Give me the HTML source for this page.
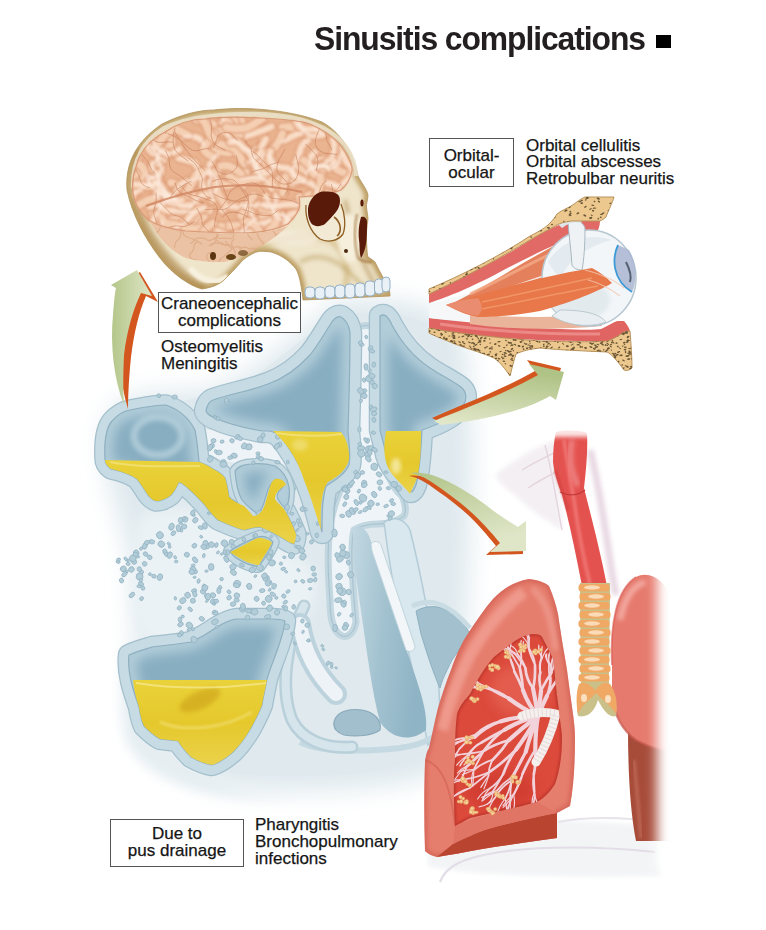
<!DOCTYPE html>
<html><head><meta charset="utf-8">
<style>
html,body{margin:0;padding:0;background:#fff;width:766px;height:930px;overflow:hidden}
body{position:relative;font-family:"Liberation Sans",sans-serif;color:#1a1a1a}
svg{position:absolute;left:0;top:0}
.t{position:absolute;white-space:nowrap;font-size:17px;line-height:16.8px;color:#151515;-webkit-text-stroke:0.25px #151515}
.box{position:absolute;border:1px solid #555;background:#fff;box-sizing:border-box}
.title{position:absolute;left:314px;top:21px;font-size:32.5px;font-weight:bold;letter-spacing:-1.1px;white-space:nowrap;color:#231f20;transform-origin:0 0;transform:scaleX(0.98)}
.sq{position:absolute;left:656px;top:35px;width:15px;height:13px;background:#000}
</style></head><body>
<svg id="art" width="766" height="930" viewBox="0 0 766 930">

<defs>
<filter id="blur2" x="-20%" y="-20%" width="140%" height="140%"><feGaussianBlur stdDeviation="2"/></filter>
<filter id="blur1"><feGaussianBlur stdDeviation="1"/></filter>
<filter id="blur6" x="-30%" y="-30%" width="160%" height="160%"><feGaussianBlur stdDeviation="6"/></filter>
<filter id="blur12" x="-30%" y="-30%" width="160%" height="160%"><feGaussianBlur stdDeviation="12"/></filter>
<linearGradient id="arrowG" x1="0" y1="0" x2="1" y2="0"><stop offset="0" stop-color="#b6c68c"/><stop offset="1" stop-color="#e3e8c8"/></linearGradient>
<linearGradient id="arrowG2" x1="0" y1="1" x2="0" y2="0"><stop offset="0" stop-color="#e0e6c4"/><stop offset="1" stop-color="#b4c48a"/></linearGradient>
<radialGradient id="cavG" cx="0.5" cy="0.5" r="0.65"><stop offset="0" stop-color="#b0cbd8"/><stop offset="0.6" stop-color="#98b9c9"/><stop offset="1" stop-color="#7fa6b9"/></radialGradient>
<linearGradient id="pusG" x1="0" y1="0" x2="0" y2="1"><stop offset="0" stop-color="#ead23a"/><stop offset="0.5" stop-color="#e5c82c"/><stop offset="1" stop-color="#ebd24a"/></linearGradient>
</defs>
<defs><radialGradient id="cavG2" cx="0.75" cy="0.6" r="0.75"><stop offset="0" stop-color="#84aabd"/><stop offset="0.55" stop-color="#98b9c9"/><stop offset="1" stop-color="#b2cbd7"/></radialGradient><linearGradient id="passG" x1="0" y1="0" x2="1" y2="0.3"><stop offset="0" stop-color="#c2d8e2"/><stop offset="0.5" stop-color="#a3c2d0"/><stop offset="1" stop-color="#8fb4c5"/></linearGradient></defs>
<g id="sinus">
<path d="M104,440 C102,412 120,398 145,394 C172,390 200,392 215,388 C260,370 300,330 335,302 C380,294 440,300 462,330 C474,380 474,460 470,540 C468,620 462,700 455,760 C430,790 330,794 240,790 C195,786 160,760 142,700 C134,650 132,600 130,560 C124,530 112,500 106,470 Z" fill="#dfe9ee" filter="url(#blur12)"/>
<path d="M125,420 C135,405 200,400 230,390 C270,372 300,335 340,315 C380,308 430,315 445,340 C455,380 455,460 450,540 C448,620 440,700 430,750 C400,775 330,778 250,775 C205,770 172,745 158,700 C150,650 146,600 144,560 C138,520 126,480 125,420 Z" fill="#dfe9ee"/>
<path d="M130,640 C150,720 190,780 250,792 L300,796 C220,800 150,790 125,740 C118,700 120,660 130,640 Z" fill="#e6eef2" filter="url(#blur6)"/>
<path d="M140,515 C165,505 200,508 230,522 C255,540 300,548 316,575 C320,608 300,636 270,644 C230,640 200,645 170,648 C150,648 138,636 135,610 C132,570 132,540 140,515 Z" fill="#ebf2f5" filter="url(#blur6)"/>
<path d="M205,430 C240,428 285,436 300,450 L302,480 C285,472 250,466 232,462 C220,460 210,456 205,450 Z" fill="#edf3f6"/>
<path d="M356,330 C360,324 372,324 378,330 L381,440 C384,470 392,488 402,496 C406,505 406,512 404,516 C396,522 386,524 378,524 C370,524 360,526 354,530 C350,545 352,580 356,622 C354,633 348,638 342,636 C334,632 330,622 330,600 C328,575 327,550 330,525 C334,505 338,495 345,480 C352,460 354,440 354,420 Z" fill="#eef4f7" stroke="#c2d7e0" stroke-width="7" stroke-linejoin="round"/>
<path d="M356,330 C360,324 372,324 378,330 L381,440 C384,470 392,488 402,496 C406,505 406,512 404,516 C396,522 386,524 378,524 C370,524 360,526 354,530 C350,545 352,580 356,622 C354,633 348,638 342,636 C334,632 330,622 330,600 C328,575 327,550 330,525 C334,505 338,495 345,480 C352,460 354,440 354,420 Z" fill="none" stroke="#a6c1cd" stroke-width="1"/>
<path d="M384,522 C394,516 404,518 410,530 C420,570 430,620 438,680 C442,712 438,735 428,745 C420,705 412,665 402,625 C394,590 388,556 384,522 Z" fill="#d9e8ee" stroke="#b3ccd8" stroke-width="1.5"/>
<path d="M353,530 C358,525 365,527 369,536 C381,570 396,620 410,660 C420,690 428,712 426,730 C412,742 392,740 380,722 C372,692 367,652 362,618 C358,588 352,558 353,530 Z" fill="url(#passG)"/>
<path d="M371,544 C374,540 379,541 381,545 L415,646 C415,651 410,653 406,650 L372,551 Z" fill="#f2f6f8" stroke="#c0d5de" stroke-width="1"/>
<path d="M416,611 C425,606 437,604 451,612 C460,618 466,626 470,634 L452,660 C446,672 442,680 440,688 C432,670 426,650 421,634 Z" fill="#a2c0ce" stroke="#8fb0c0" stroke-width="1"/>
<path d="M412,606 C430,598 448,602 470,628" fill="none" stroke="#c9dce4" stroke-width="5"/>
<path d="M334,722 C336,712 348,708 362,710 C374,712 382,720 380,730 C372,736 356,737 344,735 C337,733 333,728 334,722 Z" fill="#a1bfcd" stroke="#8aaabb" stroke-width="1.2"/>
<path d="M300,742 C320,752 360,752 400,748 C420,745 430,740 436,735" fill="none" stroke="#c5d9e2" stroke-width="6"/>
<path d="M304,606 C286,640 280,690 292,720 C302,740 325,749 352,747" fill="none" stroke="#b9d0da" stroke-width="13" stroke-linecap="round"/>
<path d="M304,606 C286,640 280,690 292,720 C302,740 325,749 352,747" fill="none" stroke="#d5e5eb" stroke-width="8" stroke-linecap="round"/>
<path d="M300,624 C304,652 318,676 336,694" fill="none" stroke="#bcd2dc" stroke-width="22" stroke-linecap="round"/>
<path d="M300,624 C304,652 318,676 336,694" fill="none" stroke="#edf3f6" stroke-width="14" stroke-linecap="round"/>
<clipPath id="cav1"><path d="M105,459 C104,440 106,428 112,421 C118,414 124,411 130,410 C145,407 155,405 166,405 C180,410 190,420 195,430 C197,440 198,450 199,462 C205,464 209,466 213,469 C219,472 223,475 225,478 C227,484 228,490 229,497 C234,502 240,504 244,506 C248,510 251,513 253,516 C256,516 258,515 260,513 C263,510 264,507 265,504 C267,498 268,492 270,487 C271,483 272,481 275,479 C280,478 285,481 286,485 C283,487 281,488 279,490 C276,493 275,496 275,499 C277,503 281,505 284,509 C289,517 293,526 296,534 C296,538 295,542 294,544 C290,543 287,541 284,539 C276,534 268,530 260,527 C254,527 249,529 244,530 C236,528 227,524 218,520 C212,515 208,509 204,504 C199,499 195,494 190,490 C186,486 182,483 179,482 C176,488 174,492 171,495 C166,499 160,501 156,501 C152,500 150,497 148,495 C144,489 141,484 137,479 C130,474 120,471 111,469 C107,466 105,463 105,459 Z"/></clipPath><path d="M105,459 C104,440 106,428 112,421 C118,414 124,411 130,410 C145,407 155,405 166,405 C180,410 190,420 195,430 C197,440 198,450 199,462 C205,464 209,466 213,469 C219,472 223,475 225,478 C227,484 228,490 229,497 C234,502 240,504 244,506 C248,510 251,513 253,516 C256,516 258,515 260,513 C263,510 264,507 265,504 C267,498 268,492 270,487 C271,483 272,481 275,479 C280,478 285,481 286,485 C283,487 281,488 279,490 C276,493 275,496 275,499 C277,503 281,505 284,509 C289,517 293,526 296,534 C296,538 295,542 294,544 C290,543 287,541 284,539 C276,534 268,530 260,527 C254,527 249,529 244,530 C236,528 227,524 218,520 C212,515 208,509 204,504 C199,499 195,494 190,490 C186,486 182,483 179,482 C176,488 174,492 171,495 C166,499 160,501 156,501 C152,500 150,497 148,495 C144,489 141,484 137,479 C130,474 120,471 111,469 C107,466 105,463 105,459 Z" fill="#c7dbe4" stroke="#a3bfcc" stroke-width="21.5" stroke-linejoin="round"/><path d="M105,459 C104,440 106,428 112,421 C118,414 124,411 130,410 C145,407 155,405 166,405 C180,410 190,420 195,430 C197,440 198,450 199,462 C205,464 209,466 213,469 C219,472 223,475 225,478 C227,484 228,490 229,497 C234,502 240,504 244,506 C248,510 251,513 253,516 C256,516 258,515 260,513 C263,510 264,507 265,504 C267,498 268,492 270,487 C271,483 272,481 275,479 C280,478 285,481 286,485 C283,487 281,488 279,490 C276,493 275,496 275,499 C277,503 281,505 284,509 C289,517 293,526 296,534 C296,538 295,542 294,544 C290,543 287,541 284,539 C276,534 268,530 260,527 C254,527 249,529 244,530 C236,528 227,524 218,520 C212,515 208,509 204,504 C199,499 195,494 190,490 C186,486 182,483 179,482 C176,488 174,492 171,495 C166,499 160,501 156,501 C152,500 150,497 148,495 C144,489 141,484 137,479 C130,474 120,471 111,469 C107,466 105,463 105,459 Z" fill="#c7dbe4" stroke="#c7dbe4" stroke-width="19" stroke-linejoin="round"/><path d="M105,459 C104,440 106,428 112,421 C118,414 124,411 130,410 C145,407 155,405 166,405 C180,410 190,420 195,430 C197,440 198,450 199,462 C205,464 209,466 213,469 C219,472 223,475 225,478 C227,484 228,490 229,497 C234,502 240,504 244,506 C248,510 251,513 253,516 C256,516 258,515 260,513 C263,510 264,507 265,504 C267,498 268,492 270,487 C271,483 272,481 275,479 C280,478 285,481 286,485 C283,487 281,488 279,490 C276,493 275,496 275,499 C277,503 281,505 284,509 C289,517 293,526 296,534 C296,538 295,542 294,544 C290,543 287,541 284,539 C276,534 268,530 260,527 C254,527 249,529 244,530 C236,528 227,524 218,520 C212,515 208,509 204,504 C199,499 195,494 190,490 C186,486 182,483 179,482 C176,488 174,492 171,495 C166,499 160,501 156,501 C152,500 150,497 148,495 C144,489 141,484 137,479 C130,474 120,471 111,469 C107,466 105,463 105,459 Z" fill="#88aec1"/><g clip-path="url(#cav1)"><path d="M105,459 C104,440 106,428 112,421 C118,414 124,411 130,410 C145,407 155,405 166,405 C180,410 190,420 195,430 C197,440 198,450 199,462 C205,464 209,466 213,469 C219,472 223,475 225,478 C227,484 228,490 229,497 C234,502 240,504 244,506 C248,510 251,513 253,516 C256,516 258,515 260,513 C263,510 264,507 265,504 C267,498 268,492 270,487 C271,483 272,481 275,479 C280,478 285,481 286,485 C283,487 281,488 279,490 C276,493 275,496 275,499 C277,503 281,505 284,509 C289,517 293,526 296,534 C296,538 295,542 294,544 C290,543 287,541 284,539 C276,534 268,530 260,527 C254,527 249,529 244,530 C236,528 227,524 218,520 C212,515 208,509 204,504 C199,499 195,494 190,490 C186,486 182,483 179,482 C176,488 174,492 171,495 C166,499 160,501 156,501 C152,500 150,497 148,495 C144,489 141,484 137,479 C130,474 120,471 111,469 C107,466 105,463 105,459 Z" fill="none" stroke="#b3ceda" stroke-width="16" filter="url(#blur6)"/></g><path d="M105,459 C104,440 106,428 112,421 C118,414 124,411 130,410 C145,407 155,405 166,405 C180,410 190,420 195,430 C197,440 198,450 199,462 C205,464 209,466 213,469 C219,472 223,475 225,478 C227,484 228,490 229,497 C234,502 240,504 244,506 C248,510 251,513 253,516 C256,516 258,515 260,513 C263,510 264,507 265,504 C267,498 268,492 270,487 C271,483 272,481 275,479 C280,478 285,481 286,485 C283,487 281,488 279,490 C276,493 275,496 275,499 C277,503 281,505 284,509 C289,517 293,526 296,534 C296,538 295,542 294,544 C290,543 287,541 284,539 C276,534 268,530 260,527 C254,527 249,529 244,530 C236,528 227,524 218,520 C212,515 208,509 204,504 C199,499 195,494 190,490 C186,486 182,483 179,482 C176,488 174,492 171,495 C166,499 160,501 156,501 C152,500 150,497 148,495 C144,489 141,484 137,479 C130,474 120,471 111,469 C107,466 105,463 105,459 Z" fill="none" stroke="#8fb0c0" stroke-width="1.2"/>
<ellipse cx="158" cy="436" rx="24" ry="19" fill="none" stroke="#b9d3de" stroke-width="7" opacity="0.75" filter="url(#blur2)"/>
<clipPath id="cav2"><path d="M235,471 C238,466 246,464 251,464 C260,463 268,464 275,466 C282,470 287,476 289,487 C290,495 289,502 286,509 C283,506 281,504 279,501 C276,497 277,492 281,489 C285,486 284,480 276,479 C271,482 268,488 266,496 C264,504 262,510 258,514 C252,510 246,505 242,500 C238,493 236,484 235,471 Z"/></clipPath><path d="M235,471 C238,466 246,464 251,464 C260,463 268,464 275,466 C282,470 287,476 289,487 C290,495 289,502 286,509 C283,506 281,504 279,501 C276,497 277,492 281,489 C285,486 284,480 276,479 C271,482 268,488 266,496 C264,504 262,510 258,514 C252,510 246,505 242,500 C238,493 236,484 235,471 Z" fill="#c7dbe4" stroke="#a3bfcc" stroke-width="11.5" stroke-linejoin="round"/><path d="M235,471 C238,466 246,464 251,464 C260,463 268,464 275,466 C282,470 287,476 289,487 C290,495 289,502 286,509 C283,506 281,504 279,501 C276,497 277,492 281,489 C285,486 284,480 276,479 C271,482 268,488 266,496 C264,504 262,510 258,514 C252,510 246,505 242,500 C238,493 236,484 235,471 Z" fill="#c7dbe4" stroke="#c7dbe4" stroke-width="9" stroke-linejoin="round"/><path d="M235,471 C238,466 246,464 251,464 C260,463 268,464 275,466 C282,470 287,476 289,487 C290,495 289,502 286,509 C283,506 281,504 279,501 C276,497 277,492 281,489 C285,486 284,480 276,479 C271,482 268,488 266,496 C264,504 262,510 258,514 C252,510 246,505 242,500 C238,493 236,484 235,471 Z" fill="#88aec1"/><g clip-path="url(#cav2)"><path d="M235,471 C238,466 246,464 251,464 C260,463 268,464 275,466 C282,470 287,476 289,487 C290,495 289,502 286,509 C283,506 281,504 279,501 C276,497 277,492 281,489 C285,486 284,480 276,479 C271,482 268,488 266,496 C264,504 262,510 258,514 C252,510 246,505 242,500 C238,493 236,484 235,471 Z" fill="none" stroke="#b3ceda" stroke-width="16" filter="url(#blur6)"/></g><path d="M235,471 C238,466 246,464 251,464 C260,463 268,464 275,466 C282,470 287,476 289,487 C290,495 289,502 286,509 C283,506 281,504 279,501 C276,497 277,492 281,489 C285,486 284,480 276,479 C271,482 268,488 266,496 C264,504 262,510 258,514 C252,510 246,505 242,500 C238,493 236,484 235,471 Z" fill="none" stroke="#8fb0c0" stroke-width="1.2"/>
<clipPath id="cav3"><path d="M230,551 C238,545 250,540 258,537 C264,535 270,538 273,542 C271,550 265,558 259,566 C252,567 244,563 236,558 C233,556 231,553 230,551 Z"/></clipPath><path d="M230,551 C238,545 250,540 258,537 C264,535 270,538 273,542 C271,550 265,558 259,566 C252,567 244,563 236,558 C233,556 231,553 230,551 Z" fill="#c7dbe4" stroke="#a3bfcc" stroke-width="13.5" stroke-linejoin="round"/><path d="M230,551 C238,545 250,540 258,537 C264,535 270,538 273,542 C271,550 265,558 259,566 C252,567 244,563 236,558 C233,556 231,553 230,551 Z" fill="#c7dbe4" stroke="#c7dbe4" stroke-width="11" stroke-linejoin="round"/><path d="M230,551 C238,545 250,540 258,537 C264,535 270,538 273,542 C271,550 265,558 259,566 C252,567 244,563 236,558 C233,556 231,553 230,551 Z" fill="#88aec1"/><g clip-path="url(#cav3)"><path d="M230,551 C238,545 250,540 258,537 C264,535 270,538 273,542 C271,550 265,558 259,566 C252,567 244,563 236,558 C233,556 231,553 230,551 Z" fill="none" stroke="#b3ceda" stroke-width="16" filter="url(#blur6)"/></g><path d="M230,551 C238,545 250,540 258,537 C264,535 270,538 273,542 C271,550 265,558 259,566 C252,567 244,563 236,558 C233,556 231,553 230,551 Z" fill="none" stroke="#8fb0c0" stroke-width="1.2"/>
<clipPath id="cav4"><path d="M206,411 C207,405 210,401 213,400 C230,394 250,391 268,384 C285,378 300,366 310,355 C318,345 324,334 330,325 C334,318 338,316 341,317 C346,320 349,325 350,333 C350,360 349,400 348,431 C349,445 351,455 349,465 C345,474 336,480 326,486 C322,500 322,515 322,532 C318,515 314,498 306,480 C300,466 292,450 280,436 C276,433 272,431 268,431 L262,431 C245,428 228,424 215,418 C210,416 207,414 206,411 Z"/></clipPath><path d="M206,411 C207,405 210,401 213,400 C230,394 250,391 268,384 C285,378 300,366 310,355 C318,345 324,334 330,325 C334,318 338,316 341,317 C346,320 349,325 350,333 C350,360 349,400 348,431 C349,445 351,455 349,465 C345,474 336,480 326,486 C322,500 322,515 322,532 C318,515 314,498 306,480 C300,466 292,450 280,436 C276,433 272,431 268,431 L262,431 C245,428 228,424 215,418 C210,416 207,414 206,411 Z" fill="#c7dbe4" stroke="#a3bfcc" stroke-width="24.5" stroke-linejoin="round"/><path d="M206,411 C207,405 210,401 213,400 C230,394 250,391 268,384 C285,378 300,366 310,355 C318,345 324,334 330,325 C334,318 338,316 341,317 C346,320 349,325 350,333 C350,360 349,400 348,431 C349,445 351,455 349,465 C345,474 336,480 326,486 C322,500 322,515 322,532 C318,515 314,498 306,480 C300,466 292,450 280,436 C276,433 272,431 268,431 L262,431 C245,428 228,424 215,418 C210,416 207,414 206,411 Z" fill="#c7dbe4" stroke="#c7dbe4" stroke-width="22" stroke-linejoin="round"/><path d="M206,411 C207,405 210,401 213,400 C230,394 250,391 268,384 C285,378 300,366 310,355 C318,345 324,334 330,325 C334,318 338,316 341,317 C346,320 349,325 350,333 C350,360 349,400 348,431 C349,445 351,455 349,465 C345,474 336,480 326,486 C322,500 322,515 322,532 C318,515 314,498 306,480 C300,466 292,450 280,436 C276,433 272,431 268,431 L262,431 C245,428 228,424 215,418 C210,416 207,414 206,411 Z" fill="#88aec1"/><g clip-path="url(#cav4)"><path d="M206,411 C207,405 210,401 213,400 C230,394 250,391 268,384 C285,378 300,366 310,355 C318,345 324,334 330,325 C334,318 338,316 341,317 C346,320 349,325 350,333 C350,360 349,400 348,431 C349,445 351,455 349,465 C345,474 336,480 326,486 C322,500 322,515 322,532 C318,515 314,498 306,480 C300,466 292,450 280,436 C276,433 272,431 268,431 L262,431 C245,428 228,424 215,418 C210,416 207,414 206,411 Z" fill="none" stroke="#b3ceda" stroke-width="16" filter="url(#blur6)"/></g><path d="M206,411 C207,405 210,401 213,400 C230,394 250,391 268,384 C285,378 300,366 310,355 C318,345 324,334 330,325 C334,318 338,316 341,317 C346,320 349,325 350,333 C350,360 349,400 348,431 C349,445 351,455 349,465 C345,474 336,480 326,486 C322,500 322,515 322,532 C318,515 314,498 306,480 C300,466 292,450 280,436 C276,433 272,431 268,431 L262,431 C245,428 228,424 215,418 C210,416 207,414 206,411 Z" fill="none" stroke="#8fb0c0" stroke-width="1.2"/>
<clipPath id="cav5"><path d="M380,316 C384,313 388,316 392,325 C400,340 412,356 430,368 C442,376 455,382 462,388 C467,393 467,400 463,406 C455,416 440,424 422,430 C421,450 420,470 416,485 C414,490 412,492 411,492 C406,485 402,478 395,472 C390,465 386,458 385,450 C383,440 381,435 380,430 Z"/></clipPath><path d="M380,316 C384,313 388,316 392,325 C400,340 412,356 430,368 C442,376 455,382 462,388 C467,393 467,400 463,406 C455,416 440,424 422,430 C421,450 420,470 416,485 C414,490 412,492 411,492 C406,485 402,478 395,472 C390,465 386,458 385,450 C383,440 381,435 380,430 Z" fill="#c7dbe4" stroke="#a3bfcc" stroke-width="22.5" stroke-linejoin="round"/><path d="M380,316 C384,313 388,316 392,325 C400,340 412,356 430,368 C442,376 455,382 462,388 C467,393 467,400 463,406 C455,416 440,424 422,430 C421,450 420,470 416,485 C414,490 412,492 411,492 C406,485 402,478 395,472 C390,465 386,458 385,450 C383,440 381,435 380,430 Z" fill="#c7dbe4" stroke="#c7dbe4" stroke-width="20" stroke-linejoin="round"/><path d="M380,316 C384,313 388,316 392,325 C400,340 412,356 430,368 C442,376 455,382 462,388 C467,393 467,400 463,406 C455,416 440,424 422,430 C421,450 420,470 416,485 C414,490 412,492 411,492 C406,485 402,478 395,472 C390,465 386,458 385,450 C383,440 381,435 380,430 Z" fill="#88aec1"/><g clip-path="url(#cav5)"><path d="M380,316 C384,313 388,316 392,325 C400,340 412,356 430,368 C442,376 455,382 462,388 C467,393 467,400 463,406 C455,416 440,424 422,430 C421,450 420,470 416,485 C414,490 412,492 411,492 C406,485 402,478 395,472 C390,465 386,458 385,450 C383,440 381,435 380,430 Z" fill="none" stroke="#b3ceda" stroke-width="16" filter="url(#blur6)"/></g><path d="M380,316 C384,313 388,316 392,325 C400,340 412,356 430,368 C442,376 455,382 462,388 C467,393 467,400 463,406 C455,416 440,424 422,430 C421,450 420,470 416,485 C414,490 412,492 411,492 C406,485 402,478 395,472 C390,465 386,458 385,450 C383,440 381,435 380,430 Z" fill="none" stroke="#8fb0c0" stroke-width="1.2"/>
<clipPath id="cav6"><path d="M129,655 C140,650 150,648 152,647 C170,645 185,643 191,642 C200,638 210,632 217,627 C225,622 230,620 236,619 C250,619 262,619 272,619 C278,619 283,620 285,621 C284,630 282,636 280,642 C276,655 270,668 267,679 C265,690 263,698 262,705 C258,715 254,722 251,728 C245,738 240,745 233,752 C226,758 219,763 212,765 C205,764 198,761 191,757 C186,752 181,746 178,741 C172,740 166,740 160,739 C153,735 148,730 144,726 C141,720 140,713 139,707 C136,698 133,690 131,681 C129,672 128,663 129,655 Z"/></clipPath><path d="M129,655 C140,650 150,648 152,647 C170,645 185,643 191,642 C200,638 210,632 217,627 C225,622 230,620 236,619 C250,619 262,619 272,619 C278,619 283,620 285,621 C284,630 282,636 280,642 C276,655 270,668 267,679 C265,690 263,698 262,705 C258,715 254,722 251,728 C245,738 240,745 233,752 C226,758 219,763 212,765 C205,764 198,761 191,757 C186,752 181,746 178,741 C172,740 166,740 160,739 C153,735 148,730 144,726 C141,720 140,713 139,707 C136,698 133,690 131,681 C129,672 128,663 129,655 Z" fill="#c7dbe4" stroke="#a3bfcc" stroke-width="22.5" stroke-linejoin="round"/><path d="M129,655 C140,650 150,648 152,647 C170,645 185,643 191,642 C200,638 210,632 217,627 C225,622 230,620 236,619 C250,619 262,619 272,619 C278,619 283,620 285,621 C284,630 282,636 280,642 C276,655 270,668 267,679 C265,690 263,698 262,705 C258,715 254,722 251,728 C245,738 240,745 233,752 C226,758 219,763 212,765 C205,764 198,761 191,757 C186,752 181,746 178,741 C172,740 166,740 160,739 C153,735 148,730 144,726 C141,720 140,713 139,707 C136,698 133,690 131,681 C129,672 128,663 129,655 Z" fill="#c7dbe4" stroke="#c7dbe4" stroke-width="20" stroke-linejoin="round"/><path d="M129,655 C140,650 150,648 152,647 C170,645 185,643 191,642 C200,638 210,632 217,627 C225,622 230,620 236,619 C250,619 262,619 272,619 C278,619 283,620 285,621 C284,630 282,636 280,642 C276,655 270,668 267,679 C265,690 263,698 262,705 C258,715 254,722 251,728 C245,738 240,745 233,752 C226,758 219,763 212,765 C205,764 198,761 191,757 C186,752 181,746 178,741 C172,740 166,740 160,739 C153,735 148,730 144,726 C141,720 140,713 139,707 C136,698 133,690 131,681 C129,672 128,663 129,655 Z" fill="#88aec1"/><g clip-path="url(#cav6)"><path d="M129,655 C140,650 150,648 152,647 C170,645 185,643 191,642 C200,638 210,632 217,627 C225,622 230,620 236,619 C250,619 262,619 272,619 C278,619 283,620 285,621 C284,630 282,636 280,642 C276,655 270,668 267,679 C265,690 263,698 262,705 C258,715 254,722 251,728 C245,738 240,745 233,752 C226,758 219,763 212,765 C205,764 198,761 191,757 C186,752 181,746 178,741 C172,740 166,740 160,739 C153,735 148,730 144,726 C141,720 140,713 139,707 C136,698 133,690 131,681 C129,672 128,663 129,655 Z" fill="none" stroke="#b3ceda" stroke-width="16" filter="url(#blur6)"/></g><path d="M129,655 C140,650 150,648 152,647 C170,645 185,643 191,642 C200,638 210,632 217,627 C225,622 230,620 236,619 C250,619 262,619 272,619 C278,619 283,620 285,621 C284,630 282,636 280,642 C276,655 270,668 267,679 C265,690 263,698 262,705 C258,715 254,722 251,728 C245,738 240,745 233,752 C226,758 219,763 212,765 C205,764 198,761 191,757 C186,752 181,746 178,741 C172,740 166,740 160,739 C153,735 148,730 144,726 C141,720 140,713 139,707 C136,698 133,690 131,681 C129,672 128,663 129,655 Z" fill="none" stroke="#8fb0c0" stroke-width="1.2"/>
<g fill="#b2ccd8" stroke="#8fb0c0" stroke-width="0.7"><ellipse cx="242.6" cy="608.9" rx="3.2" ry="3.1" transform="rotate(133 242.6 608.9)"/><ellipse cx="302.5" cy="509.1" rx="2.5" ry="2.4" transform="rotate(117 302.5 509.1)"/><ellipse cx="298.2" cy="520.8" rx="2.5" ry="1.7" transform="rotate(98 298.2 520.8)"/><ellipse cx="161.3" cy="544.1" rx="3.4" ry="3.1" transform="rotate(29 161.3 544.1)"/><ellipse cx="159.9" cy="535.2" rx="3.6" ry="3.4" transform="rotate(52 159.9 535.2)"/><ellipse cx="310.3" cy="580.5" rx="2.9" ry="2.0" transform="rotate(169 310.3 580.5)"/><ellipse cx="296.7" cy="546.8" rx="2.3" ry="1.5" transform="rotate(26 296.7 546.8)"/><ellipse cx="180.0" cy="619.6" rx="2.5" ry="1.8" transform="rotate(87 180.0 619.6)"/><ellipse cx="258.9" cy="513.0" rx="3.5" ry="2.2" transform="rotate(135 258.9 513.0)"/><ellipse cx="287.0" cy="507.5" rx="3.2" ry="2.4" transform="rotate(104 287.0 507.5)"/><ellipse cx="186.9" cy="554.7" rx="2.6" ry="2.4" transform="rotate(19 186.9 554.7)"/><ellipse cx="267.7" cy="616.6" rx="3.3" ry="2.0" transform="rotate(170 267.7 616.6)"/><ellipse cx="136.2" cy="552.7" rx="2.8" ry="2.7" transform="rotate(61 136.2 552.7)"/><ellipse cx="302.8" cy="581.3" rx="2.2" ry="1.6" transform="rotate(32 302.8 581.3)"/><ellipse cx="315.3" cy="579.7" rx="2.4" ry="1.6" transform="rotate(107 315.3 579.7)"/><ellipse cx="283.3" cy="568.8" rx="2.4" ry="1.5" transform="rotate(165 283.3 568.8)"/><ellipse cx="124.5" cy="574.1" rx="3.3" ry="2.1" transform="rotate(132 124.5 574.1)"/><ellipse cx="204.9" cy="525.9" rx="3.3" ry="2.4" transform="rotate(82 204.9 525.9)"/><ellipse cx="313.2" cy="568.5" rx="2.5" ry="2.3" transform="rotate(86 313.2 568.5)"/><ellipse cx="176.2" cy="561.5" rx="1.8" ry="1.4" transform="rotate(178 176.2 561.5)"/><ellipse cx="217.9" cy="552.4" rx="1.7" ry="1.2" transform="rotate(141 217.9 552.4)"/><ellipse cx="291.5" cy="555.6" rx="3.2" ry="2.9" transform="rotate(125 291.5 555.6)"/><ellipse cx="250.8" cy="611.3" rx="2.3" ry="2.0" transform="rotate(51 250.8 611.3)"/><ellipse cx="215.1" cy="612.8" rx="3.0" ry="2.1" transform="rotate(170 215.1 612.8)"/><ellipse cx="247.9" cy="586.3" rx="1.5" ry="1.2" transform="rotate(45 247.9 586.3)"/><ellipse cx="252.3" cy="569.8" rx="3.2" ry="2.8" transform="rotate(144 252.3 569.8)"/><ellipse cx="187.6" cy="595.2" rx="3.0" ry="2.8" transform="rotate(63 187.6 595.2)"/><ellipse cx="286.6" cy="626.8" rx="2.9" ry="2.9" transform="rotate(172 286.6 626.8)"/><ellipse cx="221.6" cy="579.1" rx="1.8" ry="1.7" transform="rotate(169 221.6 579.1)"/><ellipse cx="213.4" cy="601.8" rx="3.0" ry="2.7" transform="rotate(31 213.4 601.8)"/><ellipse cx="274.1" cy="586.3" rx="2.9" ry="2.2" transform="rotate(112 274.1 586.3)"/><ellipse cx="272.9" cy="594.2" rx="3.0" ry="1.8" transform="rotate(29 272.9 594.2)"/><ellipse cx="206.2" cy="596.0" rx="2.0" ry="1.7" transform="rotate(114 206.2 596.0)"/><ellipse cx="126.4" cy="571.0" rx="2.0" ry="1.2" transform="rotate(24 126.4 571.0)"/><ellipse cx="181.5" cy="530.4" rx="1.9" ry="1.2" transform="rotate(84 181.5 530.4)"/><ellipse cx="194.1" cy="590.7" rx="2.7" ry="1.9" transform="rotate(163 194.1 590.7)"/><ellipse cx="118.1" cy="561.8" rx="2.1" ry="1.6" transform="rotate(21 118.1 561.8)"/><ellipse cx="284.3" cy="557.3" rx="1.6" ry="1.3" transform="rotate(17 284.3 557.3)"/><ellipse cx="227.0" cy="552.5" rx="2.7" ry="2.7" transform="rotate(147 227.0 552.5)"/><ellipse cx="201.8" cy="618.8" rx="2.8" ry="2.1" transform="rotate(26 201.8 618.8)"/><ellipse cx="237.2" cy="583.9" rx="3.5" ry="3.5" transform="rotate(110 237.2 583.9)"/><ellipse cx="188.2" cy="630.1" rx="1.5" ry="1.0" transform="rotate(102 188.2 630.1)"/><ellipse cx="193.2" cy="565.4" rx="2.0" ry="1.4" transform="rotate(175 193.2 565.4)"/><ellipse cx="194.0" cy="639.6" rx="3.4" ry="2.9" transform="rotate(47 194.0 639.6)"/><ellipse cx="314.2" cy="574.5" rx="2.4" ry="1.7" transform="rotate(177 314.2 574.5)"/><ellipse cx="216.4" cy="545.1" rx="2.5" ry="1.6" transform="rotate(112 216.4 545.1)"/><ellipse cx="206.7" cy="546.0" rx="3.1" ry="2.9" transform="rotate(2 206.7 546.0)"/><ellipse cx="224.5" cy="543.3" rx="3.5" ry="3.2" transform="rotate(44 224.5 543.3)"/><ellipse cx="171.5" cy="526.7" rx="3.6" ry="2.6" transform="rotate(109 171.5 526.7)"/><ellipse cx="212.9" cy="595.3" rx="2.8" ry="2.5" transform="rotate(21 212.9 595.3)"/><ellipse cx="224.7" cy="552.1" rx="2.1" ry="1.7" transform="rotate(84 224.7 552.1)"/><ellipse cx="190.2" cy="609.3" rx="2.7" ry="1.7" transform="rotate(45 190.2 609.3)"/><ellipse cx="295.6" cy="581.4" rx="1.5" ry="1.4" transform="rotate(77 295.6 581.4)"/><ellipse cx="233.1" cy="604.1" rx="2.8" ry="2.2" transform="rotate(164 233.1 604.1)"/><ellipse cx="195.1" cy="559.9" rx="3.3" ry="2.2" transform="rotate(53 195.1 559.9)"/><ellipse cx="285.3" cy="602.2" rx="2.4" ry="1.7" transform="rotate(141 285.3 602.2)"/><ellipse cx="300.1" cy="525.0" rx="2.5" ry="2.1" transform="rotate(90 300.1 525.0)"/><ellipse cx="184.1" cy="526.5" rx="2.7" ry="2.5" transform="rotate(12 184.1 526.5)"/><ellipse cx="276.4" cy="597.9" rx="1.6" ry="1.4" transform="rotate(176 276.4 597.9)"/><ellipse cx="144.9" cy="545.9" rx="3.4" ry="2.3" transform="rotate(110 144.9 545.9)"/><ellipse cx="200.8" cy="527.6" rx="2.8" ry="1.7" transform="rotate(19 200.8 527.6)"/><ellipse cx="193.8" cy="515.1" rx="1.6" ry="1.3" transform="rotate(134 193.8 515.1)"/><ellipse cx="293.7" cy="523.8" rx="2.4" ry="1.7" transform="rotate(108 293.7 523.8)"/><ellipse cx="192.8" cy="512.8" rx="3.0" ry="2.0" transform="rotate(114 192.8 512.8)"/><ellipse cx="229.0" cy="591.9" rx="2.1" ry="1.7" transform="rotate(46 229.0 591.9)"/><ellipse cx="268.1" cy="577.4" rx="1.8" ry="1.2" transform="rotate(67 268.1 577.4)"/><ellipse cx="265.4" cy="530.1" rx="3.0" ry="2.6" transform="rotate(15 265.4 530.1)"/><ellipse cx="143.0" cy="588.2" rx="2.0" ry="1.9" transform="rotate(86 143.0 588.2)"/><ellipse cx="182.7" cy="616.5" rx="1.6" ry="1.4" transform="rotate(10 182.7 616.5)"/><ellipse cx="254.2" cy="536.2" rx="1.7" ry="1.7" transform="rotate(120 254.2 536.2)"/><ellipse cx="165.0" cy="551.7" rx="2.8" ry="2.1" transform="rotate(69 165.0 551.7)"/><ellipse cx="247.6" cy="617.6" rx="2.4" ry="2.3" transform="rotate(93 247.6 617.6)"/><ellipse cx="236.5" cy="585.3" rx="3.1" ry="2.3" transform="rotate(17 236.5 585.3)"/><ellipse cx="214.2" cy="611.4" rx="1.5" ry="1.2" transform="rotate(160 214.2 611.4)"/><ellipse cx="241.9" cy="565.0" rx="2.5" ry="1.6" transform="rotate(28 241.9 565.0)"/><ellipse cx="149.8" cy="557.4" rx="2.3" ry="2.2" transform="rotate(27 149.8 557.4)"/><ellipse cx="168.8" cy="543.8" rx="1.8" ry="1.3" transform="rotate(42 168.8 543.8)"/><ellipse cx="302.9" cy="556.7" rx="3.5" ry="3.0" transform="rotate(121 302.9 556.7)"/><ellipse cx="141.6" cy="598.6" rx="2.1" ry="1.8" transform="rotate(131 141.6 598.6)"/><ellipse cx="133.6" cy="561.1" rx="3.5" ry="2.6" transform="rotate(56 133.6 561.1)"/><ellipse cx="211.6" cy="544.6" rx="3.0" ry="2.7" transform="rotate(29 211.6 544.6)"/><ellipse cx="273.9" cy="562.4" rx="1.6" ry="1.3" transform="rotate(178 273.9 562.4)"/><ellipse cx="221.8" cy="554.0" rx="1.7" ry="1.1" transform="rotate(162 221.8 554.0)"/><ellipse cx="128.1" cy="560.6" rx="1.6" ry="1.1" transform="rotate(73 128.1 560.6)"/><ellipse cx="153.9" cy="576.2" rx="2.3" ry="1.9" transform="rotate(15 153.9 576.2)"/><ellipse cx="180.8" cy="520.1" rx="2.6" ry="2.6" transform="rotate(108 180.8 520.1)"/><ellipse cx="121.5" cy="580.5" rx="2.5" ry="2.1" transform="rotate(68 121.5 580.5)"/><ellipse cx="243.0" cy="606.6" rx="3.4" ry="2.5" transform="rotate(81 243.0 606.6)"/><ellipse cx="141.1" cy="548.6" rx="1.7" ry="1.5" transform="rotate(147 141.1 548.6)"/><ellipse cx="180.6" cy="523.2" rx="1.7" ry="1.2" transform="rotate(15 180.6 523.2)"/><ellipse cx="203.7" cy="585.8" rx="2.0" ry="1.3" transform="rotate(126 203.7 585.8)"/><ellipse cx="175.2" cy="557.3" rx="1.7" ry="1.3" transform="rotate(57 175.2 557.3)"/><ellipse cx="268.5" cy="582.9" rx="3.4" ry="2.9" transform="rotate(137 268.5 582.9)"/><ellipse cx="232.9" cy="566.9" rx="3.2" ry="2.8" transform="rotate(172 232.9 566.9)"/><ellipse cx="263.6" cy="603.2" rx="2.1" ry="1.9" transform="rotate(69 263.6 603.2)"/><ellipse cx="151.9" cy="541.8" rx="2.9" ry="2.1" transform="rotate(11 151.9 541.8)"/><ellipse cx="270.8" cy="583.0" rx="1.6" ry="1.0" transform="rotate(23 270.8 583.0)"/><ellipse cx="189.4" cy="625.4" rx="3.5" ry="3.0" transform="rotate(42 189.4 625.4)"/><ellipse cx="203.8" cy="555.7" rx="2.2" ry="1.3" transform="rotate(105 203.8 555.7)"/><ellipse cx="283.4" cy="606.8" rx="1.7" ry="1.4" transform="rotate(31 283.4 606.8)"/><ellipse cx="259.9" cy="567.5" rx="3.5" ry="3.2" transform="rotate(21 259.9 567.5)"/><ellipse cx="181.4" cy="633.1" rx="2.5" ry="1.9" transform="rotate(79 181.4 633.1)"/><ellipse cx="280.9" cy="563.7" rx="1.6" ry="1.6" transform="rotate(6 280.9 563.7)"/><ellipse cx="233.4" cy="572.5" rx="3.4" ry="2.5" transform="rotate(39 233.4 572.5)"/><ellipse cx="173.4" cy="533.2" rx="2.7" ry="2.0" transform="rotate(135 173.4 533.2)"/><ellipse cx="166.3" cy="554.2" rx="2.0" ry="2.0" transform="rotate(151 166.3 554.2)"/><ellipse cx="288.0" cy="591.5" rx="2.3" ry="1.5" transform="rotate(150 288.0 591.5)"/><ellipse cx="182.8" cy="600.6" rx="3.3" ry="2.8" transform="rotate(144 182.8 600.6)"/><ellipse cx="220.3" cy="587.1" rx="1.9" ry="1.4" transform="rotate(57 220.3 587.1)"/><ellipse cx="194.6" cy="571.7" rx="3.0" ry="2.3" transform="rotate(177 194.6 571.7)"/><ellipse cx="256.6" cy="598.8" rx="2.6" ry="2.4" transform="rotate(65 256.6 598.8)"/><ellipse cx="236.7" cy="600.1" rx="2.6" ry="1.9" transform="rotate(14 236.7 600.1)"/><ellipse cx="135.5" cy="554.8" rx="2.7" ry="2.5" transform="rotate(129 135.5 554.8)"/><ellipse cx="179.4" cy="635.1" rx="2.1" ry="1.8" transform="rotate(13 179.4 635.1)"/><ellipse cx="268.7" cy="598.8" rx="3.5" ry="3.4" transform="rotate(124 268.7 598.8)"/><ellipse cx="285.7" cy="608.4" rx="2.8" ry="1.9" transform="rotate(93 285.7 608.4)"/><ellipse cx="297.2" cy="538.5" rx="3.5" ry="2.9" transform="rotate(71 297.2 538.5)"/><ellipse cx="118.6" cy="559.6" rx="1.9" ry="1.6" transform="rotate(162 118.6 559.6)"/><ellipse cx="195.3" cy="520.2" rx="2.9" ry="2.4" transform="rotate(129 195.3 520.2)"/><ellipse cx="192.8" cy="629.1" rx="1.9" ry="1.4" transform="rotate(48 192.8 629.1)"/><ellipse cx="271.3" cy="536.5" rx="1.6" ry="1.3" transform="rotate(149 271.3 536.5)"/><ellipse cx="293.7" cy="606.9" rx="2.4" ry="1.8" transform="rotate(95 293.7 606.9)"/><ellipse cx="298.9" cy="547.3" rx="2.1" ry="1.8" transform="rotate(174 298.9 547.3)"/><ellipse cx="141.1" cy="583.8" rx="2.8" ry="1.9" transform="rotate(34 141.1 583.8)"/><ellipse cx="236.9" cy="595.5" rx="2.9" ry="2.6" transform="rotate(11 236.9 595.5)"/><ellipse cx="214.9" cy="621.8" rx="3.5" ry="2.6" transform="rotate(153 214.9 621.8)"/><ellipse cx="286.1" cy="571.7" rx="1.7" ry="1.2" transform="rotate(28 286.1 571.7)"/><ellipse cx="269.6" cy="608.1" rx="3.2" ry="3.0" transform="rotate(128 269.6 608.1)"/><ellipse cx="192.9" cy="569.2" rx="2.9" ry="2.6" transform="rotate(15 192.9 569.2)"/><ellipse cx="198.6" cy="581.1" rx="2.3" ry="1.5" transform="rotate(107 198.6 581.1)"/><ellipse cx="192.9" cy="600.7" rx="2.5" ry="2.5" transform="rotate(170 192.9 600.7)"/><ellipse cx="141.4" cy="572.1" rx="2.2" ry="2.0" transform="rotate(165 141.4 572.1)"/><ellipse cx="194.4" cy="545.7" rx="2.5" ry="2.2" transform="rotate(142 194.4 545.7)"/><ellipse cx="233.1" cy="546.4" rx="2.2" ry="2.1" transform="rotate(93 233.1 546.4)"/><ellipse cx="128.1" cy="563.9" rx="2.0" ry="1.7" transform="rotate(13 128.1 563.9)"/><ellipse cx="226.3" cy="559.1" rx="3.5" ry="2.2" transform="rotate(64 226.3 559.1)"/><ellipse cx="271.2" cy="555.5" rx="1.5" ry="1.1" transform="rotate(82 271.2 555.5)"/><ellipse cx="194.6" cy="577.3" rx="1.6" ry="1.1" transform="rotate(175 194.6 577.3)"/><ellipse cx="206.5" cy="571.1" rx="1.7" ry="1.2" transform="rotate(172 206.5 571.1)"/><ellipse cx="255.4" cy="576.1" rx="1.6" ry="1.2" transform="rotate(140 255.4 576.1)"/><ellipse cx="204.9" cy="588.1" rx="3.4" ry="2.9" transform="rotate(114 204.9 588.1)"/><ellipse cx="271.9" cy="562.9" rx="3.3" ry="3.1" transform="rotate(165 271.9 562.9)"/><ellipse cx="316.8" cy="535.3" rx="2.4" ry="1.7" transform="rotate(85 316.8 535.3)"/><ellipse cx="175.3" cy="598.3" rx="1.8" ry="1.2" transform="rotate(82 175.3 598.3)"/><ellipse cx="132.8" cy="558.4" rx="3.4" ry="3.2" transform="rotate(35 132.8 558.4)"/><ellipse cx="310.2" cy="588.8" rx="1.8" ry="1.2" transform="rotate(166 310.2 588.8)"/><ellipse cx="305.5" cy="509.4" rx="1.9" ry="1.5" transform="rotate(48 305.5 509.4)"/><ellipse cx="268.8" cy="557.2" rx="3.1" ry="2.1" transform="rotate(93 268.8 557.2)"/><ellipse cx="191.7" cy="571.9" rx="2.7" ry="2.7" transform="rotate(43 191.7 571.9)"/><ellipse cx="231.7" cy="541.8" rx="2.6" ry="2.4" transform="rotate(24 231.7 541.8)"/><ellipse cx="214.2" cy="603.8" rx="1.5" ry="1.4" transform="rotate(75 214.2 603.8)"/><ellipse cx="218.8" cy="590.5" rx="3.2" ry="2.0" transform="rotate(90 218.8 590.5)"/><ellipse cx="125.7" cy="559.0" rx="2.2" ry="1.4" transform="rotate(54 125.7 559.0)"/><ellipse cx="208.0" cy="596.7" rx="3.4" ry="2.6" transform="rotate(95 208.0 596.7)"/><ellipse cx="178.4" cy="528.3" rx="3.5" ry="2.2" transform="rotate(81 178.4 528.3)"/><ellipse cx="265.2" cy="579.0" rx="2.3" ry="2.2" transform="rotate(54 265.2 579.0)"/><ellipse cx="145.6" cy="554.1" rx="2.5" ry="2.1" transform="rotate(37 145.6 554.1)"/><ellipse cx="208.8" cy="513.4" rx="1.7" ry="1.2" transform="rotate(26 208.8 513.4)"/><ellipse cx="311.5" cy="541.9" rx="2.1" ry="1.9" transform="rotate(133 311.5 541.9)"/><ellipse cx="243.8" cy="539.4" rx="2.1" ry="2.0" transform="rotate(79 243.8 539.4)"/><ellipse cx="297.5" cy="529.8" rx="1.8" ry="1.1" transform="rotate(133 297.5 529.8)"/><ellipse cx="216.9" cy="627.0" rx="1.6" ry="1.3" transform="rotate(21 216.9 627.0)"/><ellipse cx="262.2" cy="590.6" rx="2.8" ry="1.9" transform="rotate(171 262.2 590.6)"/><ellipse cx="131.4" cy="569.4" rx="2.9" ry="2.7" transform="rotate(130 131.4 569.4)"/><ellipse cx="131.9" cy="595.0" rx="3.3" ry="2.1" transform="rotate(136 131.9 595.0)"/><ellipse cx="169.7" cy="546.8" rx="1.5" ry="1.4" transform="rotate(93 169.7 546.8)"/><ellipse cx="298.4" cy="570.2" rx="1.8" ry="1.3" transform="rotate(47 298.4 570.2)"/><ellipse cx="307.4" cy="533.7" rx="1.7" ry="1.2" transform="rotate(14 307.4 533.7)"/><ellipse cx="203.0" cy="592.0" rx="2.9" ry="1.9" transform="rotate(25 203.0 592.0)"/><ellipse cx="216.2" cy="601.2" rx="2.4" ry="2.0" transform="rotate(164 216.2 601.2)"/><ellipse cx="147.0" cy="542.5" rx="2.5" ry="2.1" transform="rotate(162 147.0 542.5)"/><ellipse cx="229.1" cy="597.7" rx="2.4" ry="2.2" transform="rotate(150 229.1 597.7)"/><ellipse cx="169.8" cy="555.1" rx="3.4" ry="2.4" transform="rotate(113 169.8 555.1)"/><ellipse cx="185.3" cy="519.4" rx="2.8" ry="2.7" transform="rotate(105 185.3 519.4)"/><ellipse cx="194.8" cy="594.1" rx="3.0" ry="2.1" transform="rotate(74 194.8 594.1)"/><ellipse cx="183.9" cy="518.4" rx="1.6" ry="1.5" transform="rotate(74 183.9 518.4)"/><ellipse cx="291.9" cy="513.8" rx="2.1" ry="1.4" transform="rotate(170 291.9 513.8)"/><ellipse cx="201.2" cy="536.7" rx="1.6" ry="1.3" transform="rotate(52 201.2 536.7)"/><ellipse cx="139.6" cy="576.6" rx="3.5" ry="3.4" transform="rotate(84 139.6 576.6)"/><ellipse cx="141.0" cy="580.2" rx="1.7" ry="1.7" transform="rotate(98 141.0 580.2)"/><ellipse cx="205.5" cy="543.1" rx="2.7" ry="2.6" transform="rotate(77 205.5 543.1)"/><ellipse cx="159.9" cy="577.1" rx="3.4" ry="2.6" transform="rotate(114 159.9 577.1)"/><ellipse cx="301.7" cy="550.6" rx="3.2" ry="2.6" transform="rotate(25 301.7 550.6)"/><ellipse cx="211.2" cy="567.0" rx="3.4" ry="2.8" transform="rotate(90 211.2 567.0)"/><ellipse cx="269.7" cy="589.7" rx="1.8" ry="1.2" transform="rotate(125 269.7 589.7)"/><ellipse cx="317.5" cy="523.7" rx="1.9" ry="1.2" transform="rotate(80 317.5 523.7)"/><ellipse cx="139.0" cy="586.3" rx="2.0" ry="1.5" transform="rotate(9 139.0 586.3)"/><ellipse cx="270.8" cy="552.1" rx="2.7" ry="2.3" transform="rotate(88 270.8 552.1)"/><ellipse cx="292.7" cy="633.7" rx="2.1" ry="1.5" transform="rotate(158 292.7 633.7)"/><ellipse cx="144.6" cy="563.8" rx="2.4" ry="2.3" transform="rotate(23 144.6 563.8)"/><ellipse cx="249.0" cy="611.0" rx="3.0" ry="1.8" transform="rotate(170 249.0 611.0)"/><ellipse cx="180.5" cy="624.4" rx="2.9" ry="2.2" transform="rotate(151 180.5 624.4)"/><ellipse cx="264.4" cy="575.7" rx="3.0" ry="2.5" transform="rotate(143 264.4 575.7)"/><ellipse cx="149.9" cy="574.2" rx="1.5" ry="1.4" transform="rotate(139 149.9 574.2)"/><ellipse cx="285.4" cy="511.0" rx="2.6" ry="2.1" transform="rotate(22 285.4 511.0)"/><ellipse cx="283.8" cy="596.1" rx="2.3" ry="2.0" transform="rotate(41 283.8 596.1)"/><ellipse cx="249.3" cy="586.4" rx="3.1" ry="2.5" transform="rotate(78 249.3 586.4)"/><ellipse cx="179.3" cy="607.9" rx="2.3" ry="1.9" transform="rotate(136 179.3 607.9)"/><ellipse cx="206.9" cy="601.1" rx="1.6" ry="1.1" transform="rotate(151 206.9 601.1)"/><ellipse cx="139.3" cy="569.1" rx="2.4" ry="2.2" transform="rotate(86 139.3 569.1)"/><ellipse cx="277.1" cy="612.4" rx="2.8" ry="2.6" transform="rotate(111 277.1 612.4)"/><ellipse cx="294.9" cy="643.5" rx="1.9" ry="1.2" transform="rotate(61 294.9 643.5)"/><ellipse cx="138.0" cy="556.7" rx="1.7" ry="1.2" transform="rotate(1 138.0 556.7)"/><ellipse cx="203.7" cy="547.0" rx="3.0" ry="2.3" transform="rotate(30 203.7 547.0)"/><ellipse cx="255.8" cy="535.4" rx="2.3" ry="1.8" transform="rotate(74 255.8 535.4)"/><ellipse cx="123.3" cy="568.8" rx="3.1" ry="2.7" transform="rotate(155 123.3 568.8)"/><ellipse cx="254.6" cy="611.8" rx="3.3" ry="3.2" transform="rotate(143 254.6 611.8)"/></g>
<g fill="#b2ccd8" stroke="#8fb0c0" stroke-width="0.7"><ellipse cx="249.7" cy="445.9" rx="2.0" ry="1.9" transform="rotate(1 249.7 445.9)"/><ellipse cx="253.3" cy="462.7" rx="1.9" ry="1.6" transform="rotate(111 253.3 462.7)"/><ellipse cx="211.7" cy="446.1" rx="3.1" ry="2.4" transform="rotate(131 211.7 446.1)"/><ellipse cx="222.1" cy="441.6" rx="2.0" ry="1.6" transform="rotate(166 222.1 441.6)"/><ellipse cx="261.1" cy="458.8" rx="2.5" ry="2.2" transform="rotate(18 261.1 458.8)"/><ellipse cx="234.2" cy="455.6" rx="3.1" ry="2.4" transform="rotate(16 234.2 455.6)"/><ellipse cx="232.0" cy="440.7" rx="2.3" ry="2.1" transform="rotate(36 232.0 440.7)"/><ellipse cx="287.8" cy="462.1" rx="1.9" ry="1.4" transform="rotate(89 287.8 462.1)"/><ellipse cx="210.1" cy="447.6" rx="3.4" ry="2.2" transform="rotate(107 210.1 447.6)"/><ellipse cx="218.9" cy="452.5" rx="3.4" ry="2.3" transform="rotate(1 218.9 452.5)"/><ellipse cx="215.5" cy="451.3" rx="1.8" ry="1.2" transform="rotate(89 215.5 451.3)"/><ellipse cx="290.9" cy="447.4" rx="2.5" ry="2.2" transform="rotate(17 290.9 447.4)"/><ellipse cx="260.2" cy="439.5" rx="2.9" ry="2.8" transform="rotate(10 260.2 439.5)"/><ellipse cx="258.0" cy="453.4" rx="2.1" ry="1.5" transform="rotate(179 258.0 453.4)"/><ellipse cx="297.8" cy="437.9" rx="3.1" ry="3.0" transform="rotate(43 297.8 437.9)"/><ellipse cx="263.0" cy="435.4" rx="2.5" ry="2.1" transform="rotate(106 263.0 435.4)"/><ellipse cx="277.7" cy="436.8" rx="2.4" ry="2.3" transform="rotate(105 277.7 436.8)"/><ellipse cx="248.6" cy="446.9" rx="3.6" ry="3.0" transform="rotate(3 248.6 446.9)"/><ellipse cx="279.9" cy="444.5" rx="2.6" ry="1.8" transform="rotate(80 279.9 444.5)"/><ellipse cx="237.2" cy="436.8" rx="2.9" ry="1.9" transform="rotate(141 237.2 436.8)"/><ellipse cx="210.3" cy="459.0" rx="3.3" ry="2.6" transform="rotate(128 210.3 459.0)"/><ellipse cx="230.3" cy="457.6" rx="2.6" ry="1.8" transform="rotate(174 230.3 457.6)"/><ellipse cx="244.1" cy="445.9" rx="3.3" ry="2.5" transform="rotate(120 244.1 445.9)"/><ellipse cx="223.4" cy="461.0" rx="2.3" ry="1.4" transform="rotate(176 223.4 461.0)"/><ellipse cx="223.5" cy="464.3" rx="3.6" ry="3.0" transform="rotate(2 223.5 464.3)"/><ellipse cx="213.5" cy="440.7" rx="2.5" ry="2.1" transform="rotate(174 213.5 440.7)"/><ellipse cx="239.9" cy="438.5" rx="2.8" ry="1.8" transform="rotate(16 239.9 438.5)"/><ellipse cx="258.0" cy="456.3" rx="1.9" ry="1.5" transform="rotate(127 258.0 456.3)"/><ellipse cx="276.8" cy="446.3" rx="3.4" ry="2.3" transform="rotate(129 276.8 446.3)"/><ellipse cx="277.5" cy="462.2" rx="2.7" ry="1.7" transform="rotate(9 277.5 462.2)"/></g>
<g fill="#b2ccd8" stroke="#8fb0c0" stroke-width="0.7"><ellipse cx="347.6" cy="491.1" rx="2.6" ry="2.2" transform="rotate(113 347.6 491.1)"/><ellipse cx="394.2" cy="484.4" rx="3.4" ry="3.0" transform="rotate(12 394.2 484.4)"/><ellipse cx="386.1" cy="506.0" rx="2.5" ry="1.5" transform="rotate(156 386.1 506.0)"/><ellipse cx="346.1" cy="625.0" rx="2.8" ry="2.3" transform="rotate(54 346.1 625.0)"/><ellipse cx="367.5" cy="440.7" rx="2.6" ry="2.1" transform="rotate(105 367.5 440.7)"/><ellipse cx="342.1" cy="591.7" rx="3.9" ry="3.8" transform="rotate(102 342.1 591.7)"/><ellipse cx="391.5" cy="500.4" rx="2.4" ry="1.5" transform="rotate(154 391.5 500.4)"/><ellipse cx="360.2" cy="512.1" rx="2.1" ry="1.3" transform="rotate(156 360.2 512.1)"/><ellipse cx="364.1" cy="483.4" rx="3.2" ry="2.7" transform="rotate(101 364.1 483.4)"/><ellipse cx="367.5" cy="455.1" rx="3.4" ry="2.4" transform="rotate(54 367.5 455.1)"/><ellipse cx="360.7" cy="502.4" rx="1.8" ry="1.6" transform="rotate(114 360.7 502.4)"/><ellipse cx="334.5" cy="533.0" rx="3.9" ry="2.7" transform="rotate(82 334.5 533.0)"/><ellipse cx="373.9" cy="419.8" rx="2.6" ry="1.9" transform="rotate(66 373.9 419.8)"/><ellipse cx="374.1" cy="413.5" rx="2.6" ry="2.4" transform="rotate(5 374.1 413.5)"/><ellipse cx="369.2" cy="378.7" rx="3.6" ry="3.3" transform="rotate(33 369.2 378.7)"/><ellipse cx="350.6" cy="574.7" rx="3.2" ry="3.0" transform="rotate(62 350.6 574.7)"/><ellipse cx="361.1" cy="448.2" rx="3.8" ry="2.5" transform="rotate(1 361.1 448.2)"/><ellipse cx="346.4" cy="555.1" rx="3.6" ry="3.1" transform="rotate(93 346.4 555.1)"/><ellipse cx="373.6" cy="409.3" rx="3.6" ry="2.2" transform="rotate(163 373.6 409.3)"/><ellipse cx="368.8" cy="449.6" rx="3.9" ry="3.3" transform="rotate(61 368.8 449.6)"/><ellipse cx="348.7" cy="592.0" rx="2.8" ry="2.6" transform="rotate(63 348.7 592.0)"/><ellipse cx="344.6" cy="488.0" rx="3.6" ry="2.4" transform="rotate(143 344.6 488.0)"/><ellipse cx="349.9" cy="485.7" rx="2.7" ry="2.2" transform="rotate(140 349.9 485.7)"/><ellipse cx="335.1" cy="628.0" rx="3.7" ry="2.3" transform="rotate(90 335.1 628.0)"/><ellipse cx="373.4" cy="432.7" rx="2.2" ry="1.6" transform="rotate(22 373.4 432.7)"/><ellipse cx="357.6" cy="475.8" rx="3.3" ry="2.6" transform="rotate(125 357.6 475.8)"/><ellipse cx="364.1" cy="395.9" rx="3.0" ry="2.6" transform="rotate(13 364.1 395.9)"/><ellipse cx="361.4" cy="453.4" rx="3.7" ry="3.6" transform="rotate(67 361.4 453.4)"/><ellipse cx="339.1" cy="576.6" rx="3.3" ry="3.1" transform="rotate(143 339.1 576.6)"/><ellipse cx="371.7" cy="350.8" rx="3.1" ry="1.9" transform="rotate(26 371.7 350.8)"/><ellipse cx="339.0" cy="586.4" rx="3.3" ry="3.1" transform="rotate(171 339.0 586.4)"/><ellipse cx="337.9" cy="556.2" rx="3.9" ry="2.4" transform="rotate(58 337.9 556.2)"/><ellipse cx="348.5" cy="513.9" rx="3.5" ry="2.6" transform="rotate(66 348.5 513.9)"/><ellipse cx="359.4" cy="429.4" rx="2.7" ry="1.7" transform="rotate(90 359.4 429.4)"/><ellipse cx="379.9" cy="482.4" rx="2.9" ry="2.5" transform="rotate(162 379.9 482.4)"/><ellipse cx="368.3" cy="458.9" rx="3.4" ry="2.3" transform="rotate(48 368.3 458.9)"/><ellipse cx="344.7" cy="504.2" rx="2.5" ry="1.7" transform="rotate(124 344.7 504.2)"/><ellipse cx="393.2" cy="503.9" rx="2.4" ry="1.6" transform="rotate(4 393.2 503.9)"/><ellipse cx="365.5" cy="439.7" rx="2.2" ry="1.6" transform="rotate(58 365.5 439.7)"/><ellipse cx="374.3" cy="466.8" rx="3.6" ry="3.4" transform="rotate(100 374.3 466.8)"/><ellipse cx="364.6" cy="391.0" rx="2.3" ry="2.1" transform="rotate(122 364.6 391.0)"/><ellipse cx="356.4" cy="502.5" rx="3.3" ry="2.0" transform="rotate(60 356.4 502.5)"/><ellipse cx="362.3" cy="472.5" rx="2.3" ry="1.9" transform="rotate(172 362.3 472.5)"/><ellipse cx="358.9" cy="491.1" rx="2.1" ry="1.5" transform="rotate(120 358.9 491.1)"/><ellipse cx="338.3" cy="600.1" rx="3.8" ry="2.4" transform="rotate(169 338.3 600.1)"/><ellipse cx="379.8" cy="488.5" rx="2.0" ry="1.6" transform="rotate(63 379.8 488.5)"/><ellipse cx="371.9" cy="375.9" rx="3.2" ry="2.7" transform="rotate(32 371.9 375.9)"/><ellipse cx="339.1" cy="614.3" rx="2.1" ry="1.5" transform="rotate(130 339.1 614.3)"/><ellipse cx="374.2" cy="494.5" rx="3.2" ry="2.5" transform="rotate(56 374.2 494.5)"/><ellipse cx="348.3" cy="562.5" rx="2.6" ry="1.9" transform="rotate(73 348.3 562.5)"/><ellipse cx="373.8" cy="364.6" rx="2.7" ry="1.8" transform="rotate(95 373.8 364.6)"/><ellipse cx="372.1" cy="382.3" rx="2.4" ry="2.1" transform="rotate(5 372.1 382.3)"/><ellipse cx="370.9" cy="503.4" rx="3.2" ry="3.2" transform="rotate(124 370.9 503.4)"/><ellipse cx="365.8" cy="509.2" rx="3.4" ry="2.0" transform="rotate(139 365.8 509.2)"/><ellipse cx="379.0" cy="474.4" rx="3.0" ry="2.3" transform="rotate(35 379.0 474.4)"/><ellipse cx="362.9" cy="498.0" rx="3.9" ry="3.7" transform="rotate(24 362.9 498.0)"/><ellipse cx="388.6" cy="516.2" rx="1.9" ry="1.4" transform="rotate(42 388.6 516.2)"/><ellipse cx="339.9" cy="590.9" rx="3.1" ry="3.0" transform="rotate(129 339.9 590.9)"/><ellipse cx="386.0" cy="472.2" rx="2.0" ry="1.3" transform="rotate(14 386.0 472.2)"/><ellipse cx="369.8" cy="452.2" rx="3.2" ry="2.3" transform="rotate(84 369.8 452.2)"/><ellipse cx="343.4" cy="604.0" rx="3.4" ry="2.5" transform="rotate(67 343.4 604.0)"/><ellipse cx="369.2" cy="507.7" rx="2.3" ry="1.4" transform="rotate(38 369.2 507.7)"/><ellipse cx="364.0" cy="380.1" rx="2.3" ry="1.5" transform="rotate(73 364.0 380.1)"/><ellipse cx="366.3" cy="337.0" rx="1.8" ry="1.4" transform="rotate(73 366.3 337.0)"/><ellipse cx="359.8" cy="444.1" rx="1.9" ry="1.8" transform="rotate(39 359.8 444.1)"/><ellipse cx="342.2" cy="515.9" rx="2.6" ry="1.7" transform="rotate(9 342.2 515.9)"/><ellipse cx="390.3" cy="518.1" rx="2.6" ry="1.6" transform="rotate(123 390.3 518.1)"/><ellipse cx="344.9" cy="627.7" rx="2.8" ry="2.6" transform="rotate(165 344.9 627.7)"/><ellipse cx="352.5" cy="511.0" rx="3.9" ry="2.5" transform="rotate(53 352.5 511.0)"/><ellipse cx="342.9" cy="553.3" rx="3.4" ry="3.2" transform="rotate(100 342.9 553.3)"/><ellipse cx="360.7" cy="391.0" rx="3.5" ry="2.8" transform="rotate(49 360.7 391.0)"/><ellipse cx="342.6" cy="547.2" rx="3.1" ry="2.8" transform="rotate(70 342.6 547.2)"/><ellipse cx="366.0" cy="366.9" rx="3.4" ry="2.0" transform="rotate(84 366.0 366.9)"/><ellipse cx="377.7" cy="504.2" rx="1.8" ry="1.3" transform="rotate(174 377.7 504.2)"/><ellipse cx="346.3" cy="496.9" rx="2.7" ry="2.5" transform="rotate(109 346.3 496.9)"/><ellipse cx="388.4" cy="488.2" rx="2.2" ry="1.5" transform="rotate(14 388.4 488.2)"/><ellipse cx="344.7" cy="602.1" rx="2.0" ry="1.6" transform="rotate(40 344.7 602.1)"/><ellipse cx="391.4" cy="513.7" rx="3.2" ry="2.9" transform="rotate(157 391.4 513.7)"/><ellipse cx="355.6" cy="509.8" rx="2.8" ry="1.8" transform="rotate(150 355.6 509.8)"/><ellipse cx="345.2" cy="489.5" rx="2.8" ry="2.5" transform="rotate(14 345.2 489.5)"/><ellipse cx="355.6" cy="472.1" rx="2.0" ry="1.6" transform="rotate(132 355.6 472.1)"/><ellipse cx="374.8" cy="386.1" rx="2.6" ry="2.6" transform="rotate(60 374.8 386.1)"/><ellipse cx="361.9" cy="344.8" rx="2.3" ry="1.5" transform="rotate(168 361.9 344.8)"/><ellipse cx="398.9" cy="488.4" rx="2.7" ry="2.7" transform="rotate(163 398.9 488.4)"/><ellipse cx="351.6" cy="615.1" rx="2.2" ry="1.4" transform="rotate(130 351.6 615.1)"/><ellipse cx="351.8" cy="483.2" rx="3.2" ry="2.0" transform="rotate(134 351.8 483.2)"/><ellipse cx="360.4" cy="342.7" rx="2.1" ry="1.9" transform="rotate(126 360.4 342.7)"/><ellipse cx="364.3" cy="485.2" rx="3.0" ry="2.2" transform="rotate(153 364.3 485.2)"/><ellipse cx="369.7" cy="370.7" rx="1.9" ry="1.3" transform="rotate(139 369.7 370.7)"/><ellipse cx="370.4" cy="347.8" rx="2.5" ry="1.7" transform="rotate(144 370.4 347.8)"/><ellipse cx="360.9" cy="400.8" rx="1.9" ry="1.5" transform="rotate(113 360.9 400.8)"/><ellipse cx="340.0" cy="559.1" rx="3.5" ry="2.8" transform="rotate(150 340.0 559.1)"/><ellipse cx="370.8" cy="406.9" rx="2.2" ry="1.3" transform="rotate(116 370.8 406.9)"/><ellipse cx="374.6" cy="449.8" rx="2.9" ry="2.0" transform="rotate(33 374.6 449.8)"/><ellipse cx="370.5" cy="447.8" rx="2.6" ry="2.0" transform="rotate(145 370.5 447.8)"/></g>
<g fill="#b2ccd8" stroke="#8fb0c0" stroke-width="0.7"><ellipse cx="336.1" cy="667.9" rx="1.3" ry="0.9" transform="rotate(26 336.1 667.9)"/><ellipse cx="331.5" cy="664.1" rx="1.9" ry="1.4" transform="rotate(77 331.5 664.1)"/><ellipse cx="307.3" cy="625.2" rx="2.4" ry="2.2" transform="rotate(177 307.3 625.2)"/><ellipse cx="328.0" cy="663.2" rx="2.3" ry="1.5" transform="rotate(122 328.0 663.2)"/><ellipse cx="323.3" cy="649.4" rx="1.5" ry="1.2" transform="rotate(42 323.3 649.4)"/><ellipse cx="303.0" cy="631.9" rx="1.8" ry="1.1" transform="rotate(117 303.0 631.9)"/><ellipse cx="308.8" cy="640.7" rx="1.5" ry="1.3" transform="rotate(20 308.8 640.7)"/><ellipse cx="302.4" cy="621.0" rx="2.1" ry="1.8" transform="rotate(98 302.4 621.0)"/><ellipse cx="322.3" cy="645.9" rx="1.6" ry="1.2" transform="rotate(37 322.3 645.9)"/><ellipse cx="331.7" cy="667.2" rx="1.3" ry="1.2" transform="rotate(34 331.7 667.2)"/><ellipse cx="308.3" cy="640.2" rx="1.9" ry="1.2" transform="rotate(155 308.3 640.2)"/></g>
<g fill="#b2ccd8" stroke="#8fb0c0" stroke-width="0.7"><ellipse cx="226.8" cy="402.2" rx="2.5" ry="2.2" transform="rotate(119 226.8 402.2)"/><ellipse cx="158.8" cy="395.7" rx="2.0" ry="1.8" transform="rotate(45 158.8 395.7)"/><ellipse cx="217.7" cy="418.6" rx="2.0" ry="2.0" transform="rotate(11 217.7 418.6)"/><ellipse cx="215.0" cy="416.9" rx="1.7" ry="1.5" transform="rotate(101 215.0 416.9)"/><ellipse cx="226.4" cy="400.3" rx="2.2" ry="2.1" transform="rotate(115 226.4 400.3)"/><ellipse cx="174.7" cy="397.0" rx="2.7" ry="2.1" transform="rotate(179 174.7 397.0)"/><ellipse cx="215.1" cy="418.0" rx="1.5" ry="1.1" transform="rotate(9 215.1 418.0)"/></g>
<path d="M105,460 L199,462 C205,464 209,466 213,469 C219,472 223,475 225,478 C227,484 228,490 229,497 C234,502 240,504 244,506 C248,510 251,513 253,516 C256,516 258,515 260,513 C263,510 264,507 265,504 C267,498 268,492 270,487 C271,483 272,481 275,479 C280,478 285,481 286,485 C283,487 281,488 279,490 C276,493 275,496 275,499 C277,503 281,505 284,509 C289,517 293,526 296,534 C296,538 295,542 294,544 C290,543 287,541 284,539 C276,534 268,530 260,527 C254,527 249,529 244,530 C236,528 227,524 218,520 C212,515 208,509 204,504 C199,499 195,494 190,490 C186,486 182,483 179,482 C176,488 174,492 171,495 C166,499 160,501 156,501 C152,500 150,497 148,495 C144,489 141,484 137,479 C130,474 120,471 111,469 C107,466 105,463 105,460 Z" fill="url(#pusG)"/>
<path d="M110,462 C140,468 170,466 200,466" fill="none" stroke="#f2e27a" stroke-width="2" opacity="0.8"/>
<path d="M230,552 C240,548 250,541 258,538 C264,538 270,540 272,543 C268,550 263,558 259,565 C252,565 244,561 236,556 Z" fill="url(#pusG)"/>
<path d="M273,431 L341,432 C346,438 350,448 349,460 C346,470 338,477 328,482 C322,490 320,505 321,530 C316,515 312,500 304,480 C298,462 290,446 273,431 Z" fill="url(#pusG)"/>
<path d="M386,431 L421,431 C421,452 420,468 417,478 C414,486 411,491 410,494 C404,486 395,479 390,471 C384,462 383,448 386,431 Z" fill="url(#pusG)"/>
<ellipse cx="396" cy="466" rx="5" ry="8" fill="#f7eeb0" opacity="0.8" filter="url(#blur2)"/>
<ellipse cx="300" cy="445" rx="8" ry="6" fill="#f2e48a" opacity="0.6" filter="url(#blur2)"/>
<path d="M276,433 C300,437 325,436 342,434" fill="none" stroke="#f3e58a" stroke-width="2" opacity="0.7"/>
<path d="M133,680 L267,680 C265,690 263,698 262,705 C258,715 254,722 251,728 C245,738 240,745 233,752 C226,758 219,763 212,765 C205,764 198,761 191,757 C186,752 181,746 178,741 C172,740 166,740 160,739 C153,735 148,730 144,726 C141,720 140,713 139,707 C136,698 134,690 133,680 Z" fill="url(#pusG)"/>
<ellipse cx="200" cy="700" rx="22" ry="9" transform="rotate(-25 200 700)" fill="#c99c14" opacity="0.55" filter="url(#blur2)"/>
<path d="M160,722 C190,735 230,725 252,712" fill="none" stroke="#f3e27a" stroke-width="3" opacity="0.6" filter="url(#blur1)"/>
<path d="M136,683 C180,690 230,688 266,683" fill="none" stroke="#f4e688" stroke-width="2" opacity="0.8"/>
</g>
<g id="lungs">
<clipPath id="cutClip"><path d="M533,634 C538,634 541,635 542,637 C546,645 550,652 553,659 C555,675 556,690 558,703 C559,715 561,725 562,736 C562,755 560,770 555,784 C550,792 544,798 537,802 C515,808 490,813 470,818 C464,821 459,824 455,826 C454,805 453,780 455,760 C455,745 455,730 457,714 C460,705 465,700 470,694 C476,682 484,668 494,657 C503,650 512,642 522,637 C526,635 530,634 533,634 Z"/></clipPath>
<clipPath id="outerClip"><path d="M529,579 C538,580 546,583 549,586 C553,595 556,605 558,614 C561,635 564,652 567,670 C569,685 571,700 573,714 C574,722 575,730 575,738 C575,760 574,785 570,806 L557,813 L557,838 C530,842 505,845 482,849 C465,852 450,855 437,857 C432,856 428,854 425,851 C424,820 424,790 425,762 C426,755 427,751 429,748 C432,735 435,720 438,708 C442,695 446,682 451,670 C456,655 462,642 469,632 C477,620 485,608 493,599 C502,590 512,582 529,579 Z"/></clipPath>
<path d="M428,828 C480,818 560,818 660,826 L660,876 C560,878 470,876 428,866 Z" fill="#f3f4f6" filter="url(#blur2)"/>
<path d="M440,882 C446,866 462,858 500,852 C540,846 600,846 655,852" fill="none" stroke="#e2dde6" stroke-width="2.2"/>
<path d="M558,822 C590,816 630,818 660,822" fill="none" stroke="#e6e3ea" stroke-width="2"/>
<path d="M495,475 C515,458 540,445 556,440 L562,530 C548,522 530,510 515,495 C505,488 498,482 495,475 Z" fill="#f3eef2" opacity="0.9" filter="url(#blur2)"/>
<path d="M522,470 C535,462 548,456 556,452 M528,488 C540,480 552,474 560,470 M545,445 C552,470 556,500 562,530" fill="none" stroke="#e0cdd8" stroke-width="1.4" opacity="0.8"/>
<path d="M590,450 C598,480 604,520 610,560 C612,575 614,585 616,595" fill="none" stroke="#e3cfdc" stroke-width="7" opacity="0.8" filter="url(#blur2)"/>
<path d="M556,432 C566,430 578,430 587,433 C588,450 586,470 584,488 C592,520 600,550 607,586 L582,586 C576,555 570,525 562,495 C558,485 554,472 553,462 C553,450 554,440 556,432 Z" fill="#e4524f"/>
<path d="M555,470 C560,485 564,498 568,510" fill="none" stroke="#c83838" stroke-width="3" opacity="0.5" filter="url(#blur1)"/>
<path d="M572,440 C568,460 572,475 578,486" fill="none" stroke="#f3a0a0" stroke-width="6" opacity="0.6" filter="url(#blur2)"/>
<rect x="545" y="415" width="50" height="22" fill="#fff" opacity="0.85" filter="url(#blur2)"/>
<path d="M564,440 C567,460 570,480 574,500 C578,530 584,560 590,584" fill="none" stroke="#f27e7c" stroke-width="4" opacity="0.7" filter="url(#blur1)"/>
<path d="M560,492 C568,496 578,496 585,490" fill="none" stroke="#c23a3c" stroke-width="1.2"/>
<path d="M628,728 C642,732 660,736 676,736 L676,841 L636,841 C630,810 628,770 628,728 Z" fill="#a84c3a"/>
<path d="M612,665 C610,625 616,590 636,577 C650,570 668,580 676,610 L680,752 C668,752 650,748 636,740 C622,730 614,715 612,695 Z" fill="#e67a6e"/>
<path d="M612,695 C614,715 622,730 636,740 C650,748 668,752 680,752" fill="none" stroke="#c85a4e" stroke-width="2.5" opacity="0.7"/>
<path d="M620,620 C624,600 632,586 645,582" fill="none" stroke="#f4aaa2" stroke-width="6" filter="url(#blur2)"/>
<path d="M612,665 C610,625 616,590 636,577" fill="none" stroke="#d85a52" stroke-width="2" opacity="0.6"/>
<path d="M634,760 C637,790 639,815 641,838" fill="none" stroke="#c06a58" stroke-width="4" opacity="0.7" filter="url(#blur1)"/>
<rect x="657" y="540" width="70" height="330" fill="#fff" filter="url(#blur6)"/>
<path d="M580,583 L610,583 C610,620 609,660 609,684 C614,695 618,705 616,716 C610,718 604,712 598,700 C594,712 588,718 578,716 C576,705 578,695 581,684 C581,660 580,620 580,583 Z" fill="#c9c08a"/>
<rect x="578.5" y="584" width="31" height="7.5" rx="3" fill="#f0a865"/>
<ellipse cx="592" cy="587.5" rx="8" ry="2.2" fill="#fbe0c0" opacity="0.9"/>
<rect x="579.5" y="593" width="31" height="7.5" rx="3" fill="#f0a865"/>
<ellipse cx="596" cy="596.5" rx="8" ry="2.2" fill="#fbe0c0" opacity="0.9"/>
<rect x="578.5" y="602" width="31" height="7.5" rx="3" fill="#f0a865"/>
<ellipse cx="592" cy="605.5" rx="8" ry="2.2" fill="#fbe0c0" opacity="0.9"/>
<rect x="579.5" y="611" width="31" height="7.5" rx="3" fill="#f0a865"/>
<ellipse cx="596" cy="614.5" rx="8" ry="2.2" fill="#fbe0c0" opacity="0.9"/>
<rect x="578.5" y="620" width="31" height="7.5" rx="3" fill="#f0a865"/>
<ellipse cx="592" cy="623.5" rx="8" ry="2.2" fill="#fbe0c0" opacity="0.9"/>
<rect x="579.5" y="629" width="31" height="7.5" rx="3" fill="#f0a865"/>
<ellipse cx="596" cy="632.5" rx="8" ry="2.2" fill="#fbe0c0" opacity="0.9"/>
<rect x="578.5" y="638" width="31" height="7.5" rx="3" fill="#f0a865"/>
<ellipse cx="592" cy="641.5" rx="8" ry="2.2" fill="#fbe0c0" opacity="0.9"/>
<rect x="579.5" y="647" width="31" height="7.5" rx="3" fill="#f0a865"/>
<ellipse cx="596" cy="650.5" rx="8" ry="2.2" fill="#fbe0c0" opacity="0.9"/>
<rect x="578.5" y="656" width="31" height="7.5" rx="3" fill="#f0a865"/>
<ellipse cx="592" cy="659.5" rx="8" ry="2.2" fill="#fbe0c0" opacity="0.9"/>
<rect x="579.5" y="665" width="31" height="7.5" rx="3" fill="#f0a865"/>
<ellipse cx="596" cy="668.5" rx="8" ry="2.2" fill="#fbe0c0" opacity="0.9"/>
<rect x="578.5" y="674" width="31" height="7.5" rx="3" fill="#f0a865"/>
<ellipse cx="592" cy="677.5" rx="8" ry="2.2" fill="#fbe0c0" opacity="0.9"/>
<path d="M579,684 C585,680 592,686 597,692 C590,700 582,704 578,714 C576,704 576,692 579,684 Z" fill="#f0a865"/><ellipse cx="584" cy="698" rx="3" ry="4" fill="#fbe0c0"/>
<path d="M610,684 C604,680 597,686 595,692 C602,700 610,704 616,714 C618,704 616,692 610,684 Z" fill="#f0a865"/><ellipse cx="608" cy="699" rx="3" ry="4" fill="#fbe0c0"/>
<path d="M529,579 C538,580 546,583 549,586 C553,595 556,605 558,614 C561,635 564,652 567,670 C569,685 571,700 573,714 C574,722 575,730 575,738 C575,760 574,785 570,806 L557,813 L557,838 C530,842 505,845 482,849 C465,852 450,855 437,857 C432,856 428,854 425,851 C424,820 424,790 425,762 C426,755 427,751 429,748 C432,735 435,720 438,708 C442,695 446,682 451,670 C456,655 462,642 469,632 C477,620 485,608 493,599 C502,590 512,582 529,579 Z" fill="#e67e6e"/>
<g clip-path="url(#outerClip)">
<path d="M524,592 C505,605 485,630 470,655 C458,678 448,705 442,730" fill="none" stroke="#f2a396" stroke-width="12" opacity="0.75" filter="url(#blur2)"/>
<path d="M532,588 C546,600 552,620 556,650" fill="none" stroke="#f0a296" stroke-width="7" opacity="0.6" filter="url(#blur2)"/>
<path d="M529,579 C538,580 546,583 549,586 C553,595 556,605 558,614 C561,635 564,652 567,670 C569,685 571,700 573,714 C574,722 575,730 575,738 C575,760 574,785 570,806 L557,813 L557,838 C530,842 505,845 482,849 C465,852 450,855 437,857 C432,856 428,854 425,851 C424,820 424,790 425,762 C426,755 427,751 429,748 C432,735 435,720 438,708 C442,695 446,682 451,670 C456,655 462,642 469,632 C477,620 485,608 493,599 C502,590 512,582 529,579 Z" fill="none" stroke="#c95548" stroke-width="5" opacity="0.6" filter="url(#blur2)"/>
<path d="M425,760 C440,765 450,780 455,826" fill="none" stroke="#d06050" stroke-width="2" opacity="0.6"/>
</g>
<path d="M453,844 C465,838 478,832 488,829 C510,823 535,817 557,813 L557,838 C530,842 505,845 482,849 C465,852 450,855 437,857 Z" fill="#b94430"/>
<path d="M455,826 C470,818 500,812 537,802 C545,806 552,810 557,813 C535,817 510,823 488,829 C478,832 465,838 453,844 Z" fill="#e07565"/>
<path d="M533,634 C538,634 541,635 542,637 C546,645 550,652 553,659 C555,675 556,690 558,703 C559,715 561,725 562,736 C562,755 560,770 555,784 C550,792 544,798 537,802 C515,808 490,813 470,818 C464,821 459,824 455,826 C454,805 453,780 455,760 C455,745 455,730 457,714 C460,705 465,700 470,694 C476,682 484,668 494,657 C503,650 512,642 522,637 C526,635 530,634 533,634 Z" fill="#dc4a3c"/>
<g clip-path="url(#cutClip)">
<ellipse cx="520" cy="690" rx="30" ry="25" fill="#e86a5a" opacity="0.6" filter="url(#blur6)"/>
<ellipse cx="500" cy="790" rx="35" ry="18" fill="#c83028" opacity="0.5" filter="url(#blur6)"/>
<path d="M533,634 C538,634 541,635 542,637 C546,645 550,652 553,659 C555,675 556,690 558,703 C559,715 561,725 562,736 C562,755 560,770 555,784 C550,792 544,798 537,802 C515,808 490,813 470,818 C464,821 459,824 455,826 C454,805 453,780 455,760 C455,745 455,730 457,714 C460,705 465,700 470,694 C476,682 484,668 494,657 C503,650 512,642 522,637 C526,635 530,634 533,634 Z" fill="none" stroke="#a82a22" stroke-width="3" opacity="0.6" filter="url(#blur1)"/>
</g>
<g fill="none" stroke="#f3dbe4" stroke-linecap="round" opacity="0.95" clip-path="url(#cutClip)"><path d="M538.0,716.0 Q536.2,703.7 533.0,688.4" stroke-width="4.2"/><path d="M533.0,688.4 Q535.5,679.3 535.0,665.1" stroke-width="2.7"/><path d="M535.0,665.1 Q534.8,657.7 529.3,648.6" stroke-width="1.8"/><path d="M529.3,648.6 Q529.2,641.2 529.5,636.9" stroke-width="1.2"/><path d="M529.3,648.6 Q527.1,640.3 521.8,636.1" stroke-width="1.2"/><path d="M535.0,665.1 Q529.9,654.3 528.2,647.0" stroke-width="1.8"/><path d="M528.2,647.0 Q527.5,641.8 529.3,631.0" stroke-width="1.2"/><path d="M528.2,647.0 Q529.0,637.7 525.1,630.9" stroke-width="1.2"/><path d="M533.0,688.4 Q526.2,679.4 525.4,668.2" stroke-width="2.7"/><path d="M525.4,668.2 Q523.7,661.4 518.0,654.8" stroke-width="1.8"/><path d="M518.0,654.8 Q515.7,647.6 510.9,645.8" stroke-width="1.2"/><path d="M518.0,654.8 Q512.2,651.6 508.0,647.4" stroke-width="1.2"/><path d="M525.4,668.2 Q522.9,663.9 515.2,654.3" stroke-width="1.8"/><path d="M515.2,654.3 Q511.1,651.5 506.6,645.3" stroke-width="1.2"/><path d="M515.2,654.3 Q506.5,649.7 502.7,647.0" stroke-width="1.2"/><path d="M538.0,716.0 Q539.8,702.0 541.1,690.2" stroke-width="4.2"/><path d="M541.1,690.2 Q538.2,679.2 540.3,672.4" stroke-width="2.7"/><path d="M540.3,672.4 Q539.3,662.2 542.3,657.4" stroke-width="1.8"/><path d="M542.3,657.4 Q544.8,651.0 548.4,647.7" stroke-width="1.2"/><path d="M542.3,657.4 Q537.7,651.3 538.8,645.2" stroke-width="1.2"/><path d="M540.3,672.4 Q538.5,664.8 541.4,658.0" stroke-width="1.8"/><path d="M541.4,658.0 Q538.8,652.0 538.6,646.6" stroke-width="1.2"/><path d="M541.4,658.0 Q541.6,651.1 542.1,646.6" stroke-width="1.2"/><path d="M541.1,690.2 Q546.3,680.5 551.4,672.8" stroke-width="2.7"/><path d="M551.4,672.8 Q554.3,668.0 553.7,658.8" stroke-width="1.8"/><path d="M553.7,658.8 Q555.6,654.3 554.2,647.4" stroke-width="1.2"/><path d="M553.7,658.8 Q555.2,654.7 553.4,648.2" stroke-width="1.2"/><path d="M551.4,672.8 Q550.6,666.3 552.9,657.6" stroke-width="1.8"/><path d="M552.9,657.6 Q554.1,653.2 553.6,645.2" stroke-width="1.2"/><path d="M552.9,657.6 Q554.8,652.5 552.4,645.1" stroke-width="1.2"/><path d="M538.0,716.0 Q528.4,705.1 522.9,690.1" stroke-width="4.2"/><path d="M522.9,690.1 Q522.5,680.3 519.8,667.9" stroke-width="2.7"/><path d="M519.8,667.9 Q522.1,660.8 520.9,652.7" stroke-width="1.8"/><path d="M520.9,652.7 Q522.9,648.8 523.4,641.7" stroke-width="1.2"/><path d="M520.9,652.7 Q519.4,647.8 521.2,640.7" stroke-width="1.2"/><path d="M519.8,667.9 Q514.9,659.5 512.1,654.9" stroke-width="1.8"/><path d="M512.1,654.9 Q508.3,650.8 504.9,648.1" stroke-width="1.2"/><path d="M512.1,654.9 Q506.2,651.3 502.9,648.8" stroke-width="1.2"/><path d="M522.9,690.1 Q519.0,680.0 514.5,671.8" stroke-width="2.7"/><path d="M514.5,671.8 Q513.5,663.4 508.7,656.0" stroke-width="1.8"/><path d="M508.7,656.0 Q507.4,647.3 507.7,642.9" stroke-width="1.2"/><path d="M508.7,656.0 Q509.5,647.1 505.6,644.2" stroke-width="1.2"/><path d="M514.5,671.8 Q511.3,663.5 509.5,656.0" stroke-width="1.8"/><path d="M509.5,656.0 Q509.2,650.3 503.2,646.0" stroke-width="1.2"/><path d="M509.5,656.0 Q509.7,648.7 511.0,643.6" stroke-width="1.2"/><path d="M538.0,716.0 Q521.2,708.0 508.9,698.5" stroke-width="4.2"/><path d="M508.9,698.5 Q499.9,694.8 487.6,687.1" stroke-width="2.7"/><path d="M487.6,687.1 Q477.2,689.3 469.4,686.2" stroke-width="1.8"/><path d="M469.4,686.2 Q461.9,682.2 457.3,682.3" stroke-width="1.2"/><path d="M469.4,686.2 Q464.0,682.6 455.6,683.6" stroke-width="1.2"/><path d="M487.6,687.1 Q478.7,683.5 470.3,681.6" stroke-width="1.8"/><path d="M470.3,681.6 Q461.4,676.6 458.2,674.5" stroke-width="1.2"/><path d="M470.3,681.6 Q462.5,683.0 455.7,683.5" stroke-width="1.2"/><path d="M508.9,698.5 Q499.8,691.4 486.4,688.0" stroke-width="2.7"/><path d="M486.4,688.0 Q474.1,687.4 466.9,682.9" stroke-width="1.8"/><path d="M466.9,682.9 Q458.8,681.4 453.4,676.6" stroke-width="1.2"/><path d="M466.9,682.9 Q457.8,681.6 452.9,679.2" stroke-width="1.2"/><path d="M486.4,688.0 Q476.2,683.0 471.6,675.5" stroke-width="1.8"/><path d="M471.6,675.5 Q469.3,665.3 464.6,660.5" stroke-width="1.2"/><path d="M471.6,675.5 Q466.3,672.9 463.4,665.2" stroke-width="1.2"/><path d="M538.0,716.0 Q519.9,715.9 500.4,721.4" stroke-width="4.2"/><path d="M500.4,721.4 Q485.7,725.2 476.1,734.4" stroke-width="2.7"/><path d="M476.1,734.4 Q468.3,736.8 456.0,743.6" stroke-width="1.8"/><path d="M456.0,743.6 Q449.7,747.2 442.2,750.9" stroke-width="1.2"/><path d="M456.0,743.6 Q449.8,751.8 443.4,755.1" stroke-width="1.2"/><path d="M476.1,734.4 Q467.9,739.5 459.4,748.9" stroke-width="1.8"/><path d="M459.4,748.9 Q456.2,753.5 450.2,762.0" stroke-width="1.2"/><path d="M459.4,748.9 Q456.5,753.9 452.5,762.1" stroke-width="1.2"/><path d="M500.4,721.4 Q484.9,727.4 474.9,737.5" stroke-width="2.7"/><path d="M474.9,737.5 Q461.5,737.1 451.4,741.3" stroke-width="1.8"/><path d="M451.4,741.3 Q444.4,736.7 433.5,736.4" stroke-width="1.2"/><path d="M451.4,741.3 Q442.2,739.6 434.3,742.2" stroke-width="1.2"/><path d="M474.9,737.5 Q464.4,740.8 452.8,743.1" stroke-width="1.8"/><path d="M452.8,743.1 Q442.1,740.6 436.2,743.7" stroke-width="1.2"/><path d="M452.8,743.1 Q445.2,745.6 438.0,743.4" stroke-width="1.2"/><path d="M538.0,716.0 Q519.3,720.8 504.7,729.7" stroke-width="4.2"/><path d="M504.7,729.7 Q495.5,734.0 481.8,742.4" stroke-width="2.7"/><path d="M481.8,742.4 Q472.9,747.2 468.0,754.6" stroke-width="1.8"/><path d="M468.0,754.6 Q461.3,762.9 460.1,766.0" stroke-width="1.2"/><path d="M468.0,754.6 Q460.0,760.9 456.7,765.2" stroke-width="1.2"/><path d="M481.8,742.4 Q474.1,745.8 469.5,754.4" stroke-width="1.8"/><path d="M469.5,754.4 Q464.0,758.7 460.1,765.4" stroke-width="1.2"/><path d="M469.5,754.4 Q467.7,762.3 463.9,764.9" stroke-width="1.2"/><path d="M504.7,729.7 Q493.9,737.3 484.2,750.3" stroke-width="2.7"/><path d="M484.2,750.3 Q475.3,757.7 466.1,766.9" stroke-width="1.8"/><path d="M466.1,766.9 Q464.9,774.2 458.8,781.6" stroke-width="1.2"/><path d="M466.1,766.9 Q459.2,772.4 455.2,779.0" stroke-width="1.2"/><path d="M484.2,750.3 Q478.5,760.1 473.9,769.5" stroke-width="1.8"/><path d="M473.9,769.5 Q470.6,777.4 472.0,784.9" stroke-width="1.2"/><path d="M473.9,769.5 Q473.3,778.1 472.9,786.0" stroke-width="1.2"/><path d="M538.0,716.0 Q522.2,727.8 508.7,740.2" stroke-width="4.2"/><path d="M508.7,740.2 Q494.3,744.2 484.4,750.5" stroke-width="2.7"/><path d="M484.4,750.5 Q478.7,756.7 469.1,765.2" stroke-width="1.8"/><path d="M469.1,765.2 Q464.4,769.1 462.7,777.9" stroke-width="1.2"/><path d="M469.1,765.2 Q461.5,767.8 457.5,773.0" stroke-width="1.2"/><path d="M484.4,750.5 Q476.9,753.1 464.6,753.9" stroke-width="1.8"/><path d="M464.6,753.9 Q456.6,755.3 449.2,752.9" stroke-width="1.2"/><path d="M464.6,753.9 Q456.3,754.7 449.4,759.9" stroke-width="1.2"/><path d="M508.7,740.2 Q502.3,750.3 492.8,759.7" stroke-width="2.7"/><path d="M492.8,759.7 Q488.4,766.9 488.5,775.8" stroke-width="1.8"/><path d="M488.5,775.8 Q485.3,780.0 480.8,787.4" stroke-width="1.2"/><path d="M488.5,775.8 Q487.6,779.7 484.0,788.6" stroke-width="1.2"/><path d="M492.8,759.7 Q481.5,763.4 474.8,769.3" stroke-width="1.8"/><path d="M474.8,769.3 Q466.9,769.8 459.8,771.1" stroke-width="1.2"/><path d="M474.8,769.3 Q470.4,771.5 462.2,774.7" stroke-width="1.2"/><path d="M538.0,716.0 Q526.9,735.0 516.1,749.5" stroke-width="4.2"/><path d="M516.1,749.5 Q508.3,760.0 503.2,774.0" stroke-width="2.7"/><path d="M503.2,774.0 Q499.6,781.1 493.0,791.2" stroke-width="1.8"/><path d="M493.0,791.2 Q493.1,799.7 487.5,804.1" stroke-width="1.2"/><path d="M493.0,791.2 Q484.6,794.2 481.9,801.2" stroke-width="1.2"/><path d="M503.2,774.0 Q497.6,783.5 489.7,788.5" stroke-width="1.8"/><path d="M489.7,788.5 Q482.9,790.8 477.6,799.0" stroke-width="1.2"/><path d="M489.7,788.5 Q485.0,793.2 482.6,799.4" stroke-width="1.2"/><path d="M516.1,749.5 Q504.6,761.3 490.7,771.2" stroke-width="2.7"/><path d="M490.7,771.2 Q479.4,780.2 469.6,788.1" stroke-width="1.8"/><path d="M469.6,788.1 Q459.4,790.5 451.8,798.1" stroke-width="1.2"/><path d="M469.6,788.1 Q463.7,791.2 452.6,797.0" stroke-width="1.2"/><path d="M490.7,771.2 Q478.6,777.3 464.2,779.3" stroke-width="1.8"/><path d="M464.2,779.3 Q451.8,780.2 442.9,781.0" stroke-width="1.2"/><path d="M464.2,779.3 Q455.3,780.8 447.6,786.2" stroke-width="1.2"/><path d="M538.0,716.0 Q531.2,731.6 525.7,752.0" stroke-width="4.2"/><path d="M525.7,752.0 Q520.1,763.9 511.9,777.3" stroke-width="2.7"/><path d="M511.9,777.3 Q503.2,782.6 496.9,790.6" stroke-width="1.8"/><path d="M496.9,790.6 Q488.1,796.2 483.3,800.2" stroke-width="1.2"/><path d="M496.9,790.6 Q490.7,793.5 481.8,797.4" stroke-width="1.2"/><path d="M511.9,777.3 Q511.4,786.1 505.3,798.6" stroke-width="1.8"/><path d="M505.3,798.6 Q506.5,806.7 507.1,813.5" stroke-width="1.2"/><path d="M505.3,798.6 Q498.6,806.4 497.2,814.4" stroke-width="1.2"/><path d="M525.7,752.0 Q517.0,767.4 511.6,780.4" stroke-width="2.7"/><path d="M511.6,780.4 Q501.0,787.1 495.2,797.4" stroke-width="1.8"/><path d="M495.2,797.4 Q489.6,805.2 488.2,811.6" stroke-width="1.2"/><path d="M495.2,797.4 Q489.7,804.9 479.0,806.9" stroke-width="1.2"/><path d="M511.6,780.4 Q510.1,791.1 510.1,802.3" stroke-width="1.8"/><path d="M510.1,802.3 Q505.6,810.2 506.1,819.4" stroke-width="1.2"/><path d="M510.1,802.3 Q510.5,813.7 510.9,819.5" stroke-width="1.2"/><path d="M538.0,716.0 Q535.4,730.6 535.3,749.9" stroke-width="4.2"/><path d="M535.3,749.9 Q536.0,764.6 533.8,774.4" stroke-width="2.7"/><path d="M533.8,774.4 Q534.2,784.2 534.6,791.7" stroke-width="1.8"/><path d="M534.6,791.7 Q532.0,797.2 531.8,804.7" stroke-width="1.2"/><path d="M534.6,791.7 Q534.0,796.8 538.4,804.8" stroke-width="1.2"/><path d="M533.8,774.4 Q531.8,783.7 534.7,794.8" stroke-width="1.8"/><path d="M534.7,794.8 Q534.7,800.5 531.6,807.8" stroke-width="1.2"/><path d="M534.7,794.8 Q533.2,804.5 535.1,808.4" stroke-width="1.2"/><path d="M535.3,749.9 Q529.1,759.0 522.7,773.5" stroke-width="2.7"/><path d="M522.7,773.5 Q518.2,784.1 514.5,793.5" stroke-width="1.8"/><path d="M514.5,793.5 Q509.6,796.8 503.0,805.7" stroke-width="1.2"/><path d="M514.5,793.5 Q508.1,803.4 503.1,807.4" stroke-width="1.2"/><path d="M522.7,773.5 Q521.1,782.2 513.6,794.2" stroke-width="1.8"/><path d="M513.6,794.2 Q510.7,800.4 508.1,809.2" stroke-width="1.2"/><path d="M513.6,794.2 Q515.7,804.7 513.0,810.6" stroke-width="1.2"/><path d="M538.0,716.0 Q543.1,703.8 547.0,695.9" stroke-width="4.2"/><path d="M547.0,695.9 Q551.3,684.1 550.3,677.9" stroke-width="2.7"/><path d="M550.3,677.9 Q548.3,672.7 549.0,664.4" stroke-width="1.8"/><path d="M549.0,664.4 Q545.7,659.2 546.7,653.8" stroke-width="1.2"/><path d="M549.0,664.4 Q548.3,659.4 549.3,654.7" stroke-width="1.2"/><path d="M550.3,677.9 Q551.5,668.7 549.9,664.0" stroke-width="1.8"/><path d="M549.9,664.0 Q546.7,660.1 549.4,652.9" stroke-width="1.2"/><path d="M549.9,664.0 Q545.0,658.5 545.6,654.5" stroke-width="1.2"/><path d="M547.0,695.9 Q551.1,688.3 556.7,680.4" stroke-width="2.7"/><path d="M556.7,680.4 Q564.7,677.7 567.3,669.1" stroke-width="1.8"/><path d="M567.3,669.1 Q572.7,662.2 573.0,660.3" stroke-width="1.2"/><path d="M567.3,669.1 Q572.5,668.8 577.2,664.5" stroke-width="1.2"/><path d="M556.7,680.4 Q556.1,671.4 560.7,667.3" stroke-width="1.8"/><path d="M560.7,667.3 Q564.2,661.4 562.2,658.2" stroke-width="1.2"/><path d="M560.7,667.3 Q563.0,663.7 566.6,658.6" stroke-width="1.2"/></g>
<path d="M522,716 C535,712 548,712 556,714 C552,730 545,748 536,762" fill="none" stroke="#f5f0ee" stroke-width="9" stroke-linecap="round" clip-path="url(#cutClip)"/>
<path d="M522,716 C535,712 548,712 556,714 C552,730 545,748 536,762" fill="none" stroke="#d8cccc" stroke-width="9" stroke-dasharray="1 3" opacity="0.6" clip-path="url(#cutClip)"/>
<g fill="#f6d39a" stroke="#e0a060" stroke-width="0.5"><circle cx="535.6" cy="650.3" r="1.6"/><circle cx="538.9" cy="650.9" r="1.3"/><circle cx="533.6" cy="652.4" r="1.5"/><circle cx="535.6" cy="653.5" r="1.6"/><circle cx="541.0" cy="649.8" r="1.7"/><circle cx="534.9" cy="650.9" r="1.9"/><circle cx="538.2" cy="651.7" r="1.8"/><circle cx="534.1" cy="651.8" r="1.7"/><circle cx="520.2" cy="644.7" r="1.9"/><circle cx="521.8" cy="649.5" r="1.9"/><circle cx="523.9" cy="650.9" r="1.6"/><circle cx="524.7" cy="647.6" r="2.0"/><circle cx="525.4" cy="645.2" r="1.4"/><circle cx="519.5" cy="651.3" r="1.6"/><circle cx="523.1" cy="646.6" r="1.7"/><circle cx="521.0" cy="647.0" r="1.7"/><circle cx="505.8" cy="656.8" r="1.8"/><circle cx="508.9" cy="656.5" r="2.0"/><circle cx="506.5" cy="651.6" r="1.9"/><circle cx="509.2" cy="656.8" r="1.7"/><circle cx="506.9" cy="652.0" r="1.9"/><circle cx="505.7" cy="652.5" r="1.3"/><circle cx="508.2" cy="657.4" r="1.4"/><circle cx="507.7" cy="653.4" r="1.4"/><circle cx="492.1" cy="669.9" r="1.9"/><circle cx="489.9" cy="668.8" r="1.3"/><circle cx="496.0" cy="666.8" r="1.9"/><circle cx="498.3" cy="668.0" r="2.0"/><circle cx="492.3" cy="665.0" r="1.7"/><circle cx="489.8" cy="665.9" r="1.6"/><circle cx="495.0" cy="665.6" r="1.3"/><circle cx="497.3" cy="666.7" r="2.0"/><circle cx="477.6" cy="699.1" r="1.6"/><circle cx="474.2" cy="701.0" r="1.7"/><circle cx="474.5" cy="700.8" r="2.0"/><circle cx="474.1" cy="699.5" r="1.8"/><circle cx="471.6" cy="698.6" r="2.0"/><circle cx="474.2" cy="700.3" r="1.3"/><circle cx="473.2" cy="700.6" r="1.3"/><circle cx="475.0" cy="700.9" r="1.3"/><circle cx="483.1" cy="687.8" r="1.8"/><circle cx="480.7" cy="689.4" r="1.8"/><circle cx="477.7" cy="684.9" r="1.8"/><circle cx="486.2" cy="686.3" r="1.6"/><circle cx="482.8" cy="686.7" r="1.6"/><circle cx="480.3" cy="687.1" r="1.7"/><circle cx="480.2" cy="687.1" r="1.8"/><circle cx="477.7" cy="688.5" r="1.8"/><circle cx="467.3" cy="738.1" r="1.9"/><circle cx="466.6" cy="737.8" r="1.6"/><circle cx="470.8" cy="737.2" r="1.5"/><circle cx="467.5" cy="742.3" r="1.6"/><circle cx="472.2" cy="737.7" r="1.5"/><circle cx="470.4" cy="742.7" r="1.6"/><circle cx="466.5" cy="737.3" r="1.7"/><circle cx="466.2" cy="742.1" r="1.9"/><circle cx="463.2" cy="780.5" r="1.9"/><circle cx="467.3" cy="784.1" r="1.5"/><circle cx="462.7" cy="780.5" r="1.9"/><circle cx="463.9" cy="780.9" r="1.6"/><circle cx="465.3" cy="781.4" r="1.9"/><circle cx="462.9" cy="778.5" r="2.0"/><circle cx="469.4" cy="785.4" r="1.6"/><circle cx="470.1" cy="785.0" r="1.5"/><circle cx="465.2" cy="802.4" r="1.8"/><circle cx="463.2" cy="798.5" r="1.5"/><circle cx="460.5" cy="797.0" r="1.7"/><circle cx="461.1" cy="802.2" r="1.3"/><circle cx="466.6" cy="801.4" r="1.9"/><circle cx="466.6" cy="802.8" r="1.7"/><circle cx="458.6" cy="801.7" r="1.4"/><circle cx="461.2" cy="801.1" r="1.7"/><circle cx="473.2" cy="813.1" r="1.7"/><circle cx="472.6" cy="808.3" r="1.9"/><circle cx="473.8" cy="812.0" r="1.5"/><circle cx="471.3" cy="810.2" r="1.9"/><circle cx="471.0" cy="812.0" r="1.9"/><circle cx="476.8" cy="812.3" r="1.3"/><circle cx="475.2" cy="812.5" r="1.3"/><circle cx="471.9" cy="808.4" r="1.7"/><circle cx="491.3" cy="811.8" r="1.8"/><circle cx="487.5" cy="808.9" r="1.4"/><circle cx="488.6" cy="809.0" r="2.0"/><circle cx="495.2" cy="809.1" r="1.7"/><circle cx="490.3" cy="810.7" r="1.5"/><circle cx="493.3" cy="812.6" r="1.6"/><circle cx="489.2" cy="810.8" r="1.4"/><circle cx="492.5" cy="813.5" r="1.6"/><circle cx="496.2" cy="792.7" r="1.6"/><circle cx="500.9" cy="797.0" r="1.6"/><circle cx="502.7" cy="795.9" r="1.6"/><circle cx="498.9" cy="795.0" r="1.8"/><circle cx="499.3" cy="796.4" r="1.6"/><circle cx="497.7" cy="795.3" r="1.8"/><circle cx="496.1" cy="794.5" r="1.6"/><circle cx="503.4" cy="798.1" r="1.6"/><circle cx="519.6" cy="782.0" r="1.5"/><circle cx="515.7" cy="777.4" r="1.9"/><circle cx="517.5" cy="782.7" r="1.9"/><circle cx="517.5" cy="781.6" r="1.7"/><circle cx="512.4" cy="780.6" r="1.3"/><circle cx="512.8" cy="781.9" r="1.3"/><circle cx="512.3" cy="777.2" r="1.9"/><circle cx="513.1" cy="776.7" r="1.9"/><circle cx="466.6" cy="762.4" r="1.8"/><circle cx="473.0" cy="763.2" r="1.7"/><circle cx="472.7" cy="756.8" r="1.8"/><circle cx="470.1" cy="761.5" r="1.4"/><circle cx="472.2" cy="763.0" r="1.3"/><circle cx="468.4" cy="760.4" r="1.9"/><circle cx="467.7" cy="757.8" r="1.5"/><circle cx="471.0" cy="761.8" r="1.6"/></g>
</g>
<g id="eye">
<clipPath id="ubClip"><path d="M429,289 C460,276 500,256 530,236 C540,231 550,226 557,214 C562,210 568,208 571,206 C576,203 580,199 585,197 L614,197 C613,200 612,203 611,205 C609,210 607,214 606,217 C604,219 602,220 600,221 L571,221 C565,222 560,223 557,225 C548,230 540,234 530,240 C500,258 460,280 429,294 Z"/></clipPath><clipPath id="lbClip"><path d="M429,328 C460,334 500,338 540,341 C570,342 595,342 608,341 C615,338 620,335 622,333 C626,331 628,331 630,331 C631,345 632,357 632,368 C630,370 627,371 624,370 C618,362 612,354 607,352 C585,351 560,350 540,348 C530,349 522,351 516,354 C514,360 512,368 510,376 C506,370 500,362 494,358 C480,352 465,348 455,344 C445,340 435,336 429,333 Z"/></clipPath>
<path d="M429,292 C460,278 500,260 530,240 C545,230 560,224 571,221 L600,221 C600,226 598,230 597,233 L583,233 C560,242 530,256 500,272 C470,288 450,296 429,303 Z" fill="#e26a66"/>
<path d="M429,318 C470,323 520,327 560,329 C580,330 595,330 601,329 C610,325 615,321 618,321 L624,321 C627,324 629,328 630,331 C620,335 612,340 608,341 C570,342 520,340 480,336 C460,334 440,331 429,330 Z" fill="#e06462"/>
<path d="M440,324 C480,330 540,334 600,334" fill="none" stroke="#f09a96" stroke-width="3" opacity="0.7"/>
<path d="M429,306 C450,298 470,292 490,290 L492,320 C470,322 450,320 429,318 Z" fill="#f6f7f8"/>
<path d="M455,302 C490,284 520,264 550,248 C565,240 578,234 590,232 L594,272 C570,278 540,284 510,292 C490,296 470,300 455,302 Z" fill="#e5805c"/>
<path d="M470,294 C500,280 540,258 580,240" fill="none" stroke="#f2aa88" stroke-width="3" opacity="0.8"/>
<path d="M475,300 C510,288 550,272 590,262" fill="none" stroke="#f4f0ee" stroke-width="1.6" opacity="0.9"/>
<path d="M470,314 C510,318 560,318 600,314 L602,326 C560,330 510,330 470,324 Z" fill="#eab49a"/>
<ellipse cx="589" cy="278" rx="47" ry="48" fill="#f3f6f8" stroke="#b6c6d0" stroke-width="1.5"/>
<path d="M548,262 C560,240 590,232 612,240 C590,246 570,256 560,280 Z" fill="#dfe8ed" opacity="0.8"/>
<ellipse cx="580" cy="300" rx="30" ry="20" fill="#dbe5ea" opacity="0.7" filter="url(#blur2)"/>
<path d="M618,245 C612,258 612,280 632,292 C637,282 637,262 629,250 Z" fill="#a9b6d2" opacity="0.85"/>
<path d="M618,245 C612,258 612,280 632,292" fill="none" stroke="#3d9ad8" stroke-width="1.8"/>
<path d="M626,262 C630,270 632,276 630,282" fill="none" stroke="#556070" stroke-width="2"/>
<path d="M568,222 C575,219 583,221 585,228 C585,245 584,260 582,270 C577,270 573,268 572,265 C571,250 569,236 568,222 Z" fill="#eef2f4" stroke="#a9b8c1" stroke-width="1"/>
<path d="M560,226 C566,220 575,218 582,220" fill="none" stroke="#dfe6ea" stroke-width="6"/>
<path d="M446,305 C458,301 468,298 478,295 C510,286 545,276 592,268 C600,272 606,277 612,283 C596,293 565,304 540,311 C512,316 492,317 478,317 C466,315 456,310 446,305 Z" fill="#e8784a"/>
<path d="M482,302 C520,294 560,285 592,278 M482,309 C520,302 560,293 598,286" fill="none" stroke="#f3a274" stroke-width="1.5" opacity="0.7"/>
<path d="M446,305 C458,300 470,299 478,298 C483,305 483,310 478,316 C466,314 456,310 446,305 Z" fill="#e98c70"/>
<path d="M585,270 C600,274 615,280 624,288 M588,280 C600,283 612,290 620,296" fill="none" stroke="#f1c6b0" stroke-width="1.2" opacity="0.8"/>
<path d="M552,316 C568,326 590,328 606,322 C600,314 585,310 560,310 Z" fill="#e8eef1" stroke="#b0c0c8" stroke-width="0.8"/>
<path d="M429,289 C460,276 500,256 530,236 C540,231 550,226 557,214 C562,210 568,208 571,206 C576,203 580,199 585,197 L614,197 C613,200 612,203 611,205 C609,210 607,214 606,217 C604,219 602,220 600,221 L571,221 C565,222 560,223 557,225 C548,230 540,234 530,240 C500,258 460,280 429,294 Z" fill="#ecc88e" stroke="#b8925a" stroke-width="1"/>
<g fill="#4a3a20" opacity="0.8" clip-path="url(#ubClip)"><ellipse cx="497.8" cy="219.2" rx="0.9" ry="0.9" transform="rotate(6 497.8 219.2)"/><ellipse cx="556.8" cy="253.1" rx="1.1" ry="0.8" transform="rotate(6 556.8 253.1)"/><ellipse cx="574.2" cy="264.5" rx="1.6" ry="0.7" transform="rotate(-28 574.2 264.5)"/><ellipse cx="453.6" cy="270.9" rx="0.9" ry="0.8" transform="rotate(10 453.6 270.9)"/><ellipse cx="436.4" cy="277.4" rx="0.7" ry="0.8" transform="rotate(27 436.4 277.4)"/><ellipse cx="466.2" cy="271.3" rx="1.5" ry="0.6" transform="rotate(14 466.2 271.3)"/><ellipse cx="448.6" cy="290.9" rx="1.5" ry="0.9" transform="rotate(-36 448.6 290.9)"/><ellipse cx="485.7" cy="260.1" rx="1.4" ry="0.6" transform="rotate(31 485.7 260.1)"/><ellipse cx="586.7" cy="226.6" rx="0.9" ry="0.8" transform="rotate(-7 586.7 226.6)"/><ellipse cx="551.7" cy="246.8" rx="1.1" ry="0.5" transform="rotate(-29 551.7 246.8)"/><ellipse cx="512.6" cy="271.5" rx="1.2" ry="0.8" transform="rotate(3 512.6 271.5)"/><ellipse cx="593.1" cy="263.8" rx="1.1" ry="0.6" transform="rotate(-35 593.1 263.8)"/><ellipse cx="432.6" cy="285.6" rx="1.7" ry="0.8" transform="rotate(-31 432.6 285.6)"/><ellipse cx="551.2" cy="208.4" rx="1.7" ry="0.8" transform="rotate(20 551.2 208.4)"/><ellipse cx="541.3" cy="238.9" rx="1.6" ry="0.9" transform="rotate(-21 541.3 238.9)"/><ellipse cx="508.5" cy="272.0" rx="1.4" ry="0.7" transform="rotate(-4 508.5 272.0)"/><ellipse cx="609.8" cy="224.0" rx="0.9" ry="0.8" transform="rotate(-18 609.8 224.0)"/><ellipse cx="596.4" cy="229.2" rx="1.7" ry="0.7" transform="rotate(31 596.4 229.2)"/><ellipse cx="568.5" cy="271.9" rx="0.9" ry="0.6" transform="rotate(-38 568.5 271.9)"/><ellipse cx="459.5" cy="265.0" rx="0.8" ry="0.6" transform="rotate(5 459.5 265.0)"/><ellipse cx="454.6" cy="229.6" rx="1.0" ry="0.8" transform="rotate(-31 454.6 229.6)"/><ellipse cx="615.5" cy="257.9" rx="1.5" ry="0.7" transform="rotate(-0 615.5 257.9)"/><ellipse cx="610.4" cy="288.8" rx="1.6" ry="0.5" transform="rotate(7 610.4 288.8)"/><ellipse cx="604.9" cy="262.0" rx="1.3" ry="0.8" transform="rotate(-26 604.9 262.0)"/><ellipse cx="564.0" cy="277.3" rx="0.8" ry="0.7" transform="rotate(8 564.0 277.3)"/><ellipse cx="492.2" cy="266.6" rx="1.7" ry="0.9" transform="rotate(-15 492.2 266.6)"/><ellipse cx="454.0" cy="284.7" rx="1.4" ry="0.8" transform="rotate(30 454.0 284.7)"/><ellipse cx="478.4" cy="256.7" rx="1.0" ry="0.8" transform="rotate(15 478.4 256.7)"/><ellipse cx="470.7" cy="247.5" rx="1.4" ry="0.6" transform="rotate(-25 470.7 247.5)"/><ellipse cx="515.6" cy="202.6" rx="1.2" ry="0.9" transform="rotate(26 515.6 202.6)"/><ellipse cx="435.4" cy="281.7" rx="1.5" ry="0.8" transform="rotate(-38 435.4 281.7)"/><ellipse cx="570.1" cy="215.5" rx="1.6" ry="0.6" transform="rotate(-11 570.1 215.5)"/><ellipse cx="457.9" cy="286.1" rx="0.9" ry="0.8" transform="rotate(1 457.9 286.1)"/><ellipse cx="453.4" cy="263.8" rx="1.3" ry="0.5" transform="rotate(26 453.4 263.8)"/><ellipse cx="476.7" cy="197.5" rx="1.5" ry="0.8" transform="rotate(-9 476.7 197.5)"/><ellipse cx="460.6" cy="250.3" rx="1.3" ry="0.8" transform="rotate(-1 460.6 250.3)"/><ellipse cx="533.5" cy="270.7" rx="0.9" ry="0.6" transform="rotate(-1 533.5 270.7)"/><ellipse cx="569.0" cy="279.3" rx="1.6" ry="0.7" transform="rotate(17 569.0 279.3)"/><ellipse cx="445.3" cy="235.8" rx="0.8" ry="0.8" transform="rotate(40 445.3 235.8)"/><ellipse cx="552.9" cy="274.0" rx="1.1" ry="0.8" transform="rotate(-33 552.9 274.0)"/><ellipse cx="495.8" cy="231.8" rx="1.7" ry="0.6" transform="rotate(-27 495.8 231.8)"/><ellipse cx="442.1" cy="283.5" rx="1.0" ry="0.9" transform="rotate(-15 442.1 283.5)"/><ellipse cx="584.8" cy="215.5" rx="1.7" ry="0.9" transform="rotate(30 584.8 215.5)"/><ellipse cx="557.1" cy="289.1" rx="1.7" ry="0.9" transform="rotate(-18 557.1 289.1)"/><ellipse cx="587.3" cy="276.9" rx="1.1" ry="0.6" transform="rotate(32 587.3 276.9)"/><ellipse cx="515.2" cy="250.7" rx="1.7" ry="0.7" transform="rotate(-20 515.2 250.7)"/><ellipse cx="556.0" cy="250.9" rx="1.0" ry="0.8" transform="rotate(32 556.0 250.9)"/><ellipse cx="472.0" cy="280.3" rx="1.5" ry="0.7" transform="rotate(-25 472.0 280.3)"/><ellipse cx="552.0" cy="224.5" rx="1.0" ry="0.8" transform="rotate(-18 552.0 224.5)"/><ellipse cx="442.7" cy="283.8" rx="1.8" ry="0.6" transform="rotate(-8 442.7 283.8)"/><ellipse cx="529.0" cy="274.0" rx="0.7" ry="0.8" transform="rotate(-21 529.0 274.0)"/><ellipse cx="602.5" cy="238.5" rx="1.7" ry="0.7" transform="rotate(12 602.5 238.5)"/><ellipse cx="432.2" cy="216.3" rx="1.0" ry="0.6" transform="rotate(-26 432.2 216.3)"/><ellipse cx="505.4" cy="204.3" rx="1.3" ry="0.9" transform="rotate(29 505.4 204.3)"/><ellipse cx="543.8" cy="298.1" rx="1.5" ry="0.8" transform="rotate(-3 543.8 298.1)"/><ellipse cx="440.7" cy="288.8" rx="1.7" ry="0.8" transform="rotate(15 440.7 288.8)"/><ellipse cx="580.2" cy="295.7" rx="1.8" ry="0.8" transform="rotate(-39 580.2 295.7)"/><ellipse cx="605.9" cy="254.6" rx="1.2" ry="0.7" transform="rotate(-18 605.9 254.6)"/><ellipse cx="431.5" cy="259.9" rx="1.4" ry="0.5" transform="rotate(34 431.5 259.9)"/><ellipse cx="597.6" cy="285.8" rx="1.3" ry="0.7" transform="rotate(-2 597.6 285.8)"/><ellipse cx="495.8" cy="295.3" rx="1.7" ry="0.9" transform="rotate(2 495.8 295.3)"/><ellipse cx="522.6" cy="267.1" rx="1.0" ry="0.6" transform="rotate(39 522.6 267.1)"/><ellipse cx="476.5" cy="223.4" rx="1.2" ry="0.5" transform="rotate(2 476.5 223.4)"/><ellipse cx="455.6" cy="282.1" rx="0.8" ry="0.8" transform="rotate(-19 455.6 282.1)"/><ellipse cx="575.5" cy="279.1" rx="1.8" ry="0.6" transform="rotate(39 575.5 279.1)"/><ellipse cx="453.3" cy="231.9" rx="0.7" ry="0.7" transform="rotate(-33 453.3 231.9)"/><ellipse cx="531.1" cy="293.0" rx="1.6" ry="0.8" transform="rotate(-33 531.1 293.0)"/><ellipse cx="613.4" cy="233.3" rx="1.7" ry="0.6" transform="rotate(-16 613.4 233.3)"/><ellipse cx="606.0" cy="273.4" rx="0.9" ry="0.7" transform="rotate(3 606.0 273.4)"/><ellipse cx="473.1" cy="217.9" rx="0.8" ry="0.7" transform="rotate(-7 473.1 217.9)"/><ellipse cx="491.8" cy="245.4" rx="1.1" ry="0.7" transform="rotate(21 491.8 245.4)"/><ellipse cx="453.3" cy="205.0" rx="1.2" ry="0.6" transform="rotate(-2 453.3 205.0)"/><ellipse cx="589.2" cy="294.4" rx="1.6" ry="0.9" transform="rotate(-22 589.2 294.4)"/><ellipse cx="491.1" cy="206.7" rx="1.0" ry="0.6" transform="rotate(-21 491.1 206.7)"/><ellipse cx="488.7" cy="293.8" rx="1.3" ry="0.9" transform="rotate(2 488.7 293.8)"/><ellipse cx="568.0" cy="265.4" rx="1.4" ry="0.9" transform="rotate(8 568.0 265.4)"/><ellipse cx="521.2" cy="219.1" rx="0.8" ry="0.7" transform="rotate(-8 521.2 219.1)"/><ellipse cx="449.9" cy="295.0" rx="0.7" ry="0.7" transform="rotate(-20 449.9 295.0)"/><ellipse cx="503.0" cy="282.9" rx="1.8" ry="0.7" transform="rotate(17 503.0 282.9)"/><ellipse cx="595.5" cy="225.5" rx="1.1" ry="0.7" transform="rotate(27 595.5 225.5)"/><ellipse cx="482.9" cy="289.1" rx="0.9" ry="0.8" transform="rotate(10 482.9 289.1)"/><ellipse cx="431.5" cy="229.4" rx="1.6" ry="0.7" transform="rotate(-35 431.5 229.4)"/><ellipse cx="514.8" cy="251.8" rx="1.2" ry="0.7" transform="rotate(35 514.8 251.8)"/><ellipse cx="553.1" cy="241.6" rx="1.2" ry="0.8" transform="rotate(-21 553.1 241.6)"/><ellipse cx="517.1" cy="274.8" rx="0.8" ry="0.6" transform="rotate(-36 517.1 274.8)"/><ellipse cx="552.9" cy="279.0" rx="1.4" ry="0.7" transform="rotate(-37 552.9 279.0)"/><ellipse cx="494.5" cy="243.6" rx="1.1" ry="0.6" transform="rotate(-10 494.5 243.6)"/><ellipse cx="468.4" cy="202.4" rx="1.3" ry="0.5" transform="rotate(-5 468.4 202.4)"/><ellipse cx="501.7" cy="280.1" rx="1.5" ry="0.7" transform="rotate(-40 501.7 280.1)"/><ellipse cx="560.9" cy="271.0" rx="1.4" ry="0.9" transform="rotate(-1 560.9 271.0)"/><ellipse cx="500.6" cy="251.1" rx="0.8" ry="0.8" transform="rotate(-29 500.6 251.1)"/><ellipse cx="552.9" cy="259.2" rx="1.5" ry="0.6" transform="rotate(17 552.9 259.2)"/><ellipse cx="605.1" cy="298.5" rx="1.5" ry="0.6" transform="rotate(22 605.1 298.5)"/><ellipse cx="458.9" cy="297.9" rx="0.7" ry="0.5" transform="rotate(-8 458.9 297.9)"/><ellipse cx="439.9" cy="295.0" rx="1.7" ry="0.6" transform="rotate(30 439.9 295.0)"/><ellipse cx="491.8" cy="280.9" rx="0.8" ry="0.9" transform="rotate(-4 491.8 280.9)"/><ellipse cx="470.1" cy="241.7" rx="0.7" ry="0.5" transform="rotate(-2 470.1 241.7)"/><ellipse cx="538.9" cy="299.7" rx="1.3" ry="0.6" transform="rotate(-19 538.9 299.7)"/><ellipse cx="429.0" cy="291.2" rx="1.5" ry="0.6" transform="rotate(21 429.0 291.2)"/><ellipse cx="556.8" cy="262.1" rx="1.2" ry="0.8" transform="rotate(34 556.8 262.1)"/><ellipse cx="569.8" cy="214.5" rx="1.2" ry="0.8" transform="rotate(36 569.8 214.5)"/><ellipse cx="521.5" cy="245.6" rx="0.8" ry="0.5" transform="rotate(-19 521.5 245.6)"/><ellipse cx="554.2" cy="217.5" rx="1.5" ry="0.8" transform="rotate(-17 554.2 217.5)"/><ellipse cx="524.7" cy="282.6" rx="0.7" ry="0.8" transform="rotate(20 524.7 282.6)"/><ellipse cx="609.6" cy="229.9" rx="1.4" ry="0.8" transform="rotate(-16 609.6 229.9)"/><ellipse cx="573.1" cy="273.7" rx="1.7" ry="0.7" transform="rotate(-31 573.1 273.7)"/><ellipse cx="523.7" cy="266.2" rx="1.7" ry="0.8" transform="rotate(4 523.7 266.2)"/><ellipse cx="588.4" cy="284.3" rx="1.4" ry="0.6" transform="rotate(-39 588.4 284.3)"/><ellipse cx="537.0" cy="196.4" rx="1.1" ry="0.9" transform="rotate(-19 537.0 196.4)"/><ellipse cx="556.6" cy="272.2" rx="1.1" ry="0.7" transform="rotate(31 556.6 272.2)"/><ellipse cx="563.4" cy="230.2" rx="1.8" ry="0.8" transform="rotate(-21 563.4 230.2)"/><ellipse cx="579.3" cy="277.3" rx="1.7" ry="0.8" transform="rotate(24 579.3 277.3)"/><ellipse cx="499.7" cy="274.4" rx="1.5" ry="0.8" transform="rotate(-23 499.7 274.4)"/><ellipse cx="613.4" cy="255.4" rx="1.7" ry="0.7" transform="rotate(22 613.4 255.4)"/><ellipse cx="540.4" cy="225.6" rx="1.2" ry="0.8" transform="rotate(-18 540.4 225.6)"/><ellipse cx="601.6" cy="271.8" rx="1.6" ry="0.7" transform="rotate(17 601.6 271.8)"/><ellipse cx="546.4" cy="238.6" rx="0.7" ry="0.7" transform="rotate(15 546.4 238.6)"/><ellipse cx="531.0" cy="237.1" rx="1.3" ry="0.5" transform="rotate(12 531.0 237.1)"/><ellipse cx="437.6" cy="208.8" rx="0.8" ry="0.9" transform="rotate(33 437.6 208.8)"/><ellipse cx="544.6" cy="293.5" rx="0.9" ry="0.8" transform="rotate(-2 544.6 293.5)"/><ellipse cx="445.6" cy="255.6" rx="0.8" ry="0.6" transform="rotate(-29 445.6 255.6)"/><ellipse cx="471.9" cy="289.2" rx="1.2" ry="0.7" transform="rotate(-28 471.9 289.2)"/><ellipse cx="454.1" cy="206.1" rx="1.5" ry="0.7" transform="rotate(19 454.1 206.1)"/><ellipse cx="537.0" cy="221.4" rx="1.1" ry="0.6" transform="rotate(34 537.0 221.4)"/><ellipse cx="559.3" cy="282.4" rx="1.4" ry="0.9" transform="rotate(21 559.3 282.4)"/><ellipse cx="425.1" cy="203.4" rx="0.7" ry="0.9" transform="rotate(-23 425.1 203.4)"/><ellipse cx="513.4" cy="256.4" rx="0.9" ry="0.6" transform="rotate(31 513.4 256.4)"/><ellipse cx="459.9" cy="282.3" rx="1.2" ry="0.8" transform="rotate(-9 459.9 282.3)"/><ellipse cx="554.6" cy="269.0" rx="1.2" ry="0.6" transform="rotate(-6 554.6 269.0)"/><ellipse cx="567.4" cy="196.1" rx="0.9" ry="0.6" transform="rotate(16 567.4 196.1)"/><ellipse cx="522.2" cy="218.6" rx="1.7" ry="0.7" transform="rotate(31 522.2 218.6)"/><ellipse cx="497.6" cy="294.8" rx="1.3" ry="0.6" transform="rotate(-28 497.6 294.8)"/><ellipse cx="577.9" cy="213.3" rx="1.6" ry="0.8" transform="rotate(-29 577.9 213.3)"/><ellipse cx="564.0" cy="268.6" rx="0.8" ry="0.8" transform="rotate(36 564.0 268.6)"/><ellipse cx="489.1" cy="250.7" rx="1.2" ry="0.6" transform="rotate(-27 489.1 250.7)"/><ellipse cx="551.9" cy="296.6" rx="0.8" ry="0.5" transform="rotate(3 551.9 296.6)"/><ellipse cx="475.7" cy="286.2" rx="1.0" ry="0.5" transform="rotate(-15 475.7 286.2)"/><ellipse cx="503.4" cy="240.4" rx="1.2" ry="0.6" transform="rotate(37 503.4 240.4)"/><ellipse cx="427.6" cy="218.5" rx="1.6" ry="0.6" transform="rotate(-23 427.6 218.5)"/><ellipse cx="499.6" cy="261.4" rx="1.6" ry="0.8" transform="rotate(-26 499.6 261.4)"/><ellipse cx="603.0" cy="213.4" rx="1.6" ry="0.8" transform="rotate(-31 603.0 213.4)"/><ellipse cx="497.3" cy="217.3" rx="1.2" ry="0.8" transform="rotate(24 497.3 217.3)"/><ellipse cx="569.7" cy="198.1" rx="1.0" ry="0.9" transform="rotate(19 569.7 198.1)"/><ellipse cx="570.7" cy="213.3" rx="0.9" ry="0.7" transform="rotate(9 570.7 213.3)"/><ellipse cx="448.8" cy="286.8" rx="1.3" ry="0.9" transform="rotate(33 448.8 286.8)"/><ellipse cx="501.4" cy="223.9" rx="1.6" ry="0.7" transform="rotate(8 501.4 223.9)"/><ellipse cx="562.6" cy="297.7" rx="1.3" ry="0.7" transform="rotate(29 562.6 297.7)"/><ellipse cx="439.6" cy="241.0" rx="0.9" ry="0.7" transform="rotate(26 439.6 241.0)"/><ellipse cx="506.4" cy="216.8" rx="0.8" ry="0.9" transform="rotate(7 506.4 216.8)"/><ellipse cx="603.7" cy="223.2" rx="1.0" ry="0.6" transform="rotate(11 603.7 223.2)"/><ellipse cx="532.2" cy="284.9" rx="1.3" ry="0.6" transform="rotate(-32 532.2 284.9)"/><ellipse cx="575.1" cy="294.6" rx="1.1" ry="0.6" transform="rotate(2 575.1 294.6)"/><ellipse cx="496.7" cy="273.2" rx="1.2" ry="0.7" transform="rotate(-10 496.7 273.2)"/><ellipse cx="472.9" cy="291.9" rx="1.7" ry="0.6" transform="rotate(-10 472.9 291.9)"/><ellipse cx="562.3" cy="232.1" rx="1.2" ry="0.7" transform="rotate(-18 562.3 232.1)"/><ellipse cx="499.0" cy="270.4" rx="1.7" ry="0.5" transform="rotate(30 499.0 270.4)"/><ellipse cx="441.6" cy="264.1" rx="0.8" ry="0.7" transform="rotate(-22 441.6 264.1)"/><ellipse cx="579.5" cy="197.2" rx="1.3" ry="0.9" transform="rotate(3 579.5 197.2)"/><ellipse cx="509.4" cy="263.1" rx="1.6" ry="0.8" transform="rotate(-7 509.4 263.1)"/><ellipse cx="464.2" cy="277.2" rx="1.3" ry="0.9" transform="rotate(-13 464.2 277.2)"/><ellipse cx="483.6" cy="243.9" rx="1.8" ry="0.8" transform="rotate(-16 483.6 243.9)"/><ellipse cx="557.3" cy="281.4" rx="0.8" ry="0.8" transform="rotate(-2 557.3 281.4)"/><ellipse cx="593.4" cy="273.8" rx="1.1" ry="0.5" transform="rotate(-8 593.4 273.8)"/><ellipse cx="497.6" cy="216.4" rx="1.5" ry="0.8" transform="rotate(-5 497.6 216.4)"/><ellipse cx="447.1" cy="253.7" rx="1.1" ry="0.5" transform="rotate(-32 447.1 253.7)"/><ellipse cx="499.3" cy="198.6" rx="0.8" ry="0.9" transform="rotate(3 499.3 198.6)"/><ellipse cx="460.2" cy="199.4" rx="1.0" ry="0.6" transform="rotate(35 460.2 199.4)"/><ellipse cx="460.2" cy="291.6" rx="1.3" ry="0.8" transform="rotate(5 460.2 291.6)"/><ellipse cx="608.3" cy="295.8" rx="1.4" ry="0.6" transform="rotate(-16 608.3 295.8)"/><ellipse cx="456.2" cy="219.1" rx="1.4" ry="0.7" transform="rotate(3 456.2 219.1)"/><ellipse cx="606.9" cy="271.8" rx="1.7" ry="0.8" transform="rotate(-20 606.9 271.8)"/><ellipse cx="433.1" cy="268.5" rx="0.9" ry="0.8" transform="rotate(-33 433.1 268.5)"/><ellipse cx="535.7" cy="250.4" rx="1.2" ry="0.8" transform="rotate(16 535.7 250.4)"/><ellipse cx="467.2" cy="246.7" rx="1.2" ry="0.7" transform="rotate(-22 467.2 246.7)"/><ellipse cx="467.3" cy="259.7" rx="0.8" ry="0.7" transform="rotate(-0 467.3 259.7)"/><ellipse cx="513.0" cy="267.6" rx="1.6" ry="0.7" transform="rotate(-27 513.0 267.6)"/><ellipse cx="458.8" cy="293.0" rx="1.2" ry="0.7" transform="rotate(-22 458.8 293.0)"/><ellipse cx="545.3" cy="234.9" rx="1.3" ry="0.7" transform="rotate(33 545.3 234.9)"/><ellipse cx="573.2" cy="290.9" rx="1.7" ry="0.5" transform="rotate(9 573.2 290.9)"/><ellipse cx="477.2" cy="230.9" rx="1.3" ry="0.7" transform="rotate(6 477.2 230.9)"/><ellipse cx="508.7" cy="206.3" rx="1.8" ry="0.5" transform="rotate(36 508.7 206.3)"/><ellipse cx="613.6" cy="264.8" rx="0.9" ry="0.8" transform="rotate(-13 613.6 264.8)"/><ellipse cx="493.6" cy="284.1" rx="1.5" ry="0.5" transform="rotate(35 493.6 284.1)"/><ellipse cx="500.0" cy="226.3" rx="1.1" ry="0.6" transform="rotate(-6 500.0 226.3)"/><ellipse cx="585.5" cy="297.8" rx="1.6" ry="0.8" transform="rotate(-6 585.5 297.8)"/><ellipse cx="516.2" cy="210.7" rx="1.0" ry="0.5" transform="rotate(22 516.2 210.7)"/><ellipse cx="445.0" cy="213.7" rx="1.2" ry="0.8" transform="rotate(-34 445.0 213.7)"/><ellipse cx="569.0" cy="226.4" rx="1.1" ry="0.7" transform="rotate(39 569.0 226.4)"/><ellipse cx="615.0" cy="222.8" rx="1.4" ry="0.6" transform="rotate(-14 615.0 222.8)"/><ellipse cx="582.2" cy="262.6" rx="1.3" ry="0.6" transform="rotate(-10 582.2 262.6)"/><ellipse cx="514.7" cy="281.2" rx="1.0" ry="0.7" transform="rotate(23 514.7 281.2)"/><ellipse cx="435.7" cy="218.9" rx="1.5" ry="0.5" transform="rotate(36 435.7 218.9)"/><ellipse cx="507.8" cy="261.4" rx="0.8" ry="0.7" transform="rotate(-3 507.8 261.4)"/><ellipse cx="573.8" cy="257.4" rx="0.9" ry="0.5" transform="rotate(-19 573.8 257.4)"/><ellipse cx="536.3" cy="207.1" rx="0.9" ry="0.6" transform="rotate(-21 536.3 207.1)"/><ellipse cx="540.9" cy="218.3" rx="0.9" ry="0.8" transform="rotate(10 540.9 218.3)"/><ellipse cx="566.3" cy="210.3" rx="1.4" ry="0.7" transform="rotate(-2 566.3 210.3)"/><ellipse cx="465.9" cy="280.9" rx="1.6" ry="0.7" transform="rotate(-11 465.9 280.9)"/><ellipse cx="472.7" cy="248.0" rx="1.0" ry="0.7" transform="rotate(9 472.7 248.0)"/><ellipse cx="587.6" cy="284.7" rx="0.8" ry="0.8" transform="rotate(-9 587.6 284.7)"/><ellipse cx="447.2" cy="242.9" rx="1.7" ry="0.7" transform="rotate(-16 447.2 242.9)"/><ellipse cx="527.0" cy="254.3" rx="1.7" ry="0.9" transform="rotate(39 527.0 254.3)"/><ellipse cx="438.1" cy="271.2" rx="1.2" ry="0.7" transform="rotate(27 438.1 271.2)"/><ellipse cx="482.2" cy="195.5" rx="1.0" ry="0.9" transform="rotate(34 482.2 195.5)"/><ellipse cx="513.5" cy="209.1" rx="1.5" ry="0.6" transform="rotate(30 513.5 209.1)"/><ellipse cx="521.7" cy="226.1" rx="0.8" ry="0.6" transform="rotate(-13 521.7 226.1)"/><ellipse cx="481.4" cy="273.8" rx="1.6" ry="0.8" transform="rotate(-4 481.4 273.8)"/><ellipse cx="554.0" cy="199.7" rx="1.3" ry="0.7" transform="rotate(9 554.0 199.7)"/><ellipse cx="476.1" cy="286.0" rx="1.1" ry="0.7" transform="rotate(-30 476.1 286.0)"/><ellipse cx="524.1" cy="195.3" rx="1.3" ry="0.6" transform="rotate(36 524.1 195.3)"/><ellipse cx="510.4" cy="219.4" rx="1.4" ry="0.6" transform="rotate(2 510.4 219.4)"/><ellipse cx="511.0" cy="294.1" rx="1.5" ry="0.8" transform="rotate(39 511.0 294.1)"/><ellipse cx="539.6" cy="265.3" rx="1.5" ry="0.8" transform="rotate(29 539.6 265.3)"/><ellipse cx="592.0" cy="291.7" rx="1.7" ry="0.6" transform="rotate(22 592.0 291.7)"/><ellipse cx="561.3" cy="288.9" rx="1.1" ry="0.8" transform="rotate(-40 561.3 288.9)"/><ellipse cx="498.7" cy="218.9" rx="1.0" ry="0.5" transform="rotate(1 498.7 218.9)"/><ellipse cx="451.5" cy="200.7" rx="1.4" ry="0.8" transform="rotate(-14 451.5 200.7)"/><ellipse cx="432.9" cy="286.3" rx="1.1" ry="0.7" transform="rotate(32 432.9 286.3)"/><ellipse cx="453.9" cy="263.7" rx="1.1" ry="0.7" transform="rotate(-4 453.9 263.7)"/><ellipse cx="463.4" cy="293.7" rx="1.3" ry="0.6" transform="rotate(-3 463.4 293.7)"/><ellipse cx="539.6" cy="291.2" rx="1.0" ry="0.5" transform="rotate(-3 539.6 291.2)"/><ellipse cx="587.0" cy="198.2" rx="1.7" ry="0.7" transform="rotate(-2 587.0 198.2)"/><ellipse cx="544.1" cy="272.4" rx="1.4" ry="0.9" transform="rotate(9 544.1 272.4)"/><ellipse cx="484.9" cy="237.6" rx="1.2" ry="0.6" transform="rotate(-16 484.9 237.6)"/><ellipse cx="496.6" cy="294.2" rx="1.7" ry="0.8" transform="rotate(17 496.6 294.2)"/><ellipse cx="474.2" cy="233.3" rx="0.9" ry="0.8" transform="rotate(14 474.2 233.3)"/><ellipse cx="549.2" cy="197.1" rx="1.5" ry="0.8" transform="rotate(2 549.2 197.1)"/><ellipse cx="569.7" cy="280.4" rx="1.4" ry="0.6" transform="rotate(5 569.7 280.4)"/><ellipse cx="592.8" cy="205.3" rx="1.6" ry="0.6" transform="rotate(15 592.8 205.3)"/><ellipse cx="448.4" cy="242.9" rx="1.8" ry="0.7" transform="rotate(-2 448.4 242.9)"/><ellipse cx="485.0" cy="233.8" rx="1.4" ry="0.9" transform="rotate(-30 485.0 233.8)"/><ellipse cx="490.2" cy="234.1" rx="1.0" ry="0.9" transform="rotate(25 490.2 234.1)"/><ellipse cx="524.5" cy="197.0" rx="1.7" ry="0.8" transform="rotate(31 524.5 197.0)"/><ellipse cx="482.9" cy="228.6" rx="1.1" ry="0.7" transform="rotate(-4 482.9 228.6)"/><ellipse cx="614.0" cy="284.6" rx="0.8" ry="0.7" transform="rotate(-28 614.0 284.6)"/><ellipse cx="517.7" cy="242.5" rx="1.4" ry="0.8" transform="rotate(-2 517.7 242.5)"/><ellipse cx="591.7" cy="215.2" rx="1.1" ry="0.5" transform="rotate(26 591.7 215.2)"/><ellipse cx="580.5" cy="256.4" rx="1.0" ry="0.6" transform="rotate(-37 580.5 256.4)"/><ellipse cx="545.4" cy="217.5" rx="1.0" ry="0.6" transform="rotate(23 545.4 217.5)"/><ellipse cx="480.1" cy="293.4" rx="1.3" ry="0.5" transform="rotate(-22 480.1 293.4)"/><ellipse cx="615.2" cy="247.5" rx="1.3" ry="0.5" transform="rotate(24 615.2 247.5)"/><ellipse cx="496.1" cy="196.7" rx="0.9" ry="0.6" transform="rotate(-33 496.1 196.7)"/><ellipse cx="483.4" cy="262.8" rx="0.9" ry="0.9" transform="rotate(9 483.4 262.8)"/><ellipse cx="549.5" cy="259.2" rx="1.3" ry="0.8" transform="rotate(-19 549.5 259.2)"/><ellipse cx="490.6" cy="218.4" rx="1.3" ry="0.7" transform="rotate(25 490.6 218.4)"/><ellipse cx="559.5" cy="285.3" rx="1.1" ry="0.8" transform="rotate(-27 559.5 285.3)"/><ellipse cx="517.4" cy="261.7" rx="0.7" ry="0.6" transform="rotate(-9 517.4 261.7)"/><ellipse cx="563.5" cy="238.5" rx="1.8" ry="0.8" transform="rotate(27 563.5 238.5)"/><ellipse cx="612.7" cy="249.9" rx="1.4" ry="0.5" transform="rotate(5 612.7 249.9)"/><ellipse cx="474.1" cy="231.8" rx="1.3" ry="0.6" transform="rotate(11 474.1 231.8)"/><ellipse cx="476.7" cy="281.6" rx="1.8" ry="0.6" transform="rotate(-16 476.7 281.6)"/><ellipse cx="443.3" cy="199.9" rx="0.8" ry="0.6" transform="rotate(15 443.3 199.9)"/><ellipse cx="563.6" cy="240.7" rx="1.2" ry="0.6" transform="rotate(-25 563.6 240.7)"/><ellipse cx="608.7" cy="210.5" rx="1.2" ry="0.5" transform="rotate(4 608.7 210.5)"/><ellipse cx="518.0" cy="203.6" rx="1.4" ry="0.7" transform="rotate(16 518.0 203.6)"/><ellipse cx="530.7" cy="229.0" rx="1.4" ry="0.7" transform="rotate(30 530.7 229.0)"/><ellipse cx="603.8" cy="287.4" rx="1.4" ry="0.6" transform="rotate(-33 603.8 287.4)"/><ellipse cx="587.7" cy="197.3" rx="1.7" ry="0.6" transform="rotate(-17 587.7 197.3)"/><ellipse cx="555.0" cy="212.1" rx="1.1" ry="0.7" transform="rotate(-39 555.0 212.1)"/><ellipse cx="451.9" cy="220.3" rx="1.4" ry="0.8" transform="rotate(-30 451.9 220.3)"/><ellipse cx="613.9" cy="219.5" rx="0.9" ry="0.6" transform="rotate(-31 613.9 219.5)"/><ellipse cx="496.5" cy="198.8" rx="1.0" ry="0.8" transform="rotate(-27 496.5 198.8)"/><ellipse cx="535.7" cy="244.3" rx="1.5" ry="0.6" transform="rotate(37 535.7 244.3)"/><ellipse cx="490.5" cy="294.0" rx="0.9" ry="0.6" transform="rotate(28 490.5 294.0)"/><ellipse cx="507.3" cy="267.3" rx="1.6" ry="0.8" transform="rotate(18 507.3 267.3)"/><ellipse cx="581.5" cy="196.4" rx="1.0" ry="0.9" transform="rotate(23 581.5 196.4)"/><ellipse cx="443.4" cy="288.5" rx="1.5" ry="0.7" transform="rotate(-9 443.4 288.5)"/><ellipse cx="491.6" cy="280.5" rx="1.0" ry="0.7" transform="rotate(8 491.6 280.5)"/><ellipse cx="522.8" cy="247.6" rx="0.9" ry="0.8" transform="rotate(-18 522.8 247.6)"/><ellipse cx="608.5" cy="217.4" rx="1.8" ry="0.7" transform="rotate(-33 608.5 217.4)"/><ellipse cx="502.8" cy="233.6" rx="0.9" ry="0.7" transform="rotate(4 502.8 233.6)"/><ellipse cx="550.8" cy="253.3" rx="0.9" ry="0.8" transform="rotate(-3 550.8 253.3)"/><ellipse cx="428.1" cy="270.1" rx="1.8" ry="0.8" transform="rotate(23 428.1 270.1)"/><ellipse cx="556.3" cy="211.6" rx="0.9" ry="0.8" transform="rotate(21 556.3 211.6)"/><ellipse cx="532.4" cy="225.6" rx="1.4" ry="0.9" transform="rotate(-31 532.4 225.6)"/><ellipse cx="482.1" cy="254.5" rx="1.0" ry="0.8" transform="rotate(-24 482.1 254.5)"/><ellipse cx="452.0" cy="216.7" rx="0.7" ry="0.7" transform="rotate(2 452.0 216.7)"/><ellipse cx="607.5" cy="245.4" rx="1.7" ry="0.5" transform="rotate(-11 607.5 245.4)"/><ellipse cx="602.0" cy="228.9" rx="0.7" ry="0.5" transform="rotate(14 602.0 228.9)"/><ellipse cx="552.5" cy="262.0" rx="1.6" ry="0.8" transform="rotate(27 552.5 262.0)"/><ellipse cx="568.8" cy="226.1" rx="1.2" ry="0.8" transform="rotate(-4 568.8 226.1)"/><ellipse cx="442.4" cy="231.0" rx="1.1" ry="0.6" transform="rotate(-34 442.4 231.0)"/><ellipse cx="535.7" cy="220.1" rx="1.4" ry="0.6" transform="rotate(14 535.7 220.1)"/><ellipse cx="581.3" cy="251.5" rx="1.1" ry="0.8" transform="rotate(-17 581.3 251.5)"/><ellipse cx="567.9" cy="295.0" rx="1.6" ry="0.7" transform="rotate(33 567.9 295.0)"/><ellipse cx="528.9" cy="262.5" rx="0.7" ry="0.7" transform="rotate(-16 528.9 262.5)"/><ellipse cx="433.0" cy="200.5" rx="1.4" ry="0.6" transform="rotate(-6 433.0 200.5)"/><ellipse cx="594.5" cy="201.5" rx="1.0" ry="0.7" transform="rotate(18 594.5 201.5)"/><ellipse cx="499.6" cy="198.9" rx="1.3" ry="0.5" transform="rotate(-21 499.6 198.9)"/><ellipse cx="536.0" cy="210.6" rx="0.7" ry="0.9" transform="rotate(-32 536.0 210.6)"/><ellipse cx="573.9" cy="276.9" rx="1.6" ry="0.5" transform="rotate(-31 573.9 276.9)"/><ellipse cx="600.0" cy="244.1" rx="1.3" ry="0.5" transform="rotate(-20 600.0 244.1)"/><ellipse cx="427.3" cy="246.9" rx="1.0" ry="0.8" transform="rotate(23 427.3 246.9)"/><ellipse cx="480.8" cy="296.8" rx="1.1" ry="0.5" transform="rotate(-17 480.8 296.8)"/><ellipse cx="583.0" cy="250.7" rx="1.7" ry="0.6" transform="rotate(24 583.0 250.7)"/><ellipse cx="478.6" cy="267.8" rx="1.7" ry="0.7" transform="rotate(33 478.6 267.8)"/><ellipse cx="541.8" cy="249.3" rx="1.6" ry="0.6" transform="rotate(-16 541.8 249.3)"/><ellipse cx="471.1" cy="207.8" rx="0.8" ry="0.7" transform="rotate(14 471.1 207.8)"/><ellipse cx="443.3" cy="296.6" rx="1.2" ry="0.6" transform="rotate(39 443.3 296.6)"/><ellipse cx="475.1" cy="299.6" rx="0.8" ry="0.8" transform="rotate(-7 475.1 299.6)"/><ellipse cx="427.8" cy="214.6" rx="1.3" ry="0.6" transform="rotate(3 427.8 214.6)"/><ellipse cx="515.3" cy="206.8" rx="1.1" ry="0.9" transform="rotate(-26 515.3 206.8)"/><ellipse cx="541.2" cy="297.6" rx="1.4" ry="0.6" transform="rotate(3 541.2 297.6)"/><ellipse cx="443.6" cy="238.3" rx="1.8" ry="0.5" transform="rotate(-28 443.6 238.3)"/><ellipse cx="568.9" cy="203.7" rx="1.7" ry="0.7" transform="rotate(9 568.9 203.7)"/><ellipse cx="605.2" cy="228.4" rx="1.4" ry="0.6" transform="rotate(26 605.2 228.4)"/><ellipse cx="546.7" cy="256.6" rx="1.6" ry="0.6" transform="rotate(7 546.7 256.6)"/><ellipse cx="474.3" cy="242.2" rx="1.4" ry="0.9" transform="rotate(28 474.3 242.2)"/><ellipse cx="560.9" cy="277.8" rx="1.2" ry="0.8" transform="rotate(-23 560.9 277.8)"/><ellipse cx="546.9" cy="283.0" rx="0.9" ry="0.7" transform="rotate(-12 546.9 283.0)"/><ellipse cx="588.9" cy="242.9" rx="1.0" ry="0.7" transform="rotate(-27 588.9 242.9)"/><ellipse cx="613.5" cy="214.8" rx="1.0" ry="0.8" transform="rotate(1 613.5 214.8)"/><ellipse cx="448.1" cy="229.1" rx="1.8" ry="0.6" transform="rotate(33 448.1 229.1)"/><ellipse cx="601.8" cy="251.5" rx="1.2" ry="0.8" transform="rotate(-39 601.8 251.5)"/><ellipse cx="455.0" cy="268.8" rx="1.6" ry="0.8" transform="rotate(30 455.0 268.8)"/><ellipse cx="502.7" cy="222.5" rx="1.7" ry="0.7" transform="rotate(-33 502.7 222.5)"/><ellipse cx="563.9" cy="247.9" rx="1.6" ry="0.6" transform="rotate(20 563.9 247.9)"/><ellipse cx="613.7" cy="236.1" rx="1.6" ry="0.8" transform="rotate(22 613.7 236.1)"/><ellipse cx="498.2" cy="217.1" rx="1.5" ry="0.8" transform="rotate(-28 498.2 217.1)"/><ellipse cx="430.7" cy="235.0" rx="1.5" ry="0.6" transform="rotate(30 430.7 235.0)"/><ellipse cx="585.8" cy="199.9" rx="1.1" ry="0.6" transform="rotate(-14 585.8 199.9)"/><ellipse cx="505.9" cy="204.8" rx="1.7" ry="0.6" transform="rotate(-20 505.9 204.8)"/><ellipse cx="438.5" cy="233.0" rx="0.9" ry="0.6" transform="rotate(29 438.5 233.0)"/><ellipse cx="531.9" cy="241.9" rx="1.0" ry="0.7" transform="rotate(23 531.9 241.9)"/><ellipse cx="549.3" cy="214.8" rx="1.5" ry="0.5" transform="rotate(-1 549.3 214.8)"/><ellipse cx="485.8" cy="208.4" rx="1.5" ry="0.6" transform="rotate(4 485.8 208.4)"/><ellipse cx="601.2" cy="242.8" rx="1.5" ry="0.6" transform="rotate(23 601.2 242.8)"/><ellipse cx="500.4" cy="216.1" rx="1.6" ry="0.7" transform="rotate(-20 500.4 216.1)"/><ellipse cx="542.1" cy="241.2" rx="1.5" ry="0.6" transform="rotate(-18 542.1 241.2)"/><ellipse cx="554.0" cy="250.6" rx="0.9" ry="0.7" transform="rotate(-15 554.0 250.6)"/><ellipse cx="603.3" cy="236.0" rx="1.6" ry="0.7" transform="rotate(4 603.3 236.0)"/><ellipse cx="596.0" cy="265.3" rx="1.2" ry="0.7" transform="rotate(-15 596.0 265.3)"/><ellipse cx="533.1" cy="254.5" rx="1.5" ry="0.9" transform="rotate(37 533.1 254.5)"/><ellipse cx="425.3" cy="195.1" rx="1.5" ry="0.9" transform="rotate(29 425.3 195.1)"/><ellipse cx="529.3" cy="269.7" rx="0.7" ry="0.6" transform="rotate(7 529.3 269.7)"/><ellipse cx="476.7" cy="264.5" rx="1.6" ry="0.6" transform="rotate(1 476.7 264.5)"/><ellipse cx="581.6" cy="257.5" rx="1.3" ry="0.9" transform="rotate(16 581.6 257.5)"/><ellipse cx="540.8" cy="230.8" rx="1.4" ry="0.7" transform="rotate(-2 540.8 230.8)"/><ellipse cx="445.3" cy="270.8" rx="0.8" ry="0.6" transform="rotate(-31 445.3 270.8)"/><ellipse cx="430.5" cy="272.4" rx="1.5" ry="0.5" transform="rotate(-3 430.5 272.4)"/><ellipse cx="588.4" cy="260.2" rx="0.9" ry="0.5" transform="rotate(17 588.4 260.2)"/><ellipse cx="523.5" cy="256.0" rx="1.5" ry="0.6" transform="rotate(40 523.5 256.0)"/><ellipse cx="471.7" cy="198.6" rx="1.6" ry="0.8" transform="rotate(29 471.7 198.6)"/><ellipse cx="517.8" cy="272.4" rx="1.4" ry="0.6" transform="rotate(-7 517.8 272.4)"/><ellipse cx="496.0" cy="223.8" rx="1.1" ry="0.7" transform="rotate(-28 496.0 223.8)"/><ellipse cx="512.5" cy="220.7" rx="1.6" ry="0.8" transform="rotate(-35 512.5 220.7)"/><ellipse cx="592.1" cy="271.0" rx="0.8" ry="0.7" transform="rotate(8 592.1 271.0)"/><ellipse cx="470.2" cy="244.5" rx="1.7" ry="0.8" transform="rotate(-5 470.2 244.5)"/><ellipse cx="432.7" cy="251.7" rx="0.8" ry="0.8" transform="rotate(-19 432.7 251.7)"/><ellipse cx="471.4" cy="294.5" rx="1.2" ry="0.5" transform="rotate(-3 471.4 294.5)"/><ellipse cx="485.6" cy="195.1" rx="1.0" ry="0.8" transform="rotate(7 485.6 195.1)"/><ellipse cx="563.8" cy="221.2" rx="0.9" ry="0.5" transform="rotate(-14 563.8 221.2)"/><ellipse cx="590.5" cy="270.9" rx="1.4" ry="0.6" transform="rotate(9 590.5 270.9)"/><ellipse cx="538.6" cy="242.8" rx="1.1" ry="0.6" transform="rotate(13 538.6 242.8)"/><ellipse cx="533.7" cy="223.3" rx="0.8" ry="0.9" transform="rotate(-6 533.7 223.3)"/><ellipse cx="550.3" cy="195.8" rx="1.7" ry="0.6" transform="rotate(-2 550.3 195.8)"/><ellipse cx="603.9" cy="286.9" rx="1.0" ry="0.7" transform="rotate(30 603.9 286.9)"/><ellipse cx="593.3" cy="272.7" rx="1.7" ry="0.5" transform="rotate(39 593.3 272.7)"/><ellipse cx="545.5" cy="217.8" rx="1.7" ry="0.8" transform="rotate(-27 545.5 217.8)"/><ellipse cx="464.7" cy="224.0" rx="1.6" ry="0.8" transform="rotate(-5 464.7 224.0)"/><ellipse cx="590.8" cy="218.0" rx="1.7" ry="0.9" transform="rotate(-26 590.8 218.0)"/><ellipse cx="457.5" cy="197.5" rx="0.9" ry="0.6" transform="rotate(-11 457.5 197.5)"/><ellipse cx="569.4" cy="295.1" rx="1.0" ry="0.5" transform="rotate(5 569.4 295.1)"/><ellipse cx="607.1" cy="249.8" rx="0.8" ry="0.8" transform="rotate(7 607.1 249.8)"/><ellipse cx="596.5" cy="276.8" rx="1.3" ry="0.9" transform="rotate(19 596.5 276.8)"/><ellipse cx="464.8" cy="248.6" rx="0.7" ry="0.9" transform="rotate(4 464.8 248.6)"/><ellipse cx="459.8" cy="196.0" rx="0.7" ry="0.8" transform="rotate(29 459.8 196.0)"/><ellipse cx="569.6" cy="207.2" rx="1.5" ry="0.7" transform="rotate(-37 569.6 207.2)"/><ellipse cx="549.4" cy="281.4" rx="1.0" ry="0.7" transform="rotate(-36 549.4 281.4)"/><ellipse cx="570.3" cy="211.6" rx="0.9" ry="0.8" transform="rotate(40 570.3 211.6)"/><ellipse cx="595.1" cy="254.7" rx="1.1" ry="0.7" transform="rotate(-6 595.1 254.7)"/><ellipse cx="444.8" cy="294.9" rx="1.7" ry="0.5" transform="rotate(38 444.8 294.9)"/><ellipse cx="471.1" cy="269.6" rx="1.6" ry="0.7" transform="rotate(-10 471.1 269.6)"/><ellipse cx="471.7" cy="284.5" rx="0.8" ry="0.6" transform="rotate(28 471.7 284.5)"/><ellipse cx="566.1" cy="282.2" rx="1.1" ry="0.6" transform="rotate(6 566.1 282.2)"/><ellipse cx="585.4" cy="206.8" rx="1.4" ry="0.8" transform="rotate(-33 585.4 206.8)"/><ellipse cx="536.0" cy="239.7" rx="0.8" ry="0.6" transform="rotate(-39 536.0 239.7)"/><ellipse cx="502.1" cy="269.2" rx="1.0" ry="0.8" transform="rotate(17 502.1 269.2)"/><ellipse cx="512.5" cy="242.9" rx="1.2" ry="0.9" transform="rotate(4 512.5 242.9)"/><ellipse cx="500.4" cy="297.2" rx="0.8" ry="0.6" transform="rotate(-33 500.4 297.2)"/><ellipse cx="478.0" cy="211.0" rx="1.0" ry="0.5" transform="rotate(25 478.0 211.0)"/><ellipse cx="432.4" cy="230.5" rx="1.0" ry="0.5" transform="rotate(8 432.4 230.5)"/><ellipse cx="562.7" cy="231.4" rx="1.6" ry="0.8" transform="rotate(-39 562.7 231.4)"/><ellipse cx="494.3" cy="275.6" rx="0.7" ry="0.9" transform="rotate(23 494.3 275.6)"/><ellipse cx="581.3" cy="229.2" rx="1.1" ry="0.5" transform="rotate(20 581.3 229.2)"/><ellipse cx="611.1" cy="255.0" rx="0.8" ry="0.7" transform="rotate(13 611.1 255.0)"/><ellipse cx="573.6" cy="277.4" rx="1.2" ry="0.7" transform="rotate(14 573.6 277.4)"/><ellipse cx="464.3" cy="248.7" rx="0.8" ry="0.7" transform="rotate(10 464.3 248.7)"/><ellipse cx="467.1" cy="195.1" rx="1.1" ry="0.6" transform="rotate(-32 467.1 195.1)"/><ellipse cx="572.7" cy="237.3" rx="1.3" ry="0.7" transform="rotate(-13 572.7 237.3)"/><ellipse cx="524.7" cy="204.0" rx="1.3" ry="0.8" transform="rotate(-34 524.7 204.0)"/><ellipse cx="492.5" cy="213.2" rx="1.8" ry="0.8" transform="rotate(-28 492.5 213.2)"/><ellipse cx="439.0" cy="296.9" rx="1.1" ry="0.7" transform="rotate(22 439.0 296.9)"/><ellipse cx="548.7" cy="196.9" rx="1.3" ry="0.7" transform="rotate(2 548.7 196.9)"/><ellipse cx="603.3" cy="284.4" rx="1.2" ry="0.8" transform="rotate(1 603.3 284.4)"/><ellipse cx="426.9" cy="297.0" rx="1.3" ry="0.9" transform="rotate(34 426.9 297.0)"/><ellipse cx="480.4" cy="288.4" rx="1.0" ry="0.9" transform="rotate(33 480.4 288.4)"/><ellipse cx="602.0" cy="233.7" rx="1.5" ry="0.7" transform="rotate(34 602.0 233.7)"/><ellipse cx="516.6" cy="219.1" rx="1.4" ry="0.8" transform="rotate(-27 516.6 219.1)"/><ellipse cx="456.0" cy="274.5" rx="1.5" ry="0.8" transform="rotate(-5 456.0 274.5)"/><ellipse cx="525.9" cy="233.2" rx="1.3" ry="0.7" transform="rotate(18 525.9 233.2)"/><ellipse cx="518.2" cy="235.3" rx="1.4" ry="0.5" transform="rotate(37 518.2 235.3)"/><ellipse cx="554.6" cy="215.4" rx="0.8" ry="0.7" transform="rotate(-36 554.6 215.4)"/><ellipse cx="498.8" cy="288.8" rx="1.1" ry="0.6" transform="rotate(37 498.8 288.8)"/><ellipse cx="565.8" cy="290.9" rx="1.5" ry="0.9" transform="rotate(14 565.8 290.9)"/><ellipse cx="577.2" cy="266.4" rx="0.9" ry="0.8" transform="rotate(10 577.2 266.4)"/><ellipse cx="434.8" cy="259.2" rx="0.9" ry="0.9" transform="rotate(11 434.8 259.2)"/><ellipse cx="473.9" cy="210.2" rx="0.9" ry="0.8" transform="rotate(-10 473.9 210.2)"/><ellipse cx="502.0" cy="217.0" rx="1.5" ry="0.9" transform="rotate(11 502.0 217.0)"/><ellipse cx="599.0" cy="201.6" rx="1.3" ry="0.8" transform="rotate(36 599.0 201.6)"/><ellipse cx="567.6" cy="222.6" rx="1.2" ry="0.8" transform="rotate(-28 567.6 222.6)"/><ellipse cx="466.9" cy="292.8" rx="1.2" ry="0.6" transform="rotate(-31 466.9 292.8)"/><ellipse cx="549.3" cy="268.2" rx="1.5" ry="0.6" transform="rotate(18 549.3 268.2)"/><ellipse cx="493.6" cy="258.9" rx="0.8" ry="0.6" transform="rotate(32 493.6 258.9)"/><ellipse cx="594.3" cy="195.6" rx="1.7" ry="0.7" transform="rotate(-40 594.3 195.6)"/><ellipse cx="510.9" cy="248.3" rx="1.7" ry="0.7" transform="rotate(26 510.9 248.3)"/><ellipse cx="554.6" cy="245.4" rx="1.2" ry="0.5" transform="rotate(32 554.6 245.4)"/><ellipse cx="444.5" cy="220.7" rx="1.7" ry="0.9" transform="rotate(-12 444.5 220.7)"/><ellipse cx="577.7" cy="275.5" rx="1.5" ry="0.6" transform="rotate(32 577.7 275.5)"/><ellipse cx="456.0" cy="238.0" rx="1.1" ry="0.8" transform="rotate(14 456.0 238.0)"/><ellipse cx="551.9" cy="272.3" rx="0.9" ry="0.8" transform="rotate(-9 551.9 272.3)"/><ellipse cx="572.8" cy="249.9" rx="0.7" ry="0.8" transform="rotate(-20 572.8 249.9)"/><ellipse cx="456.8" cy="289.1" rx="0.8" ry="0.8" transform="rotate(-30 456.8 289.1)"/><ellipse cx="518.4" cy="237.1" rx="1.1" ry="0.7" transform="rotate(1 518.4 237.1)"/><ellipse cx="605.9" cy="234.3" rx="1.4" ry="0.8" transform="rotate(15 605.9 234.3)"/><ellipse cx="512.7" cy="217.6" rx="0.7" ry="0.9" transform="rotate(29 512.7 217.6)"/><ellipse cx="568.6" cy="271.4" rx="1.1" ry="0.7" transform="rotate(-27 568.6 271.4)"/><ellipse cx="595.1" cy="236.9" rx="0.8" ry="0.6" transform="rotate(28 595.1 236.9)"/><ellipse cx="427.7" cy="284.8" rx="1.4" ry="0.8" transform="rotate(-12 427.7 284.8)"/><ellipse cx="490.1" cy="240.6" rx="0.9" ry="0.8" transform="rotate(23 490.1 240.6)"/><ellipse cx="555.4" cy="244.8" rx="1.2" ry="0.7" transform="rotate(-2 555.4 244.8)"/><ellipse cx="516.8" cy="260.0" rx="0.9" ry="0.6" transform="rotate(-16 516.8 260.0)"/><ellipse cx="555.3" cy="257.1" rx="1.3" ry="0.7" transform="rotate(29 555.3 257.1)"/><ellipse cx="441.0" cy="207.1" rx="0.8" ry="0.5" transform="rotate(12 441.0 207.1)"/><ellipse cx="456.6" cy="227.6" rx="1.8" ry="0.8" transform="rotate(2 456.6 227.6)"/><ellipse cx="503.7" cy="297.5" rx="0.9" ry="0.9" transform="rotate(-38 503.7 297.5)"/><ellipse cx="481.6" cy="274.0" rx="1.2" ry="0.9" transform="rotate(-4 481.6 274.0)"/><ellipse cx="534.5" cy="296.8" rx="1.0" ry="0.5" transform="rotate(31 534.5 296.8)"/><ellipse cx="509.9" cy="218.6" rx="1.3" ry="0.9" transform="rotate(-39 509.9 218.6)"/><ellipse cx="433.9" cy="200.8" rx="1.0" ry="0.7" transform="rotate(-2 433.9 200.8)"/><ellipse cx="601.4" cy="214.4" rx="1.3" ry="0.6" transform="rotate(-1 601.4 214.4)"/><ellipse cx="434.3" cy="255.3" rx="1.7" ry="0.7" transform="rotate(23 434.3 255.3)"/><ellipse cx="452.8" cy="277.2" rx="1.1" ry="0.8" transform="rotate(-12 452.8 277.2)"/><ellipse cx="567.1" cy="199.5" rx="1.6" ry="0.9" transform="rotate(17 567.1 199.5)"/><ellipse cx="456.6" cy="204.0" rx="1.6" ry="0.7" transform="rotate(34 456.6 204.0)"/><ellipse cx="517.7" cy="211.7" rx="1.7" ry="0.6" transform="rotate(-26 517.7 211.7)"/><ellipse cx="511.4" cy="254.1" rx="0.7" ry="0.5" transform="rotate(-31 511.4 254.1)"/><ellipse cx="428.9" cy="220.9" rx="0.8" ry="0.7" transform="rotate(-17 428.9 220.9)"/><ellipse cx="540.2" cy="195.9" rx="1.5" ry="0.8" transform="rotate(-28 540.2 195.9)"/><ellipse cx="526.2" cy="227.9" rx="1.5" ry="0.8" transform="rotate(3 526.2 227.9)"/><ellipse cx="460.3" cy="230.0" rx="1.6" ry="0.7" transform="rotate(26 460.3 230.0)"/><ellipse cx="598.3" cy="198.6" rx="1.7" ry="0.9" transform="rotate(22 598.3 198.6)"/><ellipse cx="590.7" cy="248.4" rx="1.3" ry="0.5" transform="rotate(20 590.7 248.4)"/><ellipse cx="427.2" cy="268.9" rx="1.7" ry="0.7" transform="rotate(-31 427.2 268.9)"/><ellipse cx="514.7" cy="200.5" rx="1.7" ry="0.6" transform="rotate(-38 514.7 200.5)"/><ellipse cx="562.9" cy="254.0" rx="1.4" ry="0.5" transform="rotate(-36 562.9 254.0)"/><ellipse cx="540.7" cy="204.3" rx="1.3" ry="0.5" transform="rotate(12 540.7 204.3)"/><ellipse cx="428.8" cy="288.0" rx="1.7" ry="0.5" transform="rotate(-15 428.8 288.0)"/><ellipse cx="466.5" cy="274.5" rx="1.5" ry="0.7" transform="rotate(-8 466.5 274.5)"/><ellipse cx="525.9" cy="226.9" rx="1.1" ry="0.8" transform="rotate(40 525.9 226.9)"/><ellipse cx="506.0" cy="199.2" rx="0.7" ry="0.7" transform="rotate(-36 506.0 199.2)"/><ellipse cx="541.5" cy="265.0" rx="0.9" ry="0.6" transform="rotate(-7 541.5 265.0)"/><ellipse cx="599.1" cy="230.2" rx="1.4" ry="0.5" transform="rotate(-18 599.1 230.2)"/><ellipse cx="474.4" cy="243.3" rx="1.0" ry="0.6" transform="rotate(18 474.4 243.3)"/><ellipse cx="481.7" cy="205.9" rx="1.3" ry="0.5" transform="rotate(32 481.7 205.9)"/><ellipse cx="552.2" cy="244.2" rx="1.3" ry="0.5" transform="rotate(9 552.2 244.2)"/><ellipse cx="548.4" cy="296.6" rx="0.7" ry="0.7" transform="rotate(20 548.4 296.6)"/><ellipse cx="466.2" cy="252.7" rx="1.8" ry="0.5" transform="rotate(3 466.2 252.7)"/><ellipse cx="586.4" cy="254.4" rx="1.6" ry="0.8" transform="rotate(-25 586.4 254.4)"/><ellipse cx="530.2" cy="261.8" rx="1.2" ry="0.6" transform="rotate(0 530.2 261.8)"/><ellipse cx="599.2" cy="235.6" rx="1.2" ry="0.7" transform="rotate(-29 599.2 235.6)"/><ellipse cx="607.8" cy="233.9" rx="0.9" ry="0.8" transform="rotate(35 607.8 233.9)"/><ellipse cx="443.7" cy="294.0" rx="1.3" ry="0.8" transform="rotate(20 443.7 294.0)"/><ellipse cx="528.4" cy="233.5" rx="1.3" ry="0.8" transform="rotate(-19 528.4 233.5)"/><ellipse cx="559.0" cy="202.4" rx="1.3" ry="0.6" transform="rotate(-17 559.0 202.4)"/><ellipse cx="589.7" cy="237.9" rx="1.1" ry="0.7" transform="rotate(-5 589.7 237.9)"/><ellipse cx="463.3" cy="298.7" rx="1.1" ry="0.5" transform="rotate(34 463.3 298.7)"/><ellipse cx="597.0" cy="235.0" rx="1.5" ry="0.8" transform="rotate(7 597.0 235.0)"/><ellipse cx="462.7" cy="295.6" rx="1.2" ry="0.8" transform="rotate(-12 462.7 295.6)"/><ellipse cx="508.0" cy="292.0" rx="1.4" ry="0.7" transform="rotate(22 508.0 292.0)"/><ellipse cx="467.2" cy="241.3" rx="1.6" ry="0.8" transform="rotate(6 467.2 241.3)"/><ellipse cx="565.6" cy="210.8" rx="1.5" ry="0.8" transform="rotate(-32 565.6 210.8)"/><ellipse cx="562.4" cy="236.6" rx="1.4" ry="0.7" transform="rotate(19 562.4 236.6)"/><ellipse cx="444.3" cy="266.1" rx="1.0" ry="0.6" transform="rotate(-22 444.3 266.1)"/><ellipse cx="584.6" cy="261.2" rx="1.2" ry="0.6" transform="rotate(-7 584.6 261.2)"/><ellipse cx="453.7" cy="226.9" rx="1.3" ry="0.6" transform="rotate(22 453.7 226.9)"/><ellipse cx="439.7" cy="215.7" rx="1.0" ry="0.6" transform="rotate(5 439.7 215.7)"/><ellipse cx="518.6" cy="263.9" rx="1.7" ry="0.5" transform="rotate(-8 518.6 263.9)"/><ellipse cx="482.8" cy="240.0" rx="1.4" ry="0.6" transform="rotate(16 482.8 240.0)"/><ellipse cx="531.7" cy="228.1" rx="1.2" ry="0.9" transform="rotate(6 531.7 228.1)"/><ellipse cx="563.0" cy="228.9" rx="1.5" ry="0.6" transform="rotate(30 563.0 228.9)"/><ellipse cx="462.6" cy="299.1" rx="1.4" ry="0.8" transform="rotate(35 462.6 299.1)"/><ellipse cx="579.0" cy="275.8" rx="1.6" ry="0.7" transform="rotate(19 579.0 275.8)"/><ellipse cx="496.1" cy="277.6" rx="1.2" ry="0.5" transform="rotate(40 496.1 277.6)"/><ellipse cx="496.2" cy="199.7" rx="1.3" ry="0.8" transform="rotate(-6 496.2 199.7)"/><ellipse cx="466.8" cy="244.2" rx="0.8" ry="0.6" transform="rotate(2 466.8 244.2)"/><ellipse cx="523.6" cy="206.6" rx="1.6" ry="0.8" transform="rotate(-18 523.6 206.6)"/><ellipse cx="543.6" cy="293.5" rx="1.6" ry="0.8" transform="rotate(6 543.6 293.5)"/><ellipse cx="608.2" cy="244.1" rx="1.2" ry="0.5" transform="rotate(-34 608.2 244.1)"/><ellipse cx="530.2" cy="265.1" rx="1.7" ry="0.9" transform="rotate(29 530.2 265.1)"/><ellipse cx="485.7" cy="197.4" rx="0.9" ry="0.8" transform="rotate(-17 485.7 197.4)"/><ellipse cx="589.2" cy="267.7" rx="0.7" ry="0.8" transform="rotate(-21 589.2 267.7)"/><ellipse cx="475.2" cy="217.0" rx="1.4" ry="0.7" transform="rotate(-28 475.2 217.0)"/><ellipse cx="472.7" cy="208.3" rx="1.6" ry="0.7" transform="rotate(16 472.7 208.3)"/><ellipse cx="574.4" cy="195.8" rx="1.1" ry="0.7" transform="rotate(36 574.4 195.8)"/><ellipse cx="583.9" cy="272.8" rx="1.1" ry="0.9" transform="rotate(22 583.9 272.8)"/><ellipse cx="516.5" cy="217.4" rx="0.7" ry="0.6" transform="rotate(-29 516.5 217.4)"/><ellipse cx="614.4" cy="223.8" rx="1.0" ry="0.8" transform="rotate(18 614.4 223.8)"/><ellipse cx="468.5" cy="299.9" rx="1.6" ry="0.8" transform="rotate(6 468.5 299.9)"/><ellipse cx="433.6" cy="287.0" rx="1.5" ry="0.6" transform="rotate(7 433.6 287.0)"/><ellipse cx="576.1" cy="291.8" rx="1.3" ry="0.7" transform="rotate(5 576.1 291.8)"/><ellipse cx="452.5" cy="213.9" rx="1.1" ry="0.6" transform="rotate(-23 452.5 213.9)"/><ellipse cx="438.9" cy="228.8" rx="1.4" ry="0.6" transform="rotate(15 438.9 228.8)"/><ellipse cx="566.3" cy="296.7" rx="0.9" ry="0.7" transform="rotate(-27 566.3 296.7)"/><ellipse cx="600.7" cy="217.2" rx="1.0" ry="0.7" transform="rotate(4 600.7 217.2)"/><ellipse cx="601.2" cy="269.0" rx="1.3" ry="0.6" transform="rotate(18 601.2 269.0)"/><ellipse cx="533.5" cy="208.3" rx="0.7" ry="0.9" transform="rotate(-20 533.5 208.3)"/><ellipse cx="441.2" cy="212.5" rx="1.3" ry="0.7" transform="rotate(38 441.2 212.5)"/><ellipse cx="607.8" cy="293.7" rx="1.7" ry="0.9" transform="rotate(1 607.8 293.7)"/><ellipse cx="473.6" cy="214.1" rx="1.4" ry="0.9" transform="rotate(-11 473.6 214.1)"/><ellipse cx="522.9" cy="267.3" rx="1.1" ry="0.6" transform="rotate(16 522.9 267.3)"/><ellipse cx="548.5" cy="227.9" rx="1.6" ry="0.8" transform="rotate(10 548.5 227.9)"/><ellipse cx="436.6" cy="244.1" rx="1.2" ry="0.8" transform="rotate(11 436.6 244.1)"/><ellipse cx="530.7" cy="204.6" rx="1.4" ry="0.9" transform="rotate(-27 530.7 204.6)"/><ellipse cx="576.5" cy="197.5" rx="1.4" ry="0.8" transform="rotate(14 576.5 197.5)"/><ellipse cx="610.5" cy="251.4" rx="0.8" ry="0.9" transform="rotate(32 610.5 251.4)"/><ellipse cx="543.2" cy="275.5" rx="0.7" ry="0.6" transform="rotate(40 543.2 275.5)"/><ellipse cx="493.4" cy="263.1" rx="1.6" ry="0.5" transform="rotate(-20 493.4 263.1)"/><ellipse cx="537.2" cy="296.2" rx="0.8" ry="0.9" transform="rotate(-22 537.2 296.2)"/><ellipse cx="495.2" cy="241.1" rx="1.7" ry="0.7" transform="rotate(1 495.2 241.1)"/><ellipse cx="596.1" cy="238.7" rx="1.5" ry="0.7" transform="rotate(26 596.1 238.7)"/><ellipse cx="537.9" cy="289.0" rx="0.9" ry="0.7" transform="rotate(-40 537.9 289.0)"/><ellipse cx="432.3" cy="252.3" rx="1.5" ry="0.8" transform="rotate(-39 432.3 252.3)"/><ellipse cx="480.1" cy="219.8" rx="0.9" ry="0.9" transform="rotate(-9 480.1 219.8)"/><ellipse cx="494.3" cy="272.4" rx="1.4" ry="0.9" transform="rotate(2 494.3 272.4)"/><ellipse cx="485.9" cy="270.9" rx="1.0" ry="0.5" transform="rotate(-11 485.9 270.9)"/><ellipse cx="459.3" cy="264.6" rx="1.4" ry="0.7" transform="rotate(3 459.3 264.6)"/><ellipse cx="558.7" cy="297.2" rx="0.8" ry="0.8" transform="rotate(-19 558.7 297.2)"/><ellipse cx="551.7" cy="242.3" rx="1.1" ry="0.6" transform="rotate(39 551.7 242.3)"/><ellipse cx="563.2" cy="198.8" rx="1.2" ry="0.7" transform="rotate(17 563.2 198.8)"/><ellipse cx="489.8" cy="250.0" rx="0.9" ry="0.8" transform="rotate(10 489.8 250.0)"/><ellipse cx="443.9" cy="222.9" rx="1.3" ry="0.7" transform="rotate(19 443.9 222.9)"/><ellipse cx="515.5" cy="258.5" rx="1.0" ry="0.8" transform="rotate(-4 515.5 258.5)"/><ellipse cx="527.4" cy="261.1" rx="1.8" ry="0.6" transform="rotate(2 527.4 261.1)"/><ellipse cx="471.4" cy="279.7" rx="1.0" ry="0.8" transform="rotate(-33 471.4 279.7)"/><ellipse cx="433.9" cy="244.2" rx="0.7" ry="0.6" transform="rotate(-29 433.9 244.2)"/><ellipse cx="450.0" cy="216.7" rx="1.8" ry="0.8" transform="rotate(0 450.0 216.7)"/><ellipse cx="521.7" cy="268.8" rx="0.7" ry="0.6" transform="rotate(19 521.7 268.8)"/><ellipse cx="482.1" cy="296.3" rx="1.6" ry="0.6" transform="rotate(-33 482.1 296.3)"/><ellipse cx="564.5" cy="275.9" rx="1.4" ry="0.8" transform="rotate(13 564.5 275.9)"/><ellipse cx="523.7" cy="279.2" rx="0.9" ry="0.9" transform="rotate(-4 523.7 279.2)"/><ellipse cx="604.6" cy="286.9" rx="1.0" ry="0.7" transform="rotate(20 604.6 286.9)"/><ellipse cx="445.2" cy="293.9" rx="1.7" ry="0.8" transform="rotate(31 445.2 293.9)"/><ellipse cx="565.0" cy="296.2" rx="0.9" ry="0.8" transform="rotate(-1 565.0 296.2)"/><ellipse cx="559.0" cy="203.4" rx="1.1" ry="0.8" transform="rotate(-12 559.0 203.4)"/><ellipse cx="517.4" cy="268.4" rx="0.9" ry="0.8" transform="rotate(-17 517.4 268.4)"/><ellipse cx="487.7" cy="256.2" rx="1.3" ry="0.6" transform="rotate(23 487.7 256.2)"/><ellipse cx="434.4" cy="295.7" rx="1.7" ry="0.8" transform="rotate(-15 434.4 295.7)"/><ellipse cx="536.5" cy="299.9" rx="1.2" ry="0.8" transform="rotate(23 536.5 299.9)"/><ellipse cx="441.0" cy="248.7" rx="1.7" ry="0.7" transform="rotate(35 441.0 248.7)"/><ellipse cx="549.7" cy="210.1" rx="1.4" ry="0.9" transform="rotate(-30 549.7 210.1)"/><ellipse cx="458.8" cy="265.2" rx="1.6" ry="0.8" transform="rotate(-23 458.8 265.2)"/><ellipse cx="593.5" cy="239.1" rx="1.2" ry="0.7" transform="rotate(-15 593.5 239.1)"/><ellipse cx="593.2" cy="238.6" rx="1.2" ry="0.8" transform="rotate(-11 593.2 238.6)"/><ellipse cx="457.3" cy="198.7" rx="1.3" ry="0.8" transform="rotate(11 457.3 198.7)"/><ellipse cx="461.1" cy="221.4" rx="1.3" ry="0.8" transform="rotate(39 461.1 221.4)"/><ellipse cx="510.5" cy="239.9" rx="1.6" ry="0.9" transform="rotate(-13 510.5 239.9)"/><ellipse cx="538.1" cy="231.1" rx="0.7" ry="0.8" transform="rotate(33 538.1 231.1)"/><ellipse cx="523.1" cy="206.9" rx="1.4" ry="0.6" transform="rotate(-7 523.1 206.9)"/><ellipse cx="565.8" cy="281.5" rx="1.2" ry="0.6" transform="rotate(-37 565.8 281.5)"/><ellipse cx="453.7" cy="237.6" rx="1.2" ry="0.7" transform="rotate(-9 453.7 237.6)"/><ellipse cx="598.3" cy="218.7" rx="0.8" ry="0.9" transform="rotate(25 598.3 218.7)"/><ellipse cx="487.5" cy="241.8" rx="0.8" ry="0.5" transform="rotate(-14 487.5 241.8)"/><ellipse cx="548.1" cy="232.6" rx="1.6" ry="0.7" transform="rotate(-3 548.1 232.6)"/><ellipse cx="474.7" cy="243.6" rx="1.4" ry="0.6" transform="rotate(36 474.7 243.6)"/><ellipse cx="512.0" cy="259.4" rx="0.9" ry="0.6" transform="rotate(-5 512.0 259.4)"/><ellipse cx="585.5" cy="259.4" rx="1.5" ry="0.5" transform="rotate(-5 585.5 259.4)"/><ellipse cx="563.8" cy="225.7" rx="1.1" ry="0.9" transform="rotate(-31 563.8 225.7)"/><ellipse cx="590.6" cy="217.8" rx="1.3" ry="0.7" transform="rotate(21 590.6 217.8)"/><ellipse cx="439.8" cy="202.4" rx="0.7" ry="0.8" transform="rotate(4 439.8 202.4)"/><ellipse cx="521.0" cy="219.9" rx="1.1" ry="0.8" transform="rotate(28 521.0 219.9)"/><ellipse cx="541.4" cy="261.6" rx="0.7" ry="0.8" transform="rotate(-8 541.4 261.6)"/><ellipse cx="557.7" cy="227.3" rx="1.4" ry="0.8" transform="rotate(-5 557.7 227.3)"/><ellipse cx="430.1" cy="231.2" rx="1.1" ry="0.6" transform="rotate(5 430.1 231.2)"/><ellipse cx="450.4" cy="282.9" rx="0.7" ry="0.8" transform="rotate(15 450.4 282.9)"/><ellipse cx="520.4" cy="227.1" rx="0.9" ry="0.6" transform="rotate(1 520.4 227.1)"/><ellipse cx="471.8" cy="255.2" rx="1.6" ry="0.7" transform="rotate(-1 471.8 255.2)"/><ellipse cx="465.7" cy="251.8" rx="0.9" ry="0.7" transform="rotate(-29 465.7 251.8)"/><ellipse cx="517.3" cy="217.1" rx="1.5" ry="0.8" transform="rotate(32 517.3 217.1)"/><ellipse cx="577.8" cy="195.1" rx="0.9" ry="0.8" transform="rotate(-24 577.8 195.1)"/><ellipse cx="574.8" cy="243.5" rx="1.0" ry="0.7" transform="rotate(8 574.8 243.5)"/><ellipse cx="504.4" cy="294.0" rx="1.1" ry="0.6" transform="rotate(-14 504.4 294.0)"/><ellipse cx="541.9" cy="199.5" rx="0.8" ry="0.7" transform="rotate(6 541.9 199.5)"/><ellipse cx="518.8" cy="250.1" rx="0.7" ry="0.8" transform="rotate(7 518.8 250.1)"/><ellipse cx="517.3" cy="267.6" rx="0.9" ry="0.5" transform="rotate(23 517.3 267.6)"/><ellipse cx="533.0" cy="228.2" rx="1.0" ry="0.6" transform="rotate(-33 533.0 228.2)"/><ellipse cx="541.2" cy="284.0" rx="0.9" ry="0.9" transform="rotate(1 541.2 284.0)"/><ellipse cx="522.6" cy="265.9" rx="0.8" ry="0.6" transform="rotate(5 522.6 265.9)"/><ellipse cx="459.6" cy="282.4" rx="1.0" ry="0.6" transform="rotate(-12 459.6 282.4)"/><ellipse cx="442.5" cy="296.9" rx="1.3" ry="0.7" transform="rotate(28 442.5 296.9)"/><ellipse cx="595.4" cy="223.8" rx="1.2" ry="0.6" transform="rotate(21 595.4 223.8)"/><ellipse cx="461.6" cy="284.3" rx="1.2" ry="0.7" transform="rotate(13 461.6 284.3)"/><ellipse cx="504.2" cy="286.0" rx="0.9" ry="0.7" transform="rotate(-28 504.2 286.0)"/><ellipse cx="508.0" cy="257.2" rx="1.3" ry="0.7" transform="rotate(36 508.0 257.2)"/><ellipse cx="425.6" cy="231.2" rx="1.8" ry="0.6" transform="rotate(6 425.6 231.2)"/><ellipse cx="475.2" cy="267.6" rx="1.5" ry="0.8" transform="rotate(24 475.2 267.6)"/><ellipse cx="445.4" cy="254.0" rx="1.7" ry="0.8" transform="rotate(5 445.4 254.0)"/><ellipse cx="502.6" cy="213.2" rx="0.7" ry="0.6" transform="rotate(-5 502.6 213.2)"/><ellipse cx="590.5" cy="209.0" rx="1.5" ry="0.6" transform="rotate(-26 590.5 209.0)"/><ellipse cx="546.5" cy="262.9" rx="1.0" ry="0.7" transform="rotate(-16 546.5 262.9)"/><ellipse cx="495.6" cy="215.4" rx="1.6" ry="0.5" transform="rotate(18 495.6 215.4)"/><ellipse cx="578.3" cy="282.8" rx="1.1" ry="0.9" transform="rotate(35 578.3 282.8)"/><ellipse cx="491.5" cy="221.4" rx="1.7" ry="0.6" transform="rotate(-8 491.5 221.4)"/><ellipse cx="496.8" cy="270.7" rx="1.4" ry="0.7" transform="rotate(-14 496.8 270.7)"/><ellipse cx="549.9" cy="285.9" rx="1.7" ry="0.8" transform="rotate(21 549.9 285.9)"/><ellipse cx="473.8" cy="230.5" rx="1.1" ry="0.5" transform="rotate(-17 473.8 230.5)"/><ellipse cx="602.6" cy="261.9" rx="1.5" ry="0.5" transform="rotate(0 602.6 261.9)"/><ellipse cx="581.6" cy="200.6" rx="1.6" ry="0.6" transform="rotate(-23 581.6 200.6)"/><ellipse cx="577.4" cy="287.6" rx="1.8" ry="0.5" transform="rotate(-39 577.4 287.6)"/><ellipse cx="592.1" cy="298.7" rx="1.3" ry="0.6" transform="rotate(-36 592.1 298.7)"/><ellipse cx="532.1" cy="294.0" rx="1.8" ry="0.8" transform="rotate(-15 532.1 294.0)"/><ellipse cx="569.1" cy="226.2" rx="0.7" ry="0.6" transform="rotate(22 569.1 226.2)"/><ellipse cx="511.3" cy="247.7" rx="1.5" ry="0.9" transform="rotate(-7 511.3 247.7)"/><ellipse cx="585.1" cy="241.1" rx="1.3" ry="0.7" transform="rotate(33 585.1 241.1)"/><ellipse cx="594.6" cy="238.3" rx="1.2" ry="0.7" transform="rotate(-35 594.6 238.3)"/><ellipse cx="496.4" cy="267.2" rx="0.7" ry="0.6" transform="rotate(-7 496.4 267.2)"/><ellipse cx="556.1" cy="228.3" rx="0.7" ry="0.8" transform="rotate(8 556.1 228.3)"/><ellipse cx="434.6" cy="222.2" rx="1.1" ry="0.9" transform="rotate(23 434.6 222.2)"/><ellipse cx="581.7" cy="203.1" rx="1.4" ry="0.9" transform="rotate(-4 581.7 203.1)"/><ellipse cx="603.2" cy="266.5" rx="1.4" ry="0.9" transform="rotate(-39 603.2 266.5)"/><ellipse cx="602.9" cy="266.5" rx="0.8" ry="0.7" transform="rotate(-9 602.9 266.5)"/><ellipse cx="436.4" cy="271.2" rx="1.3" ry="0.7" transform="rotate(33 436.4 271.2)"/><ellipse cx="509.8" cy="220.4" rx="1.0" ry="0.6" transform="rotate(33 509.8 220.4)"/><ellipse cx="579.6" cy="283.7" rx="1.5" ry="0.8" transform="rotate(20 579.6 283.7)"/><ellipse cx="542.3" cy="240.1" rx="1.2" ry="0.8" transform="rotate(-16 542.3 240.1)"/><ellipse cx="568.2" cy="284.8" rx="1.2" ry="0.9" transform="rotate(31 568.2 284.8)"/><ellipse cx="509.2" cy="288.5" rx="0.8" ry="0.5" transform="rotate(28 509.2 288.5)"/><ellipse cx="542.9" cy="247.3" rx="1.3" ry="0.6" transform="rotate(30 542.9 247.3)"/><ellipse cx="486.6" cy="215.6" rx="1.4" ry="0.7" transform="rotate(9 486.6 215.6)"/><ellipse cx="431.9" cy="235.8" rx="1.4" ry="0.7" transform="rotate(15 431.9 235.8)"/><ellipse cx="547.4" cy="242.8" rx="0.7" ry="0.6" transform="rotate(25 547.4 242.8)"/><ellipse cx="590.6" cy="236.1" rx="0.8" ry="0.5" transform="rotate(22 590.6 236.1)"/><ellipse cx="543.6" cy="258.8" rx="0.8" ry="0.6" transform="rotate(10 543.6 258.8)"/><ellipse cx="429.1" cy="249.0" rx="0.7" ry="0.7" transform="rotate(-11 429.1 249.0)"/><ellipse cx="600.4" cy="265.7" rx="1.3" ry="0.6" transform="rotate(-5 600.4 265.7)"/><ellipse cx="443.5" cy="262.9" rx="1.4" ry="0.8" transform="rotate(-14 443.5 262.9)"/><ellipse cx="586.2" cy="269.9" rx="1.1" ry="0.8" transform="rotate(-33 586.2 269.9)"/><ellipse cx="612.3" cy="240.3" rx="1.4" ry="0.7" transform="rotate(-21 612.3 240.3)"/><ellipse cx="511.0" cy="255.8" rx="1.7" ry="0.7" transform="rotate(26 511.0 255.8)"/><ellipse cx="466.9" cy="273.1" rx="0.9" ry="0.8" transform="rotate(23 466.9 273.1)"/><ellipse cx="606.8" cy="258.7" rx="1.0" ry="0.8" transform="rotate(-6 606.8 258.7)"/><ellipse cx="540.7" cy="290.2" rx="1.3" ry="0.5" transform="rotate(-31 540.7 290.2)"/><ellipse cx="518.6" cy="290.5" rx="1.1" ry="0.8" transform="rotate(-24 518.6 290.5)"/><ellipse cx="453.8" cy="213.8" rx="0.8" ry="0.6" transform="rotate(-20 453.8 213.8)"/><ellipse cx="568.0" cy="243.0" rx="1.6" ry="0.5" transform="rotate(2 568.0 243.0)"/><ellipse cx="544.0" cy="223.9" rx="1.5" ry="0.7" transform="rotate(-7 544.0 223.9)"/><ellipse cx="597.9" cy="245.3" rx="0.7" ry="0.8" transform="rotate(-31 597.9 245.3)"/><ellipse cx="435.2" cy="256.3" rx="1.1" ry="0.5" transform="rotate(-11 435.2 256.3)"/><ellipse cx="469.2" cy="218.5" rx="1.3" ry="0.7" transform="rotate(26 469.2 218.5)"/><ellipse cx="605.3" cy="282.7" rx="0.7" ry="0.5" transform="rotate(-15 605.3 282.7)"/><ellipse cx="484.1" cy="268.5" rx="0.7" ry="0.6" transform="rotate(2 484.1 268.5)"/><ellipse cx="453.0" cy="208.0" rx="0.9" ry="0.5" transform="rotate(32 453.0 208.0)"/><ellipse cx="468.7" cy="199.4" rx="0.7" ry="0.6" transform="rotate(35 468.7 199.4)"/><ellipse cx="458.3" cy="220.8" rx="1.1" ry="0.5" transform="rotate(20 458.3 220.8)"/><ellipse cx="517.3" cy="282.2" rx="1.6" ry="0.6" transform="rotate(-19 517.3 282.2)"/><ellipse cx="481.5" cy="271.9" rx="1.4" ry="0.6" transform="rotate(-0 481.5 271.9)"/><ellipse cx="605.2" cy="281.2" rx="1.1" ry="0.6" transform="rotate(37 605.2 281.2)"/><ellipse cx="592.1" cy="296.6" rx="1.0" ry="0.9" transform="rotate(-21 592.1 296.6)"/><ellipse cx="609.0" cy="237.1" rx="1.1" ry="0.6" transform="rotate(27 609.0 237.1)"/><ellipse cx="612.9" cy="281.4" rx="1.6" ry="0.7" transform="rotate(23 612.9 281.4)"/><ellipse cx="604.8" cy="288.9" rx="1.6" ry="0.8" transform="rotate(28 604.8 288.9)"/><ellipse cx="557.7" cy="246.3" rx="1.5" ry="0.9" transform="rotate(25 557.7 246.3)"/><ellipse cx="525.1" cy="201.4" rx="1.1" ry="0.9" transform="rotate(-30 525.1 201.4)"/><ellipse cx="594.5" cy="208.1" rx="1.8" ry="0.6" transform="rotate(-2 594.5 208.1)"/><ellipse cx="552.6" cy="205.7" rx="1.7" ry="0.6" transform="rotate(-9 552.6 205.7)"/><ellipse cx="610.4" cy="203.3" rx="1.2" ry="0.6" transform="rotate(-14 610.4 203.3)"/><ellipse cx="435.2" cy="273.1" rx="1.6" ry="0.7" transform="rotate(-3 435.2 273.1)"/><ellipse cx="586.6" cy="257.4" rx="0.9" ry="0.5" transform="rotate(-38 586.6 257.4)"/><ellipse cx="502.6" cy="252.5" rx="1.3" ry="0.5" transform="rotate(-34 502.6 252.5)"/><ellipse cx="477.5" cy="280.1" rx="1.1" ry="0.6" transform="rotate(33 477.5 280.1)"/><ellipse cx="599.7" cy="280.3" rx="1.7" ry="0.6" transform="rotate(-31 599.7 280.3)"/><ellipse cx="532.4" cy="298.4" rx="1.4" ry="0.5" transform="rotate(6 532.4 298.4)"/><ellipse cx="562.8" cy="228.1" rx="1.0" ry="0.7" transform="rotate(20 562.8 228.1)"/><ellipse cx="499.1" cy="214.8" rx="1.3" ry="0.8" transform="rotate(27 499.1 214.8)"/><ellipse cx="490.3" cy="210.2" rx="0.8" ry="0.7" transform="rotate(38 490.3 210.2)"/><ellipse cx="579.7" cy="201.6" rx="1.4" ry="0.6" transform="rotate(7 579.7 201.6)"/><ellipse cx="593.0" cy="210.7" rx="1.2" ry="0.8" transform="rotate(24 593.0 210.7)"/><ellipse cx="568.0" cy="197.4" rx="0.8" ry="0.8" transform="rotate(-37 568.0 197.4)"/><ellipse cx="602.0" cy="247.0" rx="1.0" ry="0.5" transform="rotate(-30 602.0 247.0)"/><ellipse cx="428.1" cy="243.7" rx="0.9" ry="0.5" transform="rotate(-8 428.1 243.7)"/><ellipse cx="433.2" cy="278.5" rx="1.1" ry="0.7" transform="rotate(-7 433.2 278.5)"/><ellipse cx="482.6" cy="223.3" rx="0.9" ry="0.6" transform="rotate(19 482.6 223.3)"/><ellipse cx="430.8" cy="300.0" rx="1.5" ry="0.8" transform="rotate(3 430.8 300.0)"/><ellipse cx="490.5" cy="210.7" rx="1.2" ry="0.8" transform="rotate(-38 490.5 210.7)"/><ellipse cx="517.2" cy="223.8" rx="1.5" ry="0.6" transform="rotate(-23 517.2 223.8)"/><ellipse cx="593.9" cy="265.7" rx="0.7" ry="0.6" transform="rotate(-16 593.9 265.7)"/><ellipse cx="451.7" cy="226.5" rx="1.2" ry="0.8" transform="rotate(-2 451.7 226.5)"/><ellipse cx="601.0" cy="225.7" rx="1.7" ry="0.8" transform="rotate(7 601.0 225.7)"/><ellipse cx="437.8" cy="196.6" rx="0.9" ry="0.8" transform="rotate(15 437.8 196.6)"/><ellipse cx="444.8" cy="234.4" rx="1.2" ry="0.6" transform="rotate(-24 444.8 234.4)"/></g>
<path d="M429,328 C460,334 500,338 540,341 C570,342 595,342 608,341 C615,338 620,335 622,333 C626,331 628,331 630,331 C631,345 632,357 632,368 C630,370 627,371 624,370 C618,362 612,354 607,352 C585,351 560,350 540,348 C530,349 522,351 516,354 C514,360 512,368 510,376 C506,370 500,362 494,358 C480,352 465,348 455,344 C445,340 435,336 429,333 Z" fill="#ecc88e" stroke="#b8925a" stroke-width="1"/>
<g fill="#4a3a20" opacity="0.8" clip-path="url(#lbClip)"><ellipse cx="559.3" cy="326.3" rx="1.0" ry="0.6" transform="rotate(19 559.3 326.3)"/><ellipse cx="567.1" cy="372.3" rx="0.8" ry="0.7" transform="rotate(-38 567.1 372.3)"/><ellipse cx="470.9" cy="351.8" rx="0.7" ry="0.6" transform="rotate(12 470.9 351.8)"/><ellipse cx="539.4" cy="336.7" rx="1.3" ry="0.8" transform="rotate(-39 539.4 336.7)"/><ellipse cx="594.2" cy="362.0" rx="1.1" ry="0.6" transform="rotate(37 594.2 362.0)"/><ellipse cx="495.7" cy="329.9" rx="0.8" ry="0.8" transform="rotate(8 495.7 329.9)"/><ellipse cx="594.5" cy="363.7" rx="1.3" ry="0.9" transform="rotate(-10 594.5 363.7)"/><ellipse cx="540.9" cy="369.0" rx="1.4" ry="0.8" transform="rotate(6 540.9 369.0)"/><ellipse cx="573.0" cy="327.4" rx="1.0" ry="0.6" transform="rotate(-34 573.0 327.4)"/><ellipse cx="473.9" cy="330.4" rx="1.0" ry="0.8" transform="rotate(-11 473.9 330.4)"/><ellipse cx="502.7" cy="336.1" rx="1.0" ry="0.9" transform="rotate(12 502.7 336.1)"/><ellipse cx="552.9" cy="334.1" rx="1.5" ry="0.6" transform="rotate(-10 552.9 334.1)"/><ellipse cx="632.8" cy="358.9" rx="1.3" ry="0.8" transform="rotate(27 632.8 358.9)"/><ellipse cx="588.0" cy="337.1" rx="0.7" ry="0.6" transform="rotate(-19 588.0 337.1)"/><ellipse cx="469.3" cy="375.0" rx="1.7" ry="0.6" transform="rotate(12 469.3 375.0)"/><ellipse cx="508.1" cy="373.5" rx="1.2" ry="0.6" transform="rotate(-20 508.1 373.5)"/><ellipse cx="542.9" cy="338.9" rx="1.3" ry="0.9" transform="rotate(-8 542.9 338.9)"/><ellipse cx="471.1" cy="377.9" rx="1.3" ry="0.5" transform="rotate(-36 471.1 377.9)"/><ellipse cx="448.0" cy="358.3" rx="1.6" ry="0.7" transform="rotate(-35 448.0 358.3)"/><ellipse cx="505.1" cy="377.8" rx="1.3" ry="0.9" transform="rotate(29 505.1 377.8)"/><ellipse cx="427.4" cy="363.2" rx="1.4" ry="0.7" transform="rotate(-19 427.4 363.2)"/><ellipse cx="559.6" cy="330.9" rx="1.2" ry="0.7" transform="rotate(36 559.6 330.9)"/><ellipse cx="608.9" cy="339.0" rx="1.3" ry="0.6" transform="rotate(33 608.9 339.0)"/><ellipse cx="607.8" cy="340.8" rx="1.4" ry="0.7" transform="rotate(-28 607.8 340.8)"/><ellipse cx="585.1" cy="353.6" rx="1.6" ry="0.7" transform="rotate(-40 585.1 353.6)"/><ellipse cx="493.1" cy="326.0" rx="1.7" ry="0.9" transform="rotate(27 493.1 326.0)"/><ellipse cx="489.6" cy="328.1" rx="1.7" ry="0.9" transform="rotate(-33 489.6 328.1)"/><ellipse cx="527.1" cy="328.7" rx="1.5" ry="0.8" transform="rotate(-30 527.1 328.7)"/><ellipse cx="524.8" cy="354.1" rx="1.0" ry="0.8" transform="rotate(-6 524.8 354.1)"/><ellipse cx="469.5" cy="353.6" rx="1.5" ry="0.6" transform="rotate(-15 469.5 353.6)"/><ellipse cx="634.0" cy="359.4" rx="1.2" ry="0.7" transform="rotate(-30 634.0 359.4)"/><ellipse cx="472.2" cy="342.9" rx="1.3" ry="0.6" transform="rotate(-22 472.2 342.9)"/><ellipse cx="439.9" cy="358.4" rx="1.0" ry="0.9" transform="rotate(29 439.9 358.4)"/><ellipse cx="439.9" cy="337.6" rx="1.4" ry="0.6" transform="rotate(-29 439.9 337.6)"/><ellipse cx="621.5" cy="355.3" rx="1.2" ry="0.8" transform="rotate(25 621.5 355.3)"/><ellipse cx="465.0" cy="330.1" rx="1.2" ry="0.7" transform="rotate(-3 465.0 330.1)"/><ellipse cx="578.1" cy="360.7" rx="1.8" ry="0.5" transform="rotate(-8 578.1 360.7)"/><ellipse cx="496.3" cy="370.7" rx="1.0" ry="0.6" transform="rotate(-4 496.3 370.7)"/><ellipse cx="513.6" cy="339.8" rx="1.0" ry="0.9" transform="rotate(-5 513.6 339.8)"/><ellipse cx="605.9" cy="354.2" rx="0.8" ry="0.9" transform="rotate(27 605.9 354.2)"/><ellipse cx="628.5" cy="374.1" rx="1.6" ry="0.6" transform="rotate(-1 628.5 374.1)"/><ellipse cx="469.9" cy="346.3" rx="0.8" ry="0.7" transform="rotate(39 469.9 346.3)"/><ellipse cx="480.7" cy="366.6" rx="1.2" ry="0.7" transform="rotate(37 480.7 366.6)"/><ellipse cx="634.0" cy="354.5" rx="1.5" ry="0.6" transform="rotate(-16 634.0 354.5)"/><ellipse cx="628.4" cy="355.7" rx="1.3" ry="0.8" transform="rotate(-35 628.4 355.7)"/><ellipse cx="547.7" cy="351.7" rx="1.6" ry="0.6" transform="rotate(37 547.7 351.7)"/><ellipse cx="441.8" cy="334.8" rx="1.4" ry="0.8" transform="rotate(-21 441.8 334.8)"/><ellipse cx="450.2" cy="372.2" rx="1.0" ry="0.7" transform="rotate(10 450.2 372.2)"/><ellipse cx="513.0" cy="355.9" rx="1.3" ry="0.9" transform="rotate(-24 513.0 355.9)"/><ellipse cx="575.4" cy="337.7" rx="1.1" ry="0.8" transform="rotate(-16 575.4 337.7)"/><ellipse cx="491.4" cy="364.8" rx="0.8" ry="0.7" transform="rotate(40 491.4 364.8)"/><ellipse cx="634.2" cy="328.9" rx="0.9" ry="0.6" transform="rotate(35 634.2 328.9)"/><ellipse cx="610.0" cy="371.6" rx="1.1" ry="0.6" transform="rotate(27 610.0 371.6)"/><ellipse cx="572.7" cy="357.4" rx="1.8" ry="0.8" transform="rotate(-39 572.7 357.4)"/><ellipse cx="596.6" cy="340.9" rx="1.4" ry="0.9" transform="rotate(-29 596.6 340.9)"/><ellipse cx="449.2" cy="330.7" rx="1.3" ry="0.6" transform="rotate(8 449.2 330.7)"/><ellipse cx="575.7" cy="335.8" rx="1.4" ry="0.6" transform="rotate(-1 575.7 335.8)"/><ellipse cx="615.1" cy="369.8" rx="0.8" ry="0.7" transform="rotate(-18 615.1 369.8)"/><ellipse cx="425.7" cy="365.9" rx="1.4" ry="0.6" transform="rotate(19 425.7 365.9)"/><ellipse cx="540.9" cy="347.7" rx="0.7" ry="0.5" transform="rotate(31 540.9 347.7)"/><ellipse cx="614.8" cy="353.9" rx="1.6" ry="0.7" transform="rotate(-28 614.8 353.9)"/><ellipse cx="451.8" cy="341.3" rx="1.7" ry="0.8" transform="rotate(29 451.8 341.3)"/><ellipse cx="613.8" cy="336.1" rx="1.0" ry="0.5" transform="rotate(22 613.8 336.1)"/><ellipse cx="610.7" cy="346.5" rx="1.4" ry="0.6" transform="rotate(34 610.7 346.5)"/><ellipse cx="606.6" cy="376.7" rx="1.6" ry="0.9" transform="rotate(-38 606.6 376.7)"/><ellipse cx="579.7" cy="342.6" rx="1.7" ry="0.8" transform="rotate(29 579.7 342.6)"/><ellipse cx="595.3" cy="339.1" rx="1.6" ry="0.5" transform="rotate(30 595.3 339.1)"/><ellipse cx="605.3" cy="336.8" rx="1.6" ry="0.7" transform="rotate(-16 605.3 336.8)"/><ellipse cx="592.0" cy="337.1" rx="0.7" ry="0.6" transform="rotate(-14 592.0 337.1)"/><ellipse cx="606.5" cy="376.2" rx="1.0" ry="0.8" transform="rotate(-8 606.5 376.2)"/><ellipse cx="631.0" cy="353.4" rx="1.7" ry="0.5" transform="rotate(38 631.0 353.4)"/><ellipse cx="462.5" cy="376.0" rx="1.0" ry="0.5" transform="rotate(-5 462.5 376.0)"/><ellipse cx="578.0" cy="341.6" rx="1.4" ry="0.7" transform="rotate(-9 578.0 341.6)"/><ellipse cx="546.1" cy="338.5" rx="1.5" ry="0.5" transform="rotate(34 546.1 338.5)"/><ellipse cx="538.1" cy="363.1" rx="1.5" ry="0.8" transform="rotate(-11 538.1 363.1)"/><ellipse cx="439.7" cy="360.2" rx="1.1" ry="0.6" transform="rotate(28 439.7 360.2)"/><ellipse cx="576.1" cy="340.9" rx="1.0" ry="0.7" transform="rotate(-8 576.1 340.9)"/><ellipse cx="487.1" cy="331.7" rx="1.2" ry="0.9" transform="rotate(14 487.1 331.7)"/><ellipse cx="614.6" cy="357.6" rx="1.0" ry="0.7" transform="rotate(-40 614.6 357.6)"/><ellipse cx="485.3" cy="347.8" rx="1.3" ry="0.8" transform="rotate(-3 485.3 347.8)"/><ellipse cx="517.9" cy="336.3" rx="1.2" ry="0.9" transform="rotate(24 517.9 336.3)"/><ellipse cx="460.6" cy="329.5" rx="1.3" ry="0.8" transform="rotate(-13 460.6 329.5)"/><ellipse cx="596.9" cy="364.8" rx="1.4" ry="0.6" transform="rotate(-24 596.9 364.8)"/><ellipse cx="430.1" cy="338.0" rx="1.2" ry="0.8" transform="rotate(-34 430.1 338.0)"/><ellipse cx="512.0" cy="358.4" rx="0.9" ry="0.8" transform="rotate(-0 512.0 358.4)"/><ellipse cx="476.2" cy="359.8" rx="0.7" ry="0.8" transform="rotate(22 476.2 359.8)"/><ellipse cx="447.4" cy="347.5" rx="0.9" ry="0.9" transform="rotate(1 447.4 347.5)"/><ellipse cx="435.5" cy="338.2" rx="1.6" ry="0.7" transform="rotate(24 435.5 338.2)"/><ellipse cx="565.2" cy="377.4" rx="1.4" ry="0.9" transform="rotate(31 565.2 377.4)"/><ellipse cx="553.7" cy="363.1" rx="1.3" ry="0.8" transform="rotate(4 553.7 363.1)"/><ellipse cx="613.4" cy="364.4" rx="1.2" ry="0.6" transform="rotate(-20 613.4 364.4)"/><ellipse cx="558.9" cy="365.6" rx="1.3" ry="0.8" transform="rotate(-18 558.9 365.6)"/><ellipse cx="441.3" cy="340.1" rx="1.0" ry="0.6" transform="rotate(3 441.3 340.1)"/><ellipse cx="454.1" cy="337.3" rx="1.5" ry="0.8" transform="rotate(-35 454.1 337.3)"/><ellipse cx="510.6" cy="353.8" rx="1.2" ry="0.6" transform="rotate(-6 510.6 353.8)"/><ellipse cx="615.0" cy="356.0" rx="1.5" ry="0.8" transform="rotate(21 615.0 356.0)"/><ellipse cx="504.9" cy="325.3" rx="1.1" ry="0.8" transform="rotate(28 504.9 325.3)"/><ellipse cx="625.2" cy="347.2" rx="1.5" ry="0.7" transform="rotate(8 625.2 347.2)"/><ellipse cx="471.3" cy="336.6" rx="1.2" ry="0.5" transform="rotate(-13 471.3 336.6)"/><ellipse cx="567.6" cy="346.4" rx="0.9" ry="0.7" transform="rotate(-30 567.6 346.4)"/><ellipse cx="555.7" cy="326.4" rx="1.1" ry="0.7" transform="rotate(-38 555.7 326.4)"/><ellipse cx="560.0" cy="332.2" rx="1.2" ry="0.5" transform="rotate(-10 560.0 332.2)"/><ellipse cx="469.4" cy="342.3" rx="1.5" ry="0.7" transform="rotate(20 469.4 342.3)"/><ellipse cx="599.7" cy="338.4" rx="0.8" ry="0.5" transform="rotate(3 599.7 338.4)"/><ellipse cx="635.0" cy="343.5" rx="1.4" ry="0.8" transform="rotate(12 635.0 343.5)"/><ellipse cx="583.4" cy="375.3" rx="0.9" ry="0.5" transform="rotate(-28 583.4 375.3)"/><ellipse cx="451.5" cy="360.5" rx="1.3" ry="0.6" transform="rotate(16 451.5 360.5)"/><ellipse cx="586.0" cy="333.9" rx="1.4" ry="0.8" transform="rotate(-31 586.0 333.9)"/><ellipse cx="597.1" cy="376.1" rx="0.8" ry="0.5" transform="rotate(-15 597.1 376.1)"/><ellipse cx="567.2" cy="375.8" rx="1.1" ry="0.8" transform="rotate(-34 567.2 375.8)"/><ellipse cx="570.0" cy="358.2" rx="0.8" ry="0.8" transform="rotate(28 570.0 358.2)"/><ellipse cx="551.1" cy="331.4" rx="1.8" ry="0.8" transform="rotate(-12 551.1 331.4)"/><ellipse cx="515.0" cy="344.6" rx="1.3" ry="0.6" transform="rotate(28 515.0 344.6)"/><ellipse cx="597.7" cy="330.6" rx="1.8" ry="0.8" transform="rotate(26 597.7 330.6)"/><ellipse cx="573.5" cy="348.1" rx="1.5" ry="0.9" transform="rotate(-18 573.5 348.1)"/><ellipse cx="594.7" cy="353.5" rx="1.2" ry="0.7" transform="rotate(18 594.7 353.5)"/><ellipse cx="481.4" cy="370.1" rx="1.6" ry="0.5" transform="rotate(31 481.4 370.1)"/><ellipse cx="476.2" cy="349.6" rx="1.4" ry="0.7" transform="rotate(-38 476.2 349.6)"/><ellipse cx="603.7" cy="334.6" rx="0.9" ry="0.8" transform="rotate(-13 603.7 334.6)"/><ellipse cx="609.9" cy="362.2" rx="1.0" ry="0.5" transform="rotate(36 609.9 362.2)"/><ellipse cx="443.0" cy="363.2" rx="1.2" ry="0.8" transform="rotate(15 443.0 363.2)"/><ellipse cx="560.6" cy="351.0" rx="1.6" ry="0.5" transform="rotate(-22 560.6 351.0)"/><ellipse cx="570.3" cy="341.2" rx="1.3" ry="0.7" transform="rotate(2 570.3 341.2)"/><ellipse cx="514.4" cy="364.5" rx="1.1" ry="0.8" transform="rotate(-18 514.4 364.5)"/><ellipse cx="477.8" cy="331.4" rx="0.9" ry="0.5" transform="rotate(3 477.8 331.4)"/><ellipse cx="585.1" cy="334.8" rx="0.9" ry="0.7" transform="rotate(18 585.1 334.8)"/><ellipse cx="630.1" cy="352.8" rx="1.0" ry="0.5" transform="rotate(-24 630.1 352.8)"/><ellipse cx="472.8" cy="334.5" rx="0.7" ry="0.7" transform="rotate(-18 472.8 334.5)"/><ellipse cx="629.6" cy="354.3" rx="1.5" ry="0.6" transform="rotate(29 629.6 354.3)"/><ellipse cx="528.1" cy="371.3" rx="1.3" ry="0.7" transform="rotate(-5 528.1 371.3)"/><ellipse cx="463.7" cy="327.7" rx="1.7" ry="0.7" transform="rotate(26 463.7 327.7)"/><ellipse cx="509.1" cy="328.9" rx="1.4" ry="0.5" transform="rotate(-28 509.1 328.9)"/><ellipse cx="543.2" cy="341.1" rx="1.8" ry="0.5" transform="rotate(21 543.2 341.1)"/><ellipse cx="552.3" cy="366.9" rx="0.9" ry="0.7" transform="rotate(-4 552.3 366.9)"/><ellipse cx="518.0" cy="370.6" rx="1.8" ry="0.6" transform="rotate(10 518.0 370.6)"/><ellipse cx="553.0" cy="364.2" rx="1.7" ry="0.6" transform="rotate(-23 553.0 364.2)"/><ellipse cx="563.7" cy="333.3" rx="0.9" ry="0.5" transform="rotate(-40 563.7 333.3)"/><ellipse cx="519.6" cy="356.5" rx="1.0" ry="0.6" transform="rotate(17 519.6 356.5)"/><ellipse cx="572.6" cy="349.1" rx="1.5" ry="0.9" transform="rotate(23 572.6 349.1)"/><ellipse cx="556.3" cy="360.0" rx="1.7" ry="0.7" transform="rotate(4 556.3 360.0)"/><ellipse cx="561.0" cy="373.1" rx="1.6" ry="0.5" transform="rotate(-27 561.0 373.1)"/><ellipse cx="489.6" cy="364.7" rx="1.3" ry="0.6" transform="rotate(-30 489.6 364.7)"/><ellipse cx="569.6" cy="362.1" rx="1.7" ry="0.7" transform="rotate(-0 569.6 362.1)"/><ellipse cx="441.9" cy="327.1" rx="1.2" ry="0.6" transform="rotate(-20 441.9 327.1)"/><ellipse cx="444.2" cy="376.0" rx="1.6" ry="0.7" transform="rotate(36 444.2 376.0)"/><ellipse cx="634.9" cy="360.6" rx="1.0" ry="0.5" transform="rotate(21 634.9 360.6)"/><ellipse cx="523.8" cy="359.5" rx="1.7" ry="0.6" transform="rotate(7 523.8 359.5)"/><ellipse cx="558.3" cy="351.1" rx="0.8" ry="0.6" transform="rotate(-13 558.3 351.1)"/><ellipse cx="565.7" cy="370.5" rx="1.1" ry="0.8" transform="rotate(-17 565.7 370.5)"/><ellipse cx="623.5" cy="368.1" rx="1.3" ry="0.7" transform="rotate(-15 623.5 368.1)"/><ellipse cx="492.9" cy="376.4" rx="1.1" ry="0.7" transform="rotate(39 492.9 376.4)"/><ellipse cx="563.1" cy="353.8" rx="1.2" ry="0.6" transform="rotate(-11 563.1 353.8)"/><ellipse cx="583.9" cy="358.1" rx="1.5" ry="0.6" transform="rotate(4 583.9 358.1)"/><ellipse cx="619.8" cy="348.2" rx="1.5" ry="0.5" transform="rotate(38 619.8 348.2)"/><ellipse cx="552.9" cy="337.7" rx="0.9" ry="0.7" transform="rotate(4 552.9 337.7)"/><ellipse cx="444.6" cy="377.6" rx="1.7" ry="0.7" transform="rotate(-31 444.6 377.6)"/><ellipse cx="599.8" cy="351.4" rx="1.5" ry="0.7" transform="rotate(-18 599.8 351.4)"/><ellipse cx="600.3" cy="377.0" rx="1.0" ry="0.7" transform="rotate(-9 600.3 377.0)"/><ellipse cx="618.6" cy="351.9" rx="1.7" ry="0.8" transform="rotate(-18 618.6 351.9)"/><ellipse cx="590.9" cy="347.0" rx="1.7" ry="0.7" transform="rotate(26 590.9 347.0)"/><ellipse cx="484.4" cy="340.8" rx="1.3" ry="0.9" transform="rotate(-1 484.4 340.8)"/><ellipse cx="456.2" cy="353.5" rx="1.1" ry="0.7" transform="rotate(3 456.2 353.5)"/><ellipse cx="520.6" cy="342.1" rx="0.9" ry="0.8" transform="rotate(6 520.6 342.1)"/><ellipse cx="474.0" cy="366.1" rx="0.7" ry="0.8" transform="rotate(16 474.0 366.1)"/><ellipse cx="595.4" cy="345.5" rx="1.4" ry="0.8" transform="rotate(38 595.4 345.5)"/><ellipse cx="529.0" cy="327.0" rx="1.3" ry="0.7" transform="rotate(30 529.0 327.0)"/><ellipse cx="608.6" cy="348.3" rx="1.3" ry="0.7" transform="rotate(18 608.6 348.3)"/><ellipse cx="511.1" cy="359.7" rx="0.9" ry="0.7" transform="rotate(38 511.1 359.7)"/><ellipse cx="496.1" cy="361.7" rx="1.4" ry="0.8" transform="rotate(28 496.1 361.7)"/><ellipse cx="605.5" cy="345.1" rx="1.0" ry="0.8" transform="rotate(21 605.5 345.1)"/><ellipse cx="608.2" cy="326.9" rx="0.8" ry="0.8" transform="rotate(34 608.2 326.9)"/><ellipse cx="634.5" cy="364.6" rx="1.2" ry="0.5" transform="rotate(11 634.5 364.6)"/><ellipse cx="608.2" cy="348.5" rx="1.5" ry="0.9" transform="rotate(-36 608.2 348.5)"/><ellipse cx="592.2" cy="340.5" rx="1.1" ry="0.6" transform="rotate(2 592.2 340.5)"/><ellipse cx="543.8" cy="367.0" rx="0.9" ry="0.5" transform="rotate(30 543.8 367.0)"/><ellipse cx="555.1" cy="337.8" rx="1.7" ry="0.6" transform="rotate(-3 555.1 337.8)"/><ellipse cx="478.3" cy="338.5" rx="0.7" ry="0.8" transform="rotate(32 478.3 338.5)"/><ellipse cx="567.3" cy="333.4" rx="1.2" ry="0.6" transform="rotate(7 567.3 333.4)"/><ellipse cx="559.2" cy="347.5" rx="1.0" ry="0.8" transform="rotate(-24 559.2 347.5)"/><ellipse cx="505.8" cy="350.6" rx="1.0" ry="0.7" transform="rotate(6 505.8 350.6)"/><ellipse cx="633.5" cy="340.6" rx="1.8" ry="0.8" transform="rotate(-18 633.5 340.6)"/><ellipse cx="543.8" cy="361.3" rx="1.5" ry="0.5" transform="rotate(9 543.8 361.3)"/><ellipse cx="529.3" cy="372.9" rx="1.0" ry="0.8" transform="rotate(9 529.3 372.9)"/><ellipse cx="499.0" cy="358.7" rx="1.4" ry="0.8" transform="rotate(18 499.0 358.7)"/><ellipse cx="563.4" cy="369.4" rx="1.4" ry="0.9" transform="rotate(12 563.4 369.4)"/><ellipse cx="489.9" cy="348.4" rx="1.3" ry="0.8" transform="rotate(-33 489.9 348.4)"/><ellipse cx="487.0" cy="364.6" rx="0.9" ry="0.6" transform="rotate(3 487.0 364.6)"/><ellipse cx="629.0" cy="353.1" rx="1.7" ry="0.8" transform="rotate(-19 629.0 353.1)"/><ellipse cx="598.2" cy="350.5" rx="1.6" ry="0.8" transform="rotate(-13 598.2 350.5)"/><ellipse cx="449.2" cy="376.0" rx="0.9" ry="0.9" transform="rotate(29 449.2 376.0)"/><ellipse cx="577.1" cy="376.9" rx="1.8" ry="0.8" transform="rotate(-11 577.1 376.9)"/><ellipse cx="591.0" cy="325.7" rx="1.3" ry="0.7" transform="rotate(14 591.0 325.7)"/><ellipse cx="566.2" cy="356.0" rx="1.6" ry="0.9" transform="rotate(-31 566.2 356.0)"/><ellipse cx="474.1" cy="326.3" rx="1.7" ry="0.7" transform="rotate(33 474.1 326.3)"/><ellipse cx="471.5" cy="328.4" rx="1.6" ry="0.9" transform="rotate(-16 471.5 328.4)"/><ellipse cx="510.7" cy="332.4" rx="1.7" ry="0.6" transform="rotate(-1 510.7 332.4)"/><ellipse cx="445.4" cy="372.0" rx="0.8" ry="0.7" transform="rotate(14 445.4 372.0)"/><ellipse cx="581.1" cy="375.1" rx="1.2" ry="0.8" transform="rotate(-28 581.1 375.1)"/><ellipse cx="512.1" cy="330.2" rx="1.2" ry="0.7" transform="rotate(36 512.1 330.2)"/><ellipse cx="431.9" cy="344.6" rx="1.2" ry="0.9" transform="rotate(28 431.9 344.6)"/><ellipse cx="445.9" cy="361.3" rx="1.3" ry="0.9" transform="rotate(-11 445.9 361.3)"/><ellipse cx="508.6" cy="335.1" rx="0.8" ry="0.8" transform="rotate(-4 508.6 335.1)"/><ellipse cx="564.2" cy="359.0" rx="1.4" ry="0.5" transform="rotate(23 564.2 359.0)"/><ellipse cx="476.1" cy="331.7" rx="1.3" ry="0.5" transform="rotate(21 476.1 331.7)"/><ellipse cx="468.5" cy="336.4" rx="1.7" ry="0.6" transform="rotate(-28 468.5 336.4)"/><ellipse cx="614.1" cy="325.2" rx="1.6" ry="0.6" transform="rotate(-30 614.1 325.2)"/><ellipse cx="477.6" cy="334.2" rx="1.4" ry="0.5" transform="rotate(-39 477.6 334.2)"/><ellipse cx="590.9" cy="337.6" rx="1.1" ry="0.6" transform="rotate(-36 590.9 337.6)"/><ellipse cx="580.8" cy="352.9" rx="1.5" ry="0.7" transform="rotate(22 580.8 352.9)"/><ellipse cx="532.8" cy="330.8" rx="1.3" ry="0.9" transform="rotate(-37 532.8 330.8)"/><ellipse cx="589.5" cy="370.9" rx="1.3" ry="0.7" transform="rotate(37 589.5 370.9)"/><ellipse cx="437.8" cy="350.4" rx="1.1" ry="0.8" transform="rotate(-1 437.8 350.4)"/><ellipse cx="616.0" cy="328.9" rx="0.8" ry="0.7" transform="rotate(-35 616.0 328.9)"/><ellipse cx="482.8" cy="358.6" rx="1.3" ry="0.6" transform="rotate(40 482.8 358.6)"/><ellipse cx="536.4" cy="349.0" rx="1.4" ry="0.5" transform="rotate(16 536.4 349.0)"/><ellipse cx="604.1" cy="359.5" rx="1.5" ry="0.8" transform="rotate(-23 604.1 359.5)"/><ellipse cx="519.8" cy="337.1" rx="1.1" ry="0.7" transform="rotate(-7 519.8 337.1)"/><ellipse cx="445.0" cy="347.6" rx="1.4" ry="0.6" transform="rotate(-28 445.0 347.6)"/><ellipse cx="618.8" cy="328.6" rx="1.6" ry="0.5" transform="rotate(-32 618.8 328.6)"/><ellipse cx="580.1" cy="368.0" rx="1.3" ry="0.7" transform="rotate(5 580.1 368.0)"/><ellipse cx="494.2" cy="331.5" rx="1.1" ry="0.8" transform="rotate(20 494.2 331.5)"/><ellipse cx="607.3" cy="363.2" rx="1.8" ry="0.7" transform="rotate(-12 607.3 363.2)"/><ellipse cx="546.4" cy="336.3" rx="1.4" ry="0.6" transform="rotate(-31 546.4 336.3)"/><ellipse cx="602.5" cy="344.5" rx="1.5" ry="0.7" transform="rotate(25 602.5 344.5)"/><ellipse cx="602.5" cy="376.7" rx="1.6" ry="0.7" transform="rotate(11 602.5 376.7)"/><ellipse cx="430.5" cy="374.2" rx="1.6" ry="0.6" transform="rotate(-26 430.5 374.2)"/><ellipse cx="572.6" cy="341.4" rx="1.1" ry="0.5" transform="rotate(30 572.6 341.4)"/><ellipse cx="543.9" cy="346.2" rx="0.9" ry="0.8" transform="rotate(-38 543.9 346.2)"/><ellipse cx="581.7" cy="336.4" rx="1.2" ry="0.6" transform="rotate(-10 581.7 336.4)"/><ellipse cx="576.5" cy="366.2" rx="1.3" ry="0.5" transform="rotate(-36 576.5 366.2)"/><ellipse cx="458.1" cy="357.7" rx="1.4" ry="0.6" transform="rotate(13 458.1 357.7)"/><ellipse cx="527.0" cy="348.4" rx="1.0" ry="0.8" transform="rotate(-31 527.0 348.4)"/><ellipse cx="515.3" cy="340.0" rx="1.4" ry="0.7" transform="rotate(13 515.3 340.0)"/><ellipse cx="434.5" cy="345.9" rx="1.4" ry="0.5" transform="rotate(-16 434.5 345.9)"/><ellipse cx="469.4" cy="332.3" rx="1.0" ry="0.6" transform="rotate(-39 469.4 332.3)"/><ellipse cx="581.9" cy="334.3" rx="1.1" ry="0.8" transform="rotate(0 581.9 334.3)"/><ellipse cx="600.0" cy="367.7" rx="0.8" ry="0.8" transform="rotate(-37 600.0 367.7)"/><ellipse cx="428.9" cy="373.8" rx="1.6" ry="0.7" transform="rotate(6 428.9 373.8)"/><ellipse cx="574.0" cy="347.1" rx="0.8" ry="0.5" transform="rotate(-14 574.0 347.1)"/><ellipse cx="593.3" cy="357.8" rx="1.6" ry="0.9" transform="rotate(-33 593.3 357.8)"/><ellipse cx="602.3" cy="337.9" rx="1.3" ry="0.7" transform="rotate(-8 602.3 337.9)"/><ellipse cx="490.2" cy="343.0" rx="1.1" ry="0.6" transform="rotate(1 490.2 343.0)"/><ellipse cx="448.9" cy="352.0" rx="1.7" ry="0.6" transform="rotate(18 448.9 352.0)"/><ellipse cx="597.0" cy="368.2" rx="1.0" ry="0.6" transform="rotate(-24 597.0 368.2)"/><ellipse cx="551.5" cy="365.3" rx="1.4" ry="0.6" transform="rotate(22 551.5 365.3)"/><ellipse cx="528.8" cy="365.0" rx="1.5" ry="0.7" transform="rotate(34 528.8 365.0)"/><ellipse cx="543.5" cy="358.7" rx="1.4" ry="0.8" transform="rotate(10 543.5 358.7)"/><ellipse cx="456.7" cy="328.6" rx="1.2" ry="0.6" transform="rotate(-18 456.7 328.6)"/><ellipse cx="436.8" cy="351.9" rx="1.0" ry="0.7" transform="rotate(-35 436.8 351.9)"/><ellipse cx="599.7" cy="329.1" rx="1.7" ry="0.8" transform="rotate(9 599.7 329.1)"/><ellipse cx="531.5" cy="349.5" rx="1.3" ry="0.8" transform="rotate(32 531.5 349.5)"/><ellipse cx="519.4" cy="367.9" rx="1.4" ry="0.6" transform="rotate(-2 519.4 367.9)"/><ellipse cx="456.7" cy="328.3" rx="0.8" ry="0.9" transform="rotate(-13 456.7 328.3)"/><ellipse cx="575.0" cy="351.7" rx="0.9" ry="0.6" transform="rotate(-5 575.0 351.7)"/><ellipse cx="517.3" cy="352.7" rx="0.9" ry="0.6" transform="rotate(-17 517.3 352.7)"/><ellipse cx="510.8" cy="342.9" rx="1.4" ry="0.8" transform="rotate(12 510.8 342.9)"/><ellipse cx="438.8" cy="330.0" rx="1.4" ry="0.6" transform="rotate(18 438.8 330.0)"/><ellipse cx="562.9" cy="373.0" rx="1.7" ry="0.6" transform="rotate(7 562.9 373.0)"/><ellipse cx="454.7" cy="343.5" rx="1.8" ry="0.8" transform="rotate(-9 454.7 343.5)"/><ellipse cx="550.0" cy="374.7" rx="1.0" ry="0.7" transform="rotate(23 550.0 374.7)"/><ellipse cx="595.8" cy="360.5" rx="1.6" ry="0.8" transform="rotate(15 595.8 360.5)"/><ellipse cx="535.5" cy="359.2" rx="1.2" ry="0.6" transform="rotate(-11 535.5 359.2)"/><ellipse cx="462.9" cy="336.4" rx="1.7" ry="0.7" transform="rotate(-22 462.9 336.4)"/><ellipse cx="453.9" cy="329.1" rx="1.6" ry="0.5" transform="rotate(22 453.9 329.1)"/><ellipse cx="600.4" cy="371.8" rx="0.7" ry="0.6" transform="rotate(21 600.4 371.8)"/><ellipse cx="452.5" cy="345.0" rx="0.9" ry="0.8" transform="rotate(22 452.5 345.0)"/><ellipse cx="594.9" cy="333.8" rx="1.2" ry="0.7" transform="rotate(14 594.9 333.8)"/><ellipse cx="474.9" cy="348.5" rx="1.0" ry="0.8" transform="rotate(-4 474.9 348.5)"/><ellipse cx="537.1" cy="341.4" rx="1.6" ry="0.7" transform="rotate(27 537.1 341.4)"/><ellipse cx="502.2" cy="375.2" rx="1.8" ry="0.7" transform="rotate(-17 502.2 375.2)"/><ellipse cx="505.2" cy="353.0" rx="1.8" ry="0.8" transform="rotate(24 505.2 353.0)"/><ellipse cx="454.1" cy="338.3" rx="1.4" ry="0.8" transform="rotate(4 454.1 338.3)"/><ellipse cx="446.5" cy="369.8" rx="1.6" ry="0.6" transform="rotate(21 446.5 369.8)"/><ellipse cx="482.3" cy="373.0" rx="0.9" ry="0.7" transform="rotate(36 482.3 373.0)"/><ellipse cx="471.6" cy="348.9" rx="1.1" ry="0.5" transform="rotate(-36 471.6 348.9)"/><ellipse cx="530.4" cy="337.5" rx="1.8" ry="0.6" transform="rotate(-38 530.4 337.5)"/><ellipse cx="620.5" cy="369.5" rx="1.4" ry="0.8" transform="rotate(-29 620.5 369.5)"/><ellipse cx="485.2" cy="369.0" rx="1.5" ry="0.6" transform="rotate(16 485.2 369.0)"/><ellipse cx="519.2" cy="325.3" rx="0.8" ry="0.6" transform="rotate(27 519.2 325.3)"/><ellipse cx="540.2" cy="363.5" rx="1.3" ry="0.5" transform="rotate(-17 540.2 363.5)"/><ellipse cx="488.2" cy="327.5" rx="1.2" ry="0.8" transform="rotate(-3 488.2 327.5)"/><ellipse cx="448.3" cy="373.0" rx="1.4" ry="0.5" transform="rotate(1 448.3 373.0)"/><ellipse cx="475.8" cy="332.6" rx="1.2" ry="0.7" transform="rotate(-21 475.8 332.6)"/><ellipse cx="512.5" cy="360.2" rx="0.8" ry="0.9" transform="rotate(-35 512.5 360.2)"/><ellipse cx="535.5" cy="351.9" rx="1.8" ry="0.7" transform="rotate(-9 535.5 351.9)"/><ellipse cx="523.7" cy="358.7" rx="1.8" ry="0.6" transform="rotate(-39 523.7 358.7)"/><ellipse cx="590.6" cy="343.3" rx="1.5" ry="0.8" transform="rotate(22 590.6 343.3)"/><ellipse cx="579.4" cy="342.6" rx="0.7" ry="0.7" transform="rotate(25 579.4 342.6)"/><ellipse cx="461.8" cy="366.3" rx="1.2" ry="0.8" transform="rotate(11 461.8 366.3)"/><ellipse cx="595.4" cy="328.3" rx="1.6" ry="0.7" transform="rotate(-17 595.4 328.3)"/><ellipse cx="434.2" cy="335.6" rx="0.7" ry="0.9" transform="rotate(1 434.2 335.6)"/><ellipse cx="632.7" cy="353.8" rx="1.0" ry="0.8" transform="rotate(-25 632.7 353.8)"/><ellipse cx="500.0" cy="366.4" rx="1.7" ry="0.6" transform="rotate(-30 500.0 366.4)"/><ellipse cx="502.3" cy="372.1" rx="1.5" ry="0.9" transform="rotate(-9 502.3 372.1)"/><ellipse cx="629.5" cy="351.3" rx="1.2" ry="0.9" transform="rotate(2 629.5 351.3)"/><ellipse cx="593.2" cy="363.5" rx="0.8" ry="0.7" transform="rotate(26 593.2 363.5)"/><ellipse cx="539.5" cy="342.0" rx="0.8" ry="0.8" transform="rotate(-15 539.5 342.0)"/><ellipse cx="551.6" cy="347.6" rx="1.5" ry="0.6" transform="rotate(-37 551.6 347.6)"/><ellipse cx="607.7" cy="343.7" rx="1.8" ry="0.6" transform="rotate(38 607.7 343.7)"/><ellipse cx="624.1" cy="329.0" rx="1.4" ry="0.6" transform="rotate(24 624.1 329.0)"/><ellipse cx="567.7" cy="375.5" rx="0.9" ry="0.7" transform="rotate(23 567.7 375.5)"/><ellipse cx="432.3" cy="328.6" rx="1.6" ry="0.6" transform="rotate(-9 432.3 328.6)"/><ellipse cx="544.1" cy="357.1" rx="1.4" ry="0.9" transform="rotate(-10 544.1 357.1)"/><ellipse cx="585.2" cy="355.4" rx="1.3" ry="0.7" transform="rotate(12 585.2 355.4)"/><ellipse cx="477.4" cy="331.0" rx="1.5" ry="0.7" transform="rotate(-9 477.4 331.0)"/><ellipse cx="543.0" cy="338.9" rx="1.0" ry="0.7" transform="rotate(40 543.0 338.9)"/><ellipse cx="485.0" cy="373.6" rx="1.2" ry="0.5" transform="rotate(28 485.0 373.6)"/><ellipse cx="519.9" cy="372.6" rx="1.2" ry="0.5" transform="rotate(15 519.9 372.6)"/><ellipse cx="602.6" cy="341.9" rx="1.1" ry="0.5" transform="rotate(3 602.6 341.9)"/><ellipse cx="612.2" cy="370.1" rx="1.5" ry="0.9" transform="rotate(11 612.2 370.1)"/><ellipse cx="591.7" cy="352.0" rx="0.8" ry="0.6" transform="rotate(-29 591.7 352.0)"/><ellipse cx="591.0" cy="326.4" rx="1.3" ry="0.6" transform="rotate(24 591.0 326.4)"/><ellipse cx="540.8" cy="357.4" rx="0.8" ry="0.6" transform="rotate(40 540.8 357.4)"/><ellipse cx="576.0" cy="352.9" rx="1.5" ry="0.8" transform="rotate(-34 576.0 352.9)"/><ellipse cx="629.2" cy="359.0" rx="1.2" ry="0.8" transform="rotate(-12 629.2 359.0)"/><ellipse cx="609.4" cy="366.4" rx="1.4" ry="0.6" transform="rotate(37 609.4 366.4)"/><ellipse cx="515.8" cy="373.3" rx="0.8" ry="0.5" transform="rotate(-28 515.8 373.3)"/><ellipse cx="459.6" cy="342.1" rx="1.5" ry="0.6" transform="rotate(35 459.6 342.1)"/><ellipse cx="612.9" cy="369.8" rx="1.0" ry="0.8" transform="rotate(4 612.9 369.8)"/><ellipse cx="451.3" cy="341.0" rx="1.3" ry="0.7" transform="rotate(-27 451.3 341.0)"/><ellipse cx="622.7" cy="333.2" rx="1.4" ry="0.8" transform="rotate(8 622.7 333.2)"/><ellipse cx="601.9" cy="354.9" rx="1.6" ry="0.5" transform="rotate(-36 601.9 354.9)"/><ellipse cx="559.7" cy="355.6" rx="1.4" ry="0.8" transform="rotate(-7 559.7 355.6)"/><ellipse cx="559.2" cy="351.4" rx="1.4" ry="0.6" transform="rotate(37 559.2 351.4)"/><ellipse cx="526.4" cy="367.6" rx="1.5" ry="0.6" transform="rotate(-34 526.4 367.6)"/><ellipse cx="437.6" cy="348.3" rx="1.2" ry="0.6" transform="rotate(9 437.6 348.3)"/><ellipse cx="490.6" cy="363.1" rx="1.5" ry="0.8" transform="rotate(38 490.6 363.1)"/><ellipse cx="452.5" cy="344.6" rx="1.3" ry="0.6" transform="rotate(-3 452.5 344.6)"/><ellipse cx="481.2" cy="338.1" rx="0.8" ry="0.6" transform="rotate(-9 481.2 338.1)"/><ellipse cx="554.2" cy="338.2" rx="1.7" ry="0.6" transform="rotate(-14 554.2 338.2)"/><ellipse cx="546.3" cy="341.6" rx="1.5" ry="0.7" transform="rotate(1 546.3 341.6)"/><ellipse cx="529.7" cy="341.4" rx="0.7" ry="0.9" transform="rotate(0 529.7 341.4)"/><ellipse cx="628.0" cy="336.4" rx="1.1" ry="0.5" transform="rotate(-0 628.0 336.4)"/><ellipse cx="610.3" cy="359.7" rx="1.2" ry="0.7" transform="rotate(28 610.3 359.7)"/><ellipse cx="515.5" cy="371.8" rx="1.5" ry="0.8" transform="rotate(-11 515.5 371.8)"/><ellipse cx="509.1" cy="355.2" rx="0.9" ry="0.7" transform="rotate(-34 509.1 355.2)"/><ellipse cx="530.9" cy="365.5" rx="1.0" ry="0.9" transform="rotate(14 530.9 365.5)"/><ellipse cx="450.0" cy="376.7" rx="1.1" ry="0.8" transform="rotate(-13 450.0 376.7)"/><ellipse cx="622.2" cy="365.0" rx="0.9" ry="0.7" transform="rotate(0 622.2 365.0)"/><ellipse cx="434.5" cy="332.3" rx="1.1" ry="0.7" transform="rotate(-3 434.5 332.3)"/><ellipse cx="552.3" cy="352.3" rx="1.1" ry="0.7" transform="rotate(-27 552.3 352.3)"/><ellipse cx="633.0" cy="364.2" rx="1.0" ry="0.6" transform="rotate(26 633.0 364.2)"/><ellipse cx="536.8" cy="362.6" rx="1.0" ry="0.8" transform="rotate(-11 536.8 362.6)"/><ellipse cx="566.5" cy="376.9" rx="1.3" ry="0.8" transform="rotate(18 566.5 376.9)"/><ellipse cx="569.5" cy="326.4" rx="1.2" ry="0.9" transform="rotate(23 569.5 326.4)"/><ellipse cx="588.0" cy="355.6" rx="1.5" ry="0.7" transform="rotate(-26 588.0 355.6)"/><ellipse cx="557.1" cy="357.8" rx="1.6" ry="0.6" transform="rotate(14 557.1 357.8)"/><ellipse cx="431.6" cy="375.3" rx="0.8" ry="0.5" transform="rotate(-15 431.6 375.3)"/><ellipse cx="456.8" cy="361.6" rx="1.2" ry="0.8" transform="rotate(34 456.8 361.6)"/><ellipse cx="608.3" cy="364.0" rx="0.8" ry="0.6" transform="rotate(-23 608.3 364.0)"/><ellipse cx="493.3" cy="360.1" rx="1.3" ry="0.6" transform="rotate(-26 493.3 360.1)"/><ellipse cx="616.5" cy="343.1" rx="1.1" ry="0.8" transform="rotate(18 616.5 343.1)"/><ellipse cx="560.1" cy="361.7" rx="1.4" ry="0.6" transform="rotate(-20 560.1 361.7)"/><ellipse cx="542.2" cy="336.9" rx="1.8" ry="0.6" transform="rotate(-17 542.2 336.9)"/><ellipse cx="468.5" cy="362.4" rx="1.0" ry="0.6" transform="rotate(35 468.5 362.4)"/><ellipse cx="592.0" cy="339.5" rx="0.8" ry="0.8" transform="rotate(-10 592.0 339.5)"/><ellipse cx="630.8" cy="368.4" rx="1.8" ry="0.8" transform="rotate(-17 630.8 368.4)"/><ellipse cx="485.4" cy="362.8" rx="1.1" ry="0.7" transform="rotate(-19 485.4 362.8)"/><ellipse cx="525.6" cy="335.7" rx="1.3" ry="0.9" transform="rotate(16 525.6 335.7)"/><ellipse cx="453.8" cy="357.6" rx="1.3" ry="0.6" transform="rotate(14 453.8 357.6)"/><ellipse cx="536.5" cy="358.8" rx="0.8" ry="0.7" transform="rotate(17 536.5 358.8)"/><ellipse cx="446.1" cy="365.9" rx="0.7" ry="0.7" transform="rotate(34 446.1 365.9)"/><ellipse cx="510.5" cy="374.6" rx="1.7" ry="0.7" transform="rotate(-24 510.5 374.6)"/><ellipse cx="627.4" cy="342.0" rx="1.4" ry="0.9" transform="rotate(-33 627.4 342.0)"/><ellipse cx="545.6" cy="353.4" rx="1.5" ry="0.9" transform="rotate(33 545.6 353.4)"/><ellipse cx="461.8" cy="371.8" rx="0.9" ry="0.9" transform="rotate(40 461.8 371.8)"/><ellipse cx="508.4" cy="351.3" rx="1.7" ry="0.9" transform="rotate(34 508.4 351.3)"/><ellipse cx="609.1" cy="325.5" rx="1.3" ry="0.5" transform="rotate(39 609.1 325.5)"/><ellipse cx="484.8" cy="377.4" rx="1.3" ry="0.7" transform="rotate(35 484.8 377.4)"/><ellipse cx="603.7" cy="349.8" rx="0.9" ry="0.5" transform="rotate(-27 603.7 349.8)"/><ellipse cx="521.4" cy="338.6" rx="0.9" ry="0.8" transform="rotate(23 521.4 338.6)"/><ellipse cx="544.2" cy="365.1" rx="0.9" ry="0.8" transform="rotate(32 544.2 365.1)"/><ellipse cx="598.7" cy="352.3" rx="0.8" ry="0.8" transform="rotate(-25 598.7 352.3)"/><ellipse cx="454.5" cy="342.2" rx="1.0" ry="0.6" transform="rotate(-21 454.5 342.2)"/><ellipse cx="583.3" cy="375.6" rx="1.0" ry="0.8" transform="rotate(-39 583.3 375.6)"/><ellipse cx="562.3" cy="361.7" rx="0.8" ry="0.5" transform="rotate(-15 562.3 361.7)"/><ellipse cx="510.1" cy="351.6" rx="1.7" ry="0.8" transform="rotate(-15 510.1 351.6)"/><ellipse cx="449.7" cy="373.6" rx="1.0" ry="0.7" transform="rotate(-22 449.7 373.6)"/><ellipse cx="453.0" cy="333.1" rx="1.5" ry="0.7" transform="rotate(-7 453.0 333.1)"/><ellipse cx="540.3" cy="350.0" rx="1.3" ry="0.8" transform="rotate(-23 540.3 350.0)"/><ellipse cx="477.0" cy="365.0" rx="1.7" ry="0.5" transform="rotate(-4 477.0 365.0)"/><ellipse cx="572.8" cy="329.1" rx="1.3" ry="0.5" transform="rotate(4 572.8 329.1)"/><ellipse cx="531.2" cy="355.4" rx="0.9" ry="0.6" transform="rotate(2 531.2 355.4)"/><ellipse cx="449.4" cy="335.9" rx="1.3" ry="0.5" transform="rotate(1 449.4 335.9)"/><ellipse cx="594.8" cy="349.0" rx="1.3" ry="0.7" transform="rotate(-35 594.8 349.0)"/><ellipse cx="522.1" cy="367.8" rx="1.5" ry="0.7" transform="rotate(25 522.1 367.8)"/><ellipse cx="581.6" cy="355.7" rx="0.7" ry="0.6" transform="rotate(-35 581.6 355.7)"/><ellipse cx="633.8" cy="374.5" rx="0.8" ry="0.9" transform="rotate(-37 633.8 374.5)"/><ellipse cx="510.9" cy="365.8" rx="1.5" ry="0.9" transform="rotate(12 510.9 365.8)"/><ellipse cx="513.3" cy="377.6" rx="1.1" ry="0.8" transform="rotate(33 513.3 377.6)"/><ellipse cx="503.9" cy="361.2" rx="1.4" ry="0.7" transform="rotate(12 503.9 361.2)"/><ellipse cx="498.0" cy="334.5" rx="1.3" ry="0.7" transform="rotate(18 498.0 334.5)"/><ellipse cx="471.8" cy="325.2" rx="0.7" ry="0.6" transform="rotate(14 471.8 325.2)"/><ellipse cx="539.3" cy="353.2" rx="1.6" ry="0.6" transform="rotate(-12 539.3 353.2)"/><ellipse cx="482.9" cy="374.7" rx="1.5" ry="0.5" transform="rotate(25 482.9 374.7)"/><ellipse cx="513.0" cy="365.6" rx="1.7" ry="0.5" transform="rotate(-24 513.0 365.6)"/><ellipse cx="446.2" cy="326.8" rx="1.4" ry="0.8" transform="rotate(-36 446.2 326.8)"/><ellipse cx="580.5" cy="346.3" rx="1.0" ry="0.6" transform="rotate(29 580.5 346.3)"/><ellipse cx="436.9" cy="351.7" rx="1.0" ry="0.8" transform="rotate(19 436.9 351.7)"/><ellipse cx="492.0" cy="356.7" rx="1.4" ry="0.6" transform="rotate(-16 492.0 356.7)"/><ellipse cx="455.1" cy="360.0" rx="0.9" ry="0.6" transform="rotate(-35 455.1 360.0)"/><ellipse cx="624.2" cy="371.6" rx="1.7" ry="0.8" transform="rotate(-6 624.2 371.6)"/><ellipse cx="529.1" cy="376.5" rx="1.7" ry="0.8" transform="rotate(23 529.1 376.5)"/><ellipse cx="491.9" cy="347.1" rx="0.9" ry="0.7" transform="rotate(20 491.9 347.1)"/><ellipse cx="524.4" cy="370.0" rx="1.0" ry="0.8" transform="rotate(24 524.4 370.0)"/><ellipse cx="617.1" cy="354.8" rx="1.8" ry="0.7" transform="rotate(-29 617.1 354.8)"/><ellipse cx="476.0" cy="335.8" rx="1.4" ry="0.9" transform="rotate(28 476.0 335.8)"/><ellipse cx="444.4" cy="363.4" rx="0.9" ry="0.6" transform="rotate(14 444.4 363.4)"/><ellipse cx="551.6" cy="371.3" rx="0.9" ry="0.8" transform="rotate(18 551.6 371.3)"/><ellipse cx="542.4" cy="350.4" rx="1.7" ry="0.6" transform="rotate(37 542.4 350.4)"/><ellipse cx="428.2" cy="374.7" rx="1.8" ry="0.5" transform="rotate(40 428.2 374.7)"/><ellipse cx="525.6" cy="337.9" rx="1.4" ry="0.6" transform="rotate(33 525.6 337.9)"/><ellipse cx="540.9" cy="366.1" rx="1.1" ry="0.7" transform="rotate(-11 540.9 366.1)"/><ellipse cx="479.9" cy="352.2" rx="1.2" ry="0.5" transform="rotate(39 479.9 352.2)"/><ellipse cx="523.6" cy="369.5" rx="1.7" ry="0.6" transform="rotate(-7 523.6 369.5)"/><ellipse cx="543.1" cy="336.7" rx="0.9" ry="0.6" transform="rotate(35 543.1 336.7)"/><ellipse cx="546.6" cy="347.1" rx="0.9" ry="0.6" transform="rotate(-10 546.6 347.1)"/><ellipse cx="600.0" cy="351.5" rx="1.4" ry="0.8" transform="rotate(-19 600.0 351.5)"/><ellipse cx="597.5" cy="376.2" rx="1.4" ry="0.7" transform="rotate(-27 597.5 376.2)"/><ellipse cx="591.9" cy="334.0" rx="1.5" ry="0.7" transform="rotate(33 591.9 334.0)"/><ellipse cx="538.8" cy="359.0" rx="0.8" ry="0.5" transform="rotate(28 538.8 359.0)"/><ellipse cx="623.5" cy="360.4" rx="1.5" ry="0.7" transform="rotate(27 623.5 360.4)"/><ellipse cx="473.6" cy="362.5" rx="0.7" ry="0.7" transform="rotate(-10 473.6 362.5)"/><ellipse cx="554.7" cy="360.3" rx="1.4" ry="0.7" transform="rotate(-1 554.7 360.3)"/><ellipse cx="426.4" cy="354.2" rx="0.7" ry="0.7" transform="rotate(-18 426.4 354.2)"/><ellipse cx="630.3" cy="325.9" rx="1.6" ry="0.8" transform="rotate(24 630.3 325.9)"/><ellipse cx="616.1" cy="330.7" rx="0.8" ry="0.6" transform="rotate(-25 616.1 330.7)"/><ellipse cx="535.6" cy="368.2" rx="1.0" ry="0.7" transform="rotate(-10 535.6 368.2)"/><ellipse cx="510.3" cy="354.9" rx="1.8" ry="0.6" transform="rotate(15 510.3 354.9)"/><ellipse cx="603.1" cy="359.6" rx="1.6" ry="0.8" transform="rotate(-33 603.1 359.6)"/><ellipse cx="504.6" cy="354.3" rx="0.8" ry="0.5" transform="rotate(-26 504.6 354.3)"/><ellipse cx="530.0" cy="348.0" rx="1.6" ry="0.7" transform="rotate(29 530.0 348.0)"/><ellipse cx="445.0" cy="353.0" rx="0.7" ry="0.6" transform="rotate(29 445.0 353.0)"/><ellipse cx="611.4" cy="350.2" rx="0.8" ry="0.5" transform="rotate(34 611.4 350.2)"/><ellipse cx="613.9" cy="354.9" rx="0.7" ry="0.9" transform="rotate(-15 613.9 354.9)"/><ellipse cx="626.9" cy="356.1" rx="1.5" ry="0.8" transform="rotate(-8 626.9 356.1)"/><ellipse cx="441.2" cy="333.6" rx="1.0" ry="0.8" transform="rotate(-9 441.2 333.6)"/><ellipse cx="613.3" cy="342.6" rx="1.5" ry="0.6" transform="rotate(39 613.3 342.6)"/><ellipse cx="577.1" cy="351.5" rx="1.8" ry="0.5" transform="rotate(-5 577.1 351.5)"/><ellipse cx="601.1" cy="343.1" rx="1.5" ry="0.9" transform="rotate(-8 601.1 343.1)"/><ellipse cx="587.4" cy="326.6" rx="1.0" ry="0.9" transform="rotate(-1 587.4 326.6)"/><ellipse cx="499.7" cy="374.9" rx="1.2" ry="0.8" transform="rotate(13 499.7 374.9)"/><ellipse cx="443.0" cy="357.8" rx="1.6" ry="0.8" transform="rotate(-33 443.0 357.8)"/><ellipse cx="457.4" cy="362.7" rx="1.4" ry="0.8" transform="rotate(-15 457.4 362.7)"/><ellipse cx="447.4" cy="325.3" rx="1.0" ry="0.6" transform="rotate(-18 447.4 325.3)"/><ellipse cx="452.8" cy="334.9" rx="1.2" ry="0.7" transform="rotate(-7 452.8 334.9)"/><ellipse cx="430.5" cy="343.8" rx="0.8" ry="0.7" transform="rotate(-14 430.5 343.8)"/><ellipse cx="505.9" cy="340.5" rx="1.1" ry="0.5" transform="rotate(32 505.9 340.5)"/><ellipse cx="615.1" cy="376.8" rx="1.3" ry="0.6" transform="rotate(-10 615.1 376.8)"/><ellipse cx="454.2" cy="341.0" rx="1.2" ry="0.5" transform="rotate(-5 454.2 341.0)"/><ellipse cx="513.4" cy="350.7" rx="0.8" ry="0.6" transform="rotate(-20 513.4 350.7)"/><ellipse cx="556.3" cy="356.5" rx="0.9" ry="0.5" transform="rotate(-16 556.3 356.5)"/><ellipse cx="624.3" cy="342.6" rx="1.4" ry="0.8" transform="rotate(-14 624.3 342.6)"/><ellipse cx="495.3" cy="368.2" rx="1.6" ry="0.9" transform="rotate(-29 495.3 368.2)"/><ellipse cx="492.3" cy="375.2" rx="0.9" ry="0.6" transform="rotate(37 492.3 375.2)"/><ellipse cx="628.4" cy="340.4" rx="1.5" ry="0.7" transform="rotate(6 628.4 340.4)"/><ellipse cx="475.9" cy="344.9" rx="1.6" ry="0.7" transform="rotate(-31 475.9 344.9)"/><ellipse cx="543.4" cy="356.4" rx="1.3" ry="0.8" transform="rotate(4 543.4 356.4)"/><ellipse cx="625.1" cy="349.5" rx="1.5" ry="0.7" transform="rotate(-17 625.1 349.5)"/><ellipse cx="570.5" cy="368.4" rx="1.6" ry="0.7" transform="rotate(-0 570.5 368.4)"/><ellipse cx="558.0" cy="337.8" rx="1.4" ry="0.8" transform="rotate(23 558.0 337.8)"/><ellipse cx="440.5" cy="377.5" rx="1.2" ry="0.7" transform="rotate(1 440.5 377.5)"/><ellipse cx="618.3" cy="361.7" rx="1.3" ry="0.8" transform="rotate(-11 618.3 361.7)"/><ellipse cx="613.1" cy="353.5" rx="1.4" ry="0.5" transform="rotate(22 613.1 353.5)"/><ellipse cx="563.1" cy="343.8" rx="1.4" ry="0.5" transform="rotate(39 563.1 343.8)"/><ellipse cx="567.3" cy="346.2" rx="1.5" ry="0.9" transform="rotate(-6 567.3 346.2)"/><ellipse cx="427.2" cy="338.7" rx="1.3" ry="0.7" transform="rotate(6 427.2 338.7)"/><ellipse cx="545.8" cy="348.6" rx="1.1" ry="0.8" transform="rotate(7 545.8 348.6)"/><ellipse cx="530.1" cy="343.3" rx="0.7" ry="0.5" transform="rotate(-7 530.1 343.3)"/><ellipse cx="627.0" cy="331.2" rx="1.7" ry="0.6" transform="rotate(-15 627.0 331.2)"/><ellipse cx="520.6" cy="336.0" rx="1.2" ry="0.7" transform="rotate(-5 520.6 336.0)"/><ellipse cx="571.3" cy="341.9" rx="1.0" ry="0.8" transform="rotate(-31 571.3 341.9)"/><ellipse cx="603.3" cy="359.3" rx="1.4" ry="0.6" transform="rotate(39 603.3 359.3)"/><ellipse cx="476.2" cy="334.2" rx="0.9" ry="0.7" transform="rotate(37 476.2 334.2)"/><ellipse cx="473.7" cy="346.5" rx="0.9" ry="0.8" transform="rotate(-5 473.7 346.5)"/><ellipse cx="431.1" cy="357.5" rx="0.9" ry="0.7" transform="rotate(-9 431.1 357.5)"/><ellipse cx="573.0" cy="335.9" rx="1.5" ry="0.8" transform="rotate(-35 573.0 335.9)"/><ellipse cx="446.4" cy="371.2" rx="0.9" ry="0.6" transform="rotate(-3 446.4 371.2)"/><ellipse cx="480.1" cy="370.7" rx="1.3" ry="0.8" transform="rotate(8 480.1 370.7)"/><ellipse cx="553.4" cy="356.1" rx="1.1" ry="0.8" transform="rotate(9 553.4 356.1)"/><ellipse cx="595.9" cy="362.4" rx="1.0" ry="0.7" transform="rotate(-33 595.9 362.4)"/><ellipse cx="453.1" cy="331.2" rx="1.0" ry="0.6" transform="rotate(15 453.1 331.2)"/><ellipse cx="532.3" cy="347.2" rx="0.9" ry="0.7" transform="rotate(-25 532.3 347.2)"/><ellipse cx="558.5" cy="361.8" rx="1.4" ry="0.9" transform="rotate(4 558.5 361.8)"/><ellipse cx="527.8" cy="332.4" rx="1.0" ry="0.7" transform="rotate(-36 527.8 332.4)"/><ellipse cx="500.4" cy="325.5" rx="0.9" ry="0.8" transform="rotate(37 500.4 325.5)"/><ellipse cx="531.1" cy="351.2" rx="1.5" ry="0.7" transform="rotate(27 531.1 351.2)"/><ellipse cx="527.6" cy="329.4" rx="0.7" ry="0.8" transform="rotate(-17 527.6 329.4)"/><ellipse cx="482.7" cy="353.5" rx="0.9" ry="0.7" transform="rotate(19 482.7 353.5)"/><ellipse cx="585.8" cy="354.1" rx="0.8" ry="0.5" transform="rotate(22 585.8 354.1)"/><ellipse cx="597.9" cy="344.4" rx="1.6" ry="0.5" transform="rotate(18 597.9 344.4)"/><ellipse cx="539.7" cy="377.5" rx="0.8" ry="0.8" transform="rotate(20 539.7 377.5)"/><ellipse cx="487.5" cy="378.0" rx="1.2" ry="0.6" transform="rotate(25 487.5 378.0)"/><ellipse cx="517.2" cy="377.7" rx="1.6" ry="0.6" transform="rotate(25 517.2 377.7)"/><ellipse cx="548.5" cy="343.6" rx="1.5" ry="0.8" transform="rotate(-27 548.5 343.6)"/><ellipse cx="454.2" cy="336.0" rx="0.9" ry="0.5" transform="rotate(-12 454.2 336.0)"/><ellipse cx="484.0" cy="353.6" rx="1.1" ry="0.8" transform="rotate(-17 484.0 353.6)"/><ellipse cx="481.1" cy="370.5" rx="1.8" ry="0.8" transform="rotate(-32 481.1 370.5)"/><ellipse cx="627.2" cy="366.6" rx="1.7" ry="0.9" transform="rotate(29 627.2 366.6)"/><ellipse cx="451.6" cy="370.9" rx="1.0" ry="0.8" transform="rotate(26 451.6 370.9)"/><ellipse cx="584.9" cy="360.8" rx="1.2" ry="0.7" transform="rotate(-19 584.9 360.8)"/><ellipse cx="512.0" cy="349.0" rx="1.4" ry="0.9" transform="rotate(-33 512.0 349.0)"/><ellipse cx="533.3" cy="339.7" rx="1.7" ry="0.6" transform="rotate(36 533.3 339.7)"/><ellipse cx="493.7" cy="325.1" rx="1.6" ry="0.8" transform="rotate(18 493.7 325.1)"/><ellipse cx="521.3" cy="360.2" rx="1.1" ry="0.5" transform="rotate(3 521.3 360.2)"/><ellipse cx="470.7" cy="347.8" rx="0.9" ry="0.6" transform="rotate(26 470.7 347.8)"/><ellipse cx="495.9" cy="355.6" rx="1.3" ry="0.7" transform="rotate(-13 495.9 355.6)"/><ellipse cx="568.3" cy="327.6" rx="0.8" ry="0.8" transform="rotate(-3 568.3 327.6)"/><ellipse cx="451.1" cy="370.5" rx="1.2" ry="0.5" transform="rotate(37 451.1 370.5)"/><ellipse cx="467.5" cy="361.5" rx="0.8" ry="0.8" transform="rotate(-27 467.5 361.5)"/><ellipse cx="620.9" cy="339.5" rx="1.4" ry="0.6" transform="rotate(-10 620.9 339.5)"/><ellipse cx="614.8" cy="333.8" rx="1.1" ry="0.6" transform="rotate(16 614.8 333.8)"/><ellipse cx="474.2" cy="359.7" rx="1.5" ry="0.5" transform="rotate(-2 474.2 359.7)"/><ellipse cx="452.9" cy="337.0" rx="1.4" ry="0.5" transform="rotate(16 452.9 337.0)"/><ellipse cx="596.6" cy="377.4" rx="1.2" ry="0.6" transform="rotate(-34 596.6 377.4)"/><ellipse cx="505.4" cy="363.7" rx="0.8" ry="0.6" transform="rotate(30 505.4 363.7)"/><ellipse cx="453.8" cy="366.0" rx="1.5" ry="0.6" transform="rotate(39 453.8 366.0)"/><ellipse cx="455.0" cy="353.1" rx="0.7" ry="0.8" transform="rotate(-5 455.0 353.1)"/><ellipse cx="576.7" cy="358.3" rx="0.9" ry="0.7" transform="rotate(15 576.7 358.3)"/><ellipse cx="605.6" cy="329.6" rx="0.8" ry="0.8" transform="rotate(7 605.6 329.6)"/><ellipse cx="505.6" cy="376.1" rx="1.0" ry="0.6" transform="rotate(-18 505.6 376.1)"/><ellipse cx="442.7" cy="354.3" rx="1.4" ry="0.7" transform="rotate(22 442.7 354.3)"/><ellipse cx="570.0" cy="369.9" rx="1.4" ry="0.6" transform="rotate(1 570.0 369.9)"/><ellipse cx="532.0" cy="364.6" rx="1.0" ry="0.5" transform="rotate(32 532.0 364.6)"/><ellipse cx="625.5" cy="351.2" rx="0.8" ry="0.7" transform="rotate(8 625.5 351.2)"/><ellipse cx="535.9" cy="376.8" rx="1.8" ry="0.9" transform="rotate(-29 535.9 376.8)"/><ellipse cx="605.8" cy="355.1" rx="1.1" ry="0.8" transform="rotate(21 605.8 355.1)"/><ellipse cx="625.4" cy="365.8" rx="0.7" ry="0.5" transform="rotate(-19 625.4 365.8)"/><ellipse cx="433.4" cy="328.2" rx="1.6" ry="0.7" transform="rotate(10 433.4 328.2)"/><ellipse cx="530.2" cy="347.0" rx="1.5" ry="0.5" transform="rotate(3 530.2 347.0)"/><ellipse cx="554.4" cy="339.7" rx="1.0" ry="0.7" transform="rotate(-24 554.4 339.7)"/><ellipse cx="594.7" cy="353.4" rx="1.1" ry="0.8" transform="rotate(27 594.7 353.4)"/><ellipse cx="568.0" cy="328.5" rx="1.5" ry="0.8" transform="rotate(28 568.0 328.5)"/><ellipse cx="437.2" cy="329.6" rx="1.2" ry="0.7" transform="rotate(9 437.2 329.6)"/><ellipse cx="490.0" cy="364.3" rx="1.5" ry="0.5" transform="rotate(17 490.0 364.3)"/><ellipse cx="572.3" cy="333.7" rx="1.7" ry="0.7" transform="rotate(23 572.3 333.7)"/><ellipse cx="576.4" cy="333.8" rx="0.8" ry="0.8" transform="rotate(-18 576.4 333.8)"/><ellipse cx="611.1" cy="365.9" rx="0.7" ry="0.8" transform="rotate(-18 611.1 365.9)"/><ellipse cx="438.4" cy="362.8" rx="1.3" ry="0.5" transform="rotate(-4 438.4 362.8)"/><ellipse cx="500.6" cy="351.5" rx="1.3" ry="0.6" transform="rotate(-20 500.6 351.5)"/><ellipse cx="446.6" cy="355.4" rx="1.5" ry="0.6" transform="rotate(1 446.6 355.4)"/><ellipse cx="434.2" cy="370.7" rx="1.0" ry="0.7" transform="rotate(-9 434.2 370.7)"/><ellipse cx="456.5" cy="374.4" rx="1.6" ry="0.7" transform="rotate(33 456.5 374.4)"/><ellipse cx="580.5" cy="347.2" rx="1.1" ry="0.7" transform="rotate(18 580.5 347.2)"/><ellipse cx="482.0" cy="329.1" rx="1.1" ry="0.7" transform="rotate(32 482.0 329.1)"/><ellipse cx="462.7" cy="367.6" rx="1.8" ry="0.9" transform="rotate(-34 462.7 367.6)"/><ellipse cx="522.7" cy="340.0" rx="1.6" ry="0.6" transform="rotate(4 522.7 340.0)"/><ellipse cx="426.7" cy="335.6" rx="1.3" ry="0.6" transform="rotate(10 426.7 335.6)"/><ellipse cx="522.4" cy="356.4" rx="1.2" ry="0.8" transform="rotate(-24 522.4 356.4)"/><ellipse cx="614.1" cy="365.3" rx="1.0" ry="0.5" transform="rotate(-7 614.1 365.3)"/><ellipse cx="473.9" cy="343.4" rx="1.6" ry="0.9" transform="rotate(36 473.9 343.4)"/><ellipse cx="425.3" cy="359.8" rx="1.6" ry="0.8" transform="rotate(-32 425.3 359.8)"/><ellipse cx="536.3" cy="337.6" rx="1.2" ry="0.5" transform="rotate(40 536.3 337.6)"/><ellipse cx="574.4" cy="329.9" rx="1.7" ry="0.9" transform="rotate(2 574.4 329.9)"/><ellipse cx="572.2" cy="344.7" rx="1.8" ry="0.5" transform="rotate(-32 572.2 344.7)"/><ellipse cx="453.0" cy="368.5" rx="0.8" ry="0.7" transform="rotate(-5 453.0 368.5)"/><ellipse cx="627.5" cy="337.5" rx="1.0" ry="0.6" transform="rotate(24 627.5 337.5)"/><ellipse cx="572.2" cy="364.0" rx="1.0" ry="0.6" transform="rotate(-34 572.2 364.0)"/><ellipse cx="467.6" cy="366.3" rx="1.3" ry="0.6" transform="rotate(-27 467.6 366.3)"/><ellipse cx="522.9" cy="346.5" rx="1.3" ry="0.9" transform="rotate(-23 522.9 346.5)"/><ellipse cx="489.7" cy="339.0" rx="0.8" ry="0.6" transform="rotate(15 489.7 339.0)"/><ellipse cx="598.5" cy="361.9" rx="0.7" ry="0.8" transform="rotate(-14 598.5 361.9)"/><ellipse cx="444.2" cy="338.2" rx="1.1" ry="0.7" transform="rotate(14 444.2 338.2)"/><ellipse cx="479.6" cy="377.5" rx="0.7" ry="0.7" transform="rotate(-4 479.6 377.5)"/><ellipse cx="582.1" cy="338.2" rx="1.2" ry="0.8" transform="rotate(-29 582.1 338.2)"/><ellipse cx="427.5" cy="369.0" rx="1.8" ry="0.6" transform="rotate(26 427.5 369.0)"/><ellipse cx="503.2" cy="358.4" rx="1.4" ry="0.7" transform="rotate(-19 503.2 358.4)"/><ellipse cx="595.7" cy="326.2" rx="0.8" ry="0.9" transform="rotate(-5 595.7 326.2)"/><ellipse cx="452.0" cy="373.0" rx="1.6" ry="0.6" transform="rotate(-37 452.0 373.0)"/><ellipse cx="521.8" cy="333.9" rx="1.3" ry="0.8" transform="rotate(-8 521.8 333.9)"/><ellipse cx="431.2" cy="361.2" rx="0.9" ry="0.6" transform="rotate(-25 431.2 361.2)"/><ellipse cx="483.8" cy="371.8" rx="0.7" ry="0.7" transform="rotate(-20 483.8 371.8)"/><ellipse cx="487.0" cy="346.8" rx="1.3" ry="0.5" transform="rotate(-18 487.0 346.8)"/><ellipse cx="453.8" cy="335.6" rx="1.7" ry="0.7" transform="rotate(10 453.8 335.6)"/><ellipse cx="593.5" cy="367.1" rx="1.8" ry="0.8" transform="rotate(-11 593.5 367.1)"/><ellipse cx="539.3" cy="350.7" rx="1.7" ry="0.7" transform="rotate(-9 539.3 350.7)"/><ellipse cx="462.8" cy="341.9" rx="0.9" ry="0.9" transform="rotate(22 462.8 341.9)"/><ellipse cx="437.3" cy="377.6" rx="1.3" ry="0.8" transform="rotate(40 437.3 377.6)"/><ellipse cx="629.5" cy="330.3" rx="1.4" ry="0.6" transform="rotate(25 629.5 330.3)"/><ellipse cx="617.6" cy="328.0" rx="1.8" ry="0.6" transform="rotate(28 617.6 328.0)"/><ellipse cx="592.5" cy="343.8" rx="1.6" ry="0.8" transform="rotate(-26 592.5 343.8)"/><ellipse cx="549.4" cy="367.7" rx="1.5" ry="0.9" transform="rotate(-38 549.4 367.7)"/><ellipse cx="572.1" cy="375.2" rx="1.3" ry="0.7" transform="rotate(-25 572.1 375.2)"/><ellipse cx="632.5" cy="371.7" rx="1.2" ry="0.6" transform="rotate(-1 632.5 371.7)"/><ellipse cx="444.0" cy="337.3" rx="0.9" ry="0.7" transform="rotate(-40 444.0 337.3)"/><ellipse cx="617.8" cy="335.7" rx="0.8" ry="0.8" transform="rotate(34 617.8 335.7)"/><ellipse cx="602.3" cy="342.2" rx="0.7" ry="0.7" transform="rotate(33 602.3 342.2)"/><ellipse cx="587.6" cy="369.9" rx="1.6" ry="0.9" transform="rotate(-10 587.6 369.9)"/><ellipse cx="622.8" cy="346.0" rx="0.8" ry="0.6" transform="rotate(-29 622.8 346.0)"/><ellipse cx="458.1" cy="375.3" rx="1.6" ry="0.9" transform="rotate(12 458.1 375.3)"/><ellipse cx="461.6" cy="376.3" rx="1.5" ry="0.9" transform="rotate(23 461.6 376.3)"/><ellipse cx="471.9" cy="356.2" rx="0.9" ry="0.6" transform="rotate(15 471.9 356.2)"/><ellipse cx="451.7" cy="363.6" rx="1.7" ry="0.9" transform="rotate(-9 451.7 363.6)"/><ellipse cx="633.8" cy="376.2" rx="0.7" ry="0.7" transform="rotate(34 633.8 376.2)"/><ellipse cx="628.2" cy="336.7" rx="1.3" ry="0.9" transform="rotate(-29 628.2 336.7)"/><ellipse cx="581.5" cy="337.6" rx="1.8" ry="0.6" transform="rotate(31 581.5 337.6)"/><ellipse cx="443.6" cy="362.6" rx="1.4" ry="0.9" transform="rotate(-4 443.6 362.6)"/><ellipse cx="480.7" cy="338.2" rx="0.8" ry="0.6" transform="rotate(-31 480.7 338.2)"/><ellipse cx="425.3" cy="345.5" rx="1.5" ry="0.9" transform="rotate(31 425.3 345.5)"/><ellipse cx="528.5" cy="345.1" rx="1.3" ry="0.5" transform="rotate(-2 528.5 345.1)"/><ellipse cx="606.5" cy="359.5" rx="1.5" ry="0.6" transform="rotate(-34 606.5 359.5)"/><ellipse cx="602.6" cy="340.6" rx="1.1" ry="0.9" transform="rotate(-34 602.6 340.6)"/><ellipse cx="460.7" cy="344.9" rx="1.5" ry="0.7" transform="rotate(32 460.7 344.9)"/><ellipse cx="444.6" cy="356.5" rx="1.4" ry="0.7" transform="rotate(-38 444.6 356.5)"/><ellipse cx="622.9" cy="333.7" rx="1.7" ry="0.6" transform="rotate(-32 622.9 333.7)"/><ellipse cx="468.2" cy="335.1" rx="1.5" ry="0.8" transform="rotate(18 468.2 335.1)"/><ellipse cx="480.7" cy="339.9" rx="1.0" ry="0.5" transform="rotate(6 480.7 339.9)"/><ellipse cx="601.4" cy="333.1" rx="1.1" ry="0.7" transform="rotate(-16 601.4 333.1)"/><ellipse cx="564.0" cy="356.8" rx="0.9" ry="0.5" transform="rotate(-26 564.0 356.8)"/><ellipse cx="486.3" cy="329.3" rx="1.6" ry="0.6" transform="rotate(-8 486.3 329.3)"/><ellipse cx="527.7" cy="360.0" rx="0.8" ry="0.7" transform="rotate(-25 527.7 360.0)"/><ellipse cx="611.0" cy="344.6" rx="1.2" ry="0.6" transform="rotate(-3 611.0 344.6)"/><ellipse cx="472.5" cy="339.2" rx="0.8" ry="0.8" transform="rotate(13 472.5 339.2)"/><ellipse cx="443.0" cy="343.2" rx="1.3" ry="0.9" transform="rotate(7 443.0 343.2)"/><ellipse cx="541.3" cy="369.6" rx="1.6" ry="0.7" transform="rotate(3 541.3 369.6)"/><ellipse cx="607.0" cy="350.2" rx="1.7" ry="0.7" transform="rotate(-34 607.0 350.2)"/><ellipse cx="614.6" cy="362.9" rx="1.3" ry="0.9" transform="rotate(24 614.6 362.9)"/><ellipse cx="567.3" cy="357.9" rx="0.8" ry="0.8" transform="rotate(-26 567.3 357.9)"/><ellipse cx="631.7" cy="376.5" rx="1.6" ry="0.6" transform="rotate(-6 631.7 376.5)"/><ellipse cx="632.5" cy="348.1" rx="1.8" ry="0.8" transform="rotate(27 632.5 348.1)"/><ellipse cx="479.2" cy="373.3" rx="1.7" ry="0.5" transform="rotate(-9 479.2 373.3)"/><ellipse cx="508.4" cy="342.3" rx="1.0" ry="0.7" transform="rotate(30 508.4 342.3)"/><ellipse cx="590.2" cy="358.0" rx="1.3" ry="0.7" transform="rotate(-7 590.2 358.0)"/><ellipse cx="456.1" cy="356.2" rx="1.5" ry="0.9" transform="rotate(34 456.1 356.2)"/><ellipse cx="543.2" cy="330.4" rx="1.0" ry="0.7" transform="rotate(-12 543.2 330.4)"/><ellipse cx="511.3" cy="345.3" rx="1.2" ry="0.7" transform="rotate(-37 511.3 345.3)"/><ellipse cx="482.8" cy="332.6" rx="1.4" ry="0.8" transform="rotate(-37 482.8 332.6)"/><ellipse cx="611.8" cy="342.6" rx="1.0" ry="0.8" transform="rotate(34 611.8 342.6)"/><ellipse cx="613.4" cy="326.1" rx="1.6" ry="0.6" transform="rotate(-18 613.4 326.1)"/><ellipse cx="528.2" cy="361.9" rx="0.8" ry="0.8" transform="rotate(-29 528.2 361.9)"/><ellipse cx="629.6" cy="348.5" rx="1.6" ry="0.6" transform="rotate(-7 629.6 348.5)"/><ellipse cx="560.6" cy="335.0" rx="0.9" ry="0.8" transform="rotate(19 560.6 335.0)"/><ellipse cx="584.5" cy="371.0" rx="1.6" ry="0.7" transform="rotate(-27 584.5 371.0)"/><ellipse cx="490.3" cy="351.9" rx="0.8" ry="0.8" transform="rotate(30 490.3 351.9)"/><ellipse cx="431.1" cy="335.2" rx="1.6" ry="0.8" transform="rotate(-20 431.1 335.2)"/><ellipse cx="520.9" cy="373.7" rx="1.5" ry="0.6" transform="rotate(26 520.9 373.7)"/><ellipse cx="531.1" cy="358.7" rx="0.8" ry="0.5" transform="rotate(-10 531.1 358.7)"/><ellipse cx="549.7" cy="334.4" rx="1.7" ry="0.7" transform="rotate(-12 549.7 334.4)"/><ellipse cx="459.3" cy="372.4" rx="1.5" ry="0.8" transform="rotate(-17 459.3 372.4)"/><ellipse cx="506.2" cy="333.6" rx="1.3" ry="0.9" transform="rotate(29 506.2 333.6)"/><ellipse cx="560.9" cy="360.9" rx="1.0" ry="0.7" transform="rotate(-38 560.9 360.9)"/><ellipse cx="588.9" cy="365.7" rx="0.7" ry="0.9" transform="rotate(12 588.9 365.7)"/><ellipse cx="551.2" cy="325.4" rx="1.0" ry="0.8" transform="rotate(-16 551.2 325.4)"/><ellipse cx="628.1" cy="359.1" rx="1.2" ry="0.7" transform="rotate(-12 628.1 359.1)"/><ellipse cx="477.9" cy="349.7" rx="1.4" ry="0.8" transform="rotate(-8 477.9 349.7)"/><ellipse cx="446.5" cy="352.1" rx="1.4" ry="0.8" transform="rotate(-10 446.5 352.1)"/><ellipse cx="560.9" cy="357.3" rx="1.0" ry="0.5" transform="rotate(-35 560.9 357.3)"/><ellipse cx="632.6" cy="359.0" rx="1.6" ry="0.6" transform="rotate(17 632.6 359.0)"/><ellipse cx="612.4" cy="340.8" rx="0.9" ry="0.8" transform="rotate(32 612.4 340.8)"/><ellipse cx="594.1" cy="367.5" rx="1.4" ry="0.8" transform="rotate(14 594.1 367.5)"/><ellipse cx="576.5" cy="359.7" rx="1.8" ry="0.6" transform="rotate(-7 576.5 359.7)"/><ellipse cx="506.5" cy="326.9" rx="1.5" ry="0.7" transform="rotate(-25 506.5 326.9)"/><ellipse cx="577.6" cy="336.8" rx="1.3" ry="0.8" transform="rotate(33 577.6 336.8)"/><ellipse cx="566.1" cy="351.9" rx="1.6" ry="0.8" transform="rotate(30 566.1 351.9)"/><ellipse cx="463.0" cy="330.2" rx="0.8" ry="0.6" transform="rotate(25 463.0 330.2)"/><ellipse cx="585.2" cy="334.7" rx="1.4" ry="0.6" transform="rotate(-33 585.2 334.7)"/><ellipse cx="499.6" cy="364.4" rx="1.0" ry="0.8" transform="rotate(-13 499.6 364.4)"/><ellipse cx="479.7" cy="340.6" rx="1.6" ry="0.7" transform="rotate(29 479.7 340.6)"/><ellipse cx="547.6" cy="375.0" rx="0.8" ry="0.9" transform="rotate(0 547.6 375.0)"/><ellipse cx="607.2" cy="345.2" rx="1.0" ry="0.5" transform="rotate(28 607.2 345.2)"/><ellipse cx="453.8" cy="335.6" rx="1.2" ry="0.7" transform="rotate(33 453.8 335.6)"/><ellipse cx="521.1" cy="341.8" rx="1.5" ry="0.8" transform="rotate(-1 521.1 341.8)"/><ellipse cx="557.5" cy="334.4" rx="1.4" ry="0.5" transform="rotate(-18 557.5 334.4)"/><ellipse cx="584.9" cy="333.9" rx="1.5" ry="0.7" transform="rotate(21 584.9 333.9)"/><ellipse cx="443.5" cy="357.6" rx="1.4" ry="0.7" transform="rotate(37 443.5 357.6)"/><ellipse cx="505.5" cy="327.0" rx="0.9" ry="0.6" transform="rotate(-39 505.5 327.0)"/><ellipse cx="492.7" cy="369.2" rx="0.9" ry="0.8" transform="rotate(10 492.7 369.2)"/><ellipse cx="477.3" cy="361.8" rx="1.1" ry="0.6" transform="rotate(-9 477.3 361.8)"/><ellipse cx="548.6" cy="333.9" rx="1.6" ry="0.6" transform="rotate(-17 548.6 333.9)"/><ellipse cx="577.8" cy="356.6" rx="1.1" ry="0.9" transform="rotate(40 577.8 356.6)"/><ellipse cx="497.0" cy="372.8" rx="1.1" ry="0.6" transform="rotate(36 497.0 372.8)"/><ellipse cx="617.8" cy="346.4" rx="1.0" ry="0.8" transform="rotate(-30 617.8 346.4)"/><ellipse cx="579.2" cy="356.3" rx="0.9" ry="0.6" transform="rotate(12 579.2 356.3)"/><ellipse cx="432.8" cy="371.5" rx="1.0" ry="0.7" transform="rotate(-36 432.8 371.5)"/><ellipse cx="633.9" cy="360.1" rx="1.4" ry="0.5" transform="rotate(15 633.9 360.1)"/><ellipse cx="512.5" cy="345.2" rx="1.3" ry="0.7" transform="rotate(-28 512.5 345.2)"/><ellipse cx="571.0" cy="358.4" rx="1.0" ry="0.8" transform="rotate(13 571.0 358.4)"/><ellipse cx="481.7" cy="357.1" rx="0.9" ry="0.8" transform="rotate(-32 481.7 357.1)"/><ellipse cx="575.9" cy="331.2" rx="0.8" ry="0.5" transform="rotate(-24 575.9 331.2)"/><ellipse cx="466.9" cy="338.9" rx="1.3" ry="0.6" transform="rotate(16 466.9 338.9)"/><ellipse cx="487.0" cy="327.1" rx="1.2" ry="0.6" transform="rotate(35 487.0 327.1)"/><ellipse cx="494.4" cy="325.1" rx="1.4" ry="0.9" transform="rotate(27 494.4 325.1)"/><ellipse cx="565.5" cy="332.9" rx="0.8" ry="0.7" transform="rotate(18 565.5 332.9)"/><ellipse cx="446.3" cy="338.6" rx="1.0" ry="0.9" transform="rotate(-16 446.3 338.6)"/><ellipse cx="522.5" cy="330.3" rx="0.9" ry="0.5" transform="rotate(-17 522.5 330.3)"/><ellipse cx="593.3" cy="341.6" rx="1.5" ry="0.5" transform="rotate(21 593.3 341.6)"/><ellipse cx="434.6" cy="370.2" rx="1.4" ry="0.6" transform="rotate(-11 434.6 370.2)"/><ellipse cx="516.9" cy="358.0" rx="1.7" ry="0.5" transform="rotate(25 516.9 358.0)"/><ellipse cx="463.4" cy="346.2" rx="1.8" ry="0.6" transform="rotate(-9 463.4 346.2)"/><ellipse cx="603.6" cy="367.4" rx="1.4" ry="0.8" transform="rotate(-31 603.6 367.4)"/><ellipse cx="571.2" cy="328.1" rx="1.7" ry="0.6" transform="rotate(-7 571.2 328.1)"/><ellipse cx="549.1" cy="367.5" rx="1.4" ry="0.6" transform="rotate(-10 549.1 367.5)"/><ellipse cx="500.3" cy="326.5" rx="1.5" ry="0.8" transform="rotate(38 500.3 326.5)"/><ellipse cx="452.4" cy="373.8" rx="0.8" ry="0.7" transform="rotate(-36 452.4 373.8)"/><ellipse cx="479.9" cy="341.7" rx="1.5" ry="0.8" transform="rotate(21 479.9 341.7)"/><ellipse cx="546.1" cy="354.9" rx="1.8" ry="0.8" transform="rotate(-13 546.1 354.9)"/><ellipse cx="534.9" cy="362.1" rx="0.8" ry="0.8" transform="rotate(-20 534.9 362.1)"/><ellipse cx="497.6" cy="360.8" rx="1.1" ry="0.8" transform="rotate(5 497.6 360.8)"/><ellipse cx="632.4" cy="327.9" rx="1.4" ry="0.6" transform="rotate(28 632.4 327.9)"/><ellipse cx="603.9" cy="371.1" rx="0.8" ry="0.7" transform="rotate(-21 603.9 371.1)"/><ellipse cx="628.7" cy="327.7" rx="0.9" ry="0.8" transform="rotate(-8 628.7 327.7)"/><ellipse cx="474.3" cy="349.3" rx="1.6" ry="0.7" transform="rotate(29 474.3 349.3)"/><ellipse cx="518.9" cy="331.3" rx="1.2" ry="0.8" transform="rotate(-32 518.9 331.3)"/><ellipse cx="511.6" cy="354.5" rx="0.7" ry="0.5" transform="rotate(8 511.6 354.5)"/><ellipse cx="555.0" cy="341.1" rx="1.3" ry="0.6" transform="rotate(14 555.0 341.1)"/><ellipse cx="624.6" cy="344.3" rx="0.8" ry="0.6" transform="rotate(-4 624.6 344.3)"/><ellipse cx="542.6" cy="357.8" rx="1.2" ry="0.8" transform="rotate(17 542.6 357.8)"/><ellipse cx="448.9" cy="365.2" rx="0.9" ry="0.6" transform="rotate(26 448.9 365.2)"/><ellipse cx="627.5" cy="340.5" rx="1.3" ry="0.8" transform="rotate(-36 627.5 340.5)"/><ellipse cx="459.5" cy="332.4" rx="1.5" ry="0.8" transform="rotate(-31 459.5 332.4)"/><ellipse cx="553.3" cy="334.9" rx="1.7" ry="0.7" transform="rotate(-3 553.3 334.9)"/><ellipse cx="589.1" cy="363.0" rx="0.8" ry="0.7" transform="rotate(34 589.1 363.0)"/><ellipse cx="600.9" cy="356.2" rx="1.5" ry="0.7" transform="rotate(13 600.9 356.2)"/><ellipse cx="625.8" cy="332.1" rx="1.2" ry="0.7" transform="rotate(-36 625.8 332.1)"/><ellipse cx="621.4" cy="369.5" rx="1.2" ry="0.7" transform="rotate(34 621.4 369.5)"/><ellipse cx="462.2" cy="355.7" rx="1.5" ry="0.6" transform="rotate(-9 462.2 355.7)"/><ellipse cx="551.1" cy="371.8" rx="1.3" ry="0.7" transform="rotate(38 551.1 371.8)"/><ellipse cx="617.3" cy="365.4" rx="1.0" ry="0.9" transform="rotate(38 617.3 365.4)"/><ellipse cx="520.1" cy="332.1" rx="1.2" ry="0.8" transform="rotate(20 520.1 332.1)"/><ellipse cx="487.8" cy="362.2" rx="1.6" ry="0.8" transform="rotate(35 487.8 362.2)"/><ellipse cx="557.8" cy="335.6" rx="1.4" ry="0.6" transform="rotate(-12 557.8 335.6)"/><ellipse cx="566.2" cy="377.0" rx="1.4" ry="0.9" transform="rotate(0 566.2 377.0)"/><ellipse cx="570.8" cy="342.1" rx="0.8" ry="0.6" transform="rotate(-2 570.8 342.1)"/><ellipse cx="544.8" cy="360.4" rx="1.2" ry="0.8" transform="rotate(27 544.8 360.4)"/><ellipse cx="485.0" cy="369.9" rx="1.6" ry="0.7" transform="rotate(-38 485.0 369.9)"/><ellipse cx="455.5" cy="360.5" rx="0.9" ry="0.8" transform="rotate(-27 455.5 360.5)"/><ellipse cx="485.2" cy="338.3" rx="1.6" ry="0.8" transform="rotate(-16 485.2 338.3)"/><ellipse cx="583.3" cy="326.7" rx="1.6" ry="0.5" transform="rotate(29 583.3 326.7)"/><ellipse cx="580.3" cy="370.8" rx="1.5" ry="0.7" transform="rotate(-21 580.3 370.8)"/><ellipse cx="589.7" cy="367.3" rx="1.0" ry="0.8" transform="rotate(34 589.7 367.3)"/><ellipse cx="506.4" cy="375.7" rx="1.8" ry="0.6" transform="rotate(4 506.4 375.7)"/><ellipse cx="427.7" cy="338.3" rx="1.4" ry="0.8" transform="rotate(30 427.7 338.3)"/><ellipse cx="599.3" cy="373.3" rx="1.5" ry="0.8" transform="rotate(20 599.3 373.3)"/><ellipse cx="539.8" cy="357.0" rx="1.6" ry="0.9" transform="rotate(-16 539.8 357.0)"/><ellipse cx="462.3" cy="361.2" rx="0.9" ry="0.6" transform="rotate(1 462.3 361.2)"/><ellipse cx="504.2" cy="347.7" rx="1.3" ry="0.6" transform="rotate(7 504.2 347.7)"/><ellipse cx="478.6" cy="342.5" rx="1.5" ry="0.6" transform="rotate(-28 478.6 342.5)"/><ellipse cx="492.8" cy="327.7" rx="1.7" ry="0.7" transform="rotate(13 492.8 327.7)"/><ellipse cx="528.0" cy="355.4" rx="1.1" ry="0.8" transform="rotate(-15 528.0 355.4)"/><ellipse cx="471.2" cy="334.7" rx="0.8" ry="0.7" transform="rotate(-7 471.2 334.7)"/><ellipse cx="537.8" cy="329.9" rx="0.9" ry="0.6" transform="rotate(-13 537.8 329.9)"/><ellipse cx="500.8" cy="336.6" rx="1.5" ry="0.7" transform="rotate(40 500.8 336.6)"/><ellipse cx="598.0" cy="377.0" rx="0.7" ry="0.8" transform="rotate(-4 598.0 377.0)"/><ellipse cx="614.9" cy="357.5" rx="1.4" ry="0.9" transform="rotate(15 614.9 357.5)"/><ellipse cx="492.4" cy="373.5" rx="1.7" ry="0.7" transform="rotate(3 492.4 373.5)"/><ellipse cx="484.4" cy="373.3" rx="1.6" ry="0.6" transform="rotate(24 484.4 373.3)"/><ellipse cx="518.6" cy="327.3" rx="1.7" ry="0.6" transform="rotate(1 518.6 327.3)"/><ellipse cx="624.1" cy="333.9" rx="1.8" ry="0.7" transform="rotate(-39 624.1 333.9)"/><ellipse cx="438.7" cy="360.5" rx="1.6" ry="0.8" transform="rotate(-6 438.7 360.5)"/><ellipse cx="446.8" cy="353.5" rx="1.5" ry="0.9" transform="rotate(22 446.8 353.5)"/><ellipse cx="560.8" cy="374.8" rx="1.5" ry="0.6" transform="rotate(-3 560.8 374.8)"/><ellipse cx="494.7" cy="329.6" rx="0.8" ry="0.8" transform="rotate(5 494.7 329.6)"/><ellipse cx="545.7" cy="337.1" rx="1.0" ry="0.7" transform="rotate(10 545.7 337.1)"/><ellipse cx="515.9" cy="325.9" rx="1.4" ry="0.7" transform="rotate(11 515.9 325.9)"/><ellipse cx="554.9" cy="365.1" rx="1.3" ry="0.8" transform="rotate(-34 554.9 365.1)"/><ellipse cx="619.9" cy="330.6" rx="1.6" ry="0.6" transform="rotate(-33 619.9 330.6)"/><ellipse cx="585.7" cy="348.2" rx="1.1" ry="0.8" transform="rotate(-2 585.7 348.2)"/><ellipse cx="537.0" cy="332.2" rx="1.1" ry="0.8" transform="rotate(4 537.0 332.2)"/><ellipse cx="626.6" cy="332.6" rx="1.4" ry="0.9" transform="rotate(24 626.6 332.6)"/><ellipse cx="578.2" cy="344.8" rx="1.7" ry="0.7" transform="rotate(4 578.2 344.8)"/><ellipse cx="450.9" cy="325.3" rx="1.4" ry="0.7" transform="rotate(36 450.9 325.3)"/><ellipse cx="489.0" cy="364.7" rx="1.7" ry="0.6" transform="rotate(-7 489.0 364.7)"/><ellipse cx="560.6" cy="352.2" rx="0.9" ry="0.6" transform="rotate(27 560.6 352.2)"/><ellipse cx="465.8" cy="334.6" rx="1.6" ry="0.8" transform="rotate(28 465.8 334.6)"/><ellipse cx="620.8" cy="377.7" rx="1.2" ry="0.7" transform="rotate(-17 620.8 377.7)"/><ellipse cx="439.1" cy="330.2" rx="1.5" ry="0.7" transform="rotate(-14 439.1 330.2)"/><ellipse cx="451.9" cy="359.7" rx="0.8" ry="0.7" transform="rotate(32 451.9 359.7)"/><ellipse cx="491.7" cy="348.9" rx="1.4" ry="0.6" transform="rotate(7 491.7 348.9)"/><ellipse cx="543.8" cy="344.3" rx="1.0" ry="0.7" transform="rotate(-40 543.8 344.3)"/><ellipse cx="476.7" cy="336.7" rx="1.5" ry="0.7" transform="rotate(27 476.7 336.7)"/><ellipse cx="453.2" cy="363.8" rx="1.7" ry="0.7" transform="rotate(-11 453.2 363.8)"/><ellipse cx="489.1" cy="354.2" rx="0.9" ry="0.7" transform="rotate(27 489.1 354.2)"/><ellipse cx="605.3" cy="332.4" rx="1.3" ry="0.6" transform="rotate(31 605.3 332.4)"/><ellipse cx="441.1" cy="329.0" rx="0.7" ry="0.7" transform="rotate(-38 441.1 329.0)"/><ellipse cx="547.2" cy="346.5" rx="1.3" ry="0.9" transform="rotate(4 547.2 346.5)"/><ellipse cx="539.1" cy="377.9" rx="1.2" ry="0.8" transform="rotate(-11 539.1 377.9)"/><ellipse cx="471.9" cy="365.9" rx="1.5" ry="0.6" transform="rotate(-3 471.9 365.9)"/><ellipse cx="532.2" cy="346.0" rx="1.3" ry="0.8" transform="rotate(28 532.2 346.0)"/><ellipse cx="594.4" cy="357.5" rx="0.9" ry="0.7" transform="rotate(-4 594.4 357.5)"/><ellipse cx="462.6" cy="375.3" rx="1.4" ry="0.9" transform="rotate(19 462.6 375.3)"/><ellipse cx="526.5" cy="344.0" rx="0.9" ry="0.7" transform="rotate(-35 526.5 344.0)"/><ellipse cx="502.6" cy="327.3" rx="0.9" ry="0.9" transform="rotate(-11 502.6 327.3)"/><ellipse cx="523.6" cy="349.1" rx="0.8" ry="0.9" transform="rotate(-14 523.6 349.1)"/><ellipse cx="572.8" cy="352.6" rx="1.6" ry="0.8" transform="rotate(-19 572.8 352.6)"/><ellipse cx="539.3" cy="334.2" rx="1.4" ry="0.6" transform="rotate(12 539.3 334.2)"/><ellipse cx="600.4" cy="352.4" rx="1.1" ry="0.9" transform="rotate(1 600.4 352.4)"/><ellipse cx="499.1" cy="371.0" rx="1.2" ry="0.7" transform="rotate(8 499.1 371.0)"/><ellipse cx="530.4" cy="332.4" rx="0.9" ry="0.5" transform="rotate(11 530.4 332.4)"/><ellipse cx="469.4" cy="334.9" rx="1.1" ry="0.8" transform="rotate(-31 469.4 334.9)"/><ellipse cx="473.4" cy="368.0" rx="1.5" ry="0.7" transform="rotate(-2 473.4 368.0)"/><ellipse cx="469.2" cy="333.5" rx="1.6" ry="0.5" transform="rotate(-37 469.2 333.5)"/><ellipse cx="545.4" cy="333.5" rx="1.4" ry="0.5" transform="rotate(6 545.4 333.5)"/><ellipse cx="436.7" cy="338.7" rx="0.9" ry="0.9" transform="rotate(8 436.7 338.7)"/><ellipse cx="543.4" cy="326.0" rx="1.5" ry="0.8" transform="rotate(-17 543.4 326.0)"/><ellipse cx="443.0" cy="348.8" rx="1.8" ry="0.8" transform="rotate(-26 443.0 348.8)"/><ellipse cx="599.4" cy="356.8" rx="1.6" ry="0.8" transform="rotate(-25 599.4 356.8)"/><ellipse cx="563.5" cy="339.0" rx="1.5" ry="0.6" transform="rotate(-4 563.5 339.0)"/><ellipse cx="549.0" cy="337.2" rx="1.1" ry="0.5" transform="rotate(-24 549.0 337.2)"/><ellipse cx="605.5" cy="351.7" rx="1.2" ry="0.6" transform="rotate(-32 605.5 351.7)"/><ellipse cx="524.9" cy="357.6" rx="0.7" ry="0.8" transform="rotate(0 524.9 357.6)"/><ellipse cx="449.7" cy="350.6" rx="0.8" ry="0.7" transform="rotate(26 449.7 350.6)"/><ellipse cx="613.4" cy="366.1" rx="1.4" ry="0.7" transform="rotate(-10 613.4 366.1)"/><ellipse cx="434.1" cy="353.1" rx="1.0" ry="0.8" transform="rotate(23 434.1 353.1)"/><ellipse cx="505.1" cy="356.2" rx="1.5" ry="0.8" transform="rotate(16 505.1 356.2)"/><ellipse cx="445.5" cy="332.1" rx="1.2" ry="0.6" transform="rotate(29 445.5 332.1)"/><ellipse cx="484.5" cy="371.5" rx="1.1" ry="0.6" transform="rotate(17 484.5 371.5)"/><ellipse cx="590.8" cy="355.6" rx="0.8" ry="0.5" transform="rotate(12 590.8 355.6)"/><ellipse cx="569.4" cy="341.7" rx="1.1" ry="0.6" transform="rotate(12 569.4 341.7)"/><ellipse cx="478.3" cy="370.3" rx="1.2" ry="0.6" transform="rotate(-18 478.3 370.3)"/><ellipse cx="567.9" cy="365.0" rx="1.2" ry="0.8" transform="rotate(-1 567.9 365.0)"/><ellipse cx="502.7" cy="354.4" rx="1.0" ry="0.6" transform="rotate(-12 502.7 354.4)"/><ellipse cx="573.2" cy="364.0" rx="1.6" ry="0.8" transform="rotate(20 573.2 364.0)"/><ellipse cx="518.8" cy="362.1" rx="0.9" ry="0.6" transform="rotate(-8 518.8 362.1)"/><ellipse cx="496.1" cy="354.2" rx="1.5" ry="0.8" transform="rotate(-27 496.1 354.2)"/><ellipse cx="627.6" cy="325.3" rx="0.8" ry="0.6" transform="rotate(34 627.6 325.3)"/><ellipse cx="516.4" cy="328.4" rx="0.9" ry="0.5" transform="rotate(-37 516.4 328.4)"/><ellipse cx="505.7" cy="377.2" rx="1.4" ry="0.7" transform="rotate(17 505.7 377.2)"/><ellipse cx="550.5" cy="375.1" rx="1.6" ry="0.8" transform="rotate(-5 550.5 375.1)"/><ellipse cx="467.4" cy="359.8" rx="1.6" ry="0.6" transform="rotate(-37 467.4 359.8)"/><ellipse cx="550.9" cy="352.3" rx="1.0" ry="0.6" transform="rotate(-37 550.9 352.3)"/><ellipse cx="475.2" cy="325.0" rx="0.9" ry="0.9" transform="rotate(22 475.2 325.0)"/><ellipse cx="499.2" cy="345.9" rx="1.3" ry="0.7" transform="rotate(19 499.2 345.9)"/><ellipse cx="439.4" cy="329.8" rx="1.0" ry="0.8" transform="rotate(33 439.4 329.8)"/><ellipse cx="498.1" cy="376.1" rx="1.0" ry="0.7" transform="rotate(-24 498.1 376.1)"/><ellipse cx="620.2" cy="355.5" rx="1.0" ry="0.7" transform="rotate(-31 620.2 355.5)"/><ellipse cx="440.2" cy="340.6" rx="1.7" ry="0.8" transform="rotate(37 440.2 340.6)"/><ellipse cx="609.0" cy="368.1" rx="1.3" ry="0.8" transform="rotate(37 609.0 368.1)"/><ellipse cx="543.3" cy="365.8" rx="1.5" ry="0.9" transform="rotate(-3 543.3 365.8)"/><ellipse cx="521.8" cy="356.1" rx="0.7" ry="0.5" transform="rotate(-35 521.8 356.1)"/><ellipse cx="558.1" cy="377.7" rx="1.4" ry="0.6" transform="rotate(-15 558.1 377.7)"/><ellipse cx="625.6" cy="352.4" rx="0.7" ry="0.8" transform="rotate(-20 625.6 352.4)"/><ellipse cx="444.5" cy="360.7" rx="1.6" ry="0.5" transform="rotate(35 444.5 360.7)"/><ellipse cx="525.1" cy="343.7" rx="1.7" ry="0.6" transform="rotate(36 525.1 343.7)"/><ellipse cx="568.5" cy="373.2" rx="1.2" ry="0.6" transform="rotate(19 568.5 373.2)"/><ellipse cx="608.3" cy="336.0" rx="0.9" ry="0.6" transform="rotate(9 608.3 336.0)"/><ellipse cx="457.8" cy="330.7" rx="1.7" ry="0.8" transform="rotate(13 457.8 330.7)"/><ellipse cx="553.9" cy="365.5" rx="1.3" ry="0.5" transform="rotate(-1 553.9 365.5)"/><ellipse cx="555.3" cy="351.1" rx="1.8" ry="0.9" transform="rotate(30 555.3 351.1)"/><ellipse cx="528.1" cy="377.2" rx="1.7" ry="0.6" transform="rotate(-22 528.1 377.2)"/><ellipse cx="546.1" cy="327.9" rx="1.6" ry="0.7" transform="rotate(3 546.1 327.9)"/><ellipse cx="530.5" cy="345.9" rx="1.5" ry="0.6" transform="rotate(38 530.5 345.9)"/><ellipse cx="571.6" cy="349.4" rx="1.5" ry="0.5" transform="rotate(-23 571.6 349.4)"/><ellipse cx="547.0" cy="342.2" rx="1.4" ry="0.6" transform="rotate(4 547.0 342.2)"/><ellipse cx="474.8" cy="350.0" rx="1.4" ry="0.6" transform="rotate(-0 474.8 350.0)"/><ellipse cx="469.2" cy="362.1" rx="1.1" ry="0.8" transform="rotate(-18 469.2 362.1)"/><ellipse cx="462.8" cy="332.0" rx="1.3" ry="0.6" transform="rotate(-32 462.8 332.0)"/><ellipse cx="481.7" cy="337.5" rx="1.2" ry="0.7" transform="rotate(-28 481.7 337.5)"/><ellipse cx="626.4" cy="332.9" rx="1.6" ry="0.6" transform="rotate(-0 626.4 332.9)"/><ellipse cx="634.1" cy="370.0" rx="1.3" ry="0.8" transform="rotate(23 634.1 370.0)"/><ellipse cx="488.0" cy="354.8" rx="1.3" ry="0.7" transform="rotate(15 488.0 354.8)"/><ellipse cx="437.6" cy="368.1" rx="1.2" ry="0.8" transform="rotate(-4 437.6 368.1)"/><ellipse cx="495.3" cy="344.1" rx="1.3" ry="0.9" transform="rotate(-19 495.3 344.1)"/><ellipse cx="429.2" cy="331.4" rx="1.7" ry="0.9" transform="rotate(-24 429.2 331.4)"/><ellipse cx="545.9" cy="359.4" rx="0.9" ry="0.8" transform="rotate(-12 545.9 359.4)"/><ellipse cx="566.4" cy="350.8" rx="1.5" ry="0.9" transform="rotate(-10 566.4 350.8)"/><ellipse cx="485.2" cy="358.5" rx="0.9" ry="0.6" transform="rotate(25 485.2 358.5)"/><ellipse cx="495.9" cy="358.5" rx="1.3" ry="0.8" transform="rotate(-34 495.9 358.5)"/><ellipse cx="459.0" cy="337.1" rx="1.0" ry="0.6" transform="rotate(-19 459.0 337.1)"/><ellipse cx="560.4" cy="339.4" rx="1.2" ry="0.8" transform="rotate(-11 560.4 339.4)"/><ellipse cx="548.3" cy="376.2" rx="1.2" ry="0.6" transform="rotate(-38 548.3 376.2)"/><ellipse cx="577.8" cy="360.1" rx="1.7" ry="0.8" transform="rotate(-34 577.8 360.1)"/><ellipse cx="460.1" cy="330.5" rx="0.8" ry="0.9" transform="rotate(4 460.1 330.5)"/><ellipse cx="430.5" cy="346.0" rx="1.5" ry="0.5" transform="rotate(-19 430.5 346.0)"/><ellipse cx="457.6" cy="359.7" rx="1.7" ry="0.6" transform="rotate(-20 457.6 359.7)"/><ellipse cx="484.7" cy="358.2" rx="0.8" ry="0.8" transform="rotate(-38 484.7 358.2)"/><ellipse cx="564.3" cy="370.6" rx="1.1" ry="0.7" transform="rotate(38 564.3 370.6)"/><ellipse cx="538.5" cy="339.4" rx="1.2" ry="0.9" transform="rotate(16 538.5 339.4)"/><ellipse cx="462.2" cy="356.7" rx="1.4" ry="0.8" transform="rotate(5 462.2 356.7)"/><ellipse cx="534.9" cy="358.9" rx="1.0" ry="0.6" transform="rotate(3 534.9 358.9)"/><ellipse cx="594.0" cy="348.4" rx="1.1" ry="0.6" transform="rotate(-16 594.0 348.4)"/><ellipse cx="425.0" cy="368.2" rx="1.6" ry="0.6" transform="rotate(-2 425.0 368.2)"/><ellipse cx="426.7" cy="373.9" rx="1.7" ry="0.7" transform="rotate(-39 426.7 373.9)"/><ellipse cx="515.4" cy="340.5" rx="1.0" ry="0.5" transform="rotate(-10 515.4 340.5)"/><ellipse cx="511.5" cy="354.7" rx="1.1" ry="0.6" transform="rotate(19 511.5 354.7)"/><ellipse cx="506.8" cy="345.1" rx="1.0" ry="0.7" transform="rotate(-21 506.8 345.1)"/><ellipse cx="585.6" cy="373.2" rx="1.6" ry="0.8" transform="rotate(-17 585.6 373.2)"/><ellipse cx="581.0" cy="367.9" rx="1.2" ry="0.8" transform="rotate(-25 581.0 367.9)"/><ellipse cx="485.8" cy="358.8" rx="1.4" ry="0.6" transform="rotate(10 485.8 358.8)"/><ellipse cx="464.4" cy="326.0" rx="0.8" ry="0.7" transform="rotate(-25 464.4 326.0)"/><ellipse cx="446.5" cy="339.3" rx="1.5" ry="0.8" transform="rotate(-21 446.5 339.3)"/><ellipse cx="456.6" cy="351.2" rx="1.1" ry="0.6" transform="rotate(24 456.6 351.2)"/><ellipse cx="634.6" cy="349.6" rx="1.6" ry="0.6" transform="rotate(27 634.6 349.6)"/><ellipse cx="624.8" cy="328.0" rx="1.6" ry="0.5" transform="rotate(-2 624.8 328.0)"/><ellipse cx="465.4" cy="369.6" rx="1.6" ry="0.8" transform="rotate(-30 465.4 369.6)"/><ellipse cx="586.3" cy="338.2" rx="1.5" ry="0.7" transform="rotate(19 586.3 338.2)"/><ellipse cx="432.0" cy="349.4" rx="1.5" ry="0.7" transform="rotate(39 432.0 349.4)"/><ellipse cx="524.3" cy="361.1" rx="1.0" ry="0.6" transform="rotate(10 524.3 361.1)"/><ellipse cx="433.9" cy="374.7" rx="1.3" ry="0.6" transform="rotate(11 433.9 374.7)"/><ellipse cx="466.7" cy="372.0" rx="1.7" ry="0.6" transform="rotate(-31 466.7 372.0)"/><ellipse cx="557.9" cy="342.2" rx="0.9" ry="0.6" transform="rotate(-30 557.9 342.2)"/><ellipse cx="590.7" cy="325.5" rx="0.7" ry="0.8" transform="rotate(-2 590.7 325.5)"/><ellipse cx="550.2" cy="344.7" rx="0.8" ry="0.6" transform="rotate(-33 550.2 344.7)"/><ellipse cx="554.9" cy="374.3" rx="1.8" ry="0.8" transform="rotate(-35 554.9 374.3)"/><ellipse cx="560.4" cy="362.2" rx="1.6" ry="0.6" transform="rotate(-21 560.4 362.2)"/><ellipse cx="631.2" cy="366.8" rx="1.5" ry="0.8" transform="rotate(-5 631.2 366.8)"/><ellipse cx="465.5" cy="361.5" rx="1.1" ry="0.6" transform="rotate(32 465.5 361.5)"/><ellipse cx="526.9" cy="348.2" rx="1.0" ry="0.8" transform="rotate(-25 526.9 348.2)"/><ellipse cx="464.2" cy="343.4" rx="1.5" ry="0.6" transform="rotate(27 464.2 343.4)"/><ellipse cx="617.0" cy="354.4" rx="0.8" ry="0.6" transform="rotate(-16 617.0 354.4)"/><ellipse cx="480.3" cy="344.5" rx="0.7" ry="0.8" transform="rotate(-10 480.3 344.5)"/><ellipse cx="464.0" cy="326.0" rx="1.6" ry="0.8" transform="rotate(-21 464.0 326.0)"/><ellipse cx="576.4" cy="359.9" rx="1.3" ry="0.7" transform="rotate(2 576.4 359.9)"/><ellipse cx="529.5" cy="354.2" rx="1.4" ry="0.6" transform="rotate(11 529.5 354.2)"/><ellipse cx="448.2" cy="352.7" rx="0.8" ry="0.8" transform="rotate(-30 448.2 352.7)"/><ellipse cx="608.4" cy="335.7" rx="1.2" ry="0.5" transform="rotate(6 608.4 335.7)"/><ellipse cx="600.6" cy="359.9" rx="1.3" ry="0.8" transform="rotate(-20 600.6 359.9)"/><ellipse cx="501.9" cy="357.1" rx="0.8" ry="0.9" transform="rotate(-23 501.9 357.1)"/><ellipse cx="528.2" cy="372.2" rx="0.8" ry="0.8" transform="rotate(-35 528.2 372.2)"/><ellipse cx="542.2" cy="374.7" rx="1.2" ry="0.6" transform="rotate(17 542.2 374.7)"/><ellipse cx="598.0" cy="339.1" rx="0.7" ry="0.5" transform="rotate(-16 598.0 339.1)"/><ellipse cx="623.4" cy="375.9" rx="0.8" ry="0.8" transform="rotate(3 623.4 375.9)"/><ellipse cx="464.8" cy="352.9" rx="1.0" ry="0.8" transform="rotate(-26 464.8 352.9)"/><ellipse cx="582.3" cy="347.0" rx="0.8" ry="0.8" transform="rotate(-11 582.3 347.0)"/><ellipse cx="521.3" cy="360.3" rx="1.7" ry="0.6" transform="rotate(-26 521.3 360.3)"/><ellipse cx="509.3" cy="342.9" rx="0.9" ry="0.9" transform="rotate(-5 509.3 342.9)"/><ellipse cx="499.0" cy="341.7" rx="1.8" ry="0.6" transform="rotate(-10 499.0 341.7)"/><ellipse cx="585.5" cy="347.8" rx="1.5" ry="0.7" transform="rotate(5 585.5 347.8)"/><ellipse cx="469.9" cy="365.6" rx="1.7" ry="0.6" transform="rotate(37 469.9 365.6)"/><ellipse cx="519.0" cy="346.0" rx="1.5" ry="0.9" transform="rotate(8 519.0 346.0)"/><ellipse cx="533.7" cy="377.7" rx="1.0" ry="0.6" transform="rotate(-22 533.7 377.7)"/><ellipse cx="604.7" cy="326.2" rx="1.6" ry="0.8" transform="rotate(-18 604.7 326.2)"/><ellipse cx="541.3" cy="354.5" rx="1.7" ry="0.6" transform="rotate(-37 541.3 354.5)"/><ellipse cx="499.7" cy="332.3" rx="1.1" ry="0.7" transform="rotate(-21 499.7 332.3)"/><ellipse cx="595.3" cy="329.9" rx="1.1" ry="0.9" transform="rotate(19 595.3 329.9)"/><ellipse cx="577.0" cy="367.0" rx="0.9" ry="0.8" transform="rotate(15 577.0 367.0)"/><ellipse cx="546.0" cy="373.1" rx="1.4" ry="0.6" transform="rotate(18 546.0 373.1)"/><ellipse cx="546.0" cy="329.2" rx="0.8" ry="0.8" transform="rotate(-12 546.0 329.2)"/><ellipse cx="596.6" cy="347.1" rx="1.7" ry="0.8" transform="rotate(-22 596.6 347.1)"/><ellipse cx="562.1" cy="356.9" rx="0.7" ry="0.8" transform="rotate(-9 562.1 356.9)"/><ellipse cx="489.0" cy="327.2" rx="1.3" ry="0.6" transform="rotate(0 489.0 327.2)"/><ellipse cx="471.4" cy="327.7" rx="1.5" ry="0.7" transform="rotate(-4 471.4 327.7)"/><ellipse cx="550.0" cy="351.8" rx="0.9" ry="0.6" transform="rotate(-8 550.0 351.8)"/><ellipse cx="452.8" cy="329.4" rx="1.3" ry="0.5" transform="rotate(-8 452.8 329.4)"/><ellipse cx="442.9" cy="351.6" rx="1.6" ry="0.6" transform="rotate(-29 442.9 351.6)"/><ellipse cx="542.5" cy="350.9" rx="1.4" ry="0.6" transform="rotate(9 542.5 350.9)"/><ellipse cx="579.5" cy="338.1" rx="0.8" ry="0.8" transform="rotate(-14 579.5 338.1)"/><ellipse cx="619.1" cy="329.7" rx="1.4" ry="0.7" transform="rotate(-12 619.1 329.7)"/><ellipse cx="492.4" cy="356.5" rx="0.7" ry="0.6" transform="rotate(39 492.4 356.5)"/><ellipse cx="554.4" cy="377.5" rx="1.2" ry="0.6" transform="rotate(-36 554.4 377.5)"/><ellipse cx="596.8" cy="335.6" rx="1.1" ry="0.8" transform="rotate(28 596.8 335.6)"/><ellipse cx="448.6" cy="327.9" rx="1.7" ry="0.9" transform="rotate(30 448.6 327.9)"/><ellipse cx="597.2" cy="325.7" rx="1.5" ry="0.5" transform="rotate(-4 597.2 325.7)"/><ellipse cx="429.8" cy="336.1" rx="1.3" ry="0.6" transform="rotate(2 429.8 336.1)"/><ellipse cx="479.3" cy="350.6" rx="1.5" ry="0.6" transform="rotate(16 479.3 350.6)"/><ellipse cx="428.9" cy="355.9" rx="1.4" ry="0.5" transform="rotate(-26 428.9 355.9)"/><ellipse cx="484.6" cy="366.8" rx="1.4" ry="0.5" transform="rotate(12 484.6 366.8)"/><ellipse cx="426.8" cy="345.6" rx="1.0" ry="0.8" transform="rotate(13 426.8 345.6)"/><ellipse cx="606.5" cy="326.0" rx="1.7" ry="0.8" transform="rotate(-22 606.5 326.0)"/><ellipse cx="504.9" cy="376.8" rx="0.8" ry="0.6" transform="rotate(29 504.9 376.8)"/><ellipse cx="536.6" cy="334.9" rx="1.3" ry="0.7" transform="rotate(34 536.6 334.9)"/></g>
</g>
<clipPath id="brainClip"><path d="M136,167 C140,150 150,140 165,132 C180,122 195,119 205,119 C225,116 245,117 262,118 C280,119 295,120 307,123 C325,130 338,140 345,152 C350,160 353,166 352,171 C350,180 346,186 341,190 C330,195 315,196 299,197 C300,203 300,206 299,209 C296,216 292,220 288,224 C275,230 260,233 242,233 C225,233 205,232 186,231 C170,229 156,225 148,220 C140,212 134,203 133,193 C132,185 133,175 136,167 Z"/></clipPath>
<clipPath id="skullClip"><path d="M214,110 C245,106 292,110 322,122 C340,132 352,150 358,176 C362,184 367,189 368,195 C368,200 366,204 366.5,207 C367,212 368,216 368,219 C367,226 366,234 366.5,240 C367,248 367,254 368,257 C371,259 373,260 375,262 C378,268 381,274 384,279 C387,284 390,288 390,296 L303,300 C302,290 300,276 296,269 C290,262 284,256 271,252 C262,251 258,251 254,253 C248,256 244,259 242,261 C236,268 232,272 227,277 C222,283 215,287 202,289 C190,286 172,274 160,258 C146,240 132,215 127,190 C125,165 135,142 162,124 C182,114 200,110 214,110 Z"/></clipPath>
<g id="skull">
<path d="M214,110 C245,106 292,110 322,122 C340,132 352,150 358,176 C362,184 367,189 368,195 C368,200 366,204 366.5,207 C367,212 368,216 368,219 C367,226 366,234 366.5,240 C367,248 367,254 368,257 C371,259 373,260 375,262 C378,268 381,274 384,279 C387,284 390,288 390,296 L303,300 C302,290 300,276 296,269 C290,262 284,256 271,252 C262,251 258,251 254,253 C248,256 244,259 242,261 C236,268 232,272 227,277 C222,283 215,287 202,289 C190,286 172,274 160,258 C146,240 132,215 127,190 C125,165 135,142 162,124 C182,114 200,110 214,110 Z" fill="#efe5cb"/>
<g clip-path="url(#skullClip)">
<path d="M214,110 C245,106 292,110 322,122 C340,132 352,150 358,176 C362,184 367,189 368,195 C368,200 366,204 366.5,207 C367,212 368,216 368,219 C367,226 366,234 366.5,240 C367,248 367,254 368,257 C371,259 373,260 375,262 C378,268 381,274 384,279 C387,284 390,288 390,296 L303,300 C302,290 300,276 296,269 C290,262 284,256 271,252 C262,251 258,251 254,253 C248,256 244,259 242,261 C236,268 232,272 227,277 C222,283 215,287 202,289 C190,286 172,274 160,258 C146,240 132,215 127,190 C125,165 135,142 162,124 C182,114 200,110 214,110 Z" fill="none" stroke="#b08a45" stroke-width="8" opacity="0.75" filter="url(#blur2)"/>
<path d="M140,150 C130,175 132,205 150,235 C165,258 185,280 205,288" fill="none" stroke="#a88040" stroke-width="9" opacity="0.55" filter="url(#blur2)"/>
<path d="M262,252 C275,262 290,270 300,290" fill="none" stroke="#b08a45" stroke-width="6" opacity="0.5" filter="url(#blur2)"/>
<path d="M345,200 C352,230 360,260 375,285" fill="none" stroke="#a88040" stroke-width="4" opacity="0.5" filter="url(#blur2)"/>
<path d="M255,252 C270,240 300,232 330,240 C345,250 350,270 345,290" fill="none" stroke="#c8ab6a" stroke-width="6" opacity="0.5" filter="url(#blur2)"/>
<path d="M300,262 C320,250 340,262 352,275 C360,285 370,290 380,292" fill="none" stroke="#b89a58" stroke-width="4" opacity="0.5" filter="url(#blur2)"/>
<ellipse cx="350" cy="238" rx="12" ry="25" fill="#f6efdc" filter="url(#blur2)"/>
<ellipse cx="290" cy="238" rx="30" ry="8" fill="#f5eddb" opacity="0.8" filter="url(#blur2)"/>
<path d="M190,268 C200,280 215,286 228,276" fill="none" stroke="#f7f0de" stroke-width="6" filter="url(#blur1)"/>
</g>
<path d="M214,110 C245,106 292,110 322,122 C340,132 352,150 358,176 C362,184 367,189 368,195 C368,200 366,204 366.5,207 C367,212 368,216 368,219 C367,226 366,234 366.5,240 C367,248 367,254 368,257 C371,259 373,260 375,262 C378,268 381,274 384,279 C387,284 390,288 390,296 L303,300 C302,290 300,276 296,269 C290,262 284,256 271,252 C262,251 258,251 254,253 C248,256 244,259 242,261 C236,268 232,272 227,277 C222,283 215,287 202,289 C190,286 172,274 160,258 C146,240 132,215 127,190 C125,165 135,142 162,124 C182,114 200,110 214,110 Z" fill="none" stroke="#b39660" stroke-width="0.8"/>
<path d="M133,188 C132,162 142,142 164,128 C187,116 230,113 265,114 C300,116 330,126 345,145 C352,155 356,165 356,176" fill="none" stroke="#eadfc6" stroke-width="4" opacity="0.9"/>
<path d="M150,222 C160,240 172,252 186,258 C200,262 212,262 224,262 C240,258 252,252 262,246 C274,238 282,232 288,226 C275,231 258,234 242,234 C222,234 200,232 186,231 C170,229 160,226 150,222 Z" fill="#e9b797" opacity="0.75"/>
<clipPath id="cerebClip"><path d="M150,222 C160,240 172,252 186,258 C200,262 212,262 224,262 C240,258 252,252 262,246 C274,238 282,232 288,226 C275,231 258,234 242,234 C222,234 200,232 186,231 C170,229 160,226 150,222 Z"/></clipPath>
<g fill="none" stroke="#d8a07a" stroke-width="1.2" stroke-linecap="round" stroke-linejoin="round" opacity="0.6" clip-path="url(#cerebClip)"><path d="M211.1,245.7 Q215.7,242.6 216.1,239.9 Q216.5,237.2 216.8,234.8 Q217.0,232.4 215.6,230.8 Q214.2,229.1 211.9,229.3 Q209.6,229.5 208.1,227.5 Q206.7,225.5 205.9,223.6"/><path d="M211.2,252.3 Q206.8,253.8 206.6,255.5 Q206.4,257.3 207.2,258.6 Q208.1,259.9 209.4,261.6 Q210.7,263.4 210.2,265.6 Q209.7,267.8 208.4,269.7 Q207.1,271.5 205.3,272.7 Q203.4,273.8 202.1,276.5"/><path d="M284.4,256.1 Q286.2,251.9 284.5,250.3 Q282.8,248.7 281.2,249.1 Q279.6,249.6 278.5,250.7 Q277.4,251.9 278.6,254.1 Q279.8,256.3 282.5,257.3"/><path d="M157.1,238.9 Q152.3,237.9 151.1,236.4 Q150.0,234.9 148.0,235.2 Q146.0,235.4 144.7,233.1 Q143.5,230.8 141.6,230.7 Q139.7,230.6 138.8,231.9 Q137.9,233.2 136.2,233.6"/><path d="M225.5,241.6 Q227.8,245.0 230.0,247.0 Q232.3,248.9 234.6,247.4 Q237.0,245.8 238.9,247.3 Q240.8,248.7 240.2,250.2"/><path d="M175.3,261.8 Q169.8,264.2 169.0,265.9 Q168.2,267.6 166.4,268.4 Q164.6,269.3 163.7,270.6 Q162.8,271.9 163.8,274.0 Q164.9,276.2 167.0,277.2 Q169.2,278.2 171.4,278.5 Q173.5,278.7 174.1,280.9"/><path d="M227.6,257.1 Q230.5,259.3 232.0,261.4 Q233.5,263.5 236.0,263.6 Q238.4,263.8 240.9,264.3 Q243.4,264.8 245.6,264.6"/><path d="M160.6,226.8 Q159.4,230.3 158.0,231.5 Q156.6,232.8 154.2,232.5 Q151.9,232.2 150.2,232.9 Q148.6,233.6 147.0,233.4 Q145.5,233.1 143.5,234.4 Q141.5,235.6 139.2,234.7 Q137.0,233.8 134.1,234.4"/><path d="M177.5,225.6 Q179.1,228.3 181.2,229.4 Q183.2,230.4 183.0,232.0 Q182.8,233.7 184.4,235.2 Q185.9,236.7 188.4,237.5 Q190.9,238.3 193.6,239.4 Q196.3,240.5 198.7,242.1"/><path d="M214.1,238.2 Q217.8,241.4 219.8,243.1 Q221.9,244.7 224.8,245.2 Q227.8,245.8 229.2,244.0"/><path d="M249.5,258.3 Q253.1,253.8 253.9,251.4 Q254.6,249.0 257.3,248.4 Q260.1,247.7 262.5,246.6 Q264.9,245.4 267.0,246.5"/><path d="M234.4,239.1 Q231.7,241.0 231.7,242.9 Q231.7,244.7 232.2,246.7 Q232.7,248.6 230.7,250.2 Q228.7,251.8 227.2,253.4 Q225.6,254.9 223.9,256.4 Q222.1,257.8 220.5,259.0 Q219.0,260.2 219.2,261.7"/><path d="M279.2,229.2 Q277.9,226.4 275.9,225.0 Q273.8,223.6 272.1,223.9 Q270.3,224.2 268.8,222.2 Q267.2,220.3 265.1,218.4 Q263.0,216.5 260.6,215.8 Q258.2,215.1 256.3,216.1"/><path d="M258.8,258.8 Q259.3,253.1 258.3,251.7 Q257.2,250.4 254.8,249.0 Q252.3,247.6 251.0,248.6 Q249.8,249.6 247.5,248.1 Q245.2,246.6 243.2,247.6 Q241.2,248.5 239.0,246.8"/><path d="M201.6,244.2 Q199.8,241.6 197.1,242.3 Q194.4,243.0 194.1,245.6 Q193.8,248.1 193.2,250.0 Q192.6,251.9 191.3,252.6 Q189.9,253.4 189.7,255.5 Q189.4,257.7 191.9,258.9 Q194.4,260.1 196.0,259.7"/><path d="M156.3,248.3 Q150.9,247.9 150.2,245.5 Q149.4,243.1 147.4,242.1 Q145.4,241.1 144.0,241.6 Q142.6,242.1 140.3,243.2 Q137.9,244.3 137.4,246.1 Q136.8,247.9 137.0,250.5 Q137.3,253.0 137.4,255.4"/><path d="M252.1,239.6 Q247.9,235.6 247.5,233.9 Q247.1,232.3 246.3,230.0 Q245.4,227.7 246.8,226.1 Q248.1,224.6 250.3,222.8"/><path d="M257.6,259.9 Q255.9,265.3 253.4,266.7 Q250.8,268.0 250.6,269.9 Q250.5,271.7 250.8,273.3 Q251.1,274.9 253.0,277.2"/><path d="M275.9,234.7 Q274.0,232.0 272.5,230.3 Q270.9,228.6 270.8,226.4 Q270.7,224.1 268.1,223.3"/><path d="M158.6,254.6 Q158.6,260.3 158.9,263.3 Q159.1,266.3 157.2,267.6 Q155.4,268.9 153.2,269.2 Q151.1,269.5 149.5,267.8 Q147.9,266.0 147.3,263.4"/><path d="M209.3,245.7 Q212.8,242.7 215.1,243.2 Q217.4,243.6 219.4,243.0 Q221.4,242.4 223.7,244.0 Q226.1,245.7 228.8,245.2 Q231.6,244.8 232.7,246.8 Q233.8,248.8 234.4,250.5 Q234.9,252.2 235.4,254.4"/><path d="M231.7,226.0 Q234.6,229.6 233.7,231.0 Q232.7,232.4 233.5,234.0 Q234.3,235.6 233.0,237.3 Q231.6,239.0 229.0,238.5 Q226.3,238.1 224.4,238.2 Q222.6,238.3 220.6,238.5 Q218.6,238.7 216.9,236.3"/><path d="M274.2,244.4 Q277.4,249.2 280.0,249.3 Q282.7,249.4 283.3,247.7 Q284.0,246.0 283.1,243.7 Q282.2,241.3 280.7,239.9 Q279.2,238.5 278.4,237.0 Q277.6,235.6 277.8,233.9"/><path d="M218.9,234.3 Q217.0,236.7 214.7,238.2 Q212.4,239.7 210.2,240.3 Q208.0,240.9 206.2,239.4 Q204.4,238.0 202.6,238.1 Q200.7,238.2 198.4,238.0 Q196.0,237.9 194.2,240.1 Q192.4,242.4 190.7,243.4"/><path d="M174.5,247.3 Q175.4,241.4 176.9,240.7 Q178.5,240.0 179.7,237.7 Q180.9,235.4 180.6,233.8 Q180.4,232.2 181.8,230.6"/><path d="M256.6,229.7 Q257.1,234.4 258.3,236.8 Q259.5,239.2 261.4,241.0 Q263.2,242.7 264.2,244.5"/><path d="M284.8,255.8 Q282.8,253.4 281.6,251.5 Q280.4,249.6 279.8,248.0 Q279.1,246.4 277.5,245.7 Q275.8,245.1 274.9,242.2 Q273.9,239.4 275.1,238.2 Q276.3,237.1 275.3,234.3"/><path d="M212.4,253.3 Q211.2,257.2 212.1,259.0 Q213.0,260.9 213.2,262.4 Q213.4,264.0 215.0,265.3 Q216.7,266.6 218.7,267.3 Q220.6,267.9 221.0,270.3 Q221.4,272.6 223.9,273.6"/><path d="M193.7,228.1 Q196.2,225.5 197.8,224.4 Q199.5,223.3 201.4,223.5 Q203.3,223.6 204.9,221.6 Q206.5,219.5 205.9,216.7 Q205.3,213.9 203.4,213.1 Q201.6,212.3 199.8,211.3"/><path d="M208.3,231.7 Q212.2,232.4 213.7,232.6 Q215.2,232.8 217.6,232.1 Q220.0,231.4 221.8,231.5 Q223.7,231.6 224.6,233.9"/></g>
<path d="M136,167 C140,150 150,140 165,132 C180,122 195,119 205,119 C225,116 245,117 262,118 C280,119 295,120 307,123 C325,130 338,140 345,152 C350,160 353,166 352,171 C350,180 346,186 341,190 C330,195 315,196 299,197 C300,203 300,206 299,209 C296,216 292,220 288,224 C275,230 260,233 242,233 C225,233 205,232 186,231 C170,229 156,225 148,220 C140,212 134,203 133,193 C132,185 133,175 136,167 Z" fill="#eab490"/>
<g filter="url(#blur1)"><g clip-path="url(#brainClip)" fill="none" stroke-linecap="round" stroke-linejoin="round"><path d="M158.2,198.1 Q158.6,187.2 158.5,181.8 Q158.4,176.4 155.5,173.1 Q152.7,169.9 152.4,166.8 Q152.2,163.8 155.3,161.2 Q158.4,158.5 158.8,153.7 L159.2,148.8" stroke="#dc9670" stroke-width="10"/><path d="M158.2,198.1 Q158.6,187.2 158.5,181.8 Q158.4,176.4 155.5,173.1 Q152.7,169.9 152.4,166.8 Q152.2,163.8 155.3,161.2 Q158.4,158.5 158.8,153.7 L159.2,148.8" stroke="#f5cfb2" stroke-width="7.6"/><path d="M342.8,198.7 Q336.7,199.6 333.0,201.7 Q329.4,203.8 328.3,209.0 Q327.1,214.3 327.4,217.7 Q327.7,221.0 325.8,223.7 Q323.9,226.4 319.7,226.5 L315.6,226.5" stroke="#dc9670" stroke-width="10"/><path d="M342.8,198.7 Q336.7,199.6 333.0,201.7 Q329.4,203.8 328.3,209.0 Q327.1,214.3 327.4,217.7 Q327.7,221.0 325.8,223.7 Q323.9,226.4 319.7,226.5 L315.6,226.5" stroke="#f5cfb2" stroke-width="7.6"/><path d="M252.7,151.3 Q244.6,149.1 242.8,146.5 Q241.0,143.8 236.6,142.4 Q232.1,141.0 229.5,137.2 L226.9,133.3" stroke="#dc9670" stroke-width="10"/><path d="M252.7,151.3 Q244.6,149.1 242.8,146.5 Q241.0,143.8 236.6,142.4 Q232.1,141.0 229.5,137.2 L226.9,133.3" stroke="#f5cfb2" stroke-width="7.6"/><path d="M349.6,226.1 Q354.8,219.6 358.3,218.9 Q361.7,218.3 365.5,221.9 L369.4,225.4" stroke="#dc9670" stroke-width="10"/><path d="M349.6,226.1 Q354.8,219.6 358.3,218.9 Q361.7,218.3 365.5,221.9 L369.4,225.4" stroke="#f5cfb2" stroke-width="7.6"/><path d="M217.9,154.3 Q211.5,159.8 209.8,164.6 Q208.1,169.3 209.9,173.7 Q211.8,178.1 210.0,180.5 Q208.1,182.9 209.4,187.2 Q210.7,191.5 211.7,195.8 L212.7,200.1" stroke="#dc9670" stroke-width="10"/><path d="M217.9,154.3 Q211.5,159.8 209.8,164.6 Q208.1,169.3 209.9,173.7 Q211.8,178.1 210.0,180.5 Q208.1,182.9 209.4,187.2 Q210.7,191.5 211.7,195.8 L212.7,200.1" stroke="#f5cfb2" stroke-width="7.6"/><path d="M195.7,237.3 Q201.4,245.8 205.4,248.6 Q209.4,251.5 209.4,255.1 Q209.4,258.7 213.0,262.6 L216.5,266.6" stroke="#dc9670" stroke-width="10"/><path d="M195.7,237.3 Q201.4,245.8 205.4,248.6 Q209.4,251.5 209.4,255.1 Q209.4,258.7 213.0,262.6 L216.5,266.6" stroke="#f5cfb2" stroke-width="7.6"/><path d="M160.5,162.9 Q162.3,173.2 159.4,175.9 Q156.4,178.6 151.3,176.9 L146.2,175.1" stroke="#dc9670" stroke-width="10"/><path d="M160.5,162.9 Q162.3,173.2 159.4,175.9 Q156.4,178.6 151.3,176.9 L146.2,175.1" stroke="#f5cfb2" stroke-width="7.6"/><path d="M262.1,224.2 Q251.9,221.0 247.6,222.1 Q243.4,223.1 239.6,224.6 Q235.9,226.1 232.8,225.7 Q229.7,225.2 224.8,226.8 Q220.0,228.4 216.9,228.3 L213.8,228.2" stroke="#dc9670" stroke-width="10"/><path d="M262.1,224.2 Q251.9,221.0 247.6,222.1 Q243.4,223.1 239.6,224.6 Q235.9,226.1 232.8,225.7 Q229.7,225.2 224.8,226.8 Q220.0,228.4 216.9,228.3 L213.8,228.2" stroke="#f5cfb2" stroke-width="7.6"/><path d="M178.7,158.3 Q188.1,160.7 191.6,161.4 Q195.2,162.1 196.7,166.2 Q198.2,170.2 197.8,173.2 L197.3,176.3" stroke="#dc9670" stroke-width="10"/><path d="M178.7,158.3 Q188.1,160.7 191.6,161.4 Q195.2,162.1 196.7,166.2 Q198.2,170.2 197.8,173.2 L197.3,176.3" stroke="#f5cfb2" stroke-width="7.6"/><path d="M169.8,218.2 Q173.7,211.1 176.9,207.1 Q180.2,203.1 181.3,198.9 Q182.4,194.8 181.3,190.0 Q180.2,185.2 175.7,183.9 L171.1,182.7" stroke="#dc9670" stroke-width="10"/><path d="M169.8,218.2 Q173.7,211.1 176.9,207.1 Q180.2,203.1 181.3,198.9 Q182.4,194.8 181.3,190.0 Q180.2,185.2 175.7,183.9 L171.1,182.7" stroke="#f5cfb2" stroke-width="7.6"/><path d="M350.8,108.2 Q348.9,99.4 346.2,96.5 Q343.5,93.5 344.9,88.5 Q346.3,83.4 344.6,80.6 L342.9,77.8" stroke="#dc9670" stroke-width="10"/><path d="M350.8,108.2 Q348.9,99.4 346.2,96.5 Q343.5,93.5 344.9,88.5 Q346.3,83.4 344.6,80.6 L342.9,77.8" stroke="#f5cfb2" stroke-width="7.6"/><path d="M140.9,108.4 Q139.0,114.7 139.7,118.4 Q140.4,122.1 137.6,124.9 Q134.7,127.8 130.2,127.4 L125.7,127.1" stroke="#dc9670" stroke-width="10"/><path d="M140.9,108.4 Q139.0,114.7 139.7,118.4 Q140.4,122.1 137.6,124.9 Q134.7,127.8 130.2,127.4 L125.7,127.1" stroke="#f5cfb2" stroke-width="7.6"/><path d="M162.3,220.8 Q162.9,229.3 161.5,232.1 Q160.1,234.9 156.2,235.5 L152.3,236.2" stroke="#dc9670" stroke-width="10"/><path d="M162.3,220.8 Q162.9,229.3 161.5,232.1 Q160.1,234.9 156.2,235.5 L152.3,236.2" stroke="#f5cfb2" stroke-width="7.6"/><path d="M328.9,158.7 Q319.5,159.9 316.8,161.5 Q314.2,163.0 311.5,165.7 Q308.8,168.3 305.1,167.9 L301.4,167.6" stroke="#dc9670" stroke-width="10"/><path d="M328.9,158.7 Q319.5,159.9 316.8,161.5 Q314.2,163.0 311.5,165.7 Q308.8,168.3 305.1,167.9 L301.4,167.6" stroke="#f5cfb2" stroke-width="7.6"/><path d="M240.8,179.2 Q246.9,177.8 250.7,177.7 Q254.5,177.6 258.2,177.7 L262.0,177.8" stroke="#dc9670" stroke-width="10"/><path d="M240.8,179.2 Q246.9,177.8 250.7,177.7 Q254.5,177.6 258.2,177.7 L262.0,177.8" stroke="#f5cfb2" stroke-width="7.6"/><path d="M270.4,207.3 Q265.6,213.4 264.2,218.7 Q262.7,224.0 264.5,226.6 Q266.3,229.3 271.3,229.5 Q276.3,229.6 279.7,232.0 L283.1,234.4" stroke="#dc9670" stroke-width="10"/><path d="M270.4,207.3 Q265.6,213.4 264.2,218.7 Q262.7,224.0 264.5,226.6 Q266.3,229.3 271.3,229.5 Q276.3,229.6 279.7,232.0 L283.1,234.4" stroke="#f5cfb2" stroke-width="7.6"/><path d="M269.6,107.7 Q263.9,101.3 264.3,98.1 Q264.6,94.9 260.8,92.2 Q257.0,89.5 253.6,90.9 Q250.2,92.2 246.2,93.0 Q242.3,93.7 237.6,95.4 L232.9,97.1" stroke="#dc9670" stroke-width="10"/><path d="M269.6,107.7 Q263.9,101.3 264.3,98.1 Q264.6,94.9 260.8,92.2 Q257.0,89.5 253.6,90.9 Q250.2,92.2 246.2,93.0 Q242.3,93.7 237.6,95.4 L232.9,97.1" stroke="#f5cfb2" stroke-width="7.6"/><path d="M215.3,149.2 Q221.6,152.0 226.1,152.6 Q230.6,153.2 234.2,151.2 L237.8,149.3" stroke="#dc9670" stroke-width="10"/><path d="M215.3,149.2 Q221.6,152.0 226.1,152.6 Q230.6,153.2 234.2,151.2 L237.8,149.3" stroke="#f5cfb2" stroke-width="7.6"/><path d="M272.4,188.6 Q265.7,180.4 262.1,177.7 Q258.4,175.0 257.3,169.7 Q256.1,164.4 258.4,162.4 Q260.7,160.5 262.3,157.1 L264.0,153.7" stroke="#dc9670" stroke-width="10"/><path d="M272.4,188.6 Q265.7,180.4 262.1,177.7 Q258.4,175.0 257.3,169.7 Q256.1,164.4 258.4,162.4 Q260.7,160.5 262.3,157.1 L264.0,153.7" stroke="#f5cfb2" stroke-width="7.6"/><path d="M213.5,124.6 Q205.0,121.2 200.2,120.7 Q195.4,120.2 193.2,115.1 L191.1,110.1" stroke="#dc9670" stroke-width="10"/><path d="M213.5,124.6 Q205.0,121.2 200.2,120.7 Q195.4,120.2 193.2,115.1 L191.1,110.1" stroke="#f5cfb2" stroke-width="7.6"/><path d="M158.6,163.5 Q157.3,154.2 154.0,149.9 Q150.7,145.7 147.6,143.9 Q144.4,142.1 143.4,138.9 Q142.4,135.6 142.8,132.1 L143.2,128.7" stroke="#dc9670" stroke-width="10"/><path d="M158.6,163.5 Q157.3,154.2 154.0,149.9 Q150.7,145.7 147.6,143.9 Q144.4,142.1 143.4,138.9 Q142.4,135.6 142.8,132.1 L143.2,128.7" stroke="#f5cfb2" stroke-width="7.6"/><path d="M263.9,142.5 Q258.4,148.5 255.3,150.5 Q252.2,152.5 251.1,156.3 Q250.0,160.2 250.8,163.5 Q251.5,166.9 249.3,169.1 Q247.1,171.3 241.8,171.8 L236.5,172.3" stroke="#dc9670" stroke-width="10"/><path d="M263.9,142.5 Q258.4,148.5 255.3,150.5 Q252.2,152.5 251.1,156.3 Q250.0,160.2 250.8,163.5 Q251.5,166.9 249.3,169.1 Q247.1,171.3 241.8,171.8 L236.5,172.3" stroke="#f5cfb2" stroke-width="7.6"/><path d="M289.9,107.6 Q281.9,109.3 276.7,111.1 Q271.5,112.8 268.8,110.8 L266.1,108.8" stroke="#dc9670" stroke-width="10"/><path d="M289.9,107.6 Q281.9,109.3 276.7,111.1 Q271.5,112.8 268.8,110.8 L266.1,108.8" stroke="#f5cfb2" stroke-width="7.6"/><path d="M355.4,130.7 Q352.3,136.6 347.8,138.9 Q343.3,141.1 340.4,142.3 L337.5,143.5" stroke="#dc9670" stroke-width="10"/><path d="M355.4,130.7 Q352.3,136.6 347.8,138.9 Q343.3,141.1 340.4,142.3 L337.5,143.5" stroke="#f5cfb2" stroke-width="7.6"/><path d="M163.8,159.4 Q154.8,154.6 151.6,152.0 Q148.3,149.4 147.2,144.9 Q146.0,140.4 142.2,138.9 L138.4,137.4" stroke="#dc9670" stroke-width="10"/><path d="M163.8,159.4 Q154.8,154.6 151.6,152.0 Q148.3,149.4 147.2,144.9 Q146.0,140.4 142.2,138.9 L138.4,137.4" stroke="#f5cfb2" stroke-width="7.6"/><path d="M321.2,238.5 Q311.1,238.3 306.7,237.1 Q302.3,236.0 297.4,235.0 Q292.5,234.0 288.9,234.6 L285.2,235.2" stroke="#dc9670" stroke-width="10"/><path d="M321.2,238.5 Q311.1,238.3 306.7,237.1 Q302.3,236.0 297.4,235.0 Q292.5,234.0 288.9,234.6 L285.2,235.2" stroke="#f5cfb2" stroke-width="7.6"/><path d="M204.2,145.2 Q201.4,138.8 196.6,137.4 Q191.7,136.0 187.8,136.1 L184.0,136.2" stroke="#dc9670" stroke-width="10"/><path d="M204.2,145.2 Q201.4,138.8 196.6,137.4 Q191.7,136.0 187.8,136.1 L184.0,136.2" stroke="#f5cfb2" stroke-width="7.6"/><path d="M157.6,184.0 Q161.2,189.4 159.7,193.5 Q158.2,197.6 157.5,202.2 Q156.7,206.9 154.1,210.3 Q151.5,213.8 152.9,218.6 Q154.2,223.5 156.7,225.4 L159.1,227.4" stroke="#dc9670" stroke-width="10"/><path d="M157.6,184.0 Q161.2,189.4 159.7,193.5 Q158.2,197.6 157.5,202.2 Q156.7,206.9 154.1,210.3 Q151.5,213.8 152.9,218.6 Q154.2,223.5 156.7,225.4 L159.1,227.4" stroke="#f5cfb2" stroke-width="7.6"/><path d="M204.0,176.9 Q196.4,178.8 191.4,180.3 Q186.5,181.8 183.7,183.1 Q180.9,184.3 179.0,186.8 L177.1,189.3" stroke="#dc9670" stroke-width="10"/><path d="M204.0,176.9 Q196.4,178.8 191.4,180.3 Q186.5,181.8 183.7,183.1 Q180.9,184.3 179.0,186.8 L177.1,189.3" stroke="#f5cfb2" stroke-width="7.6"/><path d="M284.1,192.5 Q285.7,184.7 290.6,182.5 Q295.5,180.4 298.4,181.2 L301.4,181.9" stroke="#dc9670" stroke-width="10"/><path d="M284.1,192.5 Q285.7,184.7 290.6,182.5 Q295.5,180.4 298.4,181.2 L301.4,181.9" stroke="#f5cfb2" stroke-width="7.6"/><path d="M203.9,187.8 Q200.2,182.1 201.8,178.1 Q203.3,174.0 206.6,172.8 Q209.9,171.6 213.2,174.5 Q216.4,177.5 217.5,182.2 Q218.6,186.9 216.3,190.1 L214.1,193.3" stroke="#dc9670" stroke-width="10"/><path d="M203.9,187.8 Q200.2,182.1 201.8,178.1 Q203.3,174.0 206.6,172.8 Q209.9,171.6 213.2,174.5 Q216.4,177.5 217.5,182.2 Q218.6,186.9 216.3,190.1 L214.1,193.3" stroke="#f5cfb2" stroke-width="7.6"/><path d="M138.2,159.8 Q141.3,170.3 138.2,174.7 Q135.1,179.1 130.1,181.2 Q125.0,183.3 120.2,182.6 Q115.4,182.0 111.6,184.0 L107.8,186.1" stroke="#dc9670" stroke-width="10"/><path d="M138.2,159.8 Q141.3,170.3 138.2,174.7 Q135.1,179.1 130.1,181.2 Q125.0,183.3 120.2,182.6 Q115.4,182.0 111.6,184.0 L107.8,186.1" stroke="#f5cfb2" stroke-width="7.6"/><path d="M208.4,238.8 Q210.6,246.6 210.5,251.5 Q210.4,256.5 207.8,260.3 Q205.3,264.2 205.1,268.3 L205.0,272.4" stroke="#dc9670" stroke-width="10"/><path d="M208.4,238.8 Q210.6,246.6 210.5,251.5 Q210.4,256.5 207.8,260.3 Q205.3,264.2 205.1,268.3 L205.0,272.4" stroke="#f5cfb2" stroke-width="7.6"/><path d="M210.2,171.1 Q215.4,179.6 218.7,182.1 Q221.9,184.6 225.2,185.3 Q228.4,186.1 231.6,184.8 Q234.7,183.5 235.9,180.6 Q237.1,177.8 241.4,175.0 L245.8,172.2" stroke="#dc9670" stroke-width="10"/><path d="M210.2,171.1 Q215.4,179.6 218.7,182.1 Q221.9,184.6 225.2,185.3 Q228.4,186.1 231.6,184.8 Q234.7,183.5 235.9,180.6 Q237.1,177.8 241.4,175.0 L245.8,172.2" stroke="#f5cfb2" stroke-width="7.6"/><path d="M190.4,217.4 Q184.1,224.7 180.0,225.5 Q175.8,226.2 174.2,229.8 Q172.7,233.4 168.8,235.2 Q165.0,237.0 161.5,239.0 Q158.1,241.0 153.7,242.1 L149.3,243.1" stroke="#dc9670" stroke-width="10"/><path d="M190.4,217.4 Q184.1,224.7 180.0,225.5 Q175.8,226.2 174.2,229.8 Q172.7,233.4 168.8,235.2 Q165.0,237.0 161.5,239.0 Q158.1,241.0 153.7,242.1 L149.3,243.1" stroke="#f5cfb2" stroke-width="7.6"/><path d="M287.1,221.8 Q290.4,212.7 291.3,209.5 Q292.1,206.3 296.2,204.4 Q300.2,202.5 303.8,198.8 Q307.3,195.1 310.8,194.1 L314.3,193.1" stroke="#dc9670" stroke-width="10"/><path d="M287.1,221.8 Q290.4,212.7 291.3,209.5 Q292.1,206.3 296.2,204.4 Q300.2,202.5 303.8,198.8 Q307.3,195.1 310.8,194.1 L314.3,193.1" stroke="#f5cfb2" stroke-width="7.6"/><path d="M149.7,206.5 Q157.2,206.4 160.0,204.4 Q162.9,202.3 166.7,199.5 L170.6,196.7" stroke="#dc9670" stroke-width="10"/><path d="M149.7,206.5 Q157.2,206.4 160.0,204.4 Q162.9,202.3 166.7,199.5 L170.6,196.7" stroke="#f5cfb2" stroke-width="7.6"/><path d="M171.2,197.7 Q176.5,206.4 179.6,208.3 Q182.7,210.2 183.6,213.2 Q184.6,216.2 183.4,220.6 Q182.3,224.9 180.8,230.2 L179.2,235.5" stroke="#dc9670" stroke-width="10"/><path d="M171.2,197.7 Q176.5,206.4 179.6,208.3 Q182.7,210.2 183.6,213.2 Q184.6,216.2 183.4,220.6 Q182.3,224.9 180.8,230.2 L179.2,235.5" stroke="#f5cfb2" stroke-width="7.6"/><path d="M174.7,200.1 Q168.8,201.5 166.4,199.1 Q163.9,196.8 160.4,194.6 Q156.9,192.5 153.9,188.8 Q150.8,185.1 148.8,181.5 L146.9,177.9" stroke="#dc9670" stroke-width="10"/><path d="M174.7,200.1 Q168.8,201.5 166.4,199.1 Q163.9,196.8 160.4,194.6 Q156.9,192.5 153.9,188.8 Q150.8,185.1 148.8,181.5 L146.9,177.9" stroke="#f5cfb2" stroke-width="7.6"/><path d="M174.7,220.1 Q185.2,219.6 188.6,221.5 Q192.0,223.4 194.9,222.7 Q197.8,221.9 201.3,218.7 L204.7,215.4" stroke="#dc9670" stroke-width="10"/><path d="M174.7,220.1 Q185.2,219.6 188.6,221.5 Q192.0,223.4 194.9,222.7 Q197.8,221.9 201.3,218.7 L204.7,215.4" stroke="#f5cfb2" stroke-width="7.6"/><path d="M191.0,235.2 Q186.4,243.1 183.0,244.0 Q179.5,245.0 177.7,248.9 Q175.8,252.8 177.4,256.5 L179.0,260.2" stroke="#dc9670" stroke-width="10"/><path d="M191.0,235.2 Q186.4,243.1 183.0,244.0 Q179.5,245.0 177.7,248.9 Q175.8,252.8 177.4,256.5 L179.0,260.2" stroke="#f5cfb2" stroke-width="7.6"/><path d="M303.7,132.4 Q296.9,130.0 294.1,128.3 Q291.4,126.6 286.9,127.0 L282.5,127.4" stroke="#dc9670" stroke-width="10"/><path d="M303.7,132.4 Q296.9,130.0 294.1,128.3 Q291.4,126.6 286.9,127.0 L282.5,127.4" stroke="#f5cfb2" stroke-width="7.6"/><path d="M317.6,175.3 Q310.1,167.5 309.7,162.8 Q309.3,158.1 312.1,155.1 L314.8,152.2" stroke="#dc9670" stroke-width="10"/><path d="M317.6,175.3 Q310.1,167.5 309.7,162.8 Q309.3,158.1 312.1,155.1 L314.8,152.2" stroke="#f5cfb2" stroke-width="7.6"/><path d="M258.8,111.3 Q256.0,121.5 259.3,125.8 Q262.6,130.1 262.8,134.9 Q263.0,139.7 263.0,143.1 Q262.9,146.5 264.4,150.9 Q265.9,155.3 265.9,159.3 L265.8,163.3" stroke="#dc9670" stroke-width="10"/><path d="M258.8,111.3 Q256.0,121.5 259.3,125.8 Q262.6,130.1 262.8,134.9 Q263.0,139.7 263.0,143.1 Q262.9,146.5 264.4,150.9 Q265.9,155.3 265.9,159.3 L265.8,163.3" stroke="#f5cfb2" stroke-width="7.6"/><path d="M313.5,112.2 Q311.4,122.1 314.1,126.1 Q316.8,130.1 320.2,132.2 L323.5,134.3" stroke="#dc9670" stroke-width="10"/><path d="M313.5,112.2 Q311.4,122.1 314.1,126.1 Q316.8,130.1 320.2,132.2 L323.5,134.3" stroke="#f5cfb2" stroke-width="7.6"/><path d="M183.8,196.4 Q190.5,188.6 192.9,184.5 Q195.4,180.5 198.5,177.6 L201.5,174.8" stroke="#dc9670" stroke-width="10"/><path d="M183.8,196.4 Q190.5,188.6 192.9,184.5 Q195.4,180.5 198.5,177.6 L201.5,174.8" stroke="#f5cfb2" stroke-width="7.6"/><path d="M253.8,154.1 Q254.2,163.1 255.1,168.0 Q256.0,172.8 260.1,174.2 Q264.1,175.5 267.4,174.1 Q270.6,172.6 272.8,167.7 Q275.0,162.7 271.9,158.8 L268.9,154.9" stroke="#dc9670" stroke-width="10"/><path d="M253.8,154.1 Q254.2,163.1 255.1,168.0 Q256.0,172.8 260.1,174.2 Q264.1,175.5 267.4,174.1 Q270.6,172.6 272.8,167.7 Q275.0,162.7 271.9,158.8 L268.9,154.9" stroke="#f5cfb2" stroke-width="7.6"/><path d="M325.5,235.1 Q325.0,243.0 326.9,247.1 Q328.8,251.2 327.4,255.7 Q326.0,260.2 325.0,263.9 Q324.0,267.6 319.4,269.8 L314.8,272.1" stroke="#dc9670" stroke-width="10"/><path d="M325.5,235.1 Q325.0,243.0 326.9,247.1 Q328.8,251.2 327.4,255.7 Q326.0,260.2 325.0,263.9 Q324.0,267.6 319.4,269.8 L314.8,272.1" stroke="#f5cfb2" stroke-width="7.6"/><path d="M153.6,196.7 Q159.6,192.6 162.9,194.4 Q166.3,196.3 171.6,197.5 L176.9,198.7" stroke="#dc9670" stroke-width="10"/><path d="M153.6,196.7 Q159.6,192.6 162.9,194.4 Q166.3,196.3 171.6,197.5 L176.9,198.7" stroke="#f5cfb2" stroke-width="7.6"/><path d="M158.8,158.4 Q159.8,151.4 164.4,149.6 Q168.9,147.8 170.8,145.1 Q172.7,142.4 171.2,139.2 Q169.7,136.0 167.5,133.4 L165.2,130.8" stroke="#dc9670" stroke-width="10"/><path d="M158.8,158.4 Q159.8,151.4 164.4,149.6 Q168.9,147.8 170.8,145.1 Q172.7,142.4 171.2,139.2 Q169.7,136.0 167.5,133.4 L165.2,130.8" stroke="#f5cfb2" stroke-width="7.6"/><path d="M276.8,194.9 Q276.0,203.0 274.3,206.3 Q272.7,209.7 274.1,213.4 Q275.4,217.1 278.2,218.4 L280.9,219.6" stroke="#dc9670" stroke-width="10"/><path d="M276.8,194.9 Q276.0,203.0 274.3,206.3 Q272.7,209.7 274.1,213.4 Q275.4,217.1 278.2,218.4 L280.9,219.6" stroke="#f5cfb2" stroke-width="7.6"/><path d="M140.6,166.3 Q134.8,161.3 130.4,161.3 Q125.9,161.2 121.0,159.5 L116.2,157.8" stroke="#dc9670" stroke-width="10"/><path d="M140.6,166.3 Q134.8,161.3 130.4,161.3 Q125.9,161.2 121.0,159.5 L116.2,157.8" stroke="#f5cfb2" stroke-width="7.6"/><path d="M189.1,208.5 Q193.3,204.2 196.0,200.1 Q198.8,195.9 202.9,195.2 L207.0,194.5" stroke="#dc9670" stroke-width="10"/><path d="M189.1,208.5 Q193.3,204.2 196.0,200.1 Q198.8,195.9 202.9,195.2 L207.0,194.5" stroke="#f5cfb2" stroke-width="7.6"/><path d="M339.4,224.0 Q344.5,229.9 343.5,233.6 Q342.5,237.4 339.9,241.7 Q337.3,246.0 337.0,251.0 Q336.8,255.9 340.1,257.9 L343.4,259.8" stroke="#dc9670" stroke-width="10"/><path d="M339.4,224.0 Q344.5,229.9 343.5,233.6 Q342.5,237.4 339.9,241.7 Q337.3,246.0 337.0,251.0 Q336.8,255.9 340.1,257.9 L343.4,259.8" stroke="#f5cfb2" stroke-width="7.6"/><path d="M158.7,151.7 Q164.5,153.7 169.2,153.4 Q173.9,153.2 176.6,151.2 L179.2,149.2" stroke="#dc9670" stroke-width="10"/><path d="M158.7,151.7 Q164.5,153.7 169.2,153.4 Q173.9,153.2 176.6,151.2 L179.2,149.2" stroke="#f5cfb2" stroke-width="7.6"/><path d="M196.7,201.8 Q186.3,204.1 183.4,206.2 Q180.4,208.3 179.2,212.1 Q178.0,215.9 173.8,218.9 L169.6,221.9" stroke="#dc9670" stroke-width="10"/><path d="M196.7,201.8 Q186.3,204.1 183.4,206.2 Q180.4,208.3 179.2,212.1 Q178.0,215.9 173.8,218.9 L169.6,221.9" stroke="#f5cfb2" stroke-width="7.6"/><path d="M300.0,203.5 Q306.0,211.6 306.2,215.1 Q306.3,218.5 302.6,221.1 Q298.9,223.7 294.9,222.6 Q290.9,221.5 286.9,217.9 L283.0,214.4" stroke="#dc9670" stroke-width="10"/><path d="M300.0,203.5 Q306.0,211.6 306.2,215.1 Q306.3,218.5 302.6,221.1 Q298.9,223.7 294.9,222.6 Q290.9,221.5 286.9,217.9 L283.0,214.4" stroke="#f5cfb2" stroke-width="7.6"/><path d="M162.7,202.1 Q153.2,197.5 149.0,199.7 Q144.7,201.8 140.0,204.3 L135.4,206.8" stroke="#dc9670" stroke-width="10"/><path d="M162.7,202.1 Q153.2,197.5 149.0,199.7 Q144.7,201.8 140.0,204.3 L135.4,206.8" stroke="#f5cfb2" stroke-width="7.6"/><path d="M158.7,179.1 Q160.7,184.9 162.9,187.4 Q165.2,189.9 167.2,194.0 L169.1,198.1" stroke="#dc9670" stroke-width="10"/><path d="M158.7,179.1 Q160.7,184.9 162.9,187.4 Q165.2,189.9 167.2,194.0 L169.1,198.1" stroke="#f5cfb2" stroke-width="7.6"/><path d="M133.3,233.4 Q136.8,226.1 141.9,225.8 Q147.1,225.6 150.6,227.9 Q154.2,230.2 158.6,230.4 Q163.0,230.7 168.0,232.7 Q173.1,234.6 178.4,234.2 L183.7,233.9" stroke="#dc9670" stroke-width="10"/><path d="M133.3,233.4 Q136.8,226.1 141.9,225.8 Q147.1,225.6 150.6,227.9 Q154.2,230.2 158.6,230.4 Q163.0,230.7 168.0,232.7 Q173.1,234.6 178.4,234.2 L183.7,233.9" stroke="#f5cfb2" stroke-width="7.6"/><path d="M152.7,229.0 Q152.6,221.0 154.6,217.6 Q156.5,214.2 159.3,209.7 Q162.0,205.2 166.0,201.8 Q170.0,198.4 172.9,195.4 L175.8,192.4" stroke="#dc9670" stroke-width="10"/><path d="M152.7,229.0 Q152.6,221.0 154.6,217.6 Q156.5,214.2 159.3,209.7 Q162.0,205.2 166.0,201.8 Q170.0,198.4 172.9,195.4 L175.8,192.4" stroke="#f5cfb2" stroke-width="7.6"/><path d="M243.8,137.6 Q238.1,130.1 234.1,127.9 Q230.2,125.7 228.0,121.9 Q225.9,118.1 226.1,113.6 Q226.2,109.0 229.3,106.9 L232.3,104.9" stroke="#dc9670" stroke-width="10"/><path d="M243.8,137.6 Q238.1,130.1 234.1,127.9 Q230.2,125.7 228.0,121.9 Q225.9,118.1 226.1,113.6 Q226.2,109.0 229.3,106.9 L232.3,104.9" stroke="#f5cfb2" stroke-width="7.6"/><path d="M281.9,236.9 Q274.6,243.2 273.0,247.8 Q271.4,252.4 270.6,256.6 Q269.9,260.9 271.2,264.3 L272.6,267.7" stroke="#dc9670" stroke-width="10"/><path d="M281.9,236.9 Q274.6,243.2 273.0,247.8 Q271.4,252.4 270.6,256.6 Q269.9,260.9 271.2,264.3 L272.6,267.7" stroke="#f5cfb2" stroke-width="7.6"/><path d="M329.2,191.8 Q329.2,183.0 324.7,179.9 Q320.2,176.7 317.2,177.1 L314.2,177.4" stroke="#dc9670" stroke-width="10"/><path d="M329.2,191.8 Q329.2,183.0 324.7,179.9 Q320.2,176.7 317.2,177.1 L314.2,177.4" stroke="#f5cfb2" stroke-width="7.6"/><path d="M305.8,173.3 Q311.2,165.6 316.3,166.2 Q321.4,166.9 325.9,166.5 Q330.4,166.1 332.8,163.6 L335.3,161.1" stroke="#dc9670" stroke-width="10"/><path d="M305.8,173.3 Q311.2,165.6 316.3,166.2 Q321.4,166.9 325.9,166.5 Q330.4,166.1 332.8,163.6 L335.3,161.1" stroke="#f5cfb2" stroke-width="7.6"/><path d="M291.6,235.7 Q283.3,231.9 281.8,227.9 Q280.3,224.0 279.5,218.8 Q278.7,213.6 275.1,212.0 Q271.6,210.3 267.8,209.7 L264.0,209.0" stroke="#dc9670" stroke-width="10"/><path d="M291.6,235.7 Q283.3,231.9 281.8,227.9 Q280.3,224.0 279.5,218.8 Q278.7,213.6 275.1,212.0 Q271.6,210.3 267.8,209.7 L264.0,209.0" stroke="#f5cfb2" stroke-width="7.6"/><path d="M222.4,112.7 Q224.7,106.6 228.0,102.6 Q231.4,98.5 231.3,94.1 Q231.2,89.6 229.3,85.7 L227.5,81.8" stroke="#dc9670" stroke-width="10"/><path d="M222.4,112.7 Q224.7,106.6 228.0,102.6 Q231.4,98.5 231.3,94.1 Q231.2,89.6 229.3,85.7 L227.5,81.8" stroke="#f5cfb2" stroke-width="7.6"/><path d="M342.2,186.6 Q346.9,193.6 346.1,198.0 Q345.2,202.4 347.2,205.9 L349.2,209.3" stroke="#dc9670" stroke-width="10"/><path d="M342.2,186.6 Q346.9,193.6 346.1,198.0 Q345.2,202.4 347.2,205.9 L349.2,209.3" stroke="#f5cfb2" stroke-width="7.6"/><path d="M318.3,167.6 Q327.6,162.3 330.8,159.1 Q334.1,155.9 334.3,150.9 Q334.6,145.9 333.9,142.7 L333.2,139.5" stroke="#dc9670" stroke-width="10"/><path d="M318.3,167.6 Q327.6,162.3 330.8,159.1 Q334.1,155.9 334.3,150.9 Q334.6,145.9 333.9,142.7 L333.2,139.5" stroke="#f5cfb2" stroke-width="7.6"/><path d="M281.4,192.0 Q278.8,184.8 275.1,183.4 Q271.4,181.9 268.1,179.1 L264.7,176.3" stroke="#dc9670" stroke-width="10"/><path d="M281.4,192.0 Q278.8,184.8 275.1,183.4 Q271.4,181.9 268.1,179.1 L264.7,176.3" stroke="#f5cfb2" stroke-width="7.6"/><path d="M312.1,169.4 Q321.0,165.1 325.0,167.1 Q328.9,169.1 333.0,167.7 Q337.1,166.4 338.8,161.6 Q340.6,156.8 341.6,152.8 Q342.6,148.9 343.2,144.8 L343.8,140.6" stroke="#dc9670" stroke-width="10"/><path d="M312.1,169.4 Q321.0,165.1 325.0,167.1 Q328.9,169.1 333.0,167.7 Q337.1,166.4 338.8,161.6 Q340.6,156.8 341.6,152.8 Q342.6,148.9 343.2,144.8 L343.8,140.6" stroke="#f5cfb2" stroke-width="7.6"/><path d="M187.0,188.4 Q191.9,192.3 193.1,197.0 Q194.2,201.6 197.1,204.6 Q200.0,207.6 204.8,209.1 L209.6,210.6" stroke="#dc9670" stroke-width="10"/><path d="M187.0,188.4 Q191.9,192.3 193.1,197.0 Q194.2,201.6 197.1,204.6 Q200.0,207.6 204.8,209.1 L209.6,210.6" stroke="#f5cfb2" stroke-width="7.6"/><path d="M222.1,210.4 Q227.8,205.2 232.9,206.5 Q238.0,207.7 241.5,206.0 Q245.1,204.3 249.9,205.3 Q254.7,206.2 258.6,205.0 Q262.6,203.9 265.0,206.0 L267.4,208.2" stroke="#dc9670" stroke-width="10"/><path d="M222.1,210.4 Q227.8,205.2 232.9,206.5 Q238.0,207.7 241.5,206.0 Q245.1,204.3 249.9,205.3 Q254.7,206.2 258.6,205.0 Q262.6,203.9 265.0,206.0 L267.4,208.2" stroke="#f5cfb2" stroke-width="7.6"/><path d="M184.9,194.7 Q190.6,186.2 192.2,182.6 Q193.8,179.0 195.3,176.1 Q196.8,173.3 200.1,172.2 Q203.3,171.1 206.4,171.8 Q209.5,172.6 213.5,172.4 L217.6,172.1" stroke="#dc9670" stroke-width="10"/><path d="M184.9,194.7 Q190.6,186.2 192.2,182.6 Q193.8,179.0 195.3,176.1 Q196.8,173.3 200.1,172.2 Q203.3,171.1 206.4,171.8 Q209.5,172.6 213.5,172.4 L217.6,172.1" stroke="#f5cfb2" stroke-width="7.6"/><path d="M251.9,232.8 Q242.4,230.3 238.1,232.8 Q233.8,235.3 229.8,238.9 L225.8,242.6" stroke="#dc9670" stroke-width="10"/><path d="M251.9,232.8 Q242.4,230.3 238.1,232.8 Q233.8,235.3 229.8,238.9 L225.8,242.6" stroke="#f5cfb2" stroke-width="7.6"/><path d="M353.0,171.6 Q348.6,180.7 351.3,184.5 Q354.0,188.2 357.6,189.4 Q361.3,190.5 366.0,190.9 L370.7,191.3" stroke="#dc9670" stroke-width="10"/><path d="M353.0,171.6 Q348.6,180.7 351.3,184.5 Q354.0,188.2 357.6,189.4 Q361.3,190.5 366.0,190.9 L370.7,191.3" stroke="#f5cfb2" stroke-width="7.6"/><path d="M166.2,119.9 Q155.7,118.9 152.8,115.0 Q149.8,111.0 145.0,111.5 L140.1,111.9" stroke="#dc9670" stroke-width="10"/><path d="M166.2,119.9 Q155.7,118.9 152.8,115.0 Q149.8,111.0 145.0,111.5 L140.1,111.9" stroke="#f5cfb2" stroke-width="7.6"/><path d="M325.6,228.9 Q325.2,221.0 324.8,216.4 Q324.4,211.8 320.4,210.0 Q316.5,208.2 311.5,210.2 Q306.4,212.2 302.1,213.4 Q297.8,214.6 294.1,217.6 L290.4,220.6" stroke="#dc9670" stroke-width="10"/><path d="M325.6,228.9 Q325.2,221.0 324.8,216.4 Q324.4,211.8 320.4,210.0 Q316.5,208.2 311.5,210.2 Q306.4,212.2 302.1,213.4 Q297.8,214.6 294.1,217.6 L290.4,220.6" stroke="#f5cfb2" stroke-width="7.6"/><path d="M291.2,227.9 Q287.8,219.1 284.9,216.7 Q281.9,214.3 278.8,214.4 Q275.7,214.4 272.8,210.1 Q270.0,205.7 267.9,201.1 L265.8,196.4" stroke="#dc9670" stroke-width="10"/><path d="M291.2,227.9 Q287.8,219.1 284.9,216.7 Q281.9,214.3 278.8,214.4 Q275.7,214.4 272.8,210.1 Q270.0,205.7 267.9,201.1 L265.8,196.4" stroke="#f5cfb2" stroke-width="7.6"/><path d="M242.8,126.8 Q240.7,116.1 237.5,112.6 Q234.4,109.1 233.8,104.1 Q233.3,99.2 231.5,95.4 L229.6,91.6" stroke="#dc9670" stroke-width="10"/><path d="M242.8,126.8 Q240.7,116.1 237.5,112.6 Q234.4,109.1 233.8,104.1 Q233.3,99.2 231.5,95.4 L229.6,91.6" stroke="#f5cfb2" stroke-width="7.6"/><path d="M309.3,138.9 Q301.9,144.5 300.9,147.8 Q299.9,151.0 298.8,155.5 Q297.7,160.0 294.8,164.6 Q292.0,169.1 292.8,173.4 L293.6,177.6" stroke="#dc9670" stroke-width="10"/><path d="M309.3,138.9 Q301.9,144.5 300.9,147.8 Q299.9,151.0 298.8,155.5 Q297.7,160.0 294.8,164.6 Q292.0,169.1 292.8,173.4 L293.6,177.6" stroke="#f5cfb2" stroke-width="7.6"/><path d="M235.1,139.9 Q238.6,130.4 236.3,125.6 Q234.1,120.9 232.9,116.8 Q231.8,112.8 231.9,107.7 L232.0,102.7" stroke="#dc9670" stroke-width="10"/><path d="M235.1,139.9 Q238.6,130.4 236.3,125.6 Q234.1,120.9 232.9,116.8 Q231.8,112.8 231.9,107.7 L232.0,102.7" stroke="#f5cfb2" stroke-width="7.6"/><path d="M167.3,154.4 Q162.2,150.2 158.5,148.7 Q154.7,147.3 153.9,143.6 L153.1,140.0" stroke="#dc9670" stroke-width="10"/><path d="M167.3,154.4 Q162.2,150.2 158.5,148.7 Q154.7,147.3 153.9,143.6 L153.1,140.0" stroke="#f5cfb2" stroke-width="7.6"/><path d="M212.1,133.0 Q222.0,129.8 224.7,131.3 Q227.4,132.8 228.9,136.0 Q230.4,139.3 234.0,141.8 L237.6,144.2" stroke="#dc9670" stroke-width="10"/><path d="M212.1,133.0 Q222.0,129.8 224.7,131.3 Q227.4,132.8 228.9,136.0 Q230.4,139.3 234.0,141.8 L237.6,144.2" stroke="#f5cfb2" stroke-width="7.6"/><path d="M322.7,134.8 Q316.7,135.6 312.3,135.2 Q307.8,134.8 305.4,132.5 Q302.9,130.2 301.1,126.4 Q299.4,122.7 297.5,118.0 L295.6,113.3" stroke="#dc9670" stroke-width="10"/><path d="M322.7,134.8 Q316.7,135.6 312.3,135.2 Q307.8,134.8 305.4,132.5 Q302.9,130.2 301.1,126.4 Q299.4,122.7 297.5,118.0 L295.6,113.3" stroke="#f5cfb2" stroke-width="7.6"/><path d="M244.6,163.8 Q238.6,154.7 236.7,151.3 Q234.9,147.9 230.6,146.9 Q226.4,145.8 222.7,144.9 L219.0,144.0" stroke="#dc9670" stroke-width="10"/><path d="M244.6,163.8 Q238.6,154.7 236.7,151.3 Q234.9,147.9 230.6,146.9 Q226.4,145.8 222.7,144.9 L219.0,144.0" stroke="#f5cfb2" stroke-width="7.6"/><path d="M222.1,121.8 Q225.2,114.0 227.4,111.7 Q229.5,109.4 231.4,105.0 Q233.2,100.5 233.4,97.1 Q233.5,93.7 235.6,90.1 L237.6,86.5" stroke="#dc9670" stroke-width="10"/><path d="M222.1,121.8 Q225.2,114.0 227.4,111.7 Q229.5,109.4 231.4,105.0 Q233.2,100.5 233.4,97.1 Q233.5,93.7 235.6,90.1 L237.6,86.5" stroke="#f5cfb2" stroke-width="7.6"/><path d="M287.6,170.4 Q297.6,169.0 301.5,170.5 Q305.5,172.0 308.8,174.2 Q312.0,176.4 316.9,174.7 L321.9,172.9" stroke="#dc9670" stroke-width="10"/><path d="M287.6,170.4 Q297.6,169.0 301.5,170.5 Q305.5,172.0 308.8,174.2 Q312.0,176.4 316.9,174.7 L321.9,172.9" stroke="#f5cfb2" stroke-width="7.6"/><path d="M315.0,208.5 Q318.2,201.7 317.3,198.0 Q316.4,194.3 316.5,190.7 Q316.6,187.2 313.5,185.0 Q310.3,182.8 306.1,182.1 Q301.8,181.3 297.3,182.3 L292.8,183.3" stroke="#dc9670" stroke-width="10"/><path d="M315.0,208.5 Q318.2,201.7 317.3,198.0 Q316.4,194.3 316.5,190.7 Q316.6,187.2 313.5,185.0 Q310.3,182.8 306.1,182.1 Q301.8,181.3 297.3,182.3 L292.8,183.3" stroke="#f5cfb2" stroke-width="7.6"/><path d="M160.3,207.2 Q160.1,217.1 163.2,220.7 Q166.4,224.3 169.9,224.1 Q173.4,223.8 178.4,225.6 Q183.3,227.4 187.1,224.9 Q190.9,222.4 194.0,219.1 L197.1,215.7" stroke="#dc9670" stroke-width="10"/><path d="M160.3,207.2 Q160.1,217.1 163.2,220.7 Q166.4,224.3 169.9,224.1 Q173.4,223.8 178.4,225.6 Q183.3,227.4 187.1,224.9 Q190.9,222.4 194.0,219.1 L197.1,215.7" stroke="#f5cfb2" stroke-width="7.6"/><path d="M136.9,107.3 Q142.8,109.0 146.7,110.0 Q150.7,111.1 153.7,112.5 Q156.7,114.0 158.8,116.1 Q161.0,118.2 165.7,117.3 Q170.5,116.4 173.6,117.4 L176.8,118.5" stroke="#dc9670" stroke-width="10"/><path d="M136.9,107.3 Q142.8,109.0 146.7,110.0 Q150.7,111.1 153.7,112.5 Q156.7,114.0 158.8,116.1 Q161.0,118.2 165.7,117.3 Q170.5,116.4 173.6,117.4 L176.8,118.5" stroke="#f5cfb2" stroke-width="7.6"/><path d="M166.1,209.9 Q170.7,203.3 173.5,201.8 Q176.3,200.3 181.0,199.0 L185.7,197.6" stroke="#dc9670" stroke-width="10"/><path d="M166.1,209.9 Q170.7,203.3 173.5,201.8 Q176.3,200.3 181.0,199.0 L185.7,197.6" stroke="#f5cfb2" stroke-width="7.6"/><path d="M249.6,161.9 Q259.1,156.5 260.3,151.4 Q261.5,146.4 263.7,142.8 L265.8,139.2" stroke="#dc9670" stroke-width="10"/><path d="M249.6,161.9 Q259.1,156.5 260.3,151.4 Q261.5,146.4 263.7,142.8 L265.8,139.2" stroke="#f5cfb2" stroke-width="7.6"/><path d="M137.0,192.3 Q137.7,183.2 141.5,180.7 Q145.2,178.2 145.1,174.6 Q144.9,171.1 142.8,167.6 Q140.6,164.2 135.5,163.5 L130.3,162.9" stroke="#dc9670" stroke-width="10"/><path d="M137.0,192.3 Q137.7,183.2 141.5,180.7 Q145.2,178.2 145.1,174.6 Q144.9,171.1 142.8,167.6 Q140.6,164.2 135.5,163.5 L130.3,162.9" stroke="#f5cfb2" stroke-width="7.6"/><path d="M120.2,238.6 Q125.2,247.8 125.5,251.1 Q125.8,254.5 127.3,257.4 Q128.9,260.3 131.1,262.8 Q133.4,265.3 136.7,264.9 Q140.0,264.5 142.9,261.5 L145.7,258.4" stroke="#dc9670" stroke-width="10"/><path d="M120.2,238.6 Q125.2,247.8 125.5,251.1 Q125.8,254.5 127.3,257.4 Q128.9,260.3 131.1,262.8 Q133.4,265.3 136.7,264.9 Q140.0,264.5 142.9,261.5 L145.7,258.4" stroke="#f5cfb2" stroke-width="7.6"/><path d="M274.1,213.4 Q265.3,213.9 261.7,218.0 Q258.0,222.1 256.4,225.8 Q254.7,229.5 254.9,233.5 Q255.1,237.4 257.8,241.8 L260.4,246.2" stroke="#dc9670" stroke-width="10"/><path d="M274.1,213.4 Q265.3,213.9 261.7,218.0 Q258.0,222.1 256.4,225.8 Q254.7,229.5 254.9,233.5 Q255.1,237.4 257.8,241.8 L260.4,246.2" stroke="#f5cfb2" stroke-width="7.6"/><path d="M135.5,154.2 Q135.4,147.3 133.1,142.8 Q130.7,138.3 125.9,136.3 Q121.0,134.4 116.9,136.1 Q112.7,137.7 111.9,142.9 Q111.2,148.0 108.6,150.6 L106.0,153.2" stroke="#dc9670" stroke-width="10"/><path d="M135.5,154.2 Q135.4,147.3 133.1,142.8 Q130.7,138.3 125.9,136.3 Q121.0,134.4 116.9,136.1 Q112.7,137.7 111.9,142.9 Q111.2,148.0 108.6,150.6 L106.0,153.2" stroke="#f5cfb2" stroke-width="7.6"/><path d="M213.1,156.9 Q204.1,152.7 203.8,149.1 Q203.6,145.6 206.9,143.1 Q210.2,140.7 212.7,137.4 L215.2,134.1" stroke="#dc9670" stroke-width="10"/><path d="M213.1,156.9 Q204.1,152.7 203.8,149.1 Q203.6,145.6 206.9,143.1 Q210.2,140.7 212.7,137.4 L215.2,134.1" stroke="#f5cfb2" stroke-width="7.6"/><path d="M342.8,233.8 Q347.0,227.8 346.7,223.2 Q346.4,218.6 343.5,216.5 Q340.6,214.4 337.9,210.8 Q335.2,207.1 337.0,202.1 L338.7,197.2" stroke="#dc9670" stroke-width="10"/><path d="M342.8,233.8 Q347.0,227.8 346.7,223.2 Q346.4,218.6 343.5,216.5 Q340.6,214.4 337.9,210.8 Q335.2,207.1 337.0,202.1 L338.7,197.2" stroke="#f5cfb2" stroke-width="7.6"/><path d="M302.8,179.4 Q295.7,181.8 291.8,178.7 Q287.9,175.5 283.5,177.5 L279.1,179.5" stroke="#dc9670" stroke-width="10"/><path d="M302.8,179.4 Q295.7,181.8 291.8,178.7 Q287.9,175.5 283.5,177.5 L279.1,179.5" stroke="#f5cfb2" stroke-width="7.6"/><path d="M271.1,220.8 Q261.1,225.2 257.3,223.1 Q253.6,221.0 252.4,216.1 Q251.2,211.2 247.3,208.2 L243.3,205.1" stroke="#dc9670" stroke-width="10"/><path d="M271.1,220.8 Q261.1,225.2 257.3,223.1 Q253.6,221.0 252.4,216.1 Q251.2,211.2 247.3,208.2 L243.3,205.1" stroke="#f5cfb2" stroke-width="7.6"/><path d="M185.1,228.3 Q195.9,229.2 200.6,228.3 Q205.4,227.3 210.5,227.1 Q215.6,226.8 218.7,226.6 L221.8,226.3" stroke="#dc9670" stroke-width="10"/><path d="M185.1,228.3 Q195.9,229.2 200.6,228.3 Q205.4,227.3 210.5,227.1 Q215.6,226.8 218.7,226.6 L221.8,226.3" stroke="#f5cfb2" stroke-width="7.6"/><path d="M254.1,219.9 Q248.0,224.8 246.0,227.8 Q244.1,230.8 241.1,235.3 L238.1,239.8" stroke="#dc9670" stroke-width="10"/><path d="M254.1,219.9 Q248.0,224.8 246.0,227.8 Q244.1,230.8 241.1,235.3 L238.1,239.8" stroke="#f5cfb2" stroke-width="7.6"/><path d="M262.1,208.6 Q268.3,209.3 272.3,211.0 Q276.3,212.7 277.0,215.7 Q277.7,218.6 276.4,221.8 Q275.0,225.0 272.2,227.5 L269.5,229.9" stroke="#dc9670" stroke-width="10"/><path d="M262.1,208.6 Q268.3,209.3 272.3,211.0 Q276.3,212.7 277.0,215.7 Q277.7,218.6 276.4,221.8 Q275.0,225.0 272.2,227.5 L269.5,229.9" stroke="#f5cfb2" stroke-width="7.6"/><path d="M264.7,204.8 Q273.2,206.6 277.1,205.9 Q281.1,205.2 285.0,204.6 Q288.8,204.1 293.5,204.5 L298.2,204.9" stroke="#dc9670" stroke-width="10"/><path d="M264.7,204.8 Q273.2,206.6 277.1,205.9 Q281.1,205.2 285.0,204.6 Q288.8,204.1 293.5,204.5 L298.2,204.9" stroke="#f5cfb2" stroke-width="7.6"/><path d="M333.6,160.9 Q334.3,168.5 338.2,170.4 Q342.0,172.3 345.5,173.6 Q348.9,175.0 352.0,174.3 Q355.1,173.6 356.1,170.4 L357.0,167.2" stroke="#dc9670" stroke-width="10"/><path d="M333.6,160.9 Q334.3,168.5 338.2,170.4 Q342.0,172.3 345.5,173.6 Q348.9,175.0 352.0,174.3 Q355.1,173.6 356.1,170.4 L357.0,167.2" stroke="#f5cfb2" stroke-width="7.6"/><path d="M357.7,109.5 Q359.1,98.8 362.6,96.8 Q366.0,94.8 369.9,91.5 Q373.7,88.2 378.5,86.6 Q383.3,84.9 385.7,80.1 Q388.0,75.3 386.7,72.1 L385.3,68.8" stroke="#dc9670" stroke-width="10"/><path d="M357.7,109.5 Q359.1,98.8 362.6,96.8 Q366.0,94.8 369.9,91.5 Q373.7,88.2 378.5,86.6 Q383.3,84.9 385.7,80.1 Q388.0,75.3 386.7,72.1 L385.3,68.8" stroke="#f5cfb2" stroke-width="7.6"/><path d="M346.1,218.7 Q339.6,215.8 335.4,218.0 Q331.2,220.3 327.3,223.3 Q323.5,226.2 320.2,230.4 Q316.8,234.6 316.3,238.9 Q315.9,243.1 316.2,248.1 L316.5,253.1" stroke="#dc9670" stroke-width="10"/><path d="M346.1,218.7 Q339.6,215.8 335.4,218.0 Q331.2,220.3 327.3,223.3 Q323.5,226.2 320.2,230.4 Q316.8,234.6 316.3,238.9 Q315.9,243.1 316.2,248.1 L316.5,253.1" stroke="#f5cfb2" stroke-width="7.6"/><path d="M149.9,178.7 Q148.6,185.3 145.6,186.7 Q142.6,188.1 137.8,190.4 Q133.0,192.7 132.0,197.1 L131.0,201.5" stroke="#dc9670" stroke-width="10"/><path d="M149.9,178.7 Q148.6,185.3 145.6,186.7 Q142.6,188.1 137.8,190.4 Q133.0,192.7 132.0,197.1 L131.0,201.5" stroke="#f5cfb2" stroke-width="7.6"/><path d="M129.6,165.4 Q125.1,170.2 122.3,172.1 Q119.4,173.9 119.0,178.2 Q118.5,182.5 120.1,186.9 L121.6,191.2" stroke="#dc9670" stroke-width="10"/><path d="M129.6,165.4 Q125.1,170.2 122.3,172.1 Q119.4,173.9 119.0,178.2 Q118.5,182.5 120.1,186.9 L121.6,191.2" stroke="#f5cfb2" stroke-width="7.6"/><path d="M246.5,136.0 Q254.3,133.4 258.8,131.7 Q263.3,130.1 267.3,128.4 L271.4,126.7" stroke="#dc9670" stroke-width="10"/><path d="M246.5,136.0 Q254.3,133.4 258.8,131.7 Q263.3,130.1 267.3,128.4 L271.4,126.7" stroke="#f5cfb2" stroke-width="7.6"/><path d="M283.0,192.9 Q283.4,182.4 285.0,178.9 Q286.5,175.4 288.8,172.3 Q291.1,169.2 295.3,168.1 Q299.6,167.0 304.0,169.8 L308.4,172.6" stroke="#dc9670" stroke-width="10"/><path d="M283.0,192.9 Q283.4,182.4 285.0,178.9 Q286.5,175.4 288.8,172.3 Q291.1,169.2 295.3,168.1 Q299.6,167.0 304.0,169.8 L308.4,172.6" stroke="#f5cfb2" stroke-width="7.6"/><path d="M302.1,132.4 Q294.9,134.8 291.2,136.9 Q287.5,139.1 284.6,140.4 L281.6,141.8" stroke="#dc9670" stroke-width="10"/><path d="M302.1,132.4 Q294.9,134.8 291.2,136.9 Q287.5,139.1 284.6,140.4 L281.6,141.8" stroke="#f5cfb2" stroke-width="7.6"/><path d="M254.5,157.5 Q260.6,152.5 265.0,152.5 Q269.5,152.4 272.1,150.1 Q274.7,147.9 277.4,143.8 Q280.1,139.8 281.2,136.8 L282.3,133.8" stroke="#dc9670" stroke-width="10"/><path d="M254.5,157.5 Q260.6,152.5 265.0,152.5 Q269.5,152.4 272.1,150.1 Q274.7,147.9 277.4,143.8 Q280.1,139.8 281.2,136.8 L282.3,133.8" stroke="#f5cfb2" stroke-width="7.6"/><path d="M270.6,151.4 Q268.1,157.2 269.8,161.1 Q271.6,165.1 276.9,166.4 Q282.2,167.8 285.7,167.9 Q289.3,167.9 292.0,172.1 Q294.7,176.2 299.3,178.2 L303.9,180.3" stroke="#dc9670" stroke-width="10"/><path d="M270.6,151.4 Q268.1,157.2 269.8,161.1 Q271.6,165.1 276.9,166.4 Q282.2,167.8 285.7,167.9 Q289.3,167.9 292.0,172.1 Q294.7,176.2 299.3,178.2 L303.9,180.3" stroke="#f5cfb2" stroke-width="7.6"/><path d="M320.0,112.3 Q327.0,114.1 331.6,112.9 Q336.2,111.8 339.1,109.9 Q342.0,108.1 347.2,107.3 Q352.4,106.5 354.4,104.1 L356.4,101.7" stroke="#dc9670" stroke-width="10"/><path d="M320.0,112.3 Q327.0,114.1 331.6,112.9 Q336.2,111.8 339.1,109.9 Q342.0,108.1 347.2,107.3 Q352.4,106.5 354.4,104.1 L356.4,101.7" stroke="#f5cfb2" stroke-width="7.6"/><path d="M217.4,231.2 Q223.4,233.1 227.6,236.3 Q231.9,239.5 237.3,238.7 Q242.7,237.8 246.6,235.0 L250.6,232.2" stroke="#dc9670" stroke-width="10"/><path d="M217.4,231.2 Q223.4,233.1 227.6,236.3 Q231.9,239.5 237.3,238.7 Q242.7,237.8 246.6,235.0 L250.6,232.2" stroke="#f5cfb2" stroke-width="7.6"/><path d="M239.5,135.5 Q232.9,131.1 231.5,126.9 Q230.1,122.7 226.4,120.4 Q222.8,118.0 223.2,113.0 L223.6,108.0" stroke="#dc9670" stroke-width="10"/><path d="M239.5,135.5 Q232.9,131.1 231.5,126.9 Q230.1,122.7 226.4,120.4 Q222.8,118.0 223.2,113.0 L223.6,108.0" stroke="#f5cfb2" stroke-width="7.6"/><path d="M352.9,108.2 Q359.5,103.4 363.7,99.9 Q367.8,96.4 368.5,91.6 L369.2,86.7" stroke="#dc9670" stroke-width="10"/><path d="M352.9,108.2 Q359.5,103.4 363.7,99.9 Q367.8,96.4 368.5,91.6 L369.2,86.7" stroke="#f5cfb2" stroke-width="7.6"/><path d="M267.7,106.7 Q266.2,116.3 262.5,118.5 Q258.9,120.6 254.5,123.6 Q250.2,126.6 247.0,127.6 Q243.8,128.6 239.6,128.8 Q235.4,128.9 230.8,128.2 L226.2,127.5" stroke="#dc9670" stroke-width="10"/><path d="M267.7,106.7 Q266.2,116.3 262.5,118.5 Q258.9,120.6 254.5,123.6 Q250.2,126.6 247.0,127.6 Q243.8,128.6 239.6,128.8 Q235.4,128.9 230.8,128.2 L226.2,127.5" stroke="#f5cfb2" stroke-width="7.6"/><path d="M144.9,112.0 Q153.8,110.4 155.5,107.8 Q157.3,105.1 160.8,101.1 Q164.2,97.0 165.2,92.0 Q166.2,87.1 171.3,85.2 L176.3,83.3" stroke="#dc9670" stroke-width="10"/><path d="M144.9,112.0 Q153.8,110.4 155.5,107.8 Q157.3,105.1 160.8,101.1 Q164.2,97.0 165.2,92.0 Q166.2,87.1 171.3,85.2 L176.3,83.3" stroke="#f5cfb2" stroke-width="7.6"/><path d="M137.8,123.1 Q145.6,130.6 149.8,132.2 Q153.9,133.8 155.3,138.2 Q156.6,142.6 155.3,145.5 L154.1,148.4" stroke="#dc9670" stroke-width="10"/><path d="M137.8,123.1 Q145.6,130.6 149.8,132.2 Q153.9,133.8 155.3,138.2 Q156.6,142.6 155.3,145.5 L154.1,148.4" stroke="#f5cfb2" stroke-width="7.6"/><path d="M266.1,107.3 Q260.5,100.3 259.5,97.1 Q258.6,93.9 261.1,90.7 L263.6,87.5" stroke="#dc9670" stroke-width="10"/><path d="M266.1,107.3 Q260.5,100.3 259.5,97.1 Q258.6,93.9 261.1,90.7 L263.6,87.5" stroke="#f5cfb2" stroke-width="7.6"/><path d="M243.6,220.1 Q252.9,222.8 256.4,226.8 Q259.9,230.8 259.9,234.1 Q259.9,237.3 262.4,240.2 Q265.0,243.1 263.8,246.3 L262.6,249.6" stroke="#dc9670" stroke-width="10"/><path d="M243.6,220.1 Q252.9,222.8 256.4,226.8 Q259.9,230.8 259.9,234.1 Q259.9,237.3 262.4,240.2 Q265.0,243.1 263.8,246.3 L262.6,249.6" stroke="#f5cfb2" stroke-width="7.6"/><path d="M343.6,153.7 Q344.8,161.5 348.1,163.8 Q351.4,166.1 352.3,169.9 Q353.1,173.6 350.4,176.4 Q347.6,179.2 344.3,182.9 Q341.0,186.6 335.9,186.2 L330.8,185.9" stroke="#dc9670" stroke-width="10"/><path d="M343.6,153.7 Q344.8,161.5 348.1,163.8 Q351.4,166.1 352.3,169.9 Q353.1,173.6 350.4,176.4 Q347.6,179.2 344.3,182.9 Q341.0,186.6 335.9,186.2 L330.8,185.9" stroke="#f5cfb2" stroke-width="7.6"/><path d="M221.0,165.9 Q228.1,165.0 232.7,167.5 Q237.3,170.0 239.7,172.7 Q242.1,175.3 242.7,180.5 L243.2,185.7" stroke="#dc9670" stroke-width="10"/><path d="M221.0,165.9 Q228.1,165.0 232.7,167.5 Q237.3,170.0 239.7,172.7 Q242.1,175.3 242.7,180.5 L243.2,185.7" stroke="#f5cfb2" stroke-width="7.6"/><path d="M174.4,205.4 Q168.1,202.1 166.6,199.1 Q165.1,196.0 164.4,192.0 L163.8,188.0" stroke="#dc9670" stroke-width="10"/><path d="M174.4,205.4 Q168.1,202.1 166.6,199.1 Q165.1,196.0 164.4,192.0 L163.8,188.0" stroke="#f5cfb2" stroke-width="7.6"/><path d="M213.0,223.2 Q207.4,226.5 204.1,230.7 Q200.7,234.9 200.0,239.3 Q199.3,243.8 201.6,248.0 L204.0,252.2" stroke="#dc9670" stroke-width="10"/><path d="M213.0,223.2 Q207.4,226.5 204.1,230.7 Q200.7,234.9 200.0,239.3 Q199.3,243.8 201.6,248.0 L204.0,252.2" stroke="#f5cfb2" stroke-width="7.6"/><path d="M285.8,225.1 Q285.3,218.6 289.3,215.6 Q293.4,212.5 296.7,213.5 L300.0,214.4" stroke="#dc9670" stroke-width="10"/><path d="M285.8,225.1 Q285.3,218.6 289.3,215.6 Q293.4,212.5 296.7,213.5 L300.0,214.4" stroke="#f5cfb2" stroke-width="7.6"/><path d="M303.6,160.2 Q309.7,163.8 310.9,168.4 Q312.1,173.1 315.6,175.3 L319.1,177.5" stroke="#dc9670" stroke-width="10"/><path d="M303.6,160.2 Q309.7,163.8 310.9,168.4 Q312.1,173.1 315.6,175.3 L319.1,177.5" stroke="#f5cfb2" stroke-width="7.6"/><path d="M325.6,182.9 Q335.1,183.8 337.8,187.3 Q340.6,190.8 339.2,194.9 Q337.9,199.1 341.1,202.4 Q344.3,205.8 344.4,211.1 L344.6,216.4" stroke="#dc9670" stroke-width="10"/><path d="M325.6,182.9 Q335.1,183.8 337.8,187.3 Q340.6,190.8 339.2,194.9 Q337.9,199.1 341.1,202.4 Q344.3,205.8 344.4,211.1 L344.6,216.4" stroke="#f5cfb2" stroke-width="7.6"/><path d="M302.3,232.2 Q305.1,223.8 308.2,222.8 Q311.2,221.7 315.9,222.6 Q320.6,223.4 323.2,227.6 Q325.9,231.7 325.6,236.1 Q325.4,240.4 325.8,244.3 L326.1,248.1" stroke="#dc9670" stroke-width="10"/><path d="M302.3,232.2 Q305.1,223.8 308.2,222.8 Q311.2,221.7 315.9,222.6 Q320.6,223.4 323.2,227.6 Q325.9,231.7 325.6,236.1 Q325.4,240.4 325.8,244.3 L326.1,248.1" stroke="#f5cfb2" stroke-width="7.6"/><path d="M182.7,200.9 Q172.2,197.9 168.7,194.4 Q165.3,191.0 162.0,187.4 Q158.7,183.9 158.1,178.6 L157.6,173.4" stroke="#dc9670" stroke-width="10"/><path d="M182.7,200.9 Q172.2,197.9 168.7,194.4 Q165.3,191.0 162.0,187.4 Q158.7,183.9 158.1,178.6 L157.6,173.4" stroke="#f5cfb2" stroke-width="7.6"/><path d="M215.3,184.2 Q216.7,191.4 219.1,195.2 Q221.5,199.1 223.4,202.2 L225.4,205.4" stroke="#dc9670" stroke-width="10"/><path d="M215.3,184.2 Q216.7,191.4 219.1,195.2 Q221.5,199.1 223.4,202.2 L225.4,205.4" stroke="#f5cfb2" stroke-width="7.6"/><path d="M158.9,204.7 Q163.5,210.7 168.9,210.7 Q174.4,210.7 178.9,210.9 Q183.4,211.1 188.5,211.5 L193.7,212.0" stroke="#dc9670" stroke-width="10"/><path d="M158.9,204.7 Q163.5,210.7 168.9,210.7 Q174.4,210.7 178.9,210.9 Q183.4,211.1 188.5,211.5 L193.7,212.0" stroke="#f5cfb2" stroke-width="7.6"/><path d="M154.7,147.9 Q161.2,140.2 163.3,137.0 Q165.4,133.9 170.1,131.1 Q174.9,128.3 178.2,130.1 Q181.5,131.9 185.1,133.6 L188.6,135.4" stroke="#dc9670" stroke-width="10"/><path d="M154.7,147.9 Q161.2,140.2 163.3,137.0 Q165.4,133.9 170.1,131.1 Q174.9,128.3 178.2,130.1 Q181.5,131.9 185.1,133.6 L188.6,135.4" stroke="#f5cfb2" stroke-width="7.6"/><path d="M152.7,178.7 Q156.6,184.4 158.3,187.3 Q160.0,190.2 162.5,192.0 Q165.0,193.7 169.2,196.3 Q173.4,198.9 177.0,202.7 Q180.6,206.4 185.4,205.8 L190.3,205.1" stroke="#dc9670" stroke-width="10"/><path d="M152.7,178.7 Q156.6,184.4 158.3,187.3 Q160.0,190.2 162.5,192.0 Q165.0,193.7 169.2,196.3 Q173.4,198.9 177.0,202.7 Q180.6,206.4 185.4,205.8 L190.3,205.1" stroke="#f5cfb2" stroke-width="7.6"/><path d="M229.2,176.1 Q237.2,181.7 240.4,181.7 Q243.6,181.6 248.2,180.3 Q252.9,178.9 256.9,178.9 Q260.9,178.9 263.2,176.4 L265.6,173.9" stroke="#dc9670" stroke-width="10"/><path d="M229.2,176.1 Q237.2,181.7 240.4,181.7 Q243.6,181.6 248.2,180.3 Q252.9,178.9 256.9,178.9 Q260.9,178.9 263.2,176.4 L265.6,173.9" stroke="#f5cfb2" stroke-width="7.6"/><path d="M264.5,171.7 Q255.1,167.4 254.2,163.2 Q253.3,159.0 251.1,155.4 Q249.0,151.7 246.0,150.0 Q242.9,148.4 240.6,145.0 Q238.4,141.6 234.4,141.9 L230.4,142.2" stroke="#dc9670" stroke-width="10"/><path d="M264.5,171.7 Q255.1,167.4 254.2,163.2 Q253.3,159.0 251.1,155.4 Q249.0,151.7 246.0,150.0 Q242.9,148.4 240.6,145.0 Q238.4,141.6 234.4,141.9 L230.4,142.2" stroke="#f5cfb2" stroke-width="7.6"/><path d="M196.4,113.2 Q203.4,120.6 205.3,123.6 Q207.1,126.7 208.0,130.3 Q208.9,133.8 211.7,136.4 L214.5,139.0" stroke="#dc9670" stroke-width="10"/><path d="M196.4,113.2 Q203.4,120.6 205.3,123.6 Q207.1,126.7 208.0,130.3 Q208.9,133.8 211.7,136.4 L214.5,139.0" stroke="#f5cfb2" stroke-width="7.6"/><path d="M151.0,120.0 Q159.7,117.2 164.7,118.1 Q169.8,119.1 174.7,119.0 L179.6,118.9" stroke="#dc9670" stroke-width="10"/><path d="M151.0,120.0 Q159.7,117.2 164.7,118.1 Q169.8,119.1 174.7,119.0 L179.6,118.9" stroke="#f5cfb2" stroke-width="7.6"/><path d="M305.1,220.5 Q303.8,213.2 303.9,210.0 Q303.9,206.8 301.7,201.9 L299.5,197.0" stroke="#dc9670" stroke-width="10"/><path d="M305.1,220.5 Q303.8,213.2 303.9,210.0 Q303.9,206.8 301.7,201.9 L299.5,197.0" stroke="#f5cfb2" stroke-width="7.6"/><path d="M204.2,208.0 Q197.8,209.5 195.5,211.6 Q193.1,213.7 190.6,216.1 L188.1,218.6" stroke="#dc9670" stroke-width="10"/><path d="M204.2,208.0 Q197.8,209.5 195.5,211.6 Q193.1,213.7 190.6,216.1 L188.1,218.6" stroke="#f5cfb2" stroke-width="7.6"/><path d="M240.8,215.6 Q247.1,209.2 247.9,205.3 Q248.7,201.4 251.2,198.7 L253.7,195.9" stroke="#dc9670" stroke-width="10"/><path d="M240.8,215.6 Q247.1,209.2 247.9,205.3 Q248.7,201.4 251.2,198.7 L253.7,195.9" stroke="#f5cfb2" stroke-width="7.6"/><path d="M319.5,130.6 Q312.3,129.0 308.7,129.3 Q305.0,129.6 301.5,127.8 Q298.0,126.0 296.4,121.5 L294.8,117.1" stroke="#dc9670" stroke-width="10"/><path d="M319.5,130.6 Q312.3,129.0 308.7,129.3 Q305.0,129.6 301.5,127.8 Q298.0,126.0 296.4,121.5 L294.8,117.1" stroke="#f5cfb2" stroke-width="7.6"/><path d="M320.7,176.6 Q320.6,187.4 318.1,192.0 Q315.5,196.6 314.7,201.5 Q313.9,206.4 313.5,211.3 Q313.0,216.2 310.2,217.9 Q307.5,219.6 304.7,222.1 L301.9,224.7" stroke="#dc9670" stroke-width="10"/><path d="M320.7,176.6 Q320.6,187.4 318.1,192.0 Q315.5,196.6 314.7,201.5 Q313.9,206.4 313.5,211.3 Q313.0,216.2 310.2,217.9 Q307.5,219.6 304.7,222.1 L301.9,224.7" stroke="#f5cfb2" stroke-width="7.6"/><path d="M290.7,233.8 Q299.6,229.6 304.7,231.2 Q309.7,232.8 314.2,230.0 Q318.6,227.2 319.9,224.1 Q321.1,221.1 322.0,216.6 Q322.9,212.0 320.1,208.4 L317.4,204.7" stroke="#dc9670" stroke-width="10"/><path d="M290.7,233.8 Q299.6,229.6 304.7,231.2 Q309.7,232.8 314.2,230.0 Q318.6,227.2 319.9,224.1 Q321.1,221.1 322.0,216.6 Q322.9,212.0 320.1,208.4 L317.4,204.7" stroke="#f5cfb2" stroke-width="7.6"/><path d="M354.0,210.2 Q350.7,203.0 352.4,199.7 Q354.0,196.4 356.0,193.9 Q358.0,191.5 361.9,189.9 L365.7,188.3" stroke="#dc9670" stroke-width="10"/><path d="M354.0,210.2 Q350.7,203.0 352.4,199.7 Q354.0,196.4 356.0,193.9 Q358.0,191.5 361.9,189.9 L365.7,188.3" stroke="#f5cfb2" stroke-width="7.6"/><path d="M156.8,182.9 Q150.5,186.7 147.6,186.0 Q144.6,185.2 139.1,184.7 L133.6,184.2" stroke="#dc9670" stroke-width="10"/><path d="M156.8,182.9 Q150.5,186.7 147.6,186.0 Q144.6,185.2 139.1,184.7 L133.6,184.2" stroke="#f5cfb2" stroke-width="7.6"/><path d="M219.4,107.8 Q217.7,98.8 213.6,95.7 Q209.4,92.7 206.0,93.8 Q202.5,94.9 199.7,96.4 Q196.8,98.0 193.2,96.1 Q189.5,94.1 186.8,91.8 L184.0,89.4" stroke="#dc9670" stroke-width="10"/><path d="M219.4,107.8 Q217.7,98.8 213.6,95.7 Q209.4,92.7 206.0,93.8 Q202.5,94.9 199.7,96.4 Q196.8,98.0 193.2,96.1 Q189.5,94.1 186.8,91.8 L184.0,89.4" stroke="#f5cfb2" stroke-width="7.6"/><path d="M158.2,198.1 Q158.6,187.2 158.5,181.8 Q158.4,176.4 155.5,173.1 Q152.7,169.9 152.4,166.8 Q152.2,163.8 155.3,161.2 Q158.4,158.5 158.8,153.7 L159.2,148.8" stroke="#fdeadc" stroke-width="2.2" opacity="0.8"/><path d="M252.7,151.3 Q244.6,149.1 242.8,146.5 Q241.0,143.8 236.6,142.4 Q232.1,141.0 229.5,137.2 L226.9,133.3" stroke="#fdeadc" stroke-width="2.2" opacity="0.8"/><path d="M217.9,154.3 Q211.5,159.8 209.8,164.6 Q208.1,169.3 209.9,173.7 Q211.8,178.1 210.0,180.5 Q208.1,182.9 209.4,187.2 Q210.7,191.5 211.7,195.8 L212.7,200.1" stroke="#fdeadc" stroke-width="2.2" opacity="0.8"/><path d="M160.5,162.9 Q162.3,173.2 159.4,175.9 Q156.4,178.6 151.3,176.9 L146.2,175.1" stroke="#fdeadc" stroke-width="2.2" opacity="0.8"/><path d="M178.7,158.3 Q188.1,160.7 191.6,161.4 Q195.2,162.1 196.7,166.2 Q198.2,170.2 197.8,173.2 L197.3,176.3" stroke="#fdeadc" stroke-width="2.2" opacity="0.8"/><path d="M350.8,108.2 Q348.9,99.4 346.2,96.5 Q343.5,93.5 344.9,88.5 Q346.3,83.4 344.6,80.6 L342.9,77.8" stroke="#fdeadc" stroke-width="2.2" opacity="0.8"/><path d="M162.3,220.8 Q162.9,229.3 161.5,232.1 Q160.1,234.9 156.2,235.5 L152.3,236.2" stroke="#fdeadc" stroke-width="2.2" opacity="0.8"/><path d="M240.8,179.2 Q246.9,177.8 250.7,177.7 Q254.5,177.6 258.2,177.7 L262.0,177.8" stroke="#fdeadc" stroke-width="2.2" opacity="0.8"/><path d="M269.6,107.7 Q263.9,101.3 264.3,98.1 Q264.6,94.9 260.8,92.2 Q257.0,89.5 253.6,90.9 Q250.2,92.2 246.2,93.0 Q242.3,93.7 237.6,95.4 L232.9,97.1" stroke="#fdeadc" stroke-width="2.2" opacity="0.8"/><path d="M272.4,188.6 Q265.7,180.4 262.1,177.7 Q258.4,175.0 257.3,169.7 Q256.1,164.4 258.4,162.4 Q260.7,160.5 262.3,157.1 L264.0,153.7" stroke="#fdeadc" stroke-width="2.2" opacity="0.8"/><path d="M158.6,163.5 Q157.3,154.2 154.0,149.9 Q150.7,145.7 147.6,143.9 Q144.4,142.1 143.4,138.9 Q142.4,135.6 142.8,132.1 L143.2,128.7" stroke="#fdeadc" stroke-width="2.2" opacity="0.8"/><path d="M289.9,107.6 Q281.9,109.3 276.7,111.1 Q271.5,112.8 268.8,110.8 L266.1,108.8" stroke="#fdeadc" stroke-width="2.2" opacity="0.8"/><path d="M163.8,159.4 Q154.8,154.6 151.6,152.0 Q148.3,149.4 147.2,144.9 Q146.0,140.4 142.2,138.9 L138.4,137.4" stroke="#fdeadc" stroke-width="2.2" opacity="0.8"/><path d="M204.2,145.2 Q201.4,138.8 196.6,137.4 Q191.7,136.0 187.8,136.1 L184.0,136.2" stroke="#fdeadc" stroke-width="2.2" opacity="0.8"/><path d="M204.0,176.9 Q196.4,178.8 191.4,180.3 Q186.5,181.8 183.7,183.1 Q180.9,184.3 179.0,186.8 L177.1,189.3" stroke="#fdeadc" stroke-width="2.2" opacity="0.8"/><path d="M203.9,187.8 Q200.2,182.1 201.8,178.1 Q203.3,174.0 206.6,172.8 Q209.9,171.6 213.2,174.5 Q216.4,177.5 217.5,182.2 Q218.6,186.9 216.3,190.1 L214.1,193.3" stroke="#fdeadc" stroke-width="2.2" opacity="0.8"/><path d="M208.4,238.8 Q210.6,246.6 210.5,251.5 Q210.4,256.5 207.8,260.3 Q205.3,264.2 205.1,268.3 L205.0,272.4" stroke="#fdeadc" stroke-width="2.2" opacity="0.8"/><path d="M190.4,217.4 Q184.1,224.7 180.0,225.5 Q175.8,226.2 174.2,229.8 Q172.7,233.4 168.8,235.2 Q165.0,237.0 161.5,239.0 Q158.1,241.0 153.7,242.1 L149.3,243.1" stroke="#fdeadc" stroke-width="2.2" opacity="0.8"/><path d="M149.7,206.5 Q157.2,206.4 160.0,204.4 Q162.9,202.3 166.7,199.5 L170.6,196.7" stroke="#fdeadc" stroke-width="2.2" opacity="0.8"/><path d="M174.7,200.1 Q168.8,201.5 166.4,199.1 Q163.9,196.8 160.4,194.6 Q156.9,192.5 153.9,188.8 Q150.8,185.1 148.8,181.5 L146.9,177.9" stroke="#fdeadc" stroke-width="2.2" opacity="0.8"/><path d="M191.0,235.2 Q186.4,243.1 183.0,244.0 Q179.5,245.0 177.7,248.9 Q175.8,252.8 177.4,256.5 L179.0,260.2" stroke="#fdeadc" stroke-width="2.2" opacity="0.8"/><path d="M317.6,175.3 Q310.1,167.5 309.7,162.8 Q309.3,158.1 312.1,155.1 L314.8,152.2" stroke="#fdeadc" stroke-width="2.2" opacity="0.8"/><path d="M313.5,112.2 Q311.4,122.1 314.1,126.1 Q316.8,130.1 320.2,132.2 L323.5,134.3" stroke="#fdeadc" stroke-width="2.2" opacity="0.8"/><path d="M253.8,154.1 Q254.2,163.1 255.1,168.0 Q256.0,172.8 260.1,174.2 Q264.1,175.5 267.4,174.1 Q270.6,172.6 272.8,167.7 Q275.0,162.7 271.9,158.8 L268.9,154.9" stroke="#fdeadc" stroke-width="2.2" opacity="0.8"/><path d="M153.6,196.7 Q159.6,192.6 162.9,194.4 Q166.3,196.3 171.6,197.5 L176.9,198.7" stroke="#fdeadc" stroke-width="2.2" opacity="0.8"/><path d="M276.8,194.9 Q276.0,203.0 274.3,206.3 Q272.7,209.7 274.1,213.4 Q275.4,217.1 278.2,218.4 L280.9,219.6" stroke="#fdeadc" stroke-width="2.2" opacity="0.8"/><path d="M189.1,208.5 Q193.3,204.2 196.0,200.1 Q198.8,195.9 202.9,195.2 L207.0,194.5" stroke="#fdeadc" stroke-width="2.2" opacity="0.8"/><path d="M158.7,151.7 Q164.5,153.7 169.2,153.4 Q173.9,153.2 176.6,151.2 L179.2,149.2" stroke="#fdeadc" stroke-width="2.2" opacity="0.8"/><path d="M300.0,203.5 Q306.0,211.6 306.2,215.1 Q306.3,218.5 302.6,221.1 Q298.9,223.7 294.9,222.6 Q290.9,221.5 286.9,217.9 L283.0,214.4" stroke="#fdeadc" stroke-width="2.2" opacity="0.8"/><path d="M158.7,179.1 Q160.7,184.9 162.9,187.4 Q165.2,189.9 167.2,194.0 L169.1,198.1" stroke="#fdeadc" stroke-width="2.2" opacity="0.8"/><path d="M152.7,229.0 Q152.6,221.0 154.6,217.6 Q156.5,214.2 159.3,209.7 Q162.0,205.2 166.0,201.8 Q170.0,198.4 172.9,195.4 L175.8,192.4" stroke="#fdeadc" stroke-width="2.2" opacity="0.8"/><path d="M281.9,236.9 Q274.6,243.2 273.0,247.8 Q271.4,252.4 270.6,256.6 Q269.9,260.9 271.2,264.3 L272.6,267.7" stroke="#fdeadc" stroke-width="2.2" opacity="0.8"/><path d="M305.8,173.3 Q311.2,165.6 316.3,166.2 Q321.4,166.9 325.9,166.5 Q330.4,166.1 332.8,163.6 L335.3,161.1" stroke="#fdeadc" stroke-width="2.2" opacity="0.8"/><path d="M222.4,112.7 Q224.7,106.6 228.0,102.6 Q231.4,98.5 231.3,94.1 Q231.2,89.6 229.3,85.7 L227.5,81.8" stroke="#fdeadc" stroke-width="2.2" opacity="0.8"/><path d="M318.3,167.6 Q327.6,162.3 330.8,159.1 Q334.1,155.9 334.3,150.9 Q334.6,145.9 333.9,142.7 L333.2,139.5" stroke="#fdeadc" stroke-width="2.2" opacity="0.8"/><path d="M312.1,169.4 Q321.0,165.1 325.0,167.1 Q328.9,169.1 333.0,167.7 Q337.1,166.4 338.8,161.6 Q340.6,156.8 341.6,152.8 Q342.6,148.9 343.2,144.8 L343.8,140.6" stroke="#fdeadc" stroke-width="2.2" opacity="0.8"/><path d="M222.1,210.4 Q227.8,205.2 232.9,206.5 Q238.0,207.7 241.5,206.0 Q245.1,204.3 249.9,205.3 Q254.7,206.2 258.6,205.0 Q262.6,203.9 265.0,206.0 L267.4,208.2" stroke="#fdeadc" stroke-width="2.2" opacity="0.8"/><path d="M251.9,232.8 Q242.4,230.3 238.1,232.8 Q233.8,235.3 229.8,238.9 L225.8,242.6" stroke="#fdeadc" stroke-width="2.2" opacity="0.8"/><path d="M166.2,119.9 Q155.7,118.9 152.8,115.0 Q149.8,111.0 145.0,111.5 L140.1,111.9" stroke="#fdeadc" stroke-width="2.2" opacity="0.8"/><path d="M291.2,227.9 Q287.8,219.1 284.9,216.7 Q281.9,214.3 278.8,214.4 Q275.7,214.4 272.8,210.1 Q270.0,205.7 267.9,201.1 L265.8,196.4" stroke="#fdeadc" stroke-width="2.2" opacity="0.8"/><path d="M309.3,138.9 Q301.9,144.5 300.9,147.8 Q299.9,151.0 298.8,155.5 Q297.7,160.0 294.8,164.6 Q292.0,169.1 292.8,173.4 L293.6,177.6" stroke="#fdeadc" stroke-width="2.2" opacity="0.8"/><path d="M167.3,154.4 Q162.2,150.2 158.5,148.7 Q154.7,147.3 153.9,143.6 L153.1,140.0" stroke="#fdeadc" stroke-width="2.2" opacity="0.8"/><path d="M322.7,134.8 Q316.7,135.6 312.3,135.2 Q307.8,134.8 305.4,132.5 Q302.9,130.2 301.1,126.4 Q299.4,122.7 297.5,118.0 L295.6,113.3" stroke="#fdeadc" stroke-width="2.2" opacity="0.8"/><path d="M222.1,121.8 Q225.2,114.0 227.4,111.7 Q229.5,109.4 231.4,105.0 Q233.2,100.5 233.4,97.1 Q233.5,93.7 235.6,90.1 L237.6,86.5" stroke="#fdeadc" stroke-width="2.2" opacity="0.8"/><path d="M315.0,208.5 Q318.2,201.7 317.3,198.0 Q316.4,194.3 316.5,190.7 Q316.6,187.2 313.5,185.0 Q310.3,182.8 306.1,182.1 Q301.8,181.3 297.3,182.3 L292.8,183.3" stroke="#fdeadc" stroke-width="2.2" opacity="0.8"/><path d="M136.9,107.3 Q142.8,109.0 146.7,110.0 Q150.7,111.1 153.7,112.5 Q156.7,114.0 158.8,116.1 Q161.0,118.2 165.7,117.3 Q170.5,116.4 173.6,117.4 L176.8,118.5" stroke="#fdeadc" stroke-width="2.2" opacity="0.8"/><path d="M249.6,161.9 Q259.1,156.5 260.3,151.4 Q261.5,146.4 263.7,142.8 L265.8,139.2" stroke="#fdeadc" stroke-width="2.2" opacity="0.8"/><path d="M120.2,238.6 Q125.2,247.8 125.5,251.1 Q125.8,254.5 127.3,257.4 Q128.9,260.3 131.1,262.8 Q133.4,265.3 136.7,264.9 Q140.0,264.5 142.9,261.5 L145.7,258.4" stroke="#fdeadc" stroke-width="2.2" opacity="0.8"/><path d="M135.5,154.2 Q135.4,147.3 133.1,142.8 Q130.7,138.3 125.9,136.3 Q121.0,134.4 116.9,136.1 Q112.7,137.7 111.9,142.9 Q111.2,148.0 108.6,150.6 L106.0,153.2" stroke="#fdeadc" stroke-width="2.2" opacity="0.8"/><path d="M342.8,233.8 Q347.0,227.8 346.7,223.2 Q346.4,218.6 343.5,216.5 Q340.6,214.4 337.9,210.8 Q335.2,207.1 337.0,202.1 L338.7,197.2" stroke="#fdeadc" stroke-width="2.2" opacity="0.8"/><path d="M271.1,220.8 Q261.1,225.2 257.3,223.1 Q253.6,221.0 252.4,216.1 Q251.2,211.2 247.3,208.2 L243.3,205.1" stroke="#fdeadc" stroke-width="2.2" opacity="0.8"/><path d="M254.1,219.9 Q248.0,224.8 246.0,227.8 Q244.1,230.8 241.1,235.3 L238.1,239.8" stroke="#fdeadc" stroke-width="2.2" opacity="0.8"/><path d="M264.7,204.8 Q273.2,206.6 277.1,205.9 Q281.1,205.2 285.0,204.6 Q288.8,204.1 293.5,204.5 L298.2,204.9" stroke="#fdeadc" stroke-width="2.2" opacity="0.8"/><path d="M357.7,109.5 Q359.1,98.8 362.6,96.8 Q366.0,94.8 369.9,91.5 Q373.7,88.2 378.5,86.6 Q383.3,84.9 385.7,80.1 Q388.0,75.3 386.7,72.1 L385.3,68.8" stroke="#fdeadc" stroke-width="2.2" opacity="0.8"/><path d="M149.9,178.7 Q148.6,185.3 145.6,186.7 Q142.6,188.1 137.8,190.4 Q133.0,192.7 132.0,197.1 L131.0,201.5" stroke="#fdeadc" stroke-width="2.2" opacity="0.8"/><path d="M246.5,136.0 Q254.3,133.4 258.8,131.7 Q263.3,130.1 267.3,128.4 L271.4,126.7" stroke="#fdeadc" stroke-width="2.2" opacity="0.8"/><path d="M302.1,132.4 Q294.9,134.8 291.2,136.9 Q287.5,139.1 284.6,140.4 L281.6,141.8" stroke="#fdeadc" stroke-width="2.2" opacity="0.8"/><path d="M270.6,151.4 Q268.1,157.2 269.8,161.1 Q271.6,165.1 276.9,166.4 Q282.2,167.8 285.7,167.9 Q289.3,167.9 292.0,172.1 Q294.7,176.2 299.3,178.2 L303.9,180.3" stroke="#fdeadc" stroke-width="2.2" opacity="0.8"/><path d="M217.4,231.2 Q223.4,233.1 227.6,236.3 Q231.9,239.5 237.3,238.7 Q242.7,237.8 246.6,235.0 L250.6,232.2" stroke="#fdeadc" stroke-width="2.2" opacity="0.8"/><path d="M352.9,108.2 Q359.5,103.4 363.7,99.9 Q367.8,96.4 368.5,91.6 L369.2,86.7" stroke="#fdeadc" stroke-width="2.2" opacity="0.8"/><path d="M144.9,112.0 Q153.8,110.4 155.5,107.8 Q157.3,105.1 160.8,101.1 Q164.2,97.0 165.2,92.0 Q166.2,87.1 171.3,85.2 L176.3,83.3" stroke="#fdeadc" stroke-width="2.2" opacity="0.8"/><path d="M266.1,107.3 Q260.5,100.3 259.5,97.1 Q258.6,93.9 261.1,90.7 L263.6,87.5" stroke="#fdeadc" stroke-width="2.2" opacity="0.8"/><path d="M343.6,153.7 Q344.8,161.5 348.1,163.8 Q351.4,166.1 352.3,169.9 Q353.1,173.6 350.4,176.4 Q347.6,179.2 344.3,182.9 Q341.0,186.6 335.9,186.2 L330.8,185.9" stroke="#fdeadc" stroke-width="2.2" opacity="0.8"/><path d="M174.4,205.4 Q168.1,202.1 166.6,199.1 Q165.1,196.0 164.4,192.0 L163.8,188.0" stroke="#fdeadc" stroke-width="2.2" opacity="0.8"/><path d="M285.8,225.1 Q285.3,218.6 289.3,215.6 Q293.4,212.5 296.7,213.5 L300.0,214.4" stroke="#fdeadc" stroke-width="2.2" opacity="0.8"/><path d="M325.6,182.9 Q335.1,183.8 337.8,187.3 Q340.6,190.8 339.2,194.9 Q337.9,199.1 341.1,202.4 Q344.3,205.8 344.4,211.1 L344.6,216.4" stroke="#fdeadc" stroke-width="2.2" opacity="0.8"/><path d="M182.7,200.9 Q172.2,197.9 168.7,194.4 Q165.3,191.0 162.0,187.4 Q158.7,183.9 158.1,178.6 L157.6,173.4" stroke="#fdeadc" stroke-width="2.2" opacity="0.8"/><path d="M158.9,204.7 Q163.5,210.7 168.9,210.7 Q174.4,210.7 178.9,210.9 Q183.4,211.1 188.5,211.5 L193.7,212.0" stroke="#fdeadc" stroke-width="2.2" opacity="0.8"/><path d="M152.7,178.7 Q156.6,184.4 158.3,187.3 Q160.0,190.2 162.5,192.0 Q165.0,193.7 169.2,196.3 Q173.4,198.9 177.0,202.7 Q180.6,206.4 185.4,205.8 L190.3,205.1" stroke="#fdeadc" stroke-width="2.2" opacity="0.8"/><path d="M264.5,171.7 Q255.1,167.4 254.2,163.2 Q253.3,159.0 251.1,155.4 Q249.0,151.7 246.0,150.0 Q242.9,148.4 240.6,145.0 Q238.4,141.6 234.4,141.9 L230.4,142.2" stroke="#fdeadc" stroke-width="2.2" opacity="0.8"/><path d="M151.0,120.0 Q159.7,117.2 164.7,118.1 Q169.8,119.1 174.7,119.0 L179.6,118.9" stroke="#fdeadc" stroke-width="2.2" opacity="0.8"/><path d="M204.2,208.0 Q197.8,209.5 195.5,211.6 Q193.1,213.7 190.6,216.1 L188.1,218.6" stroke="#fdeadc" stroke-width="2.2" opacity="0.8"/><path d="M319.5,130.6 Q312.3,129.0 308.7,129.3 Q305.0,129.6 301.5,127.8 Q298.0,126.0 296.4,121.5 L294.8,117.1" stroke="#fdeadc" stroke-width="2.2" opacity="0.8"/><path d="M290.7,233.8 Q299.6,229.6 304.7,231.2 Q309.7,232.8 314.2,230.0 Q318.6,227.2 319.9,224.1 Q321.1,221.1 322.0,216.6 Q322.9,212.0 320.1,208.4 L317.4,204.7" stroke="#fdeadc" stroke-width="2.2" opacity="0.8"/><path d="M156.8,182.9 Q150.5,186.7 147.6,186.0 Q144.6,185.2 139.1,184.7 L133.6,184.2" stroke="#fdeadc" stroke-width="2.2" opacity="0.8"/></g></g>
<g fill="none" stroke="#c47a55" stroke-width="1.0" stroke-linecap="round" stroke-linejoin="round" opacity="0.55" clip-path="url(#brainClip)"><path d="M350.0,123.9 Q356.0,121.3 359.8,120.7 Q363.6,120.1 366.7,122.0 Q369.7,123.9 370.4,127.6 Q371.2,131.3 371.2,136.7 Q371.3,142.0 369.6,147.0 Q367.9,152.1 365.8,154.5"/><path d="M331.5,184.6 Q332.8,191.0 333.5,195.8 Q334.1,200.6 330.5,204.6 Q326.9,208.6 327.2,212.4 Q327.4,216.2 328.6,219.4"/><path d="M214.4,226.6 Q215.5,216.5 216.9,213.4 Q218.3,210.2 216.6,206.2 Q215.0,202.2 210.0,200.5 Q204.9,198.7 200.9,197.3 Q196.9,195.8 192.3,195.0 Q187.7,194.2 185.5,191.1 Q183.2,188.1 179.8,185.2"/><path d="M191.4,185.4 Q183.6,178.4 180.9,176.5 Q178.3,174.7 175.4,173.1 Q172.6,171.6 170.9,168.9 Q169.2,166.3 169.4,162.8 Q169.6,159.3 168.3,156.5 Q167.1,153.8 165.5,150.7"/><path d="M127.2,155.8 Q129.0,163.8 131.8,165.6 Q134.6,167.4 136.9,171.7 Q139.2,175.9 139.9,179.1 Q140.6,182.3 142.9,184.7 Q145.2,187.0 149.6,187.8"/><path d="M130.4,121.2 Q129.1,110.3 130.5,106.4 Q131.8,102.4 134.9,99.0 Q138.0,95.6 140.2,91.1 Q142.5,86.7 146.4,84.4"/><path d="M346.3,107.5 Q339.7,109.4 335.6,109.2 Q331.5,108.9 328.6,110.0 Q325.7,111.1 322.3,109.3"/><path d="M148.3,134.2 Q152.2,140.5 156.1,141.8 Q160.1,143.0 163.9,142.2 Q167.7,141.3 172.9,142.3"/><path d="M320.2,110.2 Q320.5,117.2 320.7,121.1 Q320.9,125.1 319.1,129.5 Q317.2,133.9 316.0,137.4 Q314.9,140.8 315.4,144.4 Q316.0,148.0 319.7,150.8 Q323.5,153.6 328.7,153.7 Q334.0,153.7 337.0,154.6"/><path d="M239.7,186.5 Q245.7,190.8 247.3,194.0 Q248.8,197.2 248.4,201.3 Q248.0,205.4 246.5,209.2 Q244.9,213.0 243.9,216.7 Q242.9,220.5 243.8,225.8 Q244.7,231.2 243.9,235.9"/><path d="M266.0,119.5 Q271.0,113.5 275.2,112.4 Q279.3,111.4 281.9,108.7 Q284.4,106.0 285.2,101.0 Q285.9,96.0 286.7,91.3 Q287.5,86.6 291.2,82.6 Q294.8,78.6 295.5,74.6 Q296.3,70.7 300.0,67.4"/><path d="M212.8,193.5 Q222.2,198.4 225.3,199.0 Q228.4,199.6 233.4,200.8 Q238.4,202.0 242.1,200.7 Q245.8,199.5 248.4,201.0"/><path d="M197.0,208.4 Q202.1,217.1 201.9,220.4 Q201.6,223.6 203.9,226.2 Q206.2,228.8 209.7,232.9 Q213.1,236.9 213.0,241.0 Q212.9,245.0 211.7,249.7 Q210.5,254.4 210.8,259.8 Q211.1,265.2 207.9,268.8"/><path d="M336.3,213.1 Q334.6,207.3 332.4,205.0 Q330.1,202.6 325.5,200.1 Q320.8,197.7 319.9,194.6 Q318.9,191.5 321.0,186.8 Q323.1,182.2 326.2,181.0"/><path d="M188.3,158.2 Q195.8,162.6 197.7,167.7 Q199.6,172.7 201.3,175.3 Q203.0,177.9 202.1,182.1 Q201.1,186.2 202.0,189.4 Q203.0,192.6 205.5,195.4 Q208.1,198.1 211.2,198.6"/><path d="M358.7,215.7 Q365.0,218.4 369.6,219.2 Q374.2,220.0 377.3,218.9 Q380.4,217.8 385.7,217.5 Q390.9,217.2 395.2,216.5 Q399.5,215.8 403.3,214.3 Q407.2,212.8 411.2,214.0"/><path d="M170.1,197.8 Q174.4,190.8 177.5,189.0 Q180.5,187.3 184.4,184.8 Q188.3,182.3 191.1,181.3"/><path d="M340.9,184.0 Q337.6,190.2 333.5,192.7 Q329.4,195.3 325.6,198.2 Q321.8,201.1 317.1,201.7 Q312.5,202.4 307.7,203.6"/><path d="M222.1,210.0 Q228.0,216.3 229.8,220.3 Q231.7,224.3 232.6,227.8 Q233.4,231.3 234.0,235.1 Q234.6,239.0 233.1,242.6"/><path d="M355.1,183.4 Q358.9,193.5 362.7,195.8 Q366.4,198.1 370.3,200.5 Q374.2,203.0 379.2,202.3 Q384.2,201.6 389.4,200.9 Q394.7,200.2 397.8,199.2 Q400.9,198.2 405.5,196.7"/><path d="M123.0,127.4 Q131.6,121.0 134.4,119.0 Q137.1,117.0 138.0,113.1 Q138.8,109.3 139.5,105.9 Q140.1,102.5 137.8,98.9 Q135.5,95.4 132.0,93.2"/><path d="M228.2,199.1 Q223.9,190.4 222.9,186.0 Q222.0,181.6 220.6,178.8 Q219.3,176.1 217.2,171.1 Q215.1,166.2 212.2,161.6"/><path d="M348.6,208.5 Q357.3,210.0 360.7,211.3 Q364.2,212.7 366.9,215.3 Q369.6,218.0 372.3,219.8 Q375.0,221.7 378.7,220.7 Q382.5,219.7 384.6,216.2 Q386.8,212.8 389.5,211.4"/><path d="M278.0,162.3 Q270.3,164.2 266.6,166.8 Q262.9,169.4 259.5,169.7 Q256.1,170.0 252.0,172.2"/><path d="M129.9,215.3 Q127.7,221.7 129.4,224.6 Q131.0,227.4 135.1,230.2 Q139.1,232.9 141.0,237.1 Q143.0,241.2 146.3,244.5"/><path d="M295.8,154.6 Q297.2,161.2 298.3,164.3 Q299.5,167.5 298.4,172.3 Q297.4,177.2 294.9,180.2 Q292.5,183.3 287.5,184.0 Q282.6,184.8 279.1,182.4 Q275.7,180.1 272.8,177.0"/><path d="M165.5,133.6 Q170.8,124.9 170.2,121.1 Q169.7,117.2 167.0,114.9 Q164.3,112.5 160.7,110.7"/><path d="M156.0,193.8 Q156.7,201.9 155.2,205.5 Q153.7,209.0 153.8,212.3 Q154.0,215.6 155.4,218.9 Q156.8,222.2 156.8,226.1 Q156.7,230.0 155.3,233.4 Q154.0,236.8 155.4,240.3 Q156.8,243.8 159.7,248.2"/><path d="M167.8,133.6 Q173.9,135.6 178.1,138.7 Q182.4,141.8 186.0,145.4 Q189.6,149.0 192.7,150.3 Q195.7,151.6 200.7,149.9 Q205.7,148.2 208.7,148.6"/><path d="M272.2,188.2 Q272.4,181.5 272.6,177.9 Q272.9,174.3 272.1,171.3 Q271.2,168.3 268.8,166.3 Q266.4,164.3 263.8,161.8 Q261.2,159.3 258.5,156.1 Q255.7,152.8 252.7,151.6"/><path d="M263.0,196.3 Q254.4,192.6 249.6,194.8 Q244.7,197.1 241.0,198.6 Q237.4,200.2 234.0,202.8 Q230.6,205.4 227.5,207.8 Q224.4,210.2 219.9,209.5 Q215.5,208.9 211.9,209.2 Q208.4,209.6 205.1,209.4"/><path d="M358.0,112.5 Q354.8,106.0 352.6,103.5 Q350.5,101.0 346.0,98.8 Q341.6,96.7 340.7,93.1 Q339.8,89.6 335.6,87.0 Q331.5,84.5 330.5,79.6 Q329.6,74.7 328.0,70.2"/><path d="M302.5,205.4 Q296.1,202.3 293.1,201.2 Q290.0,200.1 285.0,199.6 Q280.0,199.0 275.7,198.7 Q271.4,198.3 268.7,196.5"/><path d="M204.9,170.3 Q197.6,163.5 194.4,160.0 Q191.2,156.5 187.8,152.2 Q184.4,147.9 182.3,144.0 Q180.1,140.1 177.5,136.9 Q175.0,133.8 174.2,129.9"/><path d="M336.9,203.3 Q342.9,194.2 346.1,192.1 Q349.4,190.0 354.5,189.4 Q359.6,188.8 363.1,191.2 Q366.5,193.5 367.4,198.4 Q368.2,203.3 371.3,205.1 Q374.5,206.9 377.9,207.8 Q381.3,208.6 386.8,208.8"/><path d="M205.7,112.0 Q209.6,117.1 210.9,122.4 Q212.2,127.6 211.3,131.8 Q210.4,136.0 212.5,140.5 Q214.7,145.0 217.6,146.3 Q220.4,147.7 225.0,150.1"/><path d="M194.6,221.6 Q186.2,227.6 181.3,226.4 Q176.4,225.1 172.3,226.4 Q168.2,227.7 163.5,228.7"/><path d="M175.1,182.9 Q176.6,190.4 180.1,192.6 Q183.5,194.7 187.0,196.0 Q190.5,197.2 194.4,199.8 Q198.4,202.3 203.6,202.9"/><path d="M131.7,143.9 Q139.8,150.8 141.5,153.6 Q143.3,156.4 146.2,159.6 Q149.1,162.8 150.3,167.0 Q151.6,171.1 155.1,173.3"/><path d="M277.2,211.0 Q272.1,215.5 269.0,215.6 Q266.0,215.7 260.7,215.1 Q255.4,214.6 251.5,212.3 Q247.7,210.1 242.8,209.6"/><path d="M213.8,233.2 Q205.3,238.7 201.5,240.3 Q197.8,242.0 192.9,243.6 Q188.1,245.1 185.3,247.0"/><path d="M335.7,190.2 Q335.9,200.6 335.7,205.8 Q335.5,211.0 334.1,213.9 Q332.7,216.8 328.5,219.4 Q324.4,222.0 320.8,223.2 Q317.2,224.4 312.8,225.6 Q308.4,226.9 306.4,229.7"/><path d="M264.7,193.3 Q261.2,185.6 256.0,183.8 Q250.9,182.1 247.1,183.6 Q243.3,185.1 239.3,185.8 Q235.3,186.5 232.2,189.4 Q229.1,192.4 227.8,196.4 Q226.5,200.4 224.1,203.3 Q221.7,206.2 219.1,209.9"/><path d="M247.6,213.1 Q250.0,205.0 248.2,200.7 Q246.3,196.3 243.5,192.1 Q240.6,187.8 237.7,183.7 Q234.8,179.6 230.3,179.2 Q225.8,178.7 220.7,178.9 Q215.7,179.2 213.3,181.4"/><path d="M285.0,149.0 Q279.9,157.9 278.2,161.9 Q276.5,165.9 276.9,169.7 Q277.4,173.5 281.1,176.4 Q284.9,179.4 286.9,182.4 Q288.8,185.4 288.1,188.8 Q287.4,192.2 284.6,194.9"/><path d="M160.2,202.6 Q166.6,209.2 169.6,212.3 Q172.6,215.5 176.3,215.7 Q179.9,216.0 182.8,218.6 Q185.7,221.2 189.1,224.0"/><path d="M187.8,160.9 Q182.4,156.8 178.5,153.8 Q174.6,150.8 173.8,146.6 Q172.9,142.3 173.1,137.7 Q173.3,133.1 175.0,128.2"/><path d="M356.5,238.8 Q355.8,247.3 358.2,251.9 Q360.6,256.5 360.6,261.8 Q360.6,267.2 360.5,270.3 Q360.5,273.4 358.1,275.8 Q355.8,278.1 353.1,280.3 Q350.4,282.4 350.3,287.7"/><path d="M124.9,108.6 Q117.6,102.6 113.5,99.6 Q109.3,96.6 106.9,92.1 Q104.4,87.6 99.9,85.4"/><path d="M305.9,144.4 Q313.2,151.7 315.6,154.4 Q318.0,157.1 317.9,161.5 Q317.7,165.9 316.3,170.3"/><path d="M340.3,238.0 Q337.3,231.0 335.9,228.0 Q334.5,225.1 333.3,222.1 Q332.1,219.1 331.3,216.2 Q330.6,213.2 327.2,211.5"/><path d="M121.0,141.0 Q121.1,131.9 119.5,128.1 Q117.8,124.4 116.9,119.0 Q115.9,113.6 115.7,108.1"/><path d="M127.9,107.9 Q123.9,101.9 122.0,99.4 Q120.0,97.0 116.8,96.1 Q113.6,95.2 111.3,92.2 Q109.0,89.2 110.1,84.1 Q111.2,78.9 109.3,74.2 Q107.3,69.4 109.2,65.8 Q111.2,62.2 113.2,58.0"/><path d="M237.7,140.5 Q230.7,132.5 227.0,132.4 Q223.3,132.3 220.5,133.6 Q217.7,135.0 216.7,139.1 Q215.6,143.3 213.5,147.9"/><path d="M236.4,155.8 Q238.6,165.0 236.4,167.9 Q234.2,170.8 230.7,172.9 Q227.1,175.0 223.2,173.9 Q219.3,172.7 215.5,169.6"/><path d="M351.3,208.3 Q344.4,210.4 339.6,209.8 Q334.9,209.2 332.0,210.7 Q329.1,212.3 324.9,214.0 Q320.7,215.7 317.2,218.5 Q313.7,221.4 312.6,225.7"/><path d="M248.3,217.2 Q243.1,214.0 238.0,212.7 Q232.9,211.3 228.5,212.8 Q224.0,214.4 222.5,217.2"/><path d="M138.6,211.9 Q134.1,205.9 131.8,203.2 Q129.5,200.4 125.1,198.9 Q120.8,197.4 116.0,198.8 Q111.2,200.2 108.3,201.8"/><path d="M308.9,107.9 Q314.1,115.8 316.6,120.6 Q319.1,125.4 322.8,128.9 Q326.5,132.4 326.3,136.7 Q326.0,140.9 328.6,143.8 Q331.1,146.8 331.5,149.7"/><path d="M272.0,175.3 Q264.9,169.4 261.2,165.4 Q257.5,161.3 254.8,159.3 Q252.1,157.3 251.8,152.7 Q251.5,148.2 249.2,146.2 Q246.9,144.3 245.4,140.6"/></g>
<path d="M302,192 C275,186 245,183 215,187 C190,191 168,198 146,206" fill="none" stroke="#cf8560" stroke-width="2" opacity="0.8" clip-path="url(#brainClip)"/>
<path d="M136,167 C140,150 150,140 165,132 C180,122 195,119 205,119 C225,116 245,117 262,118 C280,119 295,120 307,123 C325,130 338,140 345,152 C350,160 353,166 352,171 C350,180 346,186 341,190 C330,195 315,196 299,197 C300,203 300,206 299,209 C296,216 292,220 288,224 C275,230 260,233 242,233 C225,233 205,232 186,231 C170,229 156,225 148,220 C140,212 134,203 133,193 C132,185 133,175 136,167 Z" fill="none" stroke="#d99a78" stroke-width="1.2"/>
<path d="M306,205 C305,218 310,232 320,239 C328,243 338,241 343,234 C346,226 345,214 341,204" fill="#f3ead6" stroke="#8f5e22" stroke-width="1.3"/>
<path d="M308,212 C307,203 314,193 322,191.5 C330,191 337,192 339,196 C341,200 340,207 336,212 C332,217 328,221 325,224 C320,227 314,227 311,223 C309,220 308,216 308,212 Z" fill="#5a1a0a"/>
<path d="M334,217 C340,221 343,231 337,236" fill="none" stroke="#8f5e22" stroke-width="1.6"/>
<path d="M361,217 C364,216 367,218 367,222 C367,230 367,238 366,244 C365,250 363,255 361,258 C359,252 360,246 359,240 C358,232 359,224 361,217 Z" fill="#5a1a0a"/><path d="M357,214 C354,226 354,244 358,258 C362,262 368,262 372,262" fill="none" stroke="#9a6a30" stroke-width="2" opacity="0.7" filter="url(#blur1)"/><ellipse cx="362" cy="203" rx="1.6" ry="3.5" fill="#5a1a0a"/>
<ellipse cx="213" cy="256" rx="3" ry="4" fill="#5a3510"/><ellipse cx="231" cy="257" rx="5" ry="3" fill="#6a4518"/><ellipse cx="243" cy="253" rx="5" ry="3" fill="#6a4518" opacity="0.7"/>
<ellipse cx="346" cy="251" rx="2" ry="2" fill="#4a2a10"/>
<rect x="305.0" y="287" width="10" height="11" rx="4" fill="#e9f1f7" stroke="#94b0c4" stroke-width="1"/>
<rect x="315.0" y="287" width="10" height="12" rx="4" fill="#e9f1f7" stroke="#94b0c4" stroke-width="1"/>
<rect x="325.0" y="286" width="10" height="12" rx="4" fill="#e9f1f7" stroke="#94b0c4" stroke-width="1"/>
<rect x="335.0" y="285" width="10" height="13" rx="4" fill="#e9f1f7" stroke="#94b0c4" stroke-width="1"/>
<rect x="345.0" y="284" width="10" height="14" rx="4" fill="#e9f1f7" stroke="#94b0c4" stroke-width="1"/>
<rect x="355.0" y="283" width="10" height="14" rx="4" fill="#e9f1f7" stroke="#94b0c4" stroke-width="1"/>
<rect x="365.0" y="281" width="10" height="15" rx="4" fill="#e9f1f7" stroke="#94b0c4" stroke-width="1"/>
<rect x="374.5" y="279" width="9" height="15" rx="4" fill="#e9f1f7" stroke="#94b0c4" stroke-width="1"/>
<rect x="382.0" y="277" width="8" height="15" rx="4" fill="#e9f1f7" stroke="#94b0c4" stroke-width="1"/>
</g>
<g id="arrows">
<defs><linearGradient id="agL" x1="0" y1="0" x2="1" y2="0"><stop offset="0" stop-color="#b4c68a"/><stop offset="1" stop-color="#dfe6c6"/></linearGradient><linearGradient id="agE" x1="0" y1="1" x2="0.3" y2="0"><stop offset="0" stop-color="#e4e9cd"/><stop offset="1" stop-color="#b0c386"/></linearGradient><linearGradient id="agD" x1="0" y1="0" x2="0.4" y2="1"><stop offset="0" stop-color="#b2c488"/><stop offset="1" stop-color="#dfe6c8"/></linearGradient></defs>
<path d="M128,409 C120,382 116,346 119,316 C120,302 121,294 122,290 L116,287 L140,272 L158,302 L146,296 C139,312 134,332 131,357 C129,377 128,394 128,409 Z" fill="#d4561f"/>
<path d="M124,405 C114,380 110,345 113,315 C114,300 115,292 116,288 L111,285 L137,270 L152,296 L141,293 C133,310 127,330 124,355 C123,375 123,392 124,405 Z" fill="url(#agL)"/>
<path d="M432,418 C458,406 498,392 535,371 L527,360 L561,368 L553,396 L547,392 C527,404 487,416 438,421 Z" fill="#d4561f"/>
<path d="M434,421 C460,410 500,396 538,375 L529,364 L564,372 L556,400 L550,396 C530,408 490,420 441,425 Z" fill="url(#agE)"/>
<path d="M409,476 C428,473 458,488 489,512 C498,519 508,525 516,530 L523,524 L523,554 L486,555 L496,546 C488,536 476,522 467,514 C455,503 442,494 432,487 C424,481 416,477 409,476 Z" fill="#d4561f"/>
<path d="M411,473 C430,470 460,485 491,509 C500,516 510,522 518,527 L526,521 L526,551 L490,552 L500,543 C492,533 480,520 471,512 C459,501 446,492 436,485 C428,479 420,475 411,473 Z" fill="url(#agD)"/>
</g>
</svg>
<div class="title">Sinusitis complications</div>
<div class="sq"></div>

<div class="box" style="left:429px;top:138px;width:85px;height:49px"></div>
<div class="t" style="left:429px;top:148px;width:85px;text-align:center">Orbital-<br>ocular</div>
<div class="t" style="left:526px;top:137.5px">Orbital cellulitis<br>Orbital abscesses<br>Retrobulbar neuritis</div>

<div class="box" style="left:158px;top:292px;width:143px;height:41px"></div>
<div class="t" style="left:158px;top:296px;width:143px;text-align:center">Craneoencephalic<br>complications</div>
<div class="t" style="left:161px;top:339px">Osteomyelitis<br>Meningitis</div>

<div class="box" style="left:110px;top:819px;width:134px;height:48px"></div>
<div class="t" style="left:110px;top:826px;width:134px;text-align:center">Due to<br>pus drainage</div>
<div class="t" style="left:255px;top:817px">Pharyngitis<br>Bronchopulmonary<br>infections</div>
</body></html>
